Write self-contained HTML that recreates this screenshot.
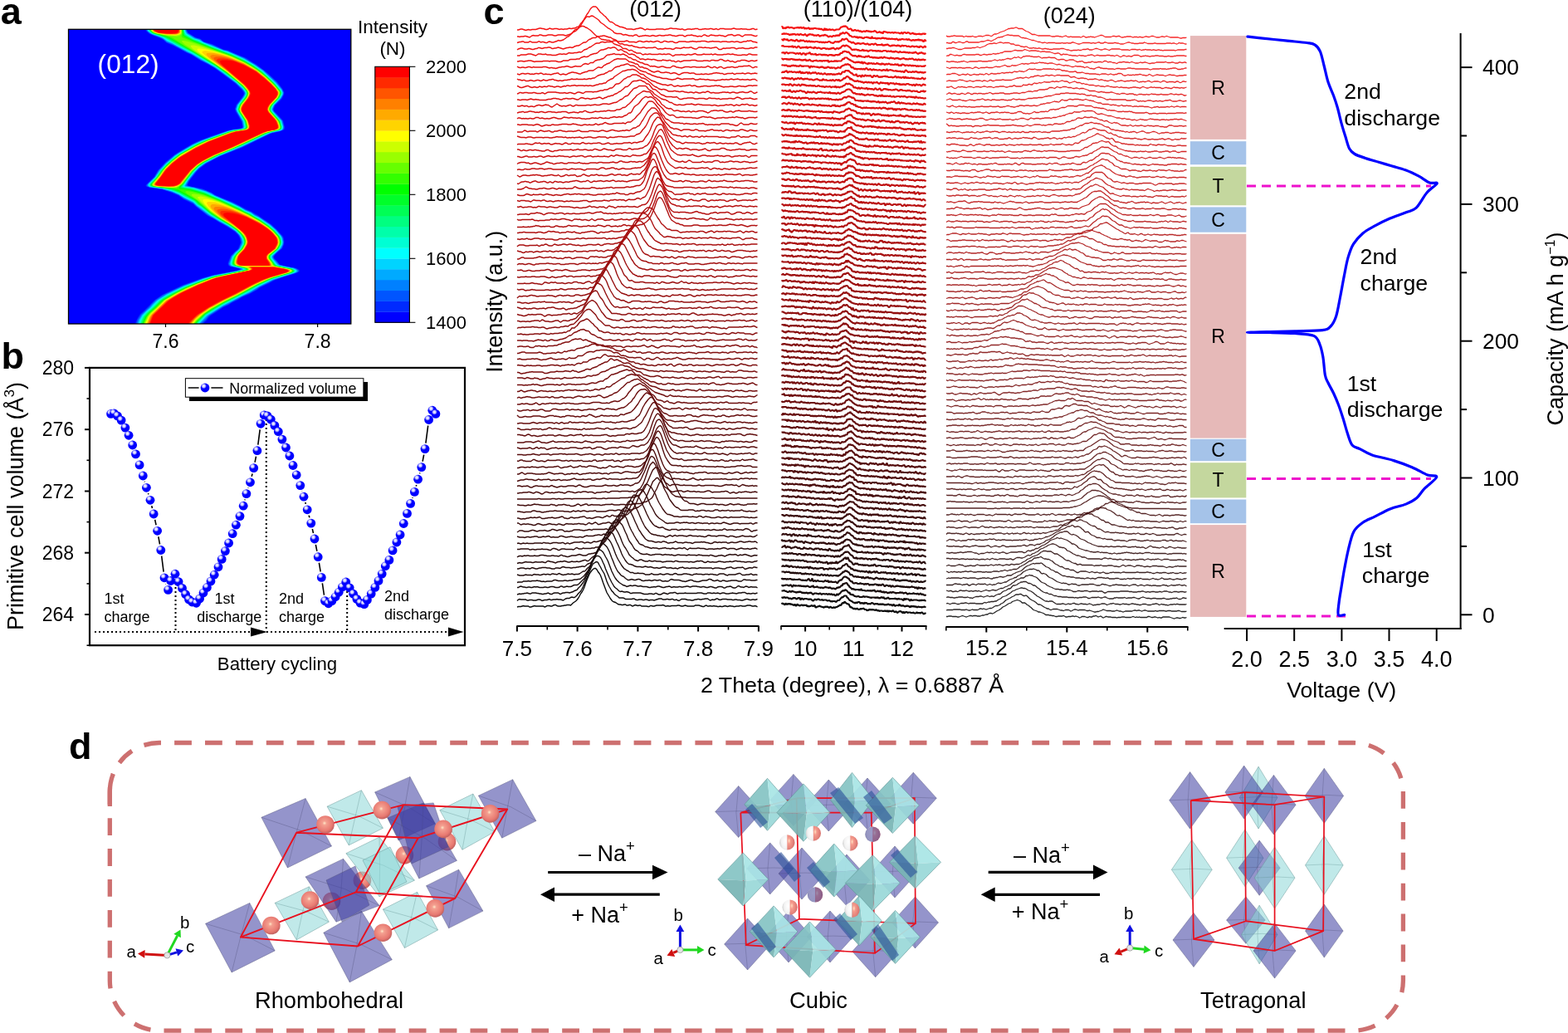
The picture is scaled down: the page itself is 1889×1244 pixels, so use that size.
<!DOCTYPE html>
<html><head><meta charset="utf-8"><title>Figure</title><style>html,body{margin:0;padding:0;background:#fff;overflow:hidden}svg{display:block}.wf path{vector-effect:non-scaling-stroke}</style></head><body>
<svg width="1889" height="1244" viewBox="0 0 1889 1244" font-family="'Liberation Sans', Arial, Helvetica, sans-serif">
<rect x="82.5" y="35.3" width="340.3" height="354.7" fill="#0000ff"/>
<clipPath id="hmclip"><rect x="82.5" y="35.3" width="340.3" height="354.7"/></clipPath>
<g clip-path="url(#hmclip)">
<path fill="#002aff" d="M244 391l-82 0 4-8.5 2.5-4 4-3.5 14-14 9-6 24-11.5 24-8.5 13.5-4 27.5-5 4.5-1.5 0-0.5-1-0.5-11-2.5-2-1.5-0.5-2 0.5-2 3-7.5 5-5 3-2.5 1-1.5 3-7-0.5-2.5-1-3.5-2.5-4-4-3.5-11-7-7.5-4-4.5-3-9.5-5-13.5-10.5-3-3-12-6-6-4.5-8-3.5-11-3.5-17-3-3-1-0.5-1.5 10-10 5-8 9-10 11-9 14-8.5 7-4 7-3.5 15.5-6 21-7 13.5-2 3-1 0.5-1.5-1-6-7.5-12.5-0.5-3 1.5-5 6.5-8 2.5-4 0-2-2-3.5-7.5-7.5-25.5-19-8-4.5-9-4.5-11-7-6-2.5-7-4-9-4.5-8-3.5-4-3.5-2.5-1.5-8-3-6.5-3-3.5-3-1.5-3 50.5 0 0.5 2.5 1.5 2.5 8.5 5.5 6.5 2 2.5 2.5 2 1 9 2.5 14 6.5 5 1 9 4.5 12.5 4.5 2.5 1.5 5 4 5 2.5 15 11.5 10.5 9.5 6 8 2.5 5-0.5 2.5-2 4.5-2.5 3-6 5.5-2 4.5 1 2.5 10.5 11 2 8 0 2-1 1.5-3.5 1.5-9.5 2-3 1-33.5 16.5-27 10.5-17 9-8.5 6.5-3.5 3.5-8.5 11-2 4.5 1 1 1 0.5 16.5 3.5 10.5 4.5 4.5 3 15 6.5 5.5 1.5 8.5 4.5 7.5 4 6.5 3 8 4.5 16.5 11.5 6 5.5 8 8.5 1 2.5 0.5 4.5-0.5 3-2 4.5-2 2-5.5 4.5-2 2.5-0.5 2 1 1.5 3.5 3.5 2 3 1.5 1 19 4 3.5 2 0.5 1.5-2 1.5-5 2-13.5 4-9.5 3.5-6.5 3.5-11.5 5.5-4 3-9 5-8.5 3.5-4.5 3-7.5 3.5-4.5 3-6 2.5-8.5 6-6.5 4-2.5 2.5-2.5 3.5-3.5 3-1.5 2z"/>
<path fill="#0055ff" d="M242.5 391l-79 0 2-6 4-6 10-9.5 3-3.5 4.5-4.5 8.5-6 25.5-12 23.5-8.5 12.5-3.5 27-5 6-2 0-0.5-0.5-0.5-12-3-1.5-1-1-2 3.5-9 4.5-5 4-3 1-1.5 2.5-7-1-5.5-2.5-4-4-4-9.5-6-10-5.5-4.5-3-8.5-4.5-14-11-3.5-3.5-11.5-5.5-6.5-4.5-8.5-3.5-11-3.5-15.5-2.5-3-1-0.5-1.5 1.5-2 8-7.5 4.5-8 9-9.5 11-9.5 9.5-6 13-7.5 8-3.5 13-5 20.5-7 6.5-1.5 9-1 2-1 0.5-1.5-1-6-7-12.5-1-3 2-5 6-8 2.5-4 0.5-2-1-2-2-2.5-7.5-7.5-25-18-8.5-5-9-4.5-11-7-5.5-2.5-17-9-7.5-3-3-3-2.5-1.5-3-1.5-7-2.5-4.5-2-3.5-3-1.5-3 48.5 0 1 3 1.5 2.5 9 5.5 6 1.5 3 3 2 1 9 2.5 13.5 6.5 5.5 1 20 8.5 13.5 8 9 6.5 6 5 10.5 10 6.5 8 2 4.5-0.5 2.5-2.5 4.5-8 8-1 2.5-1 2.5 1 2.5 9 9.5 1.5 2 2 7.5-0.5 2-1 1.5-3.5 1.5-11 2.5-10 4.5-24.5 12-27 11-17.5 9-8 6-3.5 4-8.5 11-2.5 5 1.5 1 16.5 3.5 5.5 2 6.5 3 4 2.5 20.5 8.5 9 4.5 7.5 4.5 7 3 4 2.5 4 2 15 10 6.5 6 7 8 1.5 2.5 1 5-0.5 3-2 4.5-7.5 6.5-2 2.5-0.5 1.5 0.5 2 4 4 3 3.5 5 1.5 14 2.5 3.5 2 0.5 1.5-1.5 1.5-4.5 1.5-13 4-11.5 4-5.5 3-11.5 5.5-3.5 3-7.5 4-10 4.5-5 3-7 3.5-5 3-5.5 2.5-16.5 10.5-2 2-2 3-5 4.5-1 1.5z"/>
<path fill="#0080ff" d="M241.5 391l-77 0 2-5.5 4-6.5 9.5-9 3.5-4 4.5-4.5 7-4.5 5-3 21-10 23.5-8.5 12-3.5 28.5-5.5 6-2 0-1-2-0.5-11-2.5-1.5-1.5-0.5-1.5 3-9 4.5-5 3.5-3 1.5-1.5 2.5-6.5 0-2-1-3.5-2-4-4.5-4.5-9-6-10.5-6-13-7.5-14-10.5-4.5-4.5-10.5-5-7-4.5-8-3.5-12.5-3.5-14-2-2.5-1-1-1.5 1.5-2 8-7.5 5-8.5 8-8.5 11-9 4-3 17.5-10.5 10-4.5 32-11.5 6-1.5 10-1.5 3-1 0-1.5-1-6.5-7-12-1-2.5 2-5.5 6.5-8.5 2-3.5 0.5-2-1-2-2.5-3-7.5-7-16.5-12.5-8.5-6-8-5-9-4.5-11.5-7-5-2-17.5-9.5-7-3-3.5-3-2.5-1.5-10-4-4-1.5-3.5-3-1.5-3 47.5 0 1 3 1.5 2.5 9 5.5 6 2 4.5 3.5 9.5 3 14.5 6.5 5 1 19.5 8.5 13.5 8 9.5 6.5 16 15 6.5 8 2 4-0.5 2.5-2.5 4.5-8 8-2 5 0.5 1.5 0.5 1.5 10.5 11 2 7.5-0.5 2-1 1-3 1.5-12 3-34 16.5-27.5 11-16 8.5-8.5 6-4 4.5-8.5 10.5-3 6 1.5 0.5 9.5 2 13 4 6.5 2.5 4.5 3 20 8.5 9.5 4.5 7.5 4.5 6.5 2.5 4 3 5 2.5 14 9.5 7 6 6.5 7.5 1.5 2.5 1 5-0.5 3-2 4.5-2.5 2-5 4.5-2.5 2.5-0.5 1.5 1 2 7 7.5 18.5 4 3.5 2 0.5 1.5-1.5 1.5-4 1.5-16.5 5-8.5 3-4.5 2.5-11.5 5.5-11 7-10.5 4.5-17 9.5-5.5 2.5-17 11-4 4.5-5 4.5-1 2z"/>
<path fill="#00aaff" d="M240.5 391l-75 0 1.5-5 4-6.5 9.5-9 3.5-4 4.5-4.5 12-7.5 21-10 23.5-9 12-3.5 27-5.5 6-1 2-1-0.5-1-1.5-0.5-11-2.5-2-1.5-0.5-1.5 3-8.5 4.5-5 4-4 3.5-6 0.5-2.5-1-4-2.5-4.5-4.5-5-9-6-11-5.5-12-7.5-15-11-4.5-4.5-10.5-5-6.5-4.5-8.5-3.5-11.5-3.5-14.5-1.5-2-1-1-1.5 1-2 7.5-7.5 6-8.5 7.5-8 10.5-9.5 4.5-3 17-10 10.5-5 32-11.5 6.5-1.5 9-1 3-1.5 0.5-1.5-1-6.5-7-11.5-1-3 1.5-5 7.5-9.5 1.5-3 0.5-2-1-2-2.5-3.5-7.5-7-17-12.5-8-5.5-8.5-5-8.5-4.5-11.5-7-5-2.5-18.5-10-6.5-2.5-5-4-3.5-2-7.5-2-3-1.5-4-3-1-3 46 0 1 3.5 1.5 2.5 9 5.5 6 2 5 3 9 3.5 14.5 6 5.5 1.5 19 8 13.5 8.5 10 6.5 15.5 14.5 7 8.5 1.5 3.5-0.5 2.5-2.5 4.5-8 8-1 2-1 3 0.5 1.5 1 1.5 10 11 1.5 7 0 2-0.5 1.5-3.5 1.5-9 2-3 1-33.5 16-27 11-17.5 9-7.5 5.5-5 5-8 10.5-3.5 6 1 1 10.5 2 13.5 4 6.5 2.5 4.5 3 19.5 8 10 5 7 4 7 3 4 3 5 2.5 13.5 9 7 6 6.5 7.5 1.5 2.5 1 5-0.5 3-2.5 4.5-9.5 9-0.5 1.5 1 2 7 8 18 3.5 3.5 2 1 1.5-2 1.5-4 1.5-24 7.5-16.5 8-11 7-10.5 5-22 11.5-18 11.5-9 9-1 2z"/>
<path fill="#00d4ff" d="M239.5 391l-73 0 1.5-5.5 3.5-6 5-5 4.5-3.5 3.5-4.5 5-4.5 11.5-7.5 21-10 23-8.5 12.5-4 27-5 8-2.5 0.5-0.5-2-1-8-2-3.5-1-1.5-1-0.5-1.5 2.5-8.5 4-5 4.5-3.5 3.5-6.5 0.5-2.5-1-4-3-5-4.5-4.5-9-6-10.5-6-11.5-7-12-9-3.5-2.5-4.5-4-11-5.5-6.5-4-8-3.5-12-3.5-14-2-2.5-1-0.5-1.5 1.5-2 7-6.5 6-9 7-8 10.5-9 4.5-3 17.5-10.5 11-5 31.5-11.5 6.5-1.5 9.5-1 2.5-1 1-2-1.5-6.5-7-11.5-1-3 1.5-5 7.5-9.5 1.5-3 0.5-2-1-2-3-3.5-7.5-7-16.5-12.5-8.5-6-16.5-9.5-12-7-4.5-2-19-10.5-6-2.5-5-4-4-1.5-7.5-2.5-3-1.5-3.5-2.5-1-3 45 0 1 3.5 1.5 2.5 9 6 6 1.5 5 3 24 10 5.5 1.5 18.5 8 14 8 9.5 7 15.5 14 7 8.5 1.5 3.5 0 2-2.5 4.5-8 8.5-1.5 2.5-1 2.5 0.5 1.5 1 1.5 10 11 2 7-0.5 2-0.5 1.5-3 1.5-9 1.5-3.5 1.5-33 15.5-27.5 11.5-17.5 9-7.5 5.5-4.5 5-8.5 10.5-3.5 6.5 1 0.5 10.5 2 14 4 10.5 5.5 19.5 8.5 10.5 5 7 4 6.5 3 4.5 3 5.5 2.5 12.5 8.5 7 6.5 6.5 7 1.5 2.5 1 5-0.5 3-2.5 4.5-9.5 9-0.5 1.5 0.5 2 7 8 18.5 4 3.5 1.5 0.5 1.5-2 1.5-3 1-24.5 8-16 8-11 6.5-10 5-22.5 11.5-19 12-8.5 8.5-1 2.5-0.5 0z"/>
<path fill="#00ffff" d="M239 391l-72 0 2-5.5 3.5-6 4.5-4.5 4-3.5 9-9.5 11.5-7 20.5-10 23.5-9 12-3.5 27.5-5.5 8-2 0.5-1-1.5-1-8.5-2-3.5-1-1.5-1-0.5-1.5 0-2 2.5-6.5 4-4.5 4.5-4 3.5-6.5 0.5-2.5-1-4-3-5-4.5-4.5-9-6-11-6.5-11-6.5-12-9.5-3.5-2-5-5-11-5-6.5-4-8-3.5-11.5-3-14-2-2.5-1-0.5-1.5 1-1.5 7-7 6.5-9 7-7.5 10.5-9.5 4.5-3 17-10 11.5-5.5 31.5-11.5 6.5-1.5 9.5-1 2.5-1 0.5-2-1-6.5-7-11.5-1-3 1.5-5 7.5-10 1.5-2.5 0-2-0.5-2-3-4-7.5-7-17-12.5-8.5-6-28-16.5-19-9.5-5-3-6-2.5-5-3.5-14-5.5-3.5-2.5-1-3 44 0 1 3.5 1.5 3 9 5.5 6.5 2 5 3 24 9.5 4.5 1 5.5 2.5 15.5 7 12 7 10 7 14.5 14 7.5 8.5 1.5 3.5 0 2-2.5 4.5-8 8.5-2.5 5 0.5 1.5 1 1.5 10 11.5 2 6.5 0 2-1 1.5-3 1-9 2-5 2-31.5 15-27.5 11.5-16.5 8.5-7.5 5.5-5.5 5.5-8 10-4.5 7 1.5 1 9.5 1.5 15 4.5 10.5 5 20 8.5 10.5 5 7 4.5 6.5 2.5 4.5 3.5 5.5 2.5 12.5 8.5 7 6 6.5 7.5 1 2.5 1 4.5-0.5 3-2.5 4.5-9.5 9-0.5 1.5 0.5 1.5 7 8.5 3 1 15.5 3 3 1.5 1 1.5-2 1.5-3 1-21.5 6.5-3.5 1.5-15 7.5-12 7-31.5 16-19.5 12-8.5 9-1.5 2.5z"/>
<path fill="#00ffd4" d="M238.5 391l-70.5 0 1-4 2.5-5.5 5-5.5 5-4.5 9.5-9.5 6-4 9-5 16.5-8 28-10.5 7.5-2 26-5 10-2.5 0.5-1-2-1-8.5-2-3.5-1-1.5-1-0.5-1.5 0.5-2.5 2-6 4-4.5 4-4 3.5-6 1-3-1-4-3-5-5-5-9-6-21.5-12.5-12-9.5-4-2.5-3-3-2-1.5-10.5-5.5-6.5-4-9-3.5-10-2.5-14.5-2-2.5-1-0.5-1.5 1-1.5 7-7 6-9 7-7.5 11-9.5 4.5-3 17-10 11.5-5.5 31-11 6-1.5 10-1.5 3-1 0.5-2-1-6.5-7-11.5-1-3 1.5-5 7.5-10 1.5-2.5 0-2-0.5-2-3.5-4-7.5-7-16.5-12.5-8.5-6-28.5-16.5-29.5-15.5-5-3.5-14-5-3.5-2.5-1-3 43.5 0 0.5 4 2 3 9 5.5 6 2 4.5 2.5 14 5.5 11 4.5 5 1.5 5.5 2 15 7 12 7 9.5 7 14.5 13.5 8 9 1 3 0 2.5-2.5 4-8 8-2 5.5 0 1.5 1.5 2 10 11 1.5 7-0.5 2-0.5 1-2.5 1-9 2-5.5 2-31 15-28 11.5-16.5 8.5-7.5 5-5.5 6-8 10-4.5 7 0.5 1 1 0 9.5 1.5 15.5 5 10.5 5 19.5 8.5 11 5 6.5 4 6.5 3 4.5 3 6 3 12 8 7 6 6 7 1.5 3 1 4.5-0.5 3-2.5 5-9.5 8.5-0.5 1.5 0.5 2 6 7.5 1.5 0.5 17.5 4 3.5 1.5 0.5 1.5-1 1-3 1.5-24.5 7.5-16 7.5-11.5 7-31.5 16-20 12-9 9.5-1 2.5z"/>
<path fill="#00ffaa" d="M237.5 391l-68.5 0 1-4 2.5-5.5 4-5 5.5-4.5 9.5-9.5 5.5-4 9.5-5 16.5-8 27.5-10.5 7.5-2.5 27-5 9.5-2.5 0.5-1-1.5-1-12-3-2-1.5-0.5-1.5 1.5-5.5 1-2.5 3.5-4 4.5-4.5 3.5-6 0.5-3-0.5-4-3-5-5.5-5-8.5-6-11.5-6.5-10.5-6.5-12-9.5-3.5-2-3-3.5-2-1.5-11-5.5-6.5-3.5-8.5-3.5-9.5-2.5-15-2-2.5-1-0.5-1.5 1-1.5 6.5-6.5 6-9 7-7.5 6.5-6 9-6.5 17-10 12.5-6 30-11 6.5-1.5 9.5-1.5 3.5-1 0.5-2-1-6.5-7.5-11.5-0.5-3 1.5-5 7.5-9.5 1-3 0.5-2-1-2-3-4-7.5-7-16.5-12.5-9-6.5-28-16.5-19-9.5-15.5-9-14.5-5-3-2.5-1-3 42.5 0 0.5 4 1.5 3 9.5 5.5 6 2 5 3 14 5.5 21.5 8 14.5 6.5 12 7 10 7 14 13.5 8 9 1.5 3-0.5 2.5-2 4-8 8-2 3-0.5 2.5 0.5 1.5 1 2 10 11 1.5 7 0 2-1 1-2.5 1-9 2-6 2-30 14.5-28.5 12-16.5 8.5-7 5-6 6-8 10-4.5 6.5-0.5 1 2 1 9 1.5 16.5 4.5 10 5 19.5 8.5 12 6 6 3.5 6.5 2.5 4.5 3.5 6 3 12 8 7 6 6 7 1.5 2.5 0.5 4.5-0.5 3-2.5 5-9.5 8-0.5 2 0.5 2 6 7.5 1.5 1 18 3.5 3 1.5 0.5 1.5-1.5 1-2.5 1.5-25 7.5-15 7.5-12 7-30.5 15.5-20.5 12.5-9 9-1.5 3-0.5 0z"/>
<path fill="#00ff80" d="M237 391l-67.5 0 1-4 2.5-5.5 4-4.5 6-5 9.5-9.5 5-4 9.5-5 16-8 28-10.5 7-2 34-7 3.5-1 0.5-1-2-1-12-3-2-1.5-0.5-1.5 1-5 1.5-3 3-4 5-4.5 3.5-6 0.5-3-0.5-3.5-3-5-5.5-5.5-9-6.5-21.5-12.5-12-10-4-2-4.5-4.5-11-5.5-6.5-4-9-3.5-8-2-16-2.5-2.5-0.5-0.5-1.5 1-1.5 6.5-7 6-8.5 6.5-7 7-6.5 9-6.5 21-12 15-6.5 24-8.5 6-1.5 9.5-1 3.5-1.5 0.5-1 0-1.5-1.5-6.5-7-11-1-3 2-5.5 7.5-10 1-2 0.5-2-1-2.5-3.5-4-7.5-7-16-12-9.5-7-28-16.5-19-9.5-14.5-8.5-15-5-3-2.5-1.5-3 42 0 1 4.5 1.5 3 9 5.5 6 2 5 2.5 14 5.5 22 8.5 14.5 6.5 12 7 9.5 7 14 13 8 9 1.5 3-0.5 2-2 4.5-8 8-1.5 3-1 2.5 0.5 1.5 1 2 10 11 2 6.5-0.5 2-0.5 1-2.5 1.5-10 2-5.5 2-29.5 14-29 12.5-15.5 8-7.5 5-6.5 6.5-13 17.5 0.5 0.5 1.5 1 9.5 1 15.5 5 11 5 10.5 4.5 20 9 6.5 4 6.5 3 4.5 3 7 3.5 11 7.5 7 6 6 7 1.5 2.5 1 4.5-0.5 3-3 5-9 8-1 2 1 2 5.5 7.5 1.5 1 18 3.5 3 1.5 0.5 1.5-1.5 1-2.5 1-21 6-4 2-14.5 7-12.5 7-30 15.5-21.5 13-9 9-1.5 3z"/>
<path fill="#00ff55" d="M236.5 391l-66.5 0 1-3.5 3-6 3-4 9-8 7-7 5-3.5 10-5.5 15-7.5 29-11 6.5-2 33-7 4.5-1 0.5-1-1.5-1-12.5-3.5-2-1-0.5-1.5 1-4 1.5-4 3-4 5-4.5 3.5-6 0.5-3-1-4-3-5-5-5.5-9-6-11.5-6.5-10.5-6.5-11.5-9.5-3.5-2-5-5-18-9.5-8.5-3.5-8.5-2-15-2-2.5-0.5-1-1.5 1-1.5 6.5-7 6.5-9 6-6.5 6.5-6 9-7 21.5-12 14-6 24.5-9 6.5-1.5 9.5-1 3.5-1.5 0.5-2.5-1.5-6.5-7-11-1-3 2-5.5 7.5-9.5 1-2.5 0-2-1-2.5-3-4-7.5-7-16-12-9.5-7-28-16.5-33-18-15.5-5-3-2.5-1.5-3 41 0 1 4.5 1 3 2 1.5 7.5 4 25.5 10.5 22 8 14.5 7 11.5 6.5 10 7 14 13 7.5 9 1.5 3-0.5 2.5-2 4-7.5 8-2 3-0.5 2.5 0 1.5 1.5 2 9.5 11 2 6.5 0 2-1 1-2.5 1-10 2.5-5.5 2-29.5 14-29 12.5-15.5 8-7 4.5-7 7-10.5 14-2.5 3-0.5 1 2 1 9.5 1.5 16.5 5 20.5 9 21 9.5 6.5 4 6 2.5 12 7 11 7.5 7 6 6 6.5 1 2.5 1 4.5-0.5 3-3 5-9 8-1 2 1 2 5.5 7.5 1.5 1 3 1 15 2.5 2.5 1.5 1 1.5-1 1-2.5 1-20.5 6-5 2-14.5 7-13 7-29 15-21.5 13-9 9-2 3.5z"/>
<path fill="#00ff2a" d="M235.5 391l-64.5 0 1-3 2.5-6.5 3.5-4 17-16 14-8 14.5-7.5 14.5-5.5 15.5-6 5.5-1.5 33-6.5 4.5-1.5 0.5-1-1.5-1-12.5-3.5-2-1-0.5-1.5 0.5-4 2-4 2.5-3.5 5-5 3.5-6 1-3-1-4-3-5-5.5-5.5-9-6-11.5-7-9.5-6-12.5-10-3.5-2-3-3.5-2-1.5-18-9.5-8-3-9.5-2-14-2-2.5-0.5-1-1.5 1-1.5 6.5-7 6.5-9 5.5-6.5 6.5-5.5 9-7 21-12 13.5-6 25.5-9 6-1.5 10.5-1.5 3.5-1.5 0.5-2.5-1.5-6.5-7-11-1-3 2-5.5 7-9.5 1-2.5 0.5-2-1-2.5-3-4-8-7-15-12-10.5-7-28-17-32-17.5-16.5-5.5-2.5-2-1.5-3 40.5 0 0.5 4.5 1 3.5 2 1 7 4 26 11 22 8 15 7 11.5 6.5 9 6.5 7.5 6 10.5 10.5 4.5 6 1.5 2.5-0.5 2-2 4-8 8.5-2 3-0.5 2.5 0 1.5 1.5 2 8 8.5 2 3 1.5 6 0 2-0.5 1-3 1-10 2.5-5.5 2-29 14-29.5 12-15.5 8.5-6.5 4.5-7 6.5-14 18.5 0.5 1 1.5 0.5 10 1.5 16.5 5 21 9 20.5 9.5 6.5 3.5 6 3 12 7 10.5 7 7 6 6 6.5 1 2.5 1 4.5-0.5 3-2.5 5-9.5 8-0.5 2 0.5 2 3.5 4.5 2 3 1 1 3 1 16 3 2 1 1 1.5-1 1-2.5 1-20.5 6-5.5 2-14 6.5-16.5 9.5-25 12.5-12.5 7.5-9.5 6-9 8.5-1.5 2.5-0.5 1.5-0.5 0z"/>
<path fill="#00ff00" d="M235 391l-63.5 0 1-2.5 3-7 3.5-4 8.5-7.5 4.5-5 4-3.5 14-8 14-7 14-6 15.5-5.5 6-2 33-6.5 5-1.5 0.5-1-1.5-1-11-2.5-2.5-1-1.5-1.5-0.5-1.5 1-4 1-3.5 3-3.5 5-5 3.5-5.5 0.5-3.5-0.5-4-3-5-5.5-5.5-9-6.5-12-6.5-10.5-7-14.5-11.5-5-4.5-18-10-7-3-9.5-1.5-15-2-2.5-0.5-1-1.5 0.5-1.5 7.5-7.5 5.5-8.5 5.5-6 7-6 9-7 21-12 12.5-5.5 26-9.5 6.5-1.5 10-1.5 3.5-1.5 0.5-1 0-1.5-1.5-6.5-7-11-1-3 2-5.5 7.5-9.5 1-2.5 0.5-2-1-2.5-3.5-4.5-7.5-6.5-15-12-11-7.5-27.5-16.5-29.5-17-5-2-11.5-3-3-1-2.5-2.5-1-2.5 39.5 0 1 7.5 1 1.5 2 1 8 4 11 4.5 14 5.5 22.5 8.5 14.5 6.5 12 7 9 6.5 14 13 8 9 1 2.5-0.5 2-2 4-8 8.5-1.5 3-1 2.5 0.5 1.5 1 2 8 8.5 2 3 2 6-0.5 2-0.5 1-2.5 1-9.5 2-5.5 2-29.5 14-29 12.5-16.5 8.5-6.5 4.5-7 6.5-10 14-3.5 3.5-1 1.5 0.5 1 1.5 0.5 10.5 1.5 16.5 4.5 20.5 9 33.5 16 12.5 7 10.5 7.5 6.5 5.5 6 6.5 1.5 2.5 1 4.5-1 3-2.5 5-9.5 8-0.5 2 0.5 2 6.5 8.5 3.5 1 15 3 2.5 1 1 1.5-1.5 1-2 1-20.5 6-5.5 2-13.5 6.5-24.5 13-16.5 8.5-14 8-8.5 5.5-9.5 9-2.5 4z"/>
<path fill="#33ff00" d="M234.5 391l-62 0 0.5-2.5 3.5-7 3-4 8-7 4.5-5 4.5-4 14-8 13.5-7 14-5.5 16.5-6 5-1.5 34-7 4.5-1.5 0.5-1-1.5-1-13.5-3.5-1.5-1.5-0.5-1.5 0.5-4 1.5-3.5 2.5-3.5 5.5-5 3-5.5 1-3.5-0.5-4-1.5-2.5-2-3-6-5.5-8-6-12.5-7-10.5-7-14-11.5-4-4-21.5-12.5-7.5-1.5-21-2.5-3-1-1-1 0.5-1.5 7.5-8 5-7.5 5.5-6 7-6.5 9.5-7 20.5-11.5 13-6 26-9.5 6-1.5 10-1.5 3.5-1 1-1 0-1.5-1.5-6.5-1.5-3-5.5-8.5-1-3 2-5.5 7-9 1.5-3 0-2-1.5-3.5-5-5.5-19-16-12.5-8.5-55.5-33-4-1.5-16.5-4.5-3-2.5-0.5-2.5 38.5 0 0.5 8 1 1 1.5 1 10 5 24 9.5 23 8.5 14.5 6.5 12.5 7.5 8.5 6 13.5 12.5 8 9 1 2.5 0 2-2 4-8 8.5-2 3-0.5 2.5 0 1.5 1.5 2 7 8 2.5 3.5 2 6 0 2-1 1-2.5 1-8.5 2-6.5 2-29.5 14-29 12.5-16.5 8.5-6 4-7 7-10.5 14-5 4.5-0.5 1.5 0.5 1 1 0 11.5 1.5 16 4.5 21 8.5 34.5 16.5 12.5 7 10 7 6.5 5.5 6 6.5 1.5 2.5 1 4.5-0.5 3-3 5-9.5 8-0.5 2 0.5 2 6.5 8.5 3.5 1 15 3 2.5 1 0.5 0.5 0 1-1 1-2 1-20.5 5.5-5.5 2.5-13.5 6-24 13.5-16.5 8-14 8-9 6-9.5 9-2.5 4z"/>
<path fill="#66ff00" d="M212.5 226.5l-5 0-19.5-2-3.5-0.5-1-0.5-0.5-1 0.5-1.5 7.5-8.5 5-7 4.5-5 7.5-7 9.5-7.5 21-11.5 13-6 26-9.5 6-1.5 9.5-1 4-1.5 0.5-1 0.5-1.5-1.5-7-7.5-11-0.5-3 2-5.5 7-9 1-3 0.5-2-1.5-3.5-5-5.5-19.5-16-13.5-9.5-36.5-22-15-10-4.5-1.5-17.5-4.5-3.5-2-1.5-3 38 0 0.5 5.5-1 3.5 1 1.5 12 5 24 9 22 8 17.5 8 14.5 8.5 10.5 8.5 12 12 4.5 5.5 1 2-0.5 2-2 4-8 8.5-2 3-0.5 2.5 1 3 8 8.5 2.5 3.5 1.5 6 0 2-1 1-2.5 1-9 2-6 2-29.5 14-29 12.5-15.5 8-6.5 4-6.5 6.5-12 15.5-5.5 4.5-2 1zM233.5 391l-60.5 0 0.5-2.5 3.5-7 3.5-4.5 7.5-6.5 9.5-9 13.5-8 13.5-6.5 29-11.5 6-2 34.5-7 4-1.5 1-1-2.5-1.5-12-3-2-1-0.5-1.5 0.5-3.5 1.5-4.5 2.5-3.5 5.5-5.5 3.5-6.5 0.5-2.5-0.5-3-1-2.5-2-2.5-3-3.5-4-3.5-8-5.5-19.5-12-5.5-4-15-13.5-12-7.5-2.5-2.5 2-1 6.5 1 13.5 3.5 20.5 8 34 16 13 7.5 10.5 7 6 5 5.5 6.5 2 3 0.5 4-0.5 3.5-3 4.5-9.5 8-0.5 2 0.5 2 4 4.5 1.5 3 1.5 1 3.5 1 14.5 3 2.5 1 1 1-1 1-2.5 1-19.5 6-6.5 2.5-13 6-24.5 13.5-15.5 7.5-15 8.5-8.5 5.5-9 8.5-3 3-0.5 2-0.5 0z"/>
<path fill="#99ff00" d="M213 44l-10.5-1-14.5-3-2.5-1-2-1-1.5-1.5-0.5-2 37.5 0 0 5-0.5 1.5-2 2-3.5 1zM212 226l-6 0-17.5-1.5-3.5-0.5-1-0.5-0.5-1 0.5-1.5 8-9 4.5-6.5 4-4.5 7.5-7 9.5-7.5 17-9.5 14-7 29-11 5.5-1 12.5-2 2-1.5 1-1.5-2-8-7-10.5-1-3 2-5.5 6.5-8 2-3.5 0-3-1.5-3-5-6-20.5-17-13.5-9-21-13-15-10-3.5-3.5 0.5-1 2 0 5 1 10 3 43.5 15.5 14 6.5 9 5 9 6 8.5 7 10 9.5 5 6.5 1.5 2 0 2-2 4-2 2.5-6.5 6.5-2 3.5-0.5 2.5 1.5 3 9.5 11 2 4 0.5 3.5-0.5 1.5-1.5 1-11 2.5-5.5 1.5-38.5 18.5-20.5 8.5-15.5 8-6 4-7.5 7-12 15.5-4 3-3 1.5zM233 391l-59 0 0.5-2.5 3.5-7.5 3.5-4 7-6 9.5-9.5 14-8 13-6.5 29-11.5 6-2 35-7 3-1 1-0.5 0.5-1-2.5-1.5-12.5-3-1.5-1.5-0.5-1.5 0.5-4 1.5-4 2.5-3 5.5-5.5 3-6 0.5-2.5 0-2.5-1-2.5-1.5-2.5-3.5-4.5-4.5-4-8-5.5-12.5-7.5-12-8.5-14.5-13-7-5-0.5-1 0-1 2.5-0.5 7 1 7.5 2 16 6 10.5 4.5 25 12 13.5 7.5 10.5 7.5 5.5 4.5 5.5 6 1.5 3 1 4-1 3.5-2.5 4.5-9.5 8-0.5 2 0.5 2 3.5 4.5 2 3.5 1 1 3.5 1 14 2.5 3 1 1 1-0.5 1-3 1-19.5 6-6.5 2.5-13 6-24 13-15.5 7.5-16 9-8 5.5-9 8-2.5 3-1.5 2.5z"/>
<path fill="#ccff00" d="M212.5 43l-10.5-0.5-12.5-2-3-1-2.5-1.5-1.5-1.5-0.5-2 36.5 0 0 4.5-0.5 1.5-2 1.5-3.5 1zM212 225.5l-6.5 0.5-16-1.5-4-1-1.5-1 0.5-1.5 6-7 6-8 3.5-4.5 7.5-7 10-7.5 17-10 15-7 28.5-10.5 5.5-1.5 12-2 2-1 1-1.5 0-2.5-2-6-6.5-10.5-1-3 0.5-2.5 1.5-3 6-7.5 1.5-3 1-3-1-3-5.5-6.5-19-16-15.5-11-20.5-13-6-4.5-2.5-3 0.5-0.5 1-0.5 3 0 10.5 2.5 28 9 8 3 12.5 6 9.5 5 8 5.5 9.5 7.5 8 7.5 7.5 9 1 1.5 0 1.5-2.5 5.5-8 8.5-2 3.5 0 2.5 1.5 2.5 9.5 11 1.5 4 0.5 3.5-0.5 1.5-1.5 1-11 2.5-5 1.5-39 18.5-20 8-15.5 8-6 4.5-8 7-12 15.5-3.5 2.5-3 1.5zM232.5 391l-58 0 0.5-2 4-8 3-4 6.5-5.5 9.5-9.5 15.5-9 10.5-5.5 14-6 16.5-6 15-4 26-5 3.5-1 0.5-0.5 0.5-1-2-1.5-13-3-1.5-1-0.5-2 0.5-4 1.5-4 2-3 5.5-5.5 3.5-6 0.5-2 0-2.5-2-5-4-4.5-4.5-4.5-8-5.5-12.5-7.5-12.5-9-9.5-9.5-5.5-6 0-0.5 1-0.5 3-0.5 6.5 1.5 14 4.5 25.5 11 11 5.5 13.5 7.5 8.5 6 6 4.5 3.5 3.5 4 5 1.5 3.5 0.5 3.5-1.5 3.5-2 3.5-9.5 8-0.5 2 0.5 2 3.5 4.5 1.5 3.5 1.5 1 3.5 1 14 2.5 3 1 1 1-1 1-3 1.5-19 5.5-7 2.5-12 5.5-24.5 13.5-15.5 7.5-15.5 8.5-9.5 6.5-8.5 7.5-2.5 3.5-1 2z"/>
<path fill="#ffff00" d="M211 42.5l-10.5-0.5-11-2-3-1-2-1-1.5-1.5-0.5-2 35.5 0 0 4-0.5 2-2 1-4.5 1zM209.5 225.5l-6 0-14.5-1-4-1-0.5-0.5 0-1 8-9.5 4.5-7 3.5-4 7.5-7 10-8 17-9.5 15-7 28.5-10.5 17.5-3.5 2-1 1-1.5-0.5-2.5-1.5-6-7-10.5-0.5-3 0.5-2.5 1.5-3 6-7.5 1.5-3 1-3-1-3-5.5-6.5-18.5-15.5-34.5-24-2.5-2.5-0.5-1.5 1-1 2.5 0 7 1 11.5 3 14.5 4.5 19.5 8.5 16 9.5 10 8 8.5 8 5 5.5 3 4.5 0 2.5-1.5 3.5-8.5 9-2 3.5-0.5 2.5 1.5 3 9.5 11 2 5 0 2 0 1.5-1 1-2 0.5-10 2.5-5 1.5-38 18-21 8.5-14.5 7.5-7 4.5-7.5 7-12.5 16-4 2.5-4.5 1.5zM231.5 391l-56.5 0 0.5-2 4-8 3.5-4 6-5.5 9.5-9.5 15.5-9 24-11 17-6.5 14.5-3.5 26.5-5.5 3.5-1 1.5-1.5-1-1-1.5-1-12.5-2.5-2-1-0.5-2 0.5-4 1.5-4.5 7.5-8 3.5-6 0-4-1.5-5.5-4-4.5-4.5-4-8-6-13-8-12.5-9.5-6.5-7-2-3.5 0-1 1-1 4.5 0 6 1.5 8 2.5 24 10.5 10.5 5 14 7.5 8.5 5.5 6 5 7.5 8 1 3.5 0.5 3.5-1 3.5-2.5 3.5-9.5 8-0.5 2 0.5 2 3.5 4.5 1.5 3.5 1.5 1 3.5 1 14 2.5 2.5 1 1 1-0.5 1-3 1.5-19 5-7 3-11.5 5.5-24.5 13-15.5 7.5-16 9-9.5 6.5-8 7-3.5 4-0.5 2-0.5 0z"/>
<path fill="#ffd400" d="M211.5 42l-11-0.5-10-1.5-3.5-1-2-1-1.5-1.5-1-2 35 0 0 4-0.5 1.5-2 1-3.5 1zM210.5 225l-6.5 0-14.5-1-3.5-0.5-1-0.5 0-1 7.5-9.5 5-7 3-3.5 7.5-7 10.5-8 16.5-9.5 15.5-7.5 28.5-10.5 17-3.5 2.5-1 0.5-1.5 0-2.5-1.5-6-7-10.5-1-3 0.5-2.5 1.5-3 6-7.5 2-3 1-3-1-3-5-6-7.5-6.5-13.5-11.5-25.5-18-4-3.5-0.5-1 0-1 3.5-1 6.5 1 10.5 2.5 11.5 3.5 18 8 15.5 9 10.5 8 8 7.5 5 5.5 3.5 5 0 2.5-2 3.5-8.5 9-1.5 3.5-1 2.5 1.5 3 9.5 11 2 5 0.5 2-0.5 1.5-1 1-2 0.5-10 2.5-4.5 1.5-38.5 18-20.5 8.5-15 7.5-6.5 4.5-7.5 7-12.5 16-3.5 2-4 1.5zM231 391l-55 0 4-10 3.5-4 6-5 10-10 15.5-9 23-11 17.5-6.5 14-3.5 27-5.5 3.5-1 1.5-1.5-1-1-3-1.5-11-2-2-1-1-2 0.5-4 2-4.5 7.5-8 3-6 0.5-3.5-1.5-5-3-4.5-5-5-8.5-6-13-8-10-8-5-5.5-2-3.5 0.5-1.5 2-0.5 8 0.5 5.5 2 9.5 3.5 23.5 10.5 16 9 8 5 5.5 4.5 7 8 1 3.5 0 3-1 3.5-2 3.5-8 6-1.5 2-1 2 0.5 2 3.5 4.5 1.5 3.5 1.5 1 17 3.5 3 1 1 1-0.5 1-3.5 1.5-18.5 5-7 3-11.5 5-24.5 13.5-15.5 7.5-16 9-10.5 7-7 6.5-3 3.5-1.5 2.5z"/>
<path fill="#ffaa00" d="M212 41.5l-11 0-10-1.5-6-2-1-1.5-1-2 34 0 0 3.5-0.5 1.5-1.5 1-3 1zM208.5 225l-6.5 0-12.5-1-3-0.5-1-0.5 0-1 7.5-9.5 6.5-9 6.5-6.5 10-8 19-11 15-7.5 28.5-11 5.5-1.5 12-1.5 2-1 1.5-1.5 0-2.5-2-6.5-6.5-10.5-1-3 0.5-2.5 1.5-3 6-7.5 1.5-2.5 1-3.5-0.5-2.5-3.5-4.5-3.5-4-18.5-15.5-21.5-15.5-3.5-3.5-1-2 1-1 1.5 0 6.5 0 9 2 8.5 2.5 19 8 15.5 9 9.5 8 8 7.5 5.5 5.5 3 4.5 0 2.5-2 3.5-8 9-2 3.5-0.5 2.5 1.5 3 7 8 2.5 3 2 5.5-0.5 3-2.5 1.5-10.5 2-4.5 2-38.5 18-20.5 8.5-14 7-7 4.5-8 7.5-12.5 16-4 2-5 1.5zM327 320l-36.5 0-3.5-0.5-1.5-1-1-1.5-0.5-2 2-6 2-3 5.5-6 3.5-6 0.5-3.5-1-4.5-3.5-5-5-4.5-8.5-6.5-12.5-8-8-6.5-4.5-5-1-2 0.5-1.5 1.5-1 3 0 7 1 9.5 3 12 5 11 5 15 8 9.5 6.5 6 5 5.5 6.5 1 3 0.5 3-1 3.5-2.5 4-8.5 6.5-1.5 2.5 0 3 4 5 1.5 3.5-0.5 0zM230 391l-53 0 3.5-9.5 2-2.5 17.5-17 14.5-8.5 9.5-4.5 29.5-12.5 7.5-2.5 38-8 2.5-1 0.5-1-0.5-1-3-1 1.5-0.5 31.5 0 13.5 2.5 3.5 1 1 1-0.5 1-2.5 1-20 6-7.5 3-11 5-24 13-15 7-16.5 9-11 7.5-6 5.5-4 4.5-1.5 2.5z"/>
<path fill="#ff8000" d="M213 41l-11.5 0-10-1-5.5-2-1.5-1.5-1-2 33 0 0 4.5-1.5 1-2 1zM210 224.5l-6.5 0-13-0.5-3.5-1-1-1 0.5-1.5 7-8 4-6.5 3.5-3.5 7.5-7.5 11-8 16-9.5 16-7.5 27.5-10.5 5-1 12.5-2 2-1 1.5-1.5 0-2.5-2-6.5-7-10.5-1-3 1-2.5 1.5-3 5.5-7.5 1.5-2.5 1.5-3.5-1-2.5-3.5-5-3.5-3.5-18-15.5-19.5-15-2-2.5 0-1.5 2.5-1 6 0.5 6.5 1 7 2 18 7 15.5 9 10 8 8 7.5 5.5 6 2.5 4 0 2.5-1.5 3.5-8.5 9-2 3.5-0.5 2.5 1.5 3 7.5 8 2 3 2 5.5 0 3-3 1.5-10.5 2-4.5 2-37.5 17.5-21.5 9-13.5 7-7 4.5-8 7-13 16.5-3 1.5-4 1.5zM326.5 320l-34.5 0-4-0.5-2.5-1.5-1-1.5 0-2 2-6 1.5-2.5 6-6 3.5-6 0.5-3.5-1.5-4.5-3-5-5-4.5-8.5-6.5-13-8.5-5-4.5-4-4.5-0.5-1.5 0.5-1 1.5-1 2.5 0 7.5 0.5 6.5 2 10.5 4 11 5 15 7.5 9.5 6.5 6 5 5.5 6.5 1 3 0.5 3-1 3.5-2.5 4-8 6.5-2 2.5 0.5 3 3.5 5 1 3.5zM229 391l-51.5 0 4-9.5 1.5-2.5 18-17 16-9.5 21-9.5 15-6 8-3 39-8 2-1 0.5-1-0.5-1-2.5-1 1-0.5 30.5 0 13.5 2.5 3.5 1 1 1-0.5 1-2 1-20.5 6-8 3-15.5 7.5-18.5 10-15.5 7.5-16.5 9-11 7.5-6 5-4.5 5.5-1 2-0.5 0z"/>
<path fill="#ff5500" d="M210 41l-11-0.5-8-1-5-2-1.5-1.5-0.5-1.5 32 0 0 3.5-0.5 1.5-2 1-3.5 0.5zM208.5 224.5l-6.5 0-11-0.5-3.5-1-1-1 0.5-1.5 6.5-7.5 6.5-9.5 7-7 9.5-7.5 18.5-10.5 16-8 28-10.5 5.5-1.5 12.5-2 2-1 1-1.5 0-2.5-1.5-6.5-7-10.5-1-3 0.5-2.5 1.5-3 6-7 1.5-3 1-3.5-0.5-2.5-3-4-3-3.5-18.5-16-15-12-3-3-0.5-1 0-1 2.5-1 6 0 6 1 5.5 1.5 16.5 6.5 15 8.5 10 8 8 7.5 5 5.5 3 4 0 2.5-2 3.5-8 9-2 3.5-0.5 2.5 1 3 7.5 8 2 3 2 5.5 0.5 2-0.5 1-2.5 1.5-10.5 2-5 2-37.5 17.5-21.5 9-13.5 7-7 4.5-7.5 7-13.5 16.5-3.5 2-4.5 1zM326 320l-7.5 0-26 0-4-0.5-2.5-1.5-1-1.5 0-2 2-6 1.5-2.5 6-6 3-6 0.5-3-1-4.5-2.5-4.5-5-5-8.5-7-11.5-7.5-3.5-3-4-4.5-0.5-1.5 0.5-1 4-1 7 0.5 7.5 2 8 3 9 4 15.5 7.5 9.5 6.5 5.5 5 5 6 1.5 3 0 3-1 3.5-2 4-8.5 6.5-1.5 2.5 0 3 3.5 5 1 3.5zM228 391l-49.5 0 3.5-9 1.5-2.5 17.5-17 17-10 20.5-9.5 15-6 6-2 8.5-2 32-7 2.5-1 0.5-1-0.5-1-2-1 1-0.5 28.5 0 13.5 2.5 3.5 1 1.5 1-0.5 1-2 1-20.5 6-8 3-15 7-19 10.5-15 7-16.5 9-12.5 8.5-5 4.5-5 5.5-1 2-0.5 0z"/>
<path fill="#ff2a00" d="M211 40.5l-11 0-8.5-1-5-2-1.5-1.5-0.5-1.5 31.5 0-0.5 3-0.5 1.5-1.5 1-2.5 0.5zM210 224l-6.5 0.5-11.5-1-4-0.5-1-1 0.5-1.5 6-7.5 6.5-9 7.5-7 9-7.5 19-11 16-8 28-10.5 18-3.5 2-1 1-1.5 0-3-2-6-7-10.5-0.5-3 0.5-2.5 1.5-3 5.5-7 1.5-2.5 1.5-3.5-0.5-2.5-2.5-4-4-4.5-30-25.5-3-3-0.5-1 0.5-1 2-1 5.5 0 5 0.5 6 1.5 14 5.5 14.5 8 10 8 8 7 5.5 6 2.5 4 0 2.5-1.5 3.5-8.5 9-2 3.5-0.5 2.5 1.5 3 7.5 8.5 2 2.5 2 5.5 0 2-0.5 1-2.5 1.5-10.5 2-4.5 1.5-38 18-21.5 9-13.5 7-6.5 4.5-8 7-13 16-3 2-3.5 1zM325 320l-32 0-4-0.5-2.5-1.5-1-1.5 0-2 1.5-6 2-2.5 5.5-6 3.5-6 0.5-3-1-4-2-4-4.5-5-9-7.5-14-10.5-2.5-3 0-1 0-1 1.5-1 3 0 8 0.5 8 2 10 4 19 10 9.5 6.5 5 4.5 4 5.5 0.5 3 0.5 2.5-1.5 3.5-2 3.5-8.5 6.5-1.5 2.5 0 3 3.5 5 1 3.5-0.5 0zM227 391l-47.5 0 3.5-9 1-2.5 18-17 6-4 10.5-6 20-9.5 15.5-6 14.5-4 32-7 2.5-1 0.5-1 0-1-2-1 0.5-0.5 27.5 0 13.5 2.5 3.5 1 1.5 1-1 1-2 1-20.5 6-7.5 3-9 4-24.5 13-15.5 7.5-16.5 9-13 8.5-4.5 4-5 5.5-1.5 2.5-0.5 0z"/>
<path fill="#ff0000" d="M206.5 40.5l-9.5-0.5-6.5-1-3.5-1.5-1.5-1.5-0.5-1.5 30.5 0-0.5 3-1 1.5-2.5 1-5 0.5zM208 224l-7 0-10-0.5-2.5-0.5-1-0.5 0-1 13.5-18 6.5-6.5 9.5-7.5 18-10.5 17-8.5 26.5-10 6-2 12-1.5 2.5-1 1.5-1.5 0.5-3-2-6-7-11-1-3 1-2.5 1.5-3 5.5-7 1.5-2.5 1.5-3.5-0.5-2.5-2.5-4-4-4.5-27-23.5-2.5-3-0.5-2 2.5-1 5 0 5 0.5 5.5 1 12 5 13.5 7.5 10 8 7.5 7 5.5 5.5 2.5 4 0 2.5-1.5 3.5-8.5 9-2 3.5-0.5 2.5 1.5 3 7.5 8.5 2 2.5 2 5.5 0 2-0.5 1-2.5 1.5-10 2-5 1.5-37 17.5-22.5 9.5-12.5 6.5-7.5 4.5-8 7.5-13 16-3.5 2-4.5 1zM324.5 320l-30.5 0-4-0.5-3-1.5-0.5-1-0.5-2 1-5.5 2-3 6-6.5 2.5-4 1.5-4-1-4.5-1.5-4-4-4.5-22-18-1.5-2.5 0.5-1.5 1.5-0.5 3-0.5 7.5 1 6 1.5 9.5 3 11 5.5 8 4.5 9.5 6.5 4.5 5 2.5 3 1 2.5 0.5 3-0.5 2.5-3 5.5-8 6.5-1.5 1.5-0.5 2 0.5 2.5 3 5 0.5 3zM226 391l-45.5 0 3-8.5 1.5-3 18.5-17.5 7-4.5 10-5.5 18.5-8.5 14.5-6 6-2.5 8.5-2 32.5-7 2-0.5 2-1.5-0.5-1-1.5-1 26.5 0 13 2 4 1 1 1-0.5 1-2 1-20.5 6-8.5 3-13.5 6.5-18.5 10-20.5 10-12.5 7-13 8.5-9.5 9-1.5 3-0.5 0z"/>
</g>
<rect x="82.5" y="35.3" width="340.3" height="354.7" fill="none" stroke="#000" stroke-width="1.3"/>
<line x1="199.5" y1="390" x2="199.5" y2="394" stroke="#000" stroke-width="1.2"/>
<text x="199.5" y="419" font-size="23" text-anchor="middle">7.6</text>
<line x1="382.6" y1="390" x2="382.6" y2="394" stroke="#000" stroke-width="1.2"/>
<text x="382.6" y="419" font-size="23" text-anchor="middle">7.8</text>
<text x="154.6" y="87.5" font-size="31.7" text-anchor="middle" fill="#fff">(012)</text>
<rect x="451.8" y="375.47" width="41.6" height="13.13" fill="#0000ff"/>
<rect x="451.8" y="362.63" width="41.6" height="13.13" fill="#002aff"/>
<rect x="451.8" y="349.8" width="41.6" height="13.13" fill="#0055ff"/>
<rect x="451.8" y="336.97" width="41.6" height="13.13" fill="#0080ff"/>
<rect x="451.8" y="324.13" width="41.6" height="13.13" fill="#00aaff"/>
<rect x="451.8" y="311.3" width="41.6" height="13.13" fill="#00d4ff"/>
<rect x="451.8" y="298.47" width="41.6" height="13.13" fill="#00ffff"/>
<rect x="451.8" y="285.63" width="41.6" height="13.13" fill="#00ffd4"/>
<rect x="451.8" y="272.8" width="41.6" height="13.13" fill="#00ffaa"/>
<rect x="451.8" y="259.97" width="41.6" height="13.13" fill="#00ff80"/>
<rect x="451.8" y="247.13" width="41.6" height="13.13" fill="#00ff55"/>
<rect x="451.8" y="234.3" width="41.6" height="13.13" fill="#00ff2a"/>
<rect x="451.8" y="221.47" width="41.6" height="13.13" fill="#00ff00"/>
<rect x="451.8" y="208.63" width="41.6" height="13.13" fill="#33ff00"/>
<rect x="451.8" y="195.8" width="41.6" height="13.13" fill="#66ff00"/>
<rect x="451.8" y="182.97" width="41.6" height="13.13" fill="#99ff00"/>
<rect x="451.8" y="170.13" width="41.6" height="13.13" fill="#ccff00"/>
<rect x="451.8" y="157.3" width="41.6" height="13.13" fill="#ffff00"/>
<rect x="451.8" y="144.47" width="41.6" height="13.13" fill="#ffd400"/>
<rect x="451.8" y="131.63" width="41.6" height="13.13" fill="#ffaa00"/>
<rect x="451.8" y="118.8" width="41.6" height="13.13" fill="#ff8000"/>
<rect x="451.8" y="105.97" width="41.6" height="13.13" fill="#ff5500"/>
<rect x="451.8" y="93.13" width="41.6" height="13.13" fill="#ff2a00"/>
<rect x="451.8" y="80.3" width="41.6" height="13.13" fill="#ff0000"/>
<rect x="451.8" y="80.3" width="41.6" height="308" fill="none" stroke="#000" stroke-width="1.1"/>
<line x1="493.4" y1="388.3" x2="500.4" y2="388.3" stroke="#000" stroke-width="1.1"/>
<text x="513" y="395.9" font-size="22">1400</text>
<line x1="493.4" y1="311.3" x2="500.4" y2="311.3" stroke="#000" stroke-width="1.1"/>
<text x="513" y="318.9" font-size="22">1600</text>
<line x1="493.4" y1="234.3" x2="500.4" y2="234.3" stroke="#000" stroke-width="1.1"/>
<text x="513" y="241.9" font-size="22">1800</text>
<line x1="493.4" y1="157.3" x2="500.4" y2="157.3" stroke="#000" stroke-width="1.1"/>
<text x="513" y="164.9" font-size="22">2000</text>
<line x1="493.4" y1="80.3" x2="500.4" y2="80.3" stroke="#000" stroke-width="1.1"/>
<text x="513" y="87.9" font-size="22">2200</text>
<text x="473" y="40" font-size="22.5" text-anchor="middle">Intensity</text>
<text x="473" y="66.2" font-size="22.5" text-anchor="middle">(N)</text>
<text x="0.8" y="29.4" font-size="45" font-weight="bold">a</text>
<rect x="108" y="442.9" width="452" height="334.3" fill="none" stroke="#000" stroke-width="2.2"/>
<line x1="104.5" y1="777.2" x2="108" y2="777.2" stroke="#000" stroke-width="1.6"/>
<line x1="102" y1="740" x2="108" y2="740" stroke="#000" stroke-width="2"/>
<text x="89" y="748" font-size="23" text-anchor="end">264</text>
<line x1="104.5" y1="702.9" x2="108" y2="702.9" stroke="#000" stroke-width="1.6"/>
<line x1="102" y1="665.7" x2="108" y2="665.7" stroke="#000" stroke-width="2"/>
<text x="89" y="673.7" font-size="23" text-anchor="end">268</text>
<line x1="104.5" y1="628.6" x2="108" y2="628.6" stroke="#000" stroke-width="1.6"/>
<line x1="102" y1="591.5" x2="108" y2="591.5" stroke="#000" stroke-width="2"/>
<text x="89" y="599.5" font-size="23" text-anchor="end">272</text>
<line x1="104.5" y1="554.3" x2="108" y2="554.3" stroke="#000" stroke-width="1.6"/>
<line x1="102" y1="517.2" x2="108" y2="517.2" stroke="#000" stroke-width="2"/>
<text x="89" y="525.2" font-size="23" text-anchor="end">276</text>
<line x1="104.5" y1="480" x2="108" y2="480" stroke="#000" stroke-width="1.6"/>
<line x1="102" y1="442.9" x2="108" y2="442.9" stroke="#000" stroke-width="2"/>
<text x="89" y="450.9" font-size="23" text-anchor="end">280</text>
<text transform="translate(27.5,609.5) rotate(-90)" font-size="27" text-anchor="middle">Primitive cell volume (Å<tspan font-size="17" dy="-11">3</tspan><tspan dy="11">)</tspan></text>
<text x="334" y="806.5" font-size="22.2" text-anchor="middle">Battery cycling</text>
<text x="125.5" y="727" font-size="18">1st</text>
<text x="125.5" y="748.5" font-size="18">charge</text>
<text x="258.5" y="727" font-size="18">1st</text>
<text x="237.2" y="748.5" font-size="18">discharge</text>
<text x="336" y="727" font-size="18">2nd</text>
<text x="336" y="748.5" font-size="18">charge</text>
<text x="463" y="724" font-size="18">2nd</text>
<text x="463" y="746" font-size="18">discharge</text>
<path d="M133.6 498.4L137.4 497.8L141.5 500.9L146.1 506.1L150.9 515.1L155.1 524.3L159.7 536L163.5 546.9L168.1 559.9L172.3 573L176.4 587.3L181 602.3L185.2 619L189.6 639.3L193.8 662.5L198 695.8L202.6 710.4L205.7 699.5L211 691.2L215.1 700.6L219.5 708.4L223.6 715.7L227.5 721.9L231.5 725L236.5 726.3L240.6 721L245 714L249.4 707.5L254 700L258.2 692.2L263 682.8L267.2 673.4L271.4 663.6L275.6 654L280.2 642.7L284.4 632.2L289 621.6L293.2 609.2L296.9 594.6L301.5 580.8L305.7 563.6L309.9 542.7L314.1 510.3L318.2 499.9L322.1 500.9L326.3 505.1L330.9 512.4L335.3 519.7L339.9 529.1L344.5 539L348.9 549L353 560.5L357.2 572L361.8 584.6L366 598.2L370.2 613.8L374.8 630.1L379 649L383.2 670.7L387.3 695.4L391.5 723.6L395.7 726.8L399.9 723.6L404.1 718.8L408.2 713.2L412.4 706.9L416.8 701L421.2 707.9L425.6 715.2L429.9 721.4L434 726.2L438.8 727.7L442.4 722.4L447.2 715.1L451.8 707.4L456 699.4L460.2 691.1L464.3 681.7L468.9 674.4L473.1 662.9L477.9 653L482.1 644L486.3 630.5L490.5 618.4L494.6 606.4L499.4 592.4L503.6 577.2L507.8 562.6L512 540.6L516.6 505.5L520.8 494.2L524.9 498.4" fill="none" stroke="#000" stroke-width="1.6"/>
<defs><radialGradient id="ball" cx="0.36" cy="0.3" r="0.7"><stop offset="0" stop-color="#fff"/><stop offset="0.22" stop-color="#c8c8ff"/><stop offset="0.45" stop-color="#0000ff"/><stop offset="1" stop-color="#0000ff"/></radialGradient></defs>
<g fill="#fff"><circle cx="133.6" cy="498.4" r="7.2"/><circle cx="137.4" cy="497.8" r="7.2"/><circle cx="141.5" cy="500.9" r="7.2"/><circle cx="146.1" cy="506.1" r="7.2"/><circle cx="150.9" cy="515.1" r="7.2"/><circle cx="155.1" cy="524.3" r="7.2"/><circle cx="159.7" cy="536" r="7.2"/><circle cx="163.5" cy="546.9" r="7.2"/><circle cx="168.1" cy="559.9" r="7.2"/><circle cx="172.3" cy="573" r="7.2"/><circle cx="176.4" cy="587.3" r="7.2"/><circle cx="181" cy="602.3" r="7.2"/><circle cx="185.2" cy="619" r="7.2"/><circle cx="189.6" cy="639.3" r="7.2"/><circle cx="193.8" cy="662.5" r="7.2"/><circle cx="198" cy="695.8" r="7.2"/><circle cx="202.6" cy="710.4" r="7.2"/><circle cx="205.7" cy="699.5" r="7.2"/><circle cx="211" cy="691.2" r="7.2"/><circle cx="215.1" cy="700.6" r="7.2"/><circle cx="219.5" cy="708.4" r="7.2"/><circle cx="223.6" cy="715.7" r="7.2"/><circle cx="227.5" cy="721.9" r="7.2"/><circle cx="231.5" cy="725" r="7.2"/><circle cx="236.5" cy="726.3" r="7.2"/><circle cx="240.6" cy="721" r="7.2"/><circle cx="245" cy="714" r="7.2"/><circle cx="249.4" cy="707.5" r="7.2"/><circle cx="254" cy="700" r="7.2"/><circle cx="258.2" cy="692.2" r="7.2"/><circle cx="263" cy="682.8" r="7.2"/><circle cx="267.2" cy="673.4" r="7.2"/><circle cx="271.4" cy="663.6" r="7.2"/><circle cx="275.6" cy="654" r="7.2"/><circle cx="280.2" cy="642.7" r="7.2"/><circle cx="284.4" cy="632.2" r="7.2"/><circle cx="289" cy="621.6" r="7.2"/><circle cx="293.2" cy="609.2" r="7.2"/><circle cx="296.9" cy="594.6" r="7.2"/><circle cx="301.5" cy="580.8" r="7.2"/><circle cx="305.7" cy="563.6" r="7.2"/><circle cx="309.9" cy="542.7" r="7.2"/><circle cx="314.1" cy="510.3" r="7.2"/><circle cx="318.2" cy="499.9" r="7.2"/><circle cx="322.1" cy="500.9" r="7.2"/><circle cx="326.3" cy="505.1" r="7.2"/><circle cx="330.9" cy="512.4" r="7.2"/><circle cx="335.3" cy="519.7" r="7.2"/><circle cx="339.9" cy="529.1" r="7.2"/><circle cx="344.5" cy="539" r="7.2"/><circle cx="348.9" cy="549" r="7.2"/><circle cx="353" cy="560.5" r="7.2"/><circle cx="357.2" cy="572" r="7.2"/><circle cx="361.8" cy="584.6" r="7.2"/><circle cx="366" cy="598.2" r="7.2"/><circle cx="370.2" cy="613.8" r="7.2"/><circle cx="374.8" cy="630.1" r="7.2"/><circle cx="379" cy="649" r="7.2"/><circle cx="383.2" cy="670.7" r="7.2"/><circle cx="387.3" cy="695.4" r="7.2"/><circle cx="391.5" cy="723.6" r="7.2"/><circle cx="395.7" cy="726.8" r="7.2"/><circle cx="399.9" cy="723.6" r="7.2"/><circle cx="404.1" cy="718.8" r="7.2"/><circle cx="408.2" cy="713.2" r="7.2"/><circle cx="412.4" cy="706.9" r="7.2"/><circle cx="416.8" cy="701" r="7.2"/><circle cx="421.2" cy="707.9" r="7.2"/><circle cx="425.6" cy="715.2" r="7.2"/><circle cx="429.9" cy="721.4" r="7.2"/><circle cx="434" cy="726.2" r="7.2"/><circle cx="438.8" cy="727.7" r="7.2"/><circle cx="442.4" cy="722.4" r="7.2"/><circle cx="447.2" cy="715.1" r="7.2"/><circle cx="451.8" cy="707.4" r="7.2"/><circle cx="456" cy="699.4" r="7.2"/><circle cx="460.2" cy="691.1" r="7.2"/><circle cx="464.3" cy="681.7" r="7.2"/><circle cx="468.9" cy="674.4" r="7.2"/><circle cx="473.1" cy="662.9" r="7.2"/><circle cx="477.9" cy="653" r="7.2"/><circle cx="482.1" cy="644" r="7.2"/><circle cx="486.3" cy="630.5" r="7.2"/><circle cx="490.5" cy="618.4" r="7.2"/><circle cx="494.6" cy="606.4" r="7.2"/><circle cx="499.4" cy="592.4" r="7.2"/><circle cx="503.6" cy="577.2" r="7.2"/><circle cx="507.8" cy="562.6" r="7.2"/><circle cx="512" cy="540.6" r="7.2"/><circle cx="516.6" cy="505.5" r="7.2"/><circle cx="520.8" cy="494.2" r="7.2"/><circle cx="524.9" cy="498.4" r="7.2"/></g>
<line x1="211.5" y1="692" x2="211.5" y2="760" stroke="#000" stroke-width="2" stroke-dasharray="2 3"/>
<line x1="320.8" y1="500" x2="320.8" y2="760" stroke="#000" stroke-width="2" stroke-dasharray="2 3"/>
<line x1="418.2" y1="702" x2="418.2" y2="760" stroke="#000" stroke-width="2" stroke-dasharray="2 3"/>
<line x1="114" y1="761" x2="302" y2="761" stroke="#000" stroke-width="2" stroke-dasharray="2 3"/>
<line x1="321" y1="761" x2="540" y2="761" stroke="#000" stroke-width="2" stroke-dasharray="2 3"/>
<path d="M302 755.5L322 761L302 766.5Z M540 755.5L558.5 761L540 766.5Z" fill="#000"/>
<g fill="url(#ball)"><circle cx="133.6" cy="498.4" r="5.4"/><circle cx="137.4" cy="497.8" r="5.4"/><circle cx="141.5" cy="500.9" r="5.4"/><circle cx="146.1" cy="506.1" r="5.4"/><circle cx="150.9" cy="515.1" r="5.4"/><circle cx="155.1" cy="524.3" r="5.4"/><circle cx="159.7" cy="536" r="5.4"/><circle cx="163.5" cy="546.9" r="5.4"/><circle cx="168.1" cy="559.9" r="5.4"/><circle cx="172.3" cy="573" r="5.4"/><circle cx="176.4" cy="587.3" r="5.4"/><circle cx="181" cy="602.3" r="5.4"/><circle cx="185.2" cy="619" r="5.4"/><circle cx="189.6" cy="639.3" r="5.4"/><circle cx="193.8" cy="662.5" r="5.4"/><circle cx="198" cy="695.8" r="5.4"/><circle cx="202.6" cy="710.4" r="5.4"/><circle cx="205.7" cy="699.5" r="5.4"/><circle cx="211" cy="691.2" r="5.4"/><circle cx="215.1" cy="700.6" r="5.4"/><circle cx="219.5" cy="708.4" r="5.4"/><circle cx="223.6" cy="715.7" r="5.4"/><circle cx="227.5" cy="721.9" r="5.4"/><circle cx="231.5" cy="725" r="5.4"/><circle cx="236.5" cy="726.3" r="5.4"/><circle cx="240.6" cy="721" r="5.4"/><circle cx="245" cy="714" r="5.4"/><circle cx="249.4" cy="707.5" r="5.4"/><circle cx="254" cy="700" r="5.4"/><circle cx="258.2" cy="692.2" r="5.4"/><circle cx="263" cy="682.8" r="5.4"/><circle cx="267.2" cy="673.4" r="5.4"/><circle cx="271.4" cy="663.6" r="5.4"/><circle cx="275.6" cy="654" r="5.4"/><circle cx="280.2" cy="642.7" r="5.4"/><circle cx="284.4" cy="632.2" r="5.4"/><circle cx="289" cy="621.6" r="5.4"/><circle cx="293.2" cy="609.2" r="5.4"/><circle cx="296.9" cy="594.6" r="5.4"/><circle cx="301.5" cy="580.8" r="5.4"/><circle cx="305.7" cy="563.6" r="5.4"/><circle cx="309.9" cy="542.7" r="5.4"/><circle cx="314.1" cy="510.3" r="5.4"/><circle cx="318.2" cy="499.9" r="5.4"/><circle cx="322.1" cy="500.9" r="5.4"/><circle cx="326.3" cy="505.1" r="5.4"/><circle cx="330.9" cy="512.4" r="5.4"/><circle cx="335.3" cy="519.7" r="5.4"/><circle cx="339.9" cy="529.1" r="5.4"/><circle cx="344.5" cy="539" r="5.4"/><circle cx="348.9" cy="549" r="5.4"/><circle cx="353" cy="560.5" r="5.4"/><circle cx="357.2" cy="572" r="5.4"/><circle cx="361.8" cy="584.6" r="5.4"/><circle cx="366" cy="598.2" r="5.4"/><circle cx="370.2" cy="613.8" r="5.4"/><circle cx="374.8" cy="630.1" r="5.4"/><circle cx="379" cy="649" r="5.4"/><circle cx="383.2" cy="670.7" r="5.4"/><circle cx="387.3" cy="695.4" r="5.4"/><circle cx="391.5" cy="723.6" r="5.4"/><circle cx="395.7" cy="726.8" r="5.4"/><circle cx="399.9" cy="723.6" r="5.4"/><circle cx="404.1" cy="718.8" r="5.4"/><circle cx="408.2" cy="713.2" r="5.4"/><circle cx="412.4" cy="706.9" r="5.4"/><circle cx="416.8" cy="701" r="5.4"/><circle cx="421.2" cy="707.9" r="5.4"/><circle cx="425.6" cy="715.2" r="5.4"/><circle cx="429.9" cy="721.4" r="5.4"/><circle cx="434" cy="726.2" r="5.4"/><circle cx="438.8" cy="727.7" r="5.4"/><circle cx="442.4" cy="722.4" r="5.4"/><circle cx="447.2" cy="715.1" r="5.4"/><circle cx="451.8" cy="707.4" r="5.4"/><circle cx="456" cy="699.4" r="5.4"/><circle cx="460.2" cy="691.1" r="5.4"/><circle cx="464.3" cy="681.7" r="5.4"/><circle cx="468.9" cy="674.4" r="5.4"/><circle cx="473.1" cy="662.9" r="5.4"/><circle cx="477.9" cy="653" r="5.4"/><circle cx="482.1" cy="644" r="5.4"/><circle cx="486.3" cy="630.5" r="5.4"/><circle cx="490.5" cy="618.4" r="5.4"/><circle cx="494.6" cy="606.4" r="5.4"/><circle cx="499.4" cy="592.4" r="5.4"/><circle cx="503.6" cy="577.2" r="5.4"/><circle cx="507.8" cy="562.6" r="5.4"/><circle cx="512" cy="540.6" r="5.4"/><circle cx="516.6" cy="505.5" r="5.4"/><circle cx="520.8" cy="494.2" r="5.4"/><circle cx="524.9" cy="498.4" r="5.4"/></g>
<rect x="228" y="460" width="215" height="23" fill="#000"/>
<rect x="223.4" y="455.7" width="214.5" height="22.5" fill="#fff" stroke="#000" stroke-width="1"/>
<line x1="226.7" y1="467" x2="268.5" y2="467" stroke="#000" stroke-width="1.6"/>
<circle cx="247" cy="467" r="7.5" fill="#fff"/><circle cx="247" cy="467" r="5.4" fill="url(#ball)"/>
<text x="276.3" y="473.6" font-size="17.9">Normalized volume</text>
<text x="1.5" y="444.3" font-size="45" font-weight="bold">b</text>
<g class="wf" fill="none" stroke-width="1.4" transform="translate(623 0) scale(1.5 0.5)"><path stroke="#f51212" d="M0 72l1 0 1-1 1-1 1 0 1 1 1 1 1 1 1-1 1-1 1 1 1 0 1-1 1 0 1 0 1 0 1-1 1-1 1-1 1 0 1 1 1 0 1 1 1 1 1 0 1-1 1-2 1 1 1 1 1 0 1-1 1 0 1 0 1 1 1 1 1-1 1 0 1 1 1-1 1 0 1 0 1-1 1-1 1 1 1 0 1-1 1 0 1-1 1-2 1 0 1-3 1-5 1-3 1-4 1-5 1-5 1-5 1-4 1-5 1-5 1-3 1-2 1 0 1 0 1 2 1 4 1 4 1 4 1 2 1 3 1 3 1 2 1 4 1 3 1 4 1 2 1 0 1 2 1 2 1 3 1 1 1 1 1 2 1 1 1 0 1 1 1 1 1 1 1 2 1 0 1 0 1 0 1 0 1 1 1 0 1-1 1-1 1 0 1-1 1-1 1 1 1 1 1 2 1 1 1-2 1 0 1 1 1 0 1 0 1 0 1 0 1 0 1-1 1 0 1 0 1 0 1 0 1 0 1 1 1 0 1-1 1 0 1-1 1-1 1 0 1 1 1 0 1 0 1 0 1 1 1 0 1 1 1-1 1 0 1 2 1 0 1-1 1-1 1 0 1 0 1 1 1-1 1 0 1-1 1 0 1 0 1 2 1 0 1 0 1-1 1 0 1-1 1 1 1 0 1 0 1-1 1 0 1 1 1 1 1-1 1-1 1 2 1 0 1-2 1 0 1 0 1 0 1 1 1 0 1 0 1 0 1 0 1 0 1-1 1-1 1 1 1 1 1 0 1 0 1 0 1-1 1 1 1 0 1 0 1 0 1 1 1 0 1 0 1-1 1-1 1 0 1 2 1 0 1-1"/><path stroke="#f31212" d="M0 88l1 0 1 1 1-1 1 0 1 0 1-1 1 0 1 1 1 1 1 1 1-2 1-2 1-1 1 1 1 0 1 0 1 0 1-2 1 0 1 1 1 1 1 0 1 0 1-1 1-1 1 0 1 0 1 0 1 1 1 1 1 0 1-1 1-1 1 0 1 0 1 0 1 0 1 1 1 1 1-1 1-1 1-1 1-1 1-2 1-3 1-1 1-1 1-3 1-3 1-3 1-4 1-5 1-5 1-5 1-4 1-3 1 0 1 1 1-2 1-1 1 1 1 2 1 2 1 2 1 2 1 3 1 4 1 2 1 2 1 2 1 3 1 2 1 3 1 1 1 2 1 2 1 2 1 4 1 1 1 1 1 0 1 0 1 0 1 1 1 2 1 0 1-1 1 1 1 1 1 1 1 0 1 0 1 1 1-2 1-1 1 0 1 3 1 1 1-1 1 0 1-1 1 0 1-1 1 1 1 0 1 1 1 0 1-1 1-1 1 1 1 1 1 0 1-1 1-1 1 0 1 1 1 0 1 0 1-1 1 0 1 0 1-1 1 0 1 1 1 1 1 0 1 1 1 0 1-1 1-1 1 0 1 0 1 0 1 2 1 1 1-2 1-1 1 0 1 0 1-1 1 1 1 1 1 0 1 1 1 1 1-1 1 0 1 1 1-2 1-2 1 0 1 2 1 1 1 0 1-2 1-1 1 1 1 0 1 1 1 0 1 0 1-1 1 0 1 1 1 0 1 1 1 1 1-1 1-2 1-1 1 0 1-1 1 1 1 2 1 0 1-1 1-1 1 0 1 1 1 2 1 1 1-2 1-2 1 0 1 0 1 0 1 0 1 0 1 1 1 1 1 1 1 0 1-2"/><path stroke="#f11212" d="M0 103l1-1 1-1 1 0 1-1 1 0 1 2 1 0 1 0 1 0 1-2 1 0 1 2 1 0 1 0 1 0 1 0 1-2 1 0 1 2 1-1 1 0 1 1 1 1 1 0 1-2 1-1 1 1 1 1 1 0 1-1 1-1 1-1 1-2 1 1 1 0 1-1 1-1 1-2 1-2 1-3 1-1 1-2 1-3 1-3 1-3 1-4 1-2 1-1 1-2 1-3 1-1 1-1 1 0 1 1 1 2 1 1 1 2 1 2 1 2 1 3 1 3 1 3 1 3 1 2 1 1 1 3 1 2 1 2 1 0 1 1 1 0 1 1 1 0 1 0 1 2 1 1 1-1 1-1 1 0 1 1 1 1 1 0 1 0 1 0 1 0 1 0 1-1 1-1 1 1 1 2 1 0 1 0 1 0 1 0 1 1 1 0 1-2 1-1 1 0 1 1 1 1 1 0 1-1 1-1 1 1 1 1 1-2 1 1 1 1 1 0 1-1 1-1 1 0 1 1 1 2 1 0 1-1 1-2 1 0 1 1 1 1 1 0 1-1 1 0 1 0 1 2 1 1 1 0 1-1 1-2 1 0 1 0 1 0 1 0 1 0 1 1 1 0 1 0 1-1 1 0 1-1 1 1 1 0 1 1 1-1 1 0 1 0 1-1 1 0 1 0 1 0 1 1 1 1 1 0 1-1 1 0 1-1 1 1 1 0 1 0 1 0 1 0 1 1 1 0 1-1 1 0 1 0 1 0 1 1 1 0 1 0 1-1 1 0 1 1 1 0 1-1 1 0 1 1 1 1 1 0 1-1 1-1 1 0 1 0 1-2 1 1 1-1 1 0 1 2 1 1 1 0 1 1 1 1"/><path stroke="#ef1212" d="M0 120l1-2 1-1 1-1 1 0 1 1 1 1 1 0 1 0 1-1 1 0 1 1 1 1 1 0 1-1 1-1 1 0 1-2 1 0 1 1 1 1 1-1 1-1 1 0 1 0 1-1 1 0 1 1 1 2 1 0 1-1 1 0 1-1 1-1 1 1 1 1 1 1 1 1 1-1 1-1 1-1 1 0 1-1 1 0 1 1 1-1 1-2 1-1 1-1 1 0 1-1 1-2 1-2 1-2 1-1 1 0 1-2 1-3 1-2 1-1 1-2 1-1 1 0 1 0 1-2 1-1 1 0 1-1 1 0 1-1 1 0 1 1 1 1 1 1 1 1 1 0 1 2 1 2 1 1 1 1 1 2 1 4 1 3 1 1 1-1 1 1 1 2 1 0 1 0 1 1 1 1 1 0 1-1 1 2 1 1 1 1 1 0 1 1 1 1 1 0 1 0 1-1 1 0 1 1 1 1 1-1 1 0 1 0 1 0 1 0 1-1 1 0 1 2 1 2 1 0 1-1 1 1 1 0 1-1 1-1 1 1 1 0 1 0 1 0 1 1 1 1 1-1 1-2 1-1 1 1 1 0 1 1 1-1 1-1 1-1 1 1 1 0 1 0 1 0 1-1 1 0 1 2 1 1 1 1 1 0 1-2 1-2 1 0 1 0 1 1 1 0 1-1 1 1 1 0 1 0 1 1 1 0 1-1 1 0 1-1 1 0 1 2 1 3 1 0 1 0 1-2 1-1 1 1 1-1 1 0 1 0 1 0 1-1 1 0 1 0 1 1 1 2 1-1 1-1 1 0 1 0 1-1 1 1 1 1 1 0 1 0 1 0 1-1 1-1 1 1 1 0 1-2 1 0 1 0"/><path stroke="#ec1212" d="M0 134l1 0 1 0 1-2 1 0 1 0 1 0 1 0 1-1 1-1 1 0 1 0 1 1 1 1 1 1 1 1 1-2 1-2 1 0 1 0 1 1 1 0 1 0 1-1 1 2 1 0 1 0 1 0 1 1 1 0 1 0 1 0 1-1 1-1 1-1 1 0 1 1 1-1 1 0 1 1 1-1 1-2 1-1 1 1 1 0 1 0 1-1 1 0 1 0 1-1 1-1 1 1 1-1 1-3 1-2 1-1 1-1 1-2 1-2 1-1 1-2 1-2 1-2 1-2 1-1 1 0 1 0 1-2 1-1 1 0 1 1 1 0 1-1 1 0 1 0 1 0 1 0 1 2 1 3 1 1 1 1 1 1 1 1 1 1 1 3 1 3 1 0 1 0 1 1 1 2 1 2 1-1 1 0 1 2 1 2 1 1 1 2 1 0 1 0 1 0 1 2 1 2 1-1 1-1 1 1 1 0 1-1 1 0 1 1 1 0 1 0 1 0 1 0 1 0 1-1 1 0 1 1 1 0 1-1 1 1 1 0 1-1 1 0 1 1 1 2 1 2 1-1 1-2 1 0 1 0 1 0 1 0 1-1 1 1 1 0 1 1 1-1 1-1 1 0 1 1 1 0 1-1 1-1 1-1 1 2 1 1 1 0 1 0 1 0 1-1 1-1 1 1 1 0 1 0 1 0 1 0 1-1 1 2 1-1 1-1 1 1 1 1 1 0 1 0 1 0 1 0 1-1 1 0 1 0 1-1 1 0 1 1 1 0 1-1 1 1 1 1 1 0 1 1 1 0 1 0 1 0 1-1 1 0 1 0 1 1 1-1 1-2 1 0 1 1 1 1 1 0 1 0 1 0 1 0"/><path stroke="#ea1212" d="M0 148l1 0 1-1 1 0 1 0 1 1 1 0 1-1 1 0 1-1 1 0 1 0 1 1 1 1 1 1 1-1 1 0 1 0 1 0 1 0 1 0 1-1 1 0 1 0 1 0 1 0 1 1 1-1 1 0 1 0 1 0 1 0 1 1 1 1 1 0 1 0 1-1 1-2 1 0 1 0 1 0 1 0 1-2 1-1 1 0 1 0 1 0 1 0 1-1 1 0 1 0 1-3 1-1 1-1 1-1 1 1 1 0 1-1 1-2 1-2 1-1 1-1 1-1 1 0 1-1 1-2 1-3 1-2 1-1 1 0 1-1 1-1 1-1 1-2 1 0 1 1 1-1 1-1 1 0 1 1 1 3 1 3 1 0 1-2 1 1 1 2 1 2 1 1 1 1 1 3 1 2 1 0 1-1 1 1 1 1 1 2 1 3 1 1 1 2 1 3 1-1 1 0 1 1 1 1 1-1 1-1 1 1 1 0 1 1 1-1 1 0 1 1 1 1 1 1 1 0 1 0 1 0 1-2 1 1 1 0 1 1 1 0 1-1 1 0 1 2 1 0 1 0 1 2 1 0 1-2 1 0 1 2 1-1 1-1 1-1 1 0 1 0 1 0 1 0 1 0 1-1 1 0 1 0 1 0 1 1 1 1 1 0 1 0 1 0 1 0 1-1 1 0 1 0 1 0 1 1 1 0 1-2 1 0 1 0 1 1 1 0 1 0 1-1 1-2 1 0 1 1 1 2 1 1 1 0 1-2 1 1 1 2 1 0 1-1 1 2 1 1 1-1 1-2 1 0 1 0 1-2 1 0 1 0 1 0 1 1 1 1 1 1 1-1 1-1 1 0 1 1 1 0 1-1 1-1"/><path stroke="#e81212" d="M0 160l1 2 1 1 1 0 1-1 1 0 1 1 1 0 1-1 1-1 1 0 1 1 1 1 1-2 1 1 1 0 1 0 1 0 1 0 1 0 1 0 1-1 1 0 1 0 1 1 1 1 1 1 1-1 1 0 1 1 1 0 1 1 1-1 1-1 1-1 1 0 1-1 1 0 1 0 1-1 1-1 1 1 1 1 1 1 1 0 1-1 1-1 1-1 1 1 1 0 1 0 1 0 1-2 1-3 1-1 1-1 1 1 1 1 1-2 1-2 1 0 1 0 1-3 1-2 1-1 1-1 1 0 1-1 1-1 1-1 1-2 1-3 1-3 1-1 1 0 1-1 1 0 1-1 1-1 1 2 1 0 1 0 1 0 1 1 1-1 1-1 1 1 1 2 1 1 1 3 1 2 1 0 1 2 1 2 1 1 1 0 1 2 1 2 1 1 1 2 1 0 1 1 1 2 1 1 1 0 1 1 1 2 1 2 1-1 1 1 1-1 1 1 1 1 1 1 1 0 1-1 1-1 1 0 1 1 1 1 1 1 1 0 1 0 1 0 1-2 1-2 1 0 1 1 1 2 1 0 1 1 1 0 1 1 1-1 1-1 1-1 1 0 1 0 1 0 1 1 1 0 1-1 1 0 1 0 1 1 1 0 1 0 1 0 1-1 1 1 1 0 1 0 1-1 1-2 1 1 1 2 1 1 1 0 1-2 1 0 1 2 1 1 1-2 1-1 1 0 1 2 1 2 1-1 1-1 1-1 1 0 1 0 1-1 1 0 1 1 1 1 1-1 1 0 1-2 1 0 1 0 1 0 1-1 1 0 1 0 1 0 1-1 1 1 1 2 1 2 1 0 1-2 1 0 1 1"/><path stroke="#e61212" d="M0 178l1 1 1 1 1-2 1-1 1 0 1 1 1 0 1-1 1 0 1 1 1 1 1-1 1 1 1-1 1-1 1 0 1 1 1-1 1-1 1 1 1 2 1 0 1-1 1 1 1 0 1 0 1 1 1-1 1-1 1-1 1 0 1-1 1 0 1 3 1 1 1-1 1-1 1 1 1 1 1-1 1-2 1-1 1-1 1-1 1 0 1 1 1 0 1 1 1 1 1 1 1 0 1-2 1-1 1-1 1-1 1 0 1-2 1-1 1 0 1 0 1 0 1-2 1-2 1-2 1-2 1 0 1 1 1 0 1-3 1-3 1-1 1-2 1-1 1-1 1-2 1-2 1-2 1-2 1-1 1-1 1-1 1 1 1 0 1 0 1 0 1 0 1 0 1 2 1 2 1 3 1 0 1 1 1 1 1 1 1 2 1 0 1 1 1 5 1 2 1-1 1 1 1 2 1 0 1 1 1 1 1 3 1 1 1 2 1 1 1 1 1-1 1-1 1-1 1 1 1 2 1 1 1 0 1 0 1-1 1 0 1 1 1 0 1 2 1 0 1-1 1-1 1 1 1 1 1 2 1 1 1-1 1-2 1-1 1-1 1 0 1 0 1 0 1 1 1 1 1-1 1 0 1 0 1 2 1 1 1 0 1 0 1 0 1-1 1 1 1 0 1-1 1 0 1 1 1 0 1-1 1 0 1-1 1-1 1 0 1-1 1 1 1 0 1 1 1 0 1 0 1 2 1 0 1-1 1-1 1 0 1 0 1 0 1-1 1 2 1 1 1-2 1 0 1 0 1 0 1 0 1-1 1 1 1 1 1-1 1-1 1 0 1 1 1 1 1-1 1 0 1-1 1 1 1 0"/><path stroke="#e41111" d="M0 190l1 2 1 0 1 1 1 1 1-1 1 0 1 2 1 0 1 0 1-1 1-1 1 1 1 1 1 0 1-1 1-1 1 0 1 1 1 1 1-1 1-2 1 1 1 1 1 0 1-1 1-1 1 0 1-1 1 0 1 2 1 0 1 1 1 1 1-1 1 0 1 1 1-1 1-1 1 0 1 0 1-1 1 0 1-1 1-1 1 1 1 0 1 0 1-1 1 1 1 0 1 0 1 0 1 0 1-1 1 1 1 0 1-1 1-1 1 1 1-1 1-1 1 0 1-2 1-2 1-2 1-1 1-1 1-1 1 0 1-1 1-2 1-1 1-2 1-2 1 0 1-1 1-3 1-3 1-2 1-1 1-1 1 0 1-2 1-1 1 0 1-1 1-1 1-1 1 0 1 2 1 2 1 0 1 0 1 1 1 2 1 2 1 3 1 2 1 2 1 1 1 1 1 1 1 0 1 2 1 2 1 1 1 1 1 2 1 1 1 1 1 1 1 1 1 1 1 0 1 1 1 1 1 1 1 0 1 0 1 0 1 1 1 1 1 0 1 1 1 0 1-1 1 0 1-2 1-1 1 1 1 1 1 1 1 0 1-1 1 0 1 0 1 0 1 0 1 0 1 0 1-1 1 1 1 2 1 0 1 0 1-1 1-1 1 1 1 0 1 0 1 1 1 0 1-1 1 1 1 1 1 0 1 0 1 0 1 1 1 0 1-1 1 0 1 0 1-1 1-1 1 1 1 0 1-1 1 1 1 0 1-1 1-1 1 1 1 1 1-1 1 0 1-1 1 1 1 1 1 0 1-1 1 1 1 0 1 0 1-1 1 1 1 1 1-1 1-1 1 0 1 0 1 2 1 2"/><path stroke="#e11111" d="M0 207l1 1 1 2 1 1 1 0 1-1 1-1 1-1 1-1 1 0 1 2 1 1 1 1 1-1 1-1 1 1 1 1 1-1 1-2 1 1 1 1 1-1 1-1 1 1 1 0 1-2 1 0 1 1 1 0 1 1 1 1 1-1 1-1 1 0 1 1 1 1 1-1 1-1 1-1 1 1 1-2 1 0 1 1 1 0 1-1 1 0 1-1 1 1 1 1 1-1 1 0 1 0 1 0 1 0 1 1 1-1 1 0 1 1 1-1 1 0 1 1 1 0 1-1 1-1 1-1 1 0 1-2 1 0 1 0 1-1 1-1 1 0 1-3 1-3 1-1 1-2 1-1 1-1 1-4 1-2 1-2 1-2 1-2 1-2 1-2 1-2 1 0 1-1 1-1 1-1 1 0 1 0 1-1 1 0 1 1 1 1 1 2 1 2 1 3 1 2 1 1 1 0 1 2 1 3 1 2 1 2 1 2 1 2 1 2 1 1 1 1 1 1 1 2 1 1 1 1 1 1 1 1 1 1 1 0 1 0 1 1 1 1 1-1 1-1 1 0 1 2 1 2 1 0 1-1 1-1 1 1 1 1 1 0 1-1 1 0 1 0 1-1 1 0 1-1 1 0 1 2 1 0 1-1 1 0 1 2 1 1 1 0 1 0 1-1 1 0 1-1 1 0 1 0 1 1 1 0 1 0 1-1 1 0 1 0 1-1 1 0 1 1 1-1 1 1 1 1 1 1 1 1 1-1 1 0 1 0 1 0 1-1 1 0 1 0 1 1 1 0 1 0 1-1 1-1 1 0 1 1 1 0 1 0 1 1 1-1 1-1 1-1 1 0 1 0 1 1 1-1 1 0 1 0 1 0"/><path stroke="#df1111" d="M0 226l1-1 1-2 1 0 1 1 1 0 1-1 1 0 1 0 1 1 1 0 1 0 1 0 1-1 1 0 1 1 1 1 1 0 1 0 1 0 1-2 1 1 1 2 1-1 1-2 1-1 1 0 1 0 1 0 1 0 1 0 1 0 1 1 1 0 1 1 1 0 1 0 1 0 1-1 1 1 1 1 1-1 1-1 1 0 1 1 1 1 1 1 1-1 1-2 1-1 1 0 1 1 1 1 1 1 1-2 1-2 1 0 1 0 1 0 1 0 1 0 1 1 1-1 1 0 1 0 1-1 1-1 1-1 1 0 1 0 1-2 1 0 1 0 1-1 1-2 1-1 1 0 1-2 1-3 1-4 1-1 1 0 1-1 1-2 1-3 1-3 1-3 1-1 1-2 1-2 1 0 1-1 1-3 1-1 1 0 1 0 1 0 1 2 1 1 1 2 1 3 1 0 1 1 1 1 1 2 1 2 1 3 1 2 1 3 1 3 1 2 1 2 1 1 1 2 1 2 1 1 1 1 1-1 1 0 1 1 1 1 1 2 1 1 1 0 1 0 1 0 1-1 1 0 1 1 1 0 1 1 1 0 1-1 1 0 1 1 1 1 1 0 1 1 1 0 1-1 1 0 1 1 1 1 1-2 1 0 1 1 1 1 1 0 1-1 1-1 1 0 1 1 1-2 1-1 1 1 1 2 1 1 1-1 1 0 1 1 1 0 1 0 1 0 1-1 1 0 1-1 1 0 1 0 1 1 1-1 1 1 1 1 1-1 1-1 1 0 1 1 1 1 1 0 1-1 1-1 1 0 1-1 1 1 1 1 1 0 1 0 1-1 1-2 1 0 1 2 1 2 1 1 1-2 1-1"/><path stroke="#dd1111" d="M0 240l1 0 1 1 1 0 1-1 1 0 1 0 1 0 1 1 1-1 1-1 1-1 1 1 1 1 1 0 1-1 1 1 1 0 1 1 1 0 1 0 1 0 1 0 1 0 1-1 1-1 1 0 1 0 1-1 1-1 1 0 1 0 1 1 1 0 1 1 1 1 1 0 1-2 1 0 1-1 1 0 1 1 1 0 1 0 1-1 1 0 1 1 1 1 1 1 1 0 1-2 1-2 1-1 1 1 1 1 1 1 1-1 1 0 1 1 1 1 1-1 1-1 1 0 1 0 1-1 1-1 1-1 1 1 1 2 1 1 1-2 1-1 1-1 1-2 1 0 1-1 1-1 1 0 1-3 1-1 1-1 1-2 1-2 1-1 1-3 1-2 1-3 1-3 1 0 1-1 1-3 1-3 1-4 1-2 1-1 1 0 1 0 1-1 1-1 1 0 1 1 1 2 1 1 1 2 1 3 1 0 1 1 1 4 1 4 1 4 1 0 1 1 1 2 1 3 1 2 1 3 1 2 1 1 1 1 1 2 1 1 1 0 1 0 1 0 1 0 1 1 1 0 1 0 1-1 1 2 1 3 1 1 1 0 1-1 1-1 1 0 1 0 1-1 1 0 1 0 1 0 1 0 1 1 1 1 1 0 1 0 1-1 1 0 1 0 1 0 1 0 1 1 1 1 1-1 1-2 1 0 1 1 1 0 1 0 1 0 1 1 1 0 1-1 1 2 1 0 1-1 1 0 1 0 1 0 1 0 1-1 1 0 1 0 1 1 1 0 1-1 1-2 1-1 1 1 1 1 1 2 1 1 1-1 1-1 1 0 1 0 1 0 1-1 1 1 1 1 1 1 1 0 1-1 1 0"/><path stroke="#db1111" d="M0 255l1 1 1 0 1-1 1-1 1 1 1 1 1-1 1 0 1 2 1 0 1-1 1 0 1 1 1 0 1-2 1-1 1-1 1 0 1 1 1 1 1-1 1-1 1-1 1 1 1 0 1 2 1 2 1 1 1-2 1-2 1-2 1-2 1 2 1 2 1 1 1 1 1-1 1 0 1 1 1-1 1-1 1-1 1 0 1 2 1 1 1-1 1-2 1 0 1 1 1 0 1 0 1 0 1 0 1 0 1 0 1-1 1 0 1 0 1 1 1-1 1 0 1-1 1 0 1 1 1 0 1 0 1-1 1-1 1-1 1 0 1 0 1 0 1 1 1 0 1-1 1-1 1-1 1-1 1 0 1-1 1-2 1-2 1-2 1-1 1-2 1-3 1-2 1-1 1-1 1-4 1-4 1-3 1-4 1-2 1-1 1-1 1-2 1-2 1 0 1 0 1 0 1 0 1 0 1 2 1 4 1 3 1 2 1 1 1 3 1 4 1 2 1 2 1 2 1 2 1 2 1 2 1 1 1 1 1 0 1 2 1 1 1 3 1 1 1 0 1 2 1 2 1 1 1 1 1 0 1-1 1 0 1 1 1 0 1 0 1-1 1-1 1 0 1 0 1 0 1-1 1 1 1 1 1 1 1-1 1-1 1 0 1 1 1 0 1 1 1 0 1 0 1 0 1 0 1 0 1 0 1 1 1 0 1-1 1 0 1 1 1 1 1 0 1-1 1 0 1 0 1 0 1-1 1-1 1 1 1 0 1-1 1 0 1 1 1 2 1-1 1-2 1 1 1 1 1 0 1-2 1-1 1 1 1 0 1-1 1 0 1 2 1 1 1-1 1 0 1 1 1 1 1-1 1-1"/><path stroke="#d91111" d="M0 272l1-1 1-1 1 0 1-1 1 0 1 2 1-1 1 0 1-1 1-1 1 0 1 1 1 0 1 1 1 1 1-1 1 1 1-1 1-1 1 0 1 1 1 1 1 0 1-1 1-1 1 0 1 0 1 1 1 0 1 0 1 1 1 0 1-1 1 0 1 0 1-1 1 0 1 0 1 0 1 1 1 2 1 0 1-1 1 0 1-1 1 0 1 1 1 0 1 1 1-2 1-1 1 1 1-1 1-2 1 0 1 2 1 1 1 1 1 0 1 0 1-1 1-1 1-1 1 1 1 0 1 0 1-1 1 0 1 0 1-1 1 1 1-1 1-1 1 0 1 1 1 0 1 0 1 0 1-1 1-2 1 0 1 0 1-1 1-2 1-2 1 0 1-1 1-3 1-3 1-2 1-3 1-3 1-4 1-3 1-3 1-4 1-2 1-2 1-2 1-2 1-2 1-1 1 1 1 1 1 0 1 0 1 1 1 4 1 4 1 4 1 1 1 2 1 3 1 2 1 4 1 5 1 2 1 2 1 3 1 2 1 1 1 1 1-1 1 1 1 3 1 2 1 0 1-1 1 0 1 1 1 1 1 1 1-1 1 0 1 1 1 0 1-1 1-1 1 2 1 1 1-2 1 0 1 1 1 0 1-1 1-1 1 0 1 0 1 0 1 1 1 1 1 1 1 2 1-1 1-2 1-2 1 0 1-1 1 0 1 0 1 1 1 0 1-1 1 0 1 0 1 2 1 1 1 1 1 0 1-1 1-1 1 0 1 2 1 0 1-2 1-1 1 0 1-1 1 1 1 1 1 0 1 0 1 0 1 0 1 0 1-1 1 0 1 1 1 0 1 1 1 0 1 0 1-1"/><path stroke="#d61111" d="M0 286l1-2 1 0 1 1 1 1 1-1 1 1 1-1 1 1 1 0 1-1 1 0 1 1 1 0 1-1 1-2 1 0 1 0 1 2 1 0 1-1 1 1 1 1 1 0 1-1 1 1 1 0 1-1 1-1 1-1 1 0 1 1 1 1 1 1 1 0 1 0 1-1 1-2 1-1 1 1 1 0 1 1 1 0 1-1 1 0 1 1 1 0 1 0 1 1 1-1 1 0 1 1 1 1 1 0 1 0 1 1 1-1 1 0 1 0 1-1 1-1 1 0 1 1 1-1 1 1 1 0 1-2 1 0 1 1 1 1 1 0 1-1 1 1 1 0 1 0 1-2 1 0 1-1 1-1 1 1 1 1 1-1 1-1 1 1 1 0 1-1 1-2 1-1 1-1 1-3 1-2 1 0 1-3 1-6 1-5 1-3 1-2 1-2 1-3 1-4 1-4 1-3 1-2 1-2 1 0 1 2 1-1 1-1 1 1 1 2 1 2 1 3 1 5 1 4 1 3 1 3 1 3 1 3 1 4 1 4 1 3 1 2 1 2 1 1 1-1 1 0 1 1 1 3 1 2 1 0 1 0 1-1 1 0 1 0 1 1 1 0 1 0 1 0 1 0 1 0 1 0 1 1 1 0 1 0 1 1 1 0 1-1 1-1 1-1 1-1 1 0 1 1 1 0 1 1 1-1 1 0 1 1 1 1 1 1 1 1 1-1 1-1 1 0 1 0 1 0 1-1 1 0 1 1 1 0 1 0 1-1 1 0 1 0 1-1 1 1 1 0 1-2 1 1 1 1 1 0 1 1 1-1 1 2 1 1 1-1 1-1 1-1 1 0 1 0 1 0 1 0 1 1 1-1 1-1"/><path stroke="#d41111" d="M0 300l1 0 1 1 1 0 1-1 1 0 1 0 1 0 1 0 1 1 1 0 1 0 1 0 1 1 1-1 1-1 1-1 1 1 1 1 1 2 1 1 1-1 1-1 1-1 1 0 1 1 1 0 1 0 1-2 1 0 1 1 1 0 1 0 1 0 1-1 1 0 1-1 1 0 1 0 1 0 1 0 1 1 1 0 1 0 1-1 1-1 1 1 1 0 1 1 1 1 1 0 1 1 1 0 1-1 1-1 1 0 1 1 1 0 1-1 1 1 1 0 1 0 1-1 1-2 1 1 1 2 1-1 1-1 1 0 1-1 1-2 1-1 1 2 1 1 1 1 1 0 1 0 1-1 1-1 1 0 1 0 1 0 1 0 1 0 1 0 1-1 1 1 1 1 1-3 1-1 1 0 1 0 1-2 1-3 1-2 1-3 1-4 1-3 1-3 1-3 1-5 1-4 1-4 1-4 1-4 1-4 1-2 1 0 1 0 1 1 1 3 1 3 1 4 1 4 1 3 1 7 1 5 1 3 1 3 1 5 1 2 1 1 1 2 1 2 1 2 1 1 1 1 1 0 1 0 1 0 1 0 1 1 1 0 1 0 1 2 1-1 1-1 1 1 1 0 1 1 1 0 1 0 1-1 1 0 1 1 1 0 1-1 1 0 1 0 1-1 1 1 1 2 1 0 1 1 1-1 1 0 1 0 1 0 1 1 1-1 1 0 1 0 1 1 1-1 1-2 1 0 1 0 1 0 1 0 1 0 1 0 1 2 1 0 1 0 1 1 1 1 1 1 1-1 1-2 1-3 1-1 1 2 1 2 1 0 1 0 1 0 1 0 1-2 1-1 1 1 1 1 1 0 1 0 1-2"/><path stroke="#d21111" d="M0 318l1 0 1 0 1 0 1 0 1-2 1-2 1 1 1 2 1 0 1-1 1 0 1 0 1 0 1 0 1 0 1 2 1-1 1-2 1-1 1 1 1 1 1 1 1-1 1 0 1-1 1 0 1 2 1 1 1 0 1-2 1 0 1 0 1-1 1-1 1 0 1 1 1 1 1 0 1 1 1 0 1-1 1 0 1 0 1 0 1 1 1-1 1 0 1-1 1-1 1 0 1 2 1 1 1 0 1 0 1 0 1 0 1 0 1-2 1 0 1 0 1 0 1 1 1 0 1 0 1 1 1-1 1-1 1-1 1 0 1 1 1 1 1 1 1-1 1-1 1-1 1-1 1 0 1 1 1 1 1 0 1 1 1 0 1-1 1 0 1-1 1 1 1-1 1-1 1 1 1 1 1-2 1-2 1-2 1-1 1 0 1-2 1-2 1-1 1-4 1-6 1-4 1-5 1-5 1-5 1-5 1-3 1-3 1-3 1 0 1 0 1 1 1 3 1 4 1 4 1 3 1 4 1 5 1 5 1 5 1 3 1 3 1 3 1 4 1 1 1 1 1 2 1-1 1 0 1 1 1 1 1 2 1 1 1-2 1-1 1 0 1 0 1 0 1 0 1 1 1 1 1 0 1 0 1-2 1 0 1 1 1 2 1 0 1 0 1 0 1 0 1 1 1-1 1-1 1 0 1-1 1-1 1 0 1 2 1 0 1 0 1 0 1 1 1-1 1 0 1 2 1 0 1-2 1-1 1 0 1 1 1 1 1 0 1-1 1 0 1 1 1 0 1 0 1 0 1-2 1-1 1 0 1 1 1 1 1 1 1 1 1-1 1-2 1 0 1 1 1 1 1 0 1 0 1-1"/><path stroke="#d01111" d="M0 328l1 1 1 1 1 1 1 0 1 0 1 0 1 1 1-1 1-1 1 0 1 0 1 1 1 1 1 0 1-1 1 0 1 0 1 0 1 0 1 0 1 1 1-1 1 0 1 0 1 0 1 1 1 0 1 0 1-1 1 0 1-1 1-1 1 1 1 0 1 0 1 0 1 1 1 0 1-1 1 2 1 0 1-1 1 1 1-1 1 0 1 1 1-1 1 0 1 0 1-1 1 1 1 1 1 1 1-2 1 0 1 0 1-1 1 0 1 0 1 1 1 1 1 0 1 0 1-1 1-1 1-1 1 1 1 0 1 0 1 0 1 0 1 2 1 1 1-2 1-1 1 1 1 0 1 0 1-1 1 0 1-1 1 0 1 0 1 0 1 1 1 0 1 0 1 0 1-1 1 0 1-1 1 0 1 0 1 0 1-2 1-2 1-1 1-1 1-2 1-4 1-4 1-3 1-4 1-5 1-6 1-7 1-6 1-3 1-3 1-2 1-1 1 0 1 1 1 4 1 5 1 6 1 5 1 4 1 5 1 5 1 5 1 3 1 2 1 4 1 3 1 1 1 0 1 1 1 1 1 0 1 0 1 2 1 0 1-1 1-1 1 2 1 1 1-2 1-1 1 2 1 1 1 0 1-1 1 0 1 0 1 2 1-1 1-2 1 0 1 2 1-1 1-1 1 1 1 0 1 0 1 0 1 0 1 0 1 0 1 0 1 0 1 1 1 1 1-1 1 0 1 0 1 1 1 0 1 1 1 0 1 0 1-2 1 0 1 0 1 0 1-1 1-2 1 0 1 2 1 2 1-1 1-1 1 1 1 0 1 0 1 0 1-2 1-1 1 0 1 0 1 0 1 2 1 1"/><path stroke="#ce1111" d="M0 348l1-1 1 0 1 0 1 0 1 0 1 0 1-1 1 0 1 1 1 0 1 1 1 0 1-1 1-2 1-1 1 1 1 0 1-1 1 2 1 1 1-1 1-1 1 1 1 0 1-1 1 1 1 2 1 0 1-1 1-1 1-1 1 1 1 0 1 0 1 1 1 1 1-1 1-2 1-1 1 1 1 2 1 0 1 0 1-2 1 0 1 1 1 0 1 0 1 0 1 1 1-1 1-2 1-1 1 2 1 1 1 0 1-1 1 0 1 1 1 0 1-1 1 0 1 0 1 0 1-1 1 0 1 1 1 2 1 0 1 0 1-1 1-1 1-1 1 1 1 2 1 0 1 0 1-1 1 0 1-1 1 1 1 0 1 0 1 0 1-1 1-1 1 0 1 0 1 0 1-1 1 1 1 2 1-2 1-1 1 0 1 1 1-1 1-1 1-1 1 0 1-1 1-4 1-5 1-4 1-4 1-5 1-6 1-8 1-7 1-5 1-4 1-4 1-2 1 1 1 3 1 5 1 5 1 7 1 6 1 6 1 5 1 6 1 4 1 2 1 3 1 2 1 2 1 2 1 1 1 0 1 1 1 2 1 1 1-1 1-2 1 0 1 1 1 0 1 0 1 0 1 0 1 0 1 1 1 0 1-1 1 0 1 1 1 1 1 1 1-1 1 0 1-2 1-1 1 1 1 1 1-1 1 0 1-1 1 1 1 2 1 0 1-1 1-1 1 1 1 1 1 0 1-1 1 0 1 1 1 0 1-1 1 1 1 0 1 0 1-2 1 0 1 1 1 2 1 1 1 0 1-2 1-1 1-1 1 0 1-1 1 0 1-1 1 2 1 2 1 1 1 0 1-2 1 0"/><path stroke="#cb1111" d="M0 360l1 0 1 1 1 2 1 0 1-2 1 1 1 1 1 0 1-1 1-1 1 0 1 1 1 0 1-1 1 0 1 1 1 0 1 1 1 0 1 1 1 0 1 0 1-2 1-1 1 0 1 2 1 1 1 1 1 0 1-2 1 0 1 0 1-1 1-1 1 0 1 1 1-1 1 0 1 0 1 0 1 0 1 0 1-1 1 1 1 1 1-1 1 0 1-1 1-1 1 2 1 0 1 0 1 0 1-1 1 0 1 1 1 1 1 0 1-1 1 1 1-1 1-2 1 0 1 1 1 1 1 1 1 0 1-1 1-2 1-1 1 1 1 1 1 1 1 0 1 0 1 1 1 1 1-1 1-2 1-1 1 0 1 0 1 0 1 1 1 1 1 0 1 0 1 0 1-2 1-2 1 1 1 2 1 0 1-1 1 0 1 0 1 0 1-1 1-1 1 0 1-1 1-2 1-2 1-1 1-3 1-4 1-5 1-6 1-7 1-9 1-7 1-6 1-3 1-1 1-1 1 1 1 3 1 8 1 7 1 7 1 7 1 7 1 4 1 4 1 4 1 2 1 3 1 2 1 1 1-2 1 0 1 1 1 1 1-1 1-1 1 0 1 1 1 1 1 2 1 0 1-1 1 0 1 0 1 0 1 1 1 1 1-1 1 0 1-1 1-1 1-1 1 2 1 2 1 1 1 0 1-2 1-1 1 0 1 0 1 0 1 0 1 0 1-1 1-2 1 0 1 0 1 1 1 2 1 1 1 0 1 1 1 0 1-1 1 0 1 0 1-1 1 0 1-1 1 0 1 1 1 0 1 0 1 0 1 2 1 0 1 0 1-1 1-1 1 0 1 0 1 0 1 0 1 2"/><path stroke="#c91111" d="M0 377l1 0 1 1 1 1 1 0 1-1 1-1 1-1 1 0 1 2 1 0 1 0 1 0 1-1 1 0 1 1 1 0 1-1 1-1 1 0 1 1 1 2 1-1 1-1 1-1 1-1 1 1 1 1 1 0 1 0 1-1 1 1 1 0 1-1 1-1 1 1 1 0 1 0 1 1 1 0 1 0 1 0 1 2 1-1 1-1 1-1 1 0 1 1 1 0 1-1 1 0 1-1 1 0 1 1 1 2 1 0 1-1 1-1 1 0 1-1 1 2 1 1 1-1 1 0 1 0 1-1 1 1 1 0 1 0 1 0 1-1 1 1 1 0 1 1 1-1 1-2 1-1 1 2 1 0 1-2 1-1 1 1 1 1 1 0 1 0 1 1 1 1 1-1 1-1 1 1 1 1 1 0 1-2 1-2 1 1 1 0 1 1 1 0 1 0 1 0 1-1 1-1 1-2 1 0 1-1 1-4 1-4 1-4 1-7 1-8 1-7 1-6 1-6 1-5 1-5 1-2 1 0 1 4 1 6 1 7 1 9 1 7 1 6 1 7 1 4 1 2 1 3 1 2 1 2 1 2 1 0 1 1 1 0 1-1 1 0 1 0 1 0 1 1 1 0 1 0 1-1 1-1 1 2 1 1 1 1 1 1 1 0 1-1 1-1 1-1 1 0 1 0 1 1 1 1 1-1 1 1 1 0 1 0 1 0 1-1 1 0 1-1 1 1 1 1 1-1 1 1 1 1 1-1 1-1 1 0 1 0 1 1 1 2 1 0 1-1 1-1 1 0 1 0 1-1 1 0 1 1 1 0 1 0 1-1 1 0 1 2 1 2 1-1 1-3 1 0 1 0 1 0 1 0 1 0"/><path stroke="#c71111" d="M0 395l1-2 1-1 1-1 1 0 1 0 1 0 1 1 1 1 1-1 1 2 1 1 1-1 1-1 1-1 1 0 1 1 1 1 1 1 1 1 1-1 1-1 1-1 1-2 1-1 1 1 1 1 1 1 1 0 1 2 1 0 1-1 1-1 1 0 1 0 1-1 1 0 1 1 1 1 1 0 1 0 1-2 1 0 1 0 1 0 1 0 1 1 1 0 1 0 1-1 1-1 1 2 1 0 1 1 1-1 1 1 1 0 1 0 1-1 1-1 1 0 1 0 1 0 1 0 1 1 1-1 1-1 1 0 1 0 1 1 1 0 1 0 1 0 1 0 1 0 1-1 1 0 1-1 1 1 1 1 1 0 1-1 1-2 1-1 1 0 1 2 1 0 1 1 1 0 1 0 1-1 1-1 1 0 1 1 1-1 1 1 1 1 1-1 1-1 1 0 1 1 1-1 1-2 1-2 1-2 1-2 1-5 1-8 1-7 1-6 1-7 1-7 1-7 1-4 1-3 1 0 1 3 1 6 1 8 1 8 1 6 1 6 1 6 1 6 1 5 1 2 1 2 1 2 1 1 1 1 1 1 1 0 1-1 1-1 1 2 1 1 1-1 1-2 1-2 1 1 1 2 1 2 1 0 1 0 1 0 1 0 1 0 1 0 1-1 1-2 1 2 1 1 1 0 1-1 1 0 1 0 1 1 1-1 1-2 1-1 1 0 1 0 1 1 1 3 1 0 1-1 1 1 1 0 1-1 1 0 1-1 1-1 1 0 1 1 1 1 1-1 1 0 1 0 1 1 1 1 1 0 1-1 1-1 1 0 1 1 1 0 1 1 1 1 1-1 1 0 1 0 1-1 1-1 1-1"/><path stroke="#c51111" d="M0 409l1-1 1 0 1 1 1 0 1 0 1-2 1 0 1 1 1 0 1 0 1-1 1-1 1 0 1 0 1 1 1 0 1 0 1-1 1 0 1 0 1 1 1 1 1-1 1 0 1-1 1 0 1 0 1 1 1 1 1 0 1 0 1 0 1 0 1 0 1 0 1 0 1-1 1 0 1 0 1 1 1 1 1-1 1-1 1-1 1 1 1 0 1 1 1-1 1 0 1 0 1 0 1 1 1 1 1 1 1-1 1-2 1 0 1 0 1 0 1 0 1 0 1 0 1 0 1 1 1 0 1-1 1-2 1-1 1 0 1 1 1 2 1 0 1-1 1 0 1-1 1-1 1 0 1 1 1 2 1-1 1 2 1 0 1-1 1-1 1-1 1 1 1 1 1 0 1 0 1 0 1 0 1-1 1-1 1 0 1-1 1 1 1-1 1 0 1 0 1-2 1-2 1-2 1-4 1-4 1-5 1-6 1-6 1-7 1-7 1-7 1-6 1-4 1-1 1 3 1 4 1 7 1 9 1 9 1 7 1 6 1 5 1 3 1 3 1 2 1 2 1 2 1 2 1 0 1-1 1-1 1 0 1 1 1 1 1 0 1-2 1 1 1 2 1 0 1 0 1-1 1 0 1 0 1 1 1 0 1 0 1-1 1 0 1-1 1 0 1 1 1 0 1-1 1 0 1 2 1 2 1 0 1-2 1-1 1 0 1 1 1 1 1-1 1 1 1 1 1 0 1-2 1 0 1 1 1 0 1 1 1 0 1-2 1 0 1 0 1 0 1 1 1 1 1-1 1 0 1 0 1-1 1 0 1 1 1-1 1-1 1 0 1-1 1 0 1 1 1 0 1 0 1-1 1 0"/><path stroke="#c21010" d="M0 422l1 2 1 2 1-1 1-2 1-1 1 0 1 0 1 1 1 0 1 0 1-1 1 0 1-1 1 1 1-1 1 0 1 1 1 0 1 1 1 1 1 0 1-1 1 0 1 0 1-1 1 0 1-1 1 0 1 1 1 1 1 0 1 0 1-2 1 2 1 2 1 0 1-1 1-1 1-2 1 0 1 2 1 0 1-1 1 0 1 0 1-1 1 1 1 3 1 0 1-1 1 0 1-2 1-2 1 0 1 2 1 1 1 1 1 0 1-2 1-1 1 1 1 0 1-1 1-1 1 2 1 1 1-1 1 0 1 1 1 0 1 0 1 0 1-1 1-1 1-1 1-1 1 1 1 2 1 0 1-1 1-1 1 0 1 0 1 2 1 0 1-1 1 1 1 1 1-1 1-2 1-1 1-1 1 2 1 0 1 0 1-1 1 0 1 1 1-1 1-4 1-3 1-2 1-4 1-6 1-7 1-8 1-9 1-10 1-8 1-4 1 0 1 3 1 5 1 7 1 8 1 8 1 7 1 7 1 6 1 5 1 4 1 3 1 2 1 0 1 0 1-1 1-1 1 1 1 1 1 1 1-1 1-1 1-1 1 2 1 1 1 0 1 0 1 0 1 1 1 0 1-1 1 0 1 1 1 1 1 0 1 0 1-1 1 0 1 1 1 0 1-1 1 0 1 0 1 1 1 0 1 0 1 0 1-1 1 0 1 1 1-1 1-1 1 2 1 0 1-1 1 0 1-1 1-1 1 1 1 0 1 0 1 0 1 0 1 1 1 0 1 0 1-1 1-1 1 0 1 2 1 2 1-1 1-1 1 0 1 0 1 0 1 1 1 0 1 0 1-1 1 0 1-1 1 0"/><path stroke="#c01010" d="M0 442l1 1 1-2 1-2 1-1 1 0 1-1 1 0 1 1 1 0 1 2 1 0 1-2 1-1 1-1 1 0 1 2 1 1 1 0 1-1 1 0 1-1 1 0 1 1 1 2 1 0 1-2 1 0 1 2 1 0 1-3 1 0 1 1 1 1 1-1 1 0 1 1 1 1 1-1 1-1 1 0 1 1 1-1 1-1 1 0 1-1 1 0 1-1 1 0 1 1 1 1 1 1 1 0 1-1 1 0 1 0 1-2 1 0 1 2 1 2 1 0 1-2 1-1 1 1 1 0 1-1 1 0 1-1 1 1 1 1 1 0 1-1 1-1 1 1 1 1 1-1 1-1 1-1 1 1 1 2 1 0 1-1 1 0 1 1 1-1 1 0 1 1 1 0 1 1 1-1 1-1 1-1 1 0 1-1 1 0 1 0 1 0 1 0 1-1 1-2 1-2 1-2 1-5 1-7 1-8 1-7 1-8 1-9 1-8 1-5 1-1 1 2 1 6 1 8 1 7 1 9 1 8 1 6 1 6 1 4 1 4 1 2 1 1 1 2 1 1 1 1 1 1 1 0 1 0 1 0 1-1 1-1 1 1 1 2 1-1 1-2 1 0 1 1 1 0 1 1 1 2 1-1 1-1 1 1 1 0 1 0 1-1 1-1 1 0 1 0 1 1 1 1 1 0 1-2 1-2 1 1 1 2 1 0 1-1 1 0 1 1 1 0 1 0 1-1 1 0 1 0 1-2 1 1 1 1 1 1 1 0 1 0 1 0 1 1 1-1 1-1 1-1 1 1 1 1 1 0 1-1 1 0 1 0 1-1 1 0 1 0 1 0 1 1 1 0 1 0 1 2 1 0 1 0 1-1"/><path stroke="#be1010" d="M0 456l1 0 1 0 1 0 1-1 1-1 1-2 1-2 1 1 1 2 1 1 1 0 1 1 1 0 1 0 1 1 1 0 1-1 1-1 1 0 1 0 1-1 1 0 1 1 1 1 1 0 1 0 1-1 1-1 1 0 1 1 1 1 1 1 1-2 1-1 1 1 1 0 1 0 1-1 1 1 1 1 1-1 1 0 1 0 1 0 1-1 1-3 1 0 1 2 1 1 1 1 1 0 1 0 1-1 1 1 1 0 1 0 1 0 1 0 1-1 1-2 1 1 1 0 1 1 1 1 1 0 1-1 1 1 1 0 1-1 1 0 1 0 1-1 1 0 1 0 1-1 1 0 1 2 1 0 1-1 1 0 1 0 1 0 1 0 1 0 1 0 1 0 1-1 1-1 1 0 1 1 1 0 1-1 1 0 1-1 1-1 1-1 1 0 1 0 1-1 1-3 1-4 1-5 1-9 1-10 1-8 1-6 1-8 1-7 1-3 1 1 1 5 1 7 1 9 1 7 1 7 1 9 1 7 1 5 1 5 1 2 1 1 1 1 1 0 1 1 1 0 1 2 1 0 1 0 1 0 1 0 1 0 1 0 1 0 1-1 1 0 1 0 1 0 1 0 1 0 1 0 1 1 1 0 1 1 1 0 1-1 1-1 1 1 1 1 1 0 1 0 1 0 1-1 1 0 1-1 1 0 1 1 1 1 1-1 1 0 1 0 1-1 1-1 1 0 1 0 1 1 1 0 1 0 1 0 1 1 1 0 1-2 1 1 1 0 1 2 1-1 1-1 1 1 1 0 1 0 1 1 1 0 1 0 1 0 1-1 1 1 1 1 1-1 1-1 1 0 1 0 1 1 1 1 1 0"/><path stroke="#bb1010" d="M0 469l1 1 1 1 1 0 1 0 1 0 1-1 1-2 1-1 1 1 1 1 1 1 1 0 1-2 1 1 1 0 1 0 1 0 1-1 1 0 1 1 1 1 1-1 1-1 1-1 1 1 1 1 1 0 1 1 1 1 1-1 1-1 1 0 1 1 1 0 1 1 1-1 1-1 1-1 1 0 1-1 1 0 1 1 1 1 1-1 1 0 1-1 1 0 1 1 1-1 1 0 1 1 1 0 1 1 1 0 1-1 1 0 1-1 1 1 1 1 1 0 1 1 1 0 1 0 1-1 1-1 1 0 1 0 1 0 1 1 1 0 1-1 1-1 1 1 1 0 1-1 1 0 1-1 1 1 1-1 1-2 1 1 1 1 1 1 1 0 1 0 1 0 1 2 1 0 1 0 1-2 1-1 1 0 1 1 1-1 1-2 1-1 1-1 1 0 1-1 1-2 1-2 1-2 1-5 1-7 1-8 1-8 1-9 1-8 1-5 1-3 1-1 1 2 1 7 1 8 1 7 1 8 1 8 1 7 1 5 1 4 1 2 1 2 1 0 1 1 1 2 1 3 1 2 1-1 1 0 1 0 1 0 1 0 1-1 1-1 1 0 1 0 1-1 1 0 1 2 1 0 1 0 1 2 1 0 1-2 1-1 1 1 1 1 1-1 1-1 1 0 1-1 1 2 1 1 1 0 1 0 1 0 1 0 1-1 1-1 1 1 1 1 1 1 1 0 1-1 1-2 1 0 1 1 1 1 1 0 1-1 1 0 1 1 1 0 1-1 1 1 1 1 1 0 1 0 1 0 1-1 1 0 1-1 1-1 1 0 1 0 1 1 1 0 1 1 1-2 1-1 1 0 1 0 1 1"/><path stroke="#b91010" d="M0 483l1 1 1 1 1-2 1 0 1 0 1 0 1 1 1 0 1 0 1 1 1 1 1-2 1-2 1 0 1 1 1 0 1 0 1 0 1 1 1-1 1-1 1 0 1 2 1 1 1 0 1-1 1 0 1 1 1 1 1-1 1-1 1 0 1-1 1 1 1 0 1 0 1 1 1 1 1-1 1-1 1 1 1 0 1-1 1 0 1 1 1 0 1 0 1 0 1 0 1 0 1-1 1 0 1-1 1 0 1 0 1 0 1 2 1 1 1 0 1-1 1-1 1 0 1-1 1 1 1 0 1 0 1 0 1 0 1-1 1-1 1 1 1 0 1 1 1 0 1-2 1 0 1 0 1-1 1 0 1 1 1 0 1-1 1 0 1 1 1-1 1 1 1 2 1-1 1-2 1-1 1 1 1 0 1 0 1 0 1-1 1-2 1-1 1 1 1 2 1-2 1-2 1-1 1-2 1-5 1-6 1-6 1-8 1-9 1-9 1-9 1-5 1-3 1 2 1 4 1 7 1 10 1 9 1 8 1 6 1 6 1 5 1 3 1 3 1 3 1 1 1-1 1 0 1 1 1 1 1 1 1-2 1-1 1 1 1 1 1 1 1 2 1 0 1-2 1-1 1-1 1 2 1 1 1 0 1 0 1 1 1 0 1-1 1-2 1-1 1 0 1 0 1 2 1 2 1 1 1-2 1-1 1 0 1 1 1 0 1-1 1 1 1-1 1-1 1 1 1 0 1 0 1 1 1 2 1 0 1-1 1-2 1 0 1 0 1-1 1-1 1 1 1 3 1 0 1-1 1 0 1-1 1 0 1 0 1 0 1 1 1-1 1 0 1 1 1 0 1-1 1-1 1-1 1 2"/><path stroke="#b71010" d="M0 498l1 1 1-1 1-1 1 2 1 1 1-1 1 0 1 0 1-1 1 0 1 0 1 1 1 1 1-1 1 1 1-1 1-2 1 0 1 1 1 0 1 0 1 0 1 1 1 1 1-1 1-1 1 0 1 1 1 0 1 1 1 0 1 0 1-1 1-2 1 0 1 1 1 0 1 0 1 0 1 0 1 0 1 0 1 1 1 0 1 1 1 1 1-1 1-1 1 1 1 1 1 0 1 0 1-1 1 0 1 0 1-1 1-1 1-2 1 1 1 2 1-1 1 0 1 1 1 1 1 0 1-2 1 0 1 1 1-1 1 1 1 2 1 0 1-3 1-2 1 1 1 1 1 0 1 2 1 1 1-2 1-2 1 1 1 0 1-1 1 1 1 0 1 0 1-1 1 0 1 1 1 0 1 0 1 0 1-1 1 1 1 1 1 0 1-2 1-1 1-2 1-1 1 0 1-1 1-2 1-4 1-5 1-7 1-7 1-9 1-9 1-9 1-8 1-3 1 2 1 3 1 4 1 7 1 8 1 10 1 8 1 6 1 7 1 4 1 3 1 1 1 1 1 1 1 2 1 0 1 0 1 1 1 1 1 0 1 0 1-1 1 0 1 0 1-1 1 1 1 0 1 0 1-1 1 0 1 0 1 0 1 0 1 1 1 1 1-2 1 0 1 1 1 1 1 1 1 0 1-1 1-1 1 1 1 1 1-1 1-1 1 0 1 2 1 1 1-1 1-1 1-1 1-1 1 1 1 0 1-1 1 0 1 1 1 1 1-1 1-1 1-1 1 1 1 0 1-1 1 0 1 2 1 0 1 0 1 1 1 0 1-1 1-1 1 1 1 0 1 1 1-1 1 0 1 1"/><path stroke="#b51010" d="M0 517l1 0 1-1 1 0 1 0 1 0 1 0 1-1 1 1 1 1 1-1 1-2 1 0 1 0 1 0 1-1 1-1 1 1 1 0 1 1 1 1 1 2 1 0 1-2 1-1 1-1 1 0 1 0 1 0 1 1 1 1 1 0 1-1 1 0 1-1 1 0 1 0 1 1 1 2 1-1 1-1 1 0 1 1 1 0 1 0 1-1 1 0 1 1 1 0 1 0 1 0 1-1 1 0 1 0 1 0 1-1 1 0 1-1 1 0 1 1 1 1 1 0 1-1 1-1 1-1 1 0 1 0 1-1 1 1 1 2 1 1 1-1 1 1 1 1 1-1 1 0 1 1 1 0 1-1 1 1 1-1 1 0 1-1 1 0 1 1 1-1 1-1 1 0 1 1 1 0 1 0 1 0 1-1 1 0 1 1 1 1 1 0 1 0 1-1 1 0 1 0 1-1 1 0 1-1 1-2 1-3 1-5 1-7 1-6 1-8 1-9 1-9 1-7 1-7 1-4 1 1 1 4 1 5 1 8 1 9 1 9 1 9 1 8 1 6 1 4 1 2 1 2 1 0 1 0 1 0 1 1 1-1 1 0 1 0 1 0 1 0 1 1 1 0 1 1 1 0 1 0 1-1 1-1 1-1 1-1 1 1 1 2 1 0 1 1 1 1 1 0 1 1 1 1 1 0 1 0 1-2 1-1 1 0 1-1 1-1 1 1 1 2 1-1 1-1 1 0 1 0 1 0 1 0 1-1 1 0 1 1 1 2 1 2 1 0 1-1 1-1 1-2 1-1 1 0 1 0 1 1 1 2 1 0 1 0 1-2 1-1 1 1 1 1 1 2 1 0 1-2 1-1 1 0 1 0"/><path stroke="#b21010" d="M0 528l1 2 1 0 1 0 1-1 1 0 1 0 1 0 1 0 1 0 1 0 1 0 1-1 1 1 1 2 1 0 1 0 1 1 1-1 1 0 1 0 1 0 1 0 1-1 1 0 1 0 1 0 1-2 1 0 1 1 1-1 1 0 1 1 1 0 1 0 1-1 1-1 1 0 1 0 1 1 1 1 1 0 1 1 1 1 1 1 1-2 1-2 1 0 1 0 1 1 1-1 1 1 1 1 1 0 1-1 1 0 1 1 1 1 1 0 1-2 1-2 1 2 1 2 1 0 1-2 1-1 1 0 1 0 1-1 1 1 1 2 1 1 1-1 1 0 1 0 1-1 1-1 1 0 1 2 1 0 1 0 1-1 1 0 1-1 1-1 1 2 1 0 1 0 1-1 1 1 1 1 1-1 1-1 1-1 1-1 1 0 1 1 1 0 1 0 1 1 1-1 1 0 1-1 1-2 1-2 1-3 1-4 1-5 1-6 1-7 1-8 1-8 1-9 1-7 1-3 1-2 1 2 1 5 1 8 1 8 1 7 1 7 1 8 1 7 1 6 1 3 1 2 1 2 1 0 1 1 1 0 1 0 1 1 1 0 1 0 1-1 1 2 1 0 1-1 1-1 1 0 1-1 1 0 1 1 1 1 1 0 1 0 1 1 1 0 1-1 1 1 1 1 1 1 1 0 1-2 1-3 1 0 1 2 1 0 1 0 1 2 1 0 1-1 1 0 1 0 1 0 1 0 1-1 1-1 1 1 1 0 1 1 1 0 1 1 1 1 1-1 1-1 1 0 1 1 1-1 1-1 1 2 1 0 1-1 1 0 1 0 1 0 1 0 1 0 1 1 1 0 1-1 1 0 1-1"/><path stroke="#b01010" d="M0 547l1 0 1 0 1 0 1 0 1-1 1 1 1 0 1 0 1-1 1 1 1-1 1 0 1-1 1 0 1-2 1 1 1 0 1 1 1 1 1 0 1-1 1 1 1-1 1 0 1 0 1 0 1 2 1 0 1 0 1-1 1-2 1 0 1 1 1 1 1 0 1 0 1 1 1-1 1 0 1-1 1-2 1 0 1 1 1 1 1-1 1 0 1 0 1 0 1 1 1 1 1 0 1 0 1-1 1 0 1 0 1 0 1-2 1 1 1 1 1 0 1-1 1 1 1 0 1-1 1-2 1 1 1 0 1 1 1 1 1 1 1-1 1-2 1 0 1 0 1 2 1 1 1-1 1 0 1-1 1 1 1 1 1-2 1 1 1-1 1-2 1-1 1 1 1 2 1-1 1 0 1 1 1 0 1-1 1 0 1 0 1 0 1 0 1-1 1-1 1 0 1-1 1-2 1-2 1-2 1-3 1-3 1-5 1-6 1-7 1-7 1-9 1-9 1-6 1-3 1 0 1 2 1 5 1 6 1 7 1 8 1 7 1 8 1 6 1 5 1 2 1 2 1 2 1 2 1 0 1 1 1 2 1 0 1 1 1 2 1 0 1 0 1 0 1 0 1 0 1 0 1-1 1-1 1 0 1 0 1 0 1 1 1 1 1 0 1 0 1 0 1 0 1 0 1 0 1-1 1 1 1-1 1 0 1-1 1 1 1 0 1 0 1-1 1 0 1 0 1 1 1 0 1 0 1 0 1-1 1-1 1-1 1 1 1 0 1 0 1 1 1 1 1 0 1 0 1-1 1-1 1 1 1 1 1 1 1 1 1 1 1-1 1-1 1-1 1 0 1 0 1 0 1 1 1-2"/><path stroke="#ae1010" d="M0 561l1 0 1-1 1 0 1 0 1-1 1 0 1 1 1 0 1 0 1 0 1 0 1 0 1 0 1 0 1 1 1-1 1-1 1 0 1 0 1 1 1 1 1 0 1-1 1-1 1-2 1 0 1 1 1 0 1-1 1 1 1 1 1 0 1 0 1 2 1 0 1-1 1 0 1 0 1 0 1-2 1 0 1 1 1 0 1 1 1-1 1-1 1 2 1 1 1 0 1 1 1 0 1-2 1 0 1 0 1-1 1 0 1-1 1 0 1-1 1 0 1 0 1 1 1 1 1 2 1 1 1-1 1-2 1 0 1 1 1 0 1-1 1 0 1 0 1-1 1-1 1-1 1 1 1 1 1 0 1 0 1 0 1 0 1-1 1-1 1 0 1 0 1-2 1-1 1 1 1-2 1-2 1-1 1-2 1-3 1-4 1-4 1-3 1-7 1-6 1-4 1-5 1-4 1-3 1-3 1-1 1 0 1 1 1 1 1 2 1 5 1 6 1 5 1 5 1 4 1 5 1 5 1 2 1 3 1 3 1 3 1 2 1 0 1 1 1 2 1 0 1 0 1 0 1 0 1 1 1 2 1 2 1 0 1-1 1 0 1 0 1-1 1 0 1 1 1-1 1 0 1 0 1 0 1 0 1 1 1 0 1-1 1-1 1 0 1 0 1 1 1 2 1 1 1-2 1-1 1-1 1-1 1 1 1 3 1-1 1-2 1 0 1 1 1 0 1 0 1 0 1-1 1 0 1 1 1-1 1 0 1 0 1 1 1 0 1 1 1 0 1 0 1-1 1-1 1-1 1 1 1 3 1 1 1-3 1-1 1 1 1 1 1-1 1-1 1 0 1 1 1 2 1 0 1-1"/><path stroke="#ab1010" d="M0 576l1 0 1 1 1-1 1-1 1 1 1 0 1-1 1-1 1 2 1 0 1 1 1-1 1-1 1-1 1 0 1 0 1 0 1 1 1 1 1-1 1 0 1 0 1 2 1-1 1 0 1 0 1 0 1 0 1 1 1 1 1 0 1 0 1-1 1-2 1 0 1 0 1 1 1 0 1-1 1-1 1 0 1 2 1 0 1 0 1 0 1 0 1-1 1-1 1 0 1 1 1 0 1-1 1-1 1 1 1 1 1 0 1-1 1 0 1 0 1 0 1 0 1 0 1-1 1 1 1 0 1 0 1 0 1 0 1-1 1 0 1 1 1 2 1-1 1-1 1 1 1 0 1-1 1 0 1 1 1-1 1-1 1-1 1 0 1-1 1 0 1-1 1-3 1-2 1-2 1-3 1-3 1-4 1-4 1-4 1-5 1-6 1-6 1-4 1-5 1-4 1-2 1 1 1 1 1 2 1 3 1 4 1 4 1 5 1 7 1 6 1 5 1 3 1 3 1 3 1 4 1 2 1 3 1 2 1 0 1-1 1-1 1 1 1 0 1 1 1 1 1 0 1 1 1 0 1-1 1 0 1 0 1 1 1 2 1-1 1-1 1 0 1 1 1 0 1-1 1-1 1 1 1 1 1 0 1 0 1-1 1-1 1 1 1 1 1-1 1 0 1 0 1 0 1 1 1-1 1-2 1 1 1 1 1 0 1 0 1 1 1 1 1 0 1-1 1-2 1 1 1 1 1 0 1-1 1 1 1 0 1 1 1-1 1-1 1 0 1 0 1 0 1-1 1 0 1 1 1 2 1 2 1 0 1-2 1-1 1 0 1 0 1 0 1-1 1 0 1 2 1 1 1 0 1 1"/><path stroke="#a91010" d="M0 594l1-3 1-1 1 0 1 0 1 0 1 1 1 1 1 0 1 0 1-1 1 0 1 0 1 0 1 0 1 0 1-1 1 2 1 1 1-2 1-1 1 1 1-2 1-1 1 1 1 2 1 1 1 0 1 0 1-2 1-2 1 1 1 1 1 1 1-1 1 0 1-1 1-1 1 0 1 1 1 1 1-1 1-1 1 0 1 1 1 1 1 0 1 1 1 0 1-1 1 1 1 1 1 0 1-1 1 0 1 0 1-1 1-1 1 0 1 0 1 0 1 1 1 0 1 0 1-1 1-1 1 1 1 2 1 0 1-1 1-2 1 0 1-1 1 0 1 0 1 1 1 0 1 0 1-1 1-1 1 0 1-1 1-1 1-1 1-2 1-2 1-1 1-3 1-5 1-5 1-5 1-5 1-6 1-7 1-6 1-5 1-1 1 0 1 2 1 0 1 2 1 3 1 3 1 6 1 6 1 5 1 4 1 5 1 3 1 4 1 4 1 3 1 1 1 2 1 1 1 2 1 1 1 0 1 0 1-1 1 0 1 1 1 0 1 0 1 0 1 1 1 0 1 0 1-1 1 1 1 1 1 1 1-2 1 0 1 1 1 0 1-1 1-1 1 1 1 0 1 0 1-1 1 0 1 1 1 2 1 0 1-1 1 0 1 0 1 0 1 1 1-1 1 0 1 0 1 0 1 0 1 0 1 1 1 0 1 0 1 0 1-1 1 0 1 1 1-1 1-1 1 2 1 1 1-1 1-2 1 1 1 0 1-1 1 0 1 2 1 1 1-1 1 0 1-1 1 0 1 1 1-1 1-1 1 1 1 1 1-1 1 0 1 0 1-1 1 0 1 0 1 0 1 0 1 0"/><path stroke="#a71010" d="M0 604l1 1 1 1 1 0 1 2 1 1 1-1 1-2 1 1 1 0 1-1 1 0 1 0 1 2 1-1 1-1 1-1 1 1 1 1 1 0 1-1 1-1 1 0 1 0 1 1 1 0 1-2 1 1 1 1 1 1 1-1 1-1 1 0 1 1 1-1 1-1 1 1 1 1 1 0 1 0 1 0 1-1 1 0 1 1 1 0 1 0 1-2 1 0 1 2 1 0 1 0 1 0 1 0 1-1 1 0 1 0 1 1 1 0 1-2 1 0 1 0 1 0 1 0 1-1 1 0 1 2 1 0 1-1 1 0 1 2 1 0 1-2 1-1 1-1 1 1 1 0 1 0 1-1 1-1 1-3 1-2 1-1 1-2 1-3 1-4 1-4 1-5 1-5 1-7 1-7 1-4 1-4 1-4 1-3 1-1 1 2 1 2 1 3 1 5 1 7 1 6 1 6 1 5 1 4 1 4 1 4 1 3 1 1 1 2 1 2 1 1 1 1 1 1 1 1 1 0 1 0 1 1 1 1 1 0 1-1 1-1 1 0 1 1 1 0 1 0 1 1 1 1 1 0 1-1 1 1 1 2 1 0 1-1 1-1 1-1 1 0 1 0 1 0 1-1 1 0 1 1 1 0 1-1 1 1 1 1 1-1 1 0 1-1 1 1 1-1 1 0 1 2 1 1 1-2 1-1 1 1 1 1 1 0 1-2 1-1 1 1 1 2 1 0 1 0 1-2 1 0 1 1 1 1 1 0 1-1 1 0 1 1 1 2 1 0 1-1 1-1 1-1 1-1 1 0 1 0 1 0 1 0 1 1 1 0 1 1 1 0 1 0 1 1 1-1 1 0 1-1 1 1 1-1 1-1"/><path stroke="#a41010" d="M0 624l1 0 1-1 1-2 1-1 1 0 1 2 1 0 1 0 1 0 1 0 1 0 1 0 1 0 1-1 1 0 1-1 1-1 1-1 1 1 1 1 1 1 1 0 1-1 1 0 1 0 1-1 1 0 1 2 1 0 1-1 1 1 1 1 1 1 1-1 1 0 1 1 1 0 1-2 1-1 1 1 1-1 1 0 1 1 1 2 1 0 1-1 1-1 1-1 1 0 1 0 1 0 1 0 1 1 1 0 1 1 1 1 1 0 1-3 1-2 1 0 1 0 1 1 1-1 1 0 1 1 1 1 1-1 1 0 1 1 1 0 1 0 1-1 1-2 1 0 1-1 1 0 1-2 1-3 1-2 1-4 1-3 1-5 1-7 1-7 1-5 1-6 1-5 1-5 1-4 1-1 1-1 1 1 1 3 1 3 1 5 1 7 1 8 1 7 1 6 1 6 1 5 1 3 1 2 1 1 1 1 1 2 1 2 1 0 1-1 1 0 1 1 1 0 1 0 1 0 1 1 1 1 1 0 1-1 1-1 1 1 1 1 1 1 1-1 1-2 1 1 1 2 1 1 1-1 1-2 1-1 1 1 1 0 1 0 1 2 1 0 1-1 1-2 1 0 1 1 1 0 1 0 1 1 1 1 1 0 1-1 1 0 1 0 1 0 1 0 1 0 1 0 1-1 1 1 1 1 1 0 1 0 1 0 1 0 1-1 1 0 1 0 1-1 1-1 1 1 1 0 1 0 1-1 1 1 1 2 1 1 1-1 1-2 1-1 1 0 1 0 1 1 1 0 1 0 1 1 1 1 1 1 1-1 1-2 1 0 1 0 1-1 1 0 1 1 1 1 1-1 1-1 1 0 1 1"/><path stroke="#a21010" d="M0 638l1-2 1-1 1 1 1-1 1 1 1 1 1 0 1-1 1-1 1 0 1 1 1 1 1 1 1 0 1-2 1 0 1 0 1-1 1 0 1 0 1 0 1 0 1 0 1-1 1 0 1 1 1 0 1 0 1 1 1 0 1 0 1-1 1 0 1 0 1 2 1 0 1 0 1 0 1-1 1 0 1 0 1-1 1 0 1 0 1 0 1 0 1 1 1 1 1 0 1-2 1 0 1-1 1 0 1 0 1 1 1 0 1-1 1 0 1 1 1 0 1-1 1 1 1-1 1 1 1 0 1-2 1 0 1 1 1-1 1-1 1-1 1-1 1 0 1-1 1-3 1-4 1-3 1-3 1-5 1-6 1-7 1-8 1-6 1-3 1-4 1-5 1-1 1 1 1 3 1 4 1 5 1 5 1 6 1 6 1 6 1 7 1 5 1 3 1 3 1 2 1 1 1 1 1 0 1 1 1 2 1 1 1 0 1 0 1 2 1 0 1 0 1 0 1 0 1 1 1-2 1-1 1 1 1 2 1-1 1 0 1 0 1 0 1-1 1-1 1 0 1 2 1 0 1 1 1 1 1-1 1-1 1-1 1 0 1 0 1-1 1 0 1 2 1 1 1 0 1 0 1 0 1 0 1-1 1 0 1 0 1 0 1 1 1 1 1 0 1 0 1-1 1 0 1-1 1 0 1-1 1 0 1 0 1-1 1 1 1 1 1-1 1-1 1 0 1 1 1 1 1 0 1 1 1 0 1-2 1-1 1 1 1 1 1-1 1 0 1 1 1 0 1-1 1 0 1 1 1 0 1 1 1-2 1 0 1 0 1 0 1 0 1 0 1 0 1 0 1 0 1 0 1 0 1 0"/><path stroke="#a00f0f" d="M0 651l1 0 1 0 1-1 1 1 1 2 1 0 1 0 1-1 1-1 1 0 1 1 1 1 1 0 1 0 1-1 1 0 1 0 1 0 1-1 1 0 1 0 1 0 1-1 1-1 1 0 1 1 1 2 1 1 1-1 1-1 1-1 1 0 1 1 1 0 1 0 1 1 1-1 1-1 1-1 1 1 1 1 1 1 1 1 1 0 1 0 1 0 1 0 1-1 1-1 1 0 1 0 1-1 1 0 1 0 1 0 1 1 1 0 1 1 1-1 1-1 1 0 1 0 1 1 1-1 1-1 1 0 1-1 1 0 1-1 1-2 1-2 1-2 1-3 1-4 1-4 1-4 1-7 1-6 1-5 1-7 1-7 1-4 1-2 1-1 1 1 1 2 1 5 1 6 1 6 1 6 1 6 1 6 1 4 1 5 1 4 1 2 1 3 1 2 1 1 1 1 1 1 1 0 1 1 1 1 1 0 1-1 1-1 1 0 1 1 1 1 1 1 1 0 1 0 1-1 1 0 1 0 1 1 1-2 1 1 1 1 1 1 1 1 1 0 1-2 1-1 1 0 1 0 1 0 1 0 1 0 1 2 1 1 1-1 1-2 1-1 1 2 1 1 1-1 1-1 1 0 1 0 1 0 1-1 1 0 1 0 1 0 1 1 1 0 1 0 1 0 1 1 1 0 1 0 1-1 1-1 1-1 1 1 1 1 1 2 1-1 1-1 1 1 1 0 1-1 1 1 1 0 1-1 1 0 1 0 1 0 1 0 1 0 1-1 1 0 1 2 1 0 1 0 1-1 1 1 1 0 1 0 1 0 1-1 1-1 1 0 1 1 1 2 1-1 1-2 1 1 1 0 1 1 1 0"/><path stroke="#9d0f0f" d="M0 667l1 1 1 0 1-1 1 0 1 0 1 0 1-1 1 1 1 0 1 0 1 0 1-1 1 0 1 0 1 1 1 0 1 0 1 0 1-1 1 0 1 0 1 0 1 1 1 1 1 1 1 0 1-1 1-2 1 1 1 1 1 1 1-1 1-1 1 0 1 0 1-1 1-1 1-1 1 1 1 2 1-1 1-1 1 0 1 0 1 2 1 0 1-1 1 0 1 0 1 0 1 0 1-1 1 0 1 0 1 1 1-1 1-1 1 0 1 2 1 0 1-1 1 0 1 0 1-2 1 0 1-1 1-1 1-2 1-3 1-2 1-4 1-7 1-6 1-6 1-6 1-6 1-7 1-6 1-3 1-1 1 1 1 2 1 3 1 5 1 6 1 7 1 7 1 6 1 5 1 5 1 4 1 3 1 4 1 1 1 2 1 1 1 2 1-1 1 1 1 1 1-1 1-2 1 0 1 0 1 0 1 0 1 1 1 1 1 0 1 0 1-1 1 0 1 0 1 0 1 1 1 0 1 0 1 0 1 0 1-1 1-1 1 1 1 1 1 1 1 0 1 1 1 0 1 0 1-1 1-2 1-1 1 1 1 0 1 0 1 0 1 0 1 1 1-1 1 0 1 0 1 0 1 1 1 1 1-2 1-1 1 0 1 0 1 2 1 0 1-1 1 0 1 1 1 1 1-2 1-1 1 0 1 2 1 1 1 1 1-2 1-1 1 0 1 0 1 0 1 1 1 0 1-1 1 0 1 2 1 1 1-1 1 0 1 0 1-1 1-1 1-1 1 1 1 0 1 0 1-1 1-1 1 0 1 1 1 1 1 0 1 0 1 1 1 0 1-1 1 0 1 1 1 0 1-1"/><path stroke="#9b0f0f" d="M0 683l1 0 1 0 1 0 1 0 1 0 1-1 1 1 1 0 1 0 1 0 1-1 1-1 1 1 1 1 1 0 1 0 1 1 1 0 1 1 1 0 1-2 1-3 1 0 1 1 1 1 1 0 1-2 1 0 1 1 1-1 1 0 1 2 1 0 1 0 1 0 1-1 1 1 1 1 1 0 1-1 1-1 1 0 1 1 1 0 1-2 1-1 1 0 1 0 1 2 1 0 1 0 1 1 1 1 1-1 1-2 1-1 1-1 1 0 1 2 1 2 1-1 1-2 1-2 1-1 1-2 1-4 1-3 1-2 1-4 1-6 1-7 1-7 1-8 1-5 1-4 1-5 1-2 1 0 1 1 1 4 1 8 1 8 1 6 1 5 1 7 1 6 1 3 1 3 1 5 1 3 1 0 1-1 1 2 1 2 1 1 1 0 1 0 1 0 1-1 1 0 1 0 1 1 1 1 1 0 1 0 1 0 1 0 1 0 1 0 1 1 1 0 1-2 1 1 1 2 1-1 1-3 1 0 1 1 1 1 1 1 1 0 1 0 1-1 1-1 1-1 1 1 1 1 1 1 1 0 1-1 1-2 1-2 1 2 1 2 1-1 1 0 1 2 1 1 1-1 1-2 1 1 1 1 1 0 1 0 1 1 1-1 1-1 1 1 1 1 1-1 1 0 1-1 1 0 1 0 1 0 1 0 1 0 1-1 1 0 1 0 1 1 1 0 1 0 1-1 1-1 1 2 1 0 1-1 1 0 1 1 1 0 1 1 1 1 1 1 1-1 1-1 1-1 1 1 1 1 1 0 1-1 1-1 1 0 1 1 1 0 1-1 1 0 1 1 1 0 1 0 1 1 1 0 1 0"/><path stroke="#990f0f" d="M0 696l1 2 1 0 1-1 1 0 1 0 1 2 1 1 1-1 1 0 1 0 1-1 1-1 1 1 1 0 1 1 1 0 1 0 1 0 1 0 1 0 1 0 1 0 1-1 1 0 1 0 1 1 1 0 1-1 1 0 1 0 1-1 1 1 1 0 1-1 1-2 1 1 1 1 1 1 1 0 1-1 1-1 1 0 1 0 1-1 1 1 1 0 1 1 1-1 1-1 1 0 1 0 1 1 1-1 1 0 1 0 1 1 1 0 1-3 1-1 1 1 1-1 1-3 1-3 1-3 1-3 1-4 1-7 1-6 1-6 1-7 1-7 1-6 1-4 1-2 1 0 1 2 1 3 1 6 1 8 1 9 1 7 1 6 1 5 1 6 1 3 1 3 1 2 1 2 1 0 1-1 1 1 1 1 1 2 1 1 1-1 1 1 1 0 1 0 1-1 1 1 1-1 1 0 1-1 1 0 1-1 1 0 1 1 1 1 1 0 1 1 1 1 1 0 1-1 1 0 1-1 1 0 1 0 1 0 1 1 1 0 1-1 1 0 1 0 1 0 1 0 1-1 1 0 1 1 1 0 1 0 1 0 1-1 1 0 1 1 1 0 1 0 1 0 1 0 1 2 1 0 1 0 1 0 1-1 1 0 1 1 1 1 1 0 1-1 1-1 1 1 1 1 1 0 1-1 1 1 1-1 1 0 1 0 1-1 1 0 1 2 1-1 1-1 1 0 1-1 1 0 1 0 1 0 1 0 1 0 1 0 1 0 1 0 1 0 1 0 1 1 1 0 1-1 1-1 1 0 1 0 1 1 1 0 1-1 1 0 1 1 1 1 1 0 1-1 1 1 1 0 1 0 1-2 1-1"/><path stroke="#960f0f" d="M0 718l1-3 1-2 1 1 1 0 1-1 1 0 1 0 1 1 1-1 1-1 1-1 1 0 1 1 1 0 1 1 1 1 1 0 1-1 1 0 1 0 1 0 1 0 1 0 1-1 1-1 1 1 1 0 1 0 1 1 1 1 1 1 1-2 1-1 1-1 1 0 1 1 1 1 1-1 1 0 1-1 1 0 1 1 1 1 1 0 1 0 1-1 1-2 1 0 1 0 1 1 1 1 1 0 1-1 1 0 1-1 1-1 1-1 1-1 1-2 1-2 1-4 1-6 1-6 1-7 1-7 1-8 1-4 1-5 1-5 1-2 1 0 1 1 1 5 1 6 1 5 1 7 1 6 1 6 1 6 1 5 1 3 1 2 1 3 1 2 1 1 1 1 1 1 1 1 1 2 1 0 1-1 1-1 1 1 1 1 1-1 1-1 1 0 1 0 1 1 1 1 1 0 1 1 1-1 1-1 1 1 1 1 1-1 1-1 1 0 1 1 1-1 1 0 1-1 1 1 1 1 1 1 1 1 1 0 1-1 1-1 1 1 1 1 1 0 1-3 1-1 1 1 1 0 1 0 1 0 1-1 1-1 1 2 1 1 1 1 1 0 1-1 1-1 1-1 1 0 1 1 1 2 1 1 1 0 1-2 1-1 1 1 1 0 1-2 1 0 1 1 1 1 1-1 1-1 1 0 1 0 1 0 1 1 1 0 1-1 1 0 1 1 1 0 1 0 1-1 1 1 1-1 1 1 1 1 1 0 1-1 1 0 1 1 1 0 1-1 1 0 1 0 1 1 1 0 1 0 1 0 1-1 1 0 1-1 1 0 1 0 1 0 1 1 1 1 1 0 1 0 1-1 1-1 1 1"/><path stroke="#940f0f" d="M0 728l1 0 1 0 1 1 1 1 1 0 1-1 1 0 1 1 1 1 1-1 1-1 1 0 1-1 1 0 1 0 1 0 1-1 1 0 1 1 1-1 1 0 1-1 1 2 1 0 1 0 1 0 1 0 1 0 1 1 1 0 1 0 1 0 1-1 1-1 1 0 1 1 1-1 1 0 1 1 1 0 1-1 1 1 1 1 1 1 1-1 1-2 1-2 1 0 1 1 1 0 1 0 1-2 1-2 1 0 1 1 1-2 1-4 1-4 1-5 1-6 1-6 1-6 1-7 1-8 1-6 1-3 1-2 1-1 1 3 1 3 1 4 1 6 1 8 1 7 1 6 1 5 1 5 1 5 1 2 1 3 1 0 1 1 1 2 1 1 1-1 1 1 1 2 1 1 1 2 1 0 1-1 1-2 1-1 1 0 1 0 1 0 1 0 1 0 1 1 1 1 1 0 1 0 1-1 1 1 1-1 1 0 1 0 1 1 1 1 1 0 1 0 1 1 1 0 1-2 1-1 1 0 1 2 1 1 1 0 1-1 1-1 1-2 1 0 1 0 1 0 1 0 1 1 1 0 1 0 1 1 1 0 1-1 1 1 1 1 1 0 1 0 1 0 1 0 1 0 1-1 1 1 1 0 1-1 1-1 1 0 1 0 1 0 1 1 1 0 1 0 1 0 1 1 1 1 1-1 1-1 1 0 1 0 1-1 1 0 1-1 1-1 1 0 1 2 1 1 1 0 1 0 1 0 1-1 1 0 1 0 1-1 1 0 1 0 1 0 1 0 1 1 1 1 1 0 1 0 1-1 1-1 1 1 1 1 1 2 1 0 1-2 1-1 1 1 1 0 1-1 1 0 1 2 1 1"/><path stroke="#920f0f" d="M0 740l1 1 1 1 1 1 1 1 1-1 1-1 1 1 1 1 1 0 1-1 1 1 1-1 1-1 1 0 1 1 1 1 1 0 1-1 1 0 1 0 1-1 1 1 1 1 1-2 1-1 1 0 1 0 1-1 1 0 1 1 1 2 1 0 1 1 1 0 1 0 1-1 1-1 1 1 1 3 1 0 1-2 1 0 1-1 1 0 1 0 1-1 1 0 1-1 1-2 1-1 1-2 1-1 1-1 1-2 1-3 1-5 1-5 1-6 1-6 1-6 1-6 1-5 1-4 1-3 1-1 1 2 1 1 1 3 1 5 1 6 1 7 1 6 1 6 1 5 1 6 1 4 1 3 1 3 1 1 1-1 1 0 1 2 1 0 1 0 1-1 1 0 1 0 1-1 1 0 1 2 1 3 1 0 1-1 1-1 1 1 1 1 1-1 1-1 1 0 1 2 1 1 1-3 1-2 1 2 1 0 1 1 1 0 1-1 1-2 1 0 1 1 1 0 1 0 1 0 1 0 1-1 1 1 1 1 1 1 1 1 1-1 1-1 1 2 1 0 1 0 1 0 1 1 1-1 1 0 1-1 1-1 1-1 1 1 1 0 1 0 1 0 1 0 1-1 1 0 1 1 1 1 1-1 1 0 1 1 1-2 1-1 1 0 1 2 1 1 1-1 1-1 1 0 1 0 1 0 1-2 1 0 1 2 1 1 1 0 1 1 1-1 1-1 1 0 1 1 1 0 1 0 1 0 1 0 1-2 1 0 1 0 1 1 1 0 1 0 1 0 1-1 1 0 1 1 1 2 1 1 1 0 1-1 1-1 1 0 1 0 1 0 1 1 1 0 1 0 1 0 1-1 1-1 1 0"/><path stroke="#8f0f0f" d="M0 757l1 1 1 1 1 0 1 1 1 1 1 0 1-1 1-1 1-2 1 1 1 0 1-1 1 1 1 0 1 0 1-1 1 0 1 0 1 0 1 1 1 2 1 2 1-1 1-2 1-1 1 0 1 1 1 1 1-1 1 0 1 0 1 0 1-1 1 0 1 0 1-1 1-1 1 0 1 0 1 0 1-1 1 0 1 2 1 0 1-2 1-1 1 1 1 1 1-2 1-2 1-2 1-2 1-5 1-6 1-6 1-5 1-6 1-6 1-5 1-4 1-2 1-2 1-1 1 1 1 5 1 6 1 5 1 3 1 4 1 6 1 6 1 4 1 4 1 3 1 4 1 4 1 0 1 0 1 0 1 0 1 1 1 0 1 1 1 1 1 0 1 0 1 0 1-1 1-2 1 0 1 0 1 2 1 1 1 0 1-1 1 0 1 1 1 1 1-1 1 0 1 1 1-1 1-1 1-1 1 2 1 1 1-1 1-1 1-1 1 1 1 1 1 0 1 0 1 0 1 1 1-1 1-1 1 1 1 1 1-1 1-2 1 1 1 0 1-1 1 0 1 0 1 1 1 0 1-1 1-1 1 1 1 2 1-1 1 0 1 0 1 0 1 1 1 0 1-1 1-2 1-1 1 0 1 2 1 1 1 2 1 0 1-1 1-1 1 1 1 1 1-1 1 0 1-1 1 0 1 0 1 0 1-1 1 1 1 0 1 0 1 0 1 1 1 0 1 0 1 1 1 1 1 0 1-1 1-1 1-1 1 1 1 2 1-1 1-1 1 0 1-2 1 0 1 0 1-1 1 0 1 2 1 1 1 0 1-1 1-1 1 0 1 1 1 0 1-1 1 1 1 0 1-1 1-1"/><path stroke="#8d0f0f" d="M0 773l1 0 1 1 1 1 1-1 1 0 1 0 1 1 1-1 1 0 1 1 1-1 1-1 1 0 1-1 1 0 1 0 1 0 1 2 1-1 1-3 1 1 1 2 1 1 1 0 1 0 1 1 1 0 1 0 1-1 1-1 1-1 1 0 1 0 1 3 1 1 1-2 1-2 1 0 1 0 1 1 1 0 1-1 1-2 1 0 1-1 1-1 1-1 1-3 1-4 1-3 1-2 1-3 1-4 1-6 1-5 1-4 1-4 1-2 1-2 1-2 1 1 1 2 1 2 1 4 1 5 1 5 1 5 1 5 1 3 1 4 1 4 1 3 1 1 1 1 1 1 1 1 1 1 1 0 1 0 1 1 1 0 1 0 1-2 1-1 1 1 1 2 1 2 1 0 1 0 1 0 1-1 1-1 1-1 1 0 1 1 1 2 1 0 1-1 1 0 1 0 1-2 1-1 1 0 1 1 1 1 1 0 1 1 1 0 1 0 1 0 1-1 1 0 1 0 1 1 1-1 1-1 1 1 1 1 1 1 1 0 1-1 1 0 1 1 1-1 1-1 1 1 1 0 1 0 1 0 1 0 1-1 1-1 1 1 1 1 1 0 1-1 1-1 1 1 1 1 1 2 1-2 1-1 1 1 1 0 1-1 1 0 1 1 1-1 1 0 1 0 1-1 1 0 1 0 1 1 1 2 1-1 1-1 1 1 1 1 1 0 1-1 1 0 1 0 1 0 1 0 1 0 1 1 1-2 1 0 1 0 1 1 1 0 1 0 1-1 1 0 1 0 1 0 1-1 1 0 1 1 1 0 1-1 1 1 1 2 1-1 1 0 1-1 1-1 1 0 1 1 1 2 1-1 1-1"/><path stroke="#8a0f0f" d="M0 791l1-2 1 0 1 0 1-1 1 0 1 1 1-1 1 0 1 0 1 0 1 0 1-1 1 0 1 1 1 0 1 0 1 1 1 0 1 0 1-1 1 0 1 1 1 2 1 1 1-1 1-1 1 0 1-1 1 0 1-1 1 0 1 1 1 0 1 0 1-2 1 0 1 0 1-1 1-1 1 1 1 0 1-3 1-1 1-1 1 0 1-2 1-3 1-3 1-3 1-4 1-3 1-4 1-5 1-4 1-2 1-2 1-1 1 0 1 1 1 3 1 3 1 3 1 3 1 5 1 5 1 3 1 2 1 3 1 3 1 3 1 2 1 0 1 0 1 0 1 2 1 2 1 1 1 1 1-1 1-1 1 0 1 1 1 1 1 0 1-1 1 0 1 0 1-1 1 1 1 0 1-2 1 0 1 1 1 1 1 0 1 0 1-1 1 1 1 0 1-1 1-1 1 1 1 1 1 1 1-2 1 1 1 0 1-1 1-1 1 0 1 0 1 1 1 1 1 0 1 0 1-1 1 0 1 2 1 0 1-1 1 1 1 0 1-1 1 0 1-3 1 0 1 2 1 0 1 0 1 1 1 0 1-2 1 1 1 1 1 0 1-2 1 0 1 0 1-1 1 0 1 0 1 2 1 2 1 0 1 0 1-1 1 0 1 0 1-2 1 1 1 0 1 0 1 0 1 2 1 0 1-2 1-1 1 1 1 0 1 0 1 1 1 0 1 1 1 1 1 0 1-1 1 1 1 1 1-2 1-2 1 0 1 0 1 0 1 0 1 0 1 0 1 0 1 0 1-1 1 1 1 0 1-1 1-1 1 1 1-1 1 1 1 0 1 0 1-1 1-1 1 1 1 2 1 1"/><path stroke="#880f0f" d="M0 805l1 0 1 0 1-1 1 1 1 1 1-1 1 1 1 0 1 0 1-1 1 0 1 0 1 0 1-1 1 0 1 0 1 0 1 1 1-1 1-1 1 0 1 0 1 1 1 1 1 0 1 0 1-2 1 1 1 0 1-1 1 0 1 0 1 0 1-1 1 0 1 0 1-1 1-1 1 1 1-2 1-2 1 0 1-3 1-4 1 0 1 0 1-3 1-2 1-4 1-4 1-3 1-1 1-1 1-1 1-2 1-1 1 1 1 3 1 3 1 3 1 2 1 4 1 3 1 2 1 4 1 4 1 0 1 1 1 2 1 1 1 0 1-1 1 0 1 1 1 2 1 0 1 0 1 1 1-1 1 0 1 1 1-1 1 0 1 2 1 1 1 0 1-2 1 0 1 1 1 1 1 0 1-1 1-1 1 1 1-1 1-2 1-1 1 1 1 1 1 1 1 0 1-1 1 1 1 0 1 0 1 0 1 0 1 0 1 0 1 0 1 0 1 1 1-1 1 0 1-1 1 0 1 1 1-1 1 0 1-1 1 1 1 1 1 1 1 0 1-2 1-2 1 0 1 0 1 1 1 2 1 0 1-1 1 0 1-1 1 0 1 1 1 1 1 1 1-1 1 0 1 0 1 0 1-1 1 0 1 0 1-1 1 1 1 1 1 1 1 0 1-1 1-3 1 0 1 0 1 1 1 1 1-1 1 0 1 1 1 1 1 1 1 0 1 0 1 0 1-1 1-1 1 0 1 1 1 1 1 0 1-1 1-2 1-1 1 1 1 1 1 0 1-2 1 0 1 1 1 0 1 0 1 0 1 2 1 0 1 0 1 0 1 0 1 1 1 1 1-1 1-2 1-1 1 0"/><path stroke="#850f0f" d="M0 820l1 0 1 0 1 0 1 1 1-1 1 0 1 0 1 0 1 1 1 0 1 0 1 0 1 1 1-1 1-1 1-1 1-1 1 1 1 0 1 1 1 1 1-2 1 0 1 2 1 0 1-1 1-2 1 0 1 1 1 1 1 0 1 0 1-1 1-1 1-1 1 0 1-1 1-1 1-1 1-2 1-2 1-2 1 0 1-2 1-3 1-2 1-1 1-1 1-2 1-1 1-2 1 0 1-1 1 1 1 2 1 1 1 0 1 2 1 4 1 2 1 1 1 1 1 2 1 2 1 2 1 0 1 1 1 2 1 2 1 1 1 0 1 0 1 0 1-1 1 0 1 1 1 1 1 0 1 0 1-1 1-1 1 0 1 2 1 1 1-1 1-1 1 0 1 0 1-1 1 0 1 2 1 1 1 0 1-2 1-2 1 0 1 1 1 0 1 1 1 0 1-2 1-1 1 1 1 3 1 0 1-2 1-1 1 2 1 2 1 0 1-1 1 0 1 0 1 0 1 0 1-1 1-1 1-1 1 0 1 2 1 0 1 0 1 2 1 1 1-2 1-2 1-1 1 0 1 0 1 0 1 1 1 1 1 0 1 0 1 2 1 0 1-1 1 0 1 0 1 0 1 1 1-1 1-1 1 0 1 2 1 0 1-2 1 0 1 0 1-1 1 0 1 0 1 0 1 1 1-1 1 1 1 1 1 0 1 1 1 0 1-1 1 0 1-1 1 0 1-1 1 0 1 1 1 0 1 0 1 0 1 0 1 0 1 0 1 0 1 0 1-1 1-1 1-1 1 1 1 0 1 2 1 0 1-2 1 0 1 2 1 1 1 0 1-1 1 1 1 0 1 0 1-1 1-2"/><path stroke="#830f0f" d="M0 835l1 0 1-1 1 0 1 0 1 1 1 0 1 0 1-1 1 0 1 2 1 1 1 0 1 0 1-2 1-2 1 1 1-1 1 0 1 1 1 1 1-1 1 0 1 1 1 0 1-2 1 0 1 0 1 0 1 0 1-1 1 0 1 0 1-2 1-1 1 0 1-2 1-1 1-1 1-1 1 0 1 0 1-1 1-2 1-2 1-1 1-1 1-1 1 1 1 0 1-1 1 0 1 2 1 2 1-1 1-1 1 1 1 2 1 1 1 1 1 2 1 0 1 1 1 1 1 2 1 1 1 1 1 0 1 0 1 0 1 2 1 1 1-1 1 0 1 0 1 0 1 2 1-1 1-1 1 0 1 1 1 0 1 0 1 0 1 1 1 2 1 0 1-2 1-1 1 0 1 0 1 1 1 0 1-1 1 0 1 0 1 0 1 1 1-1 1 0 1-1 1-1 1-1 1 2 1 2 1 1 1-1 1-1 1-2 1 1 1 1 1 2 1 1 1 1 1-1 1-2 1-1 1-1 1 0 1 1 1-1 1 0 1 0 1 1 1 0 1 0 1 0 1 0 1 1 1 0 1 1 1-1 1-2 1-1 1 2 1 1 1-1 1 0 1 0 1 0 1-1 1 0 1-2 1 1 1 3 1 0 1 0 1 1 1 1 1-1 1-1 1 0 1-1 1-1 1 1 1 1 1 1 1-1 1-1 1-1 1 1 1 0 1 0 1 0 1 1 1 0 1 0 1-1 1-2 1 0 1 1 1 1 1-1 1-1 1 0 1-1 1 0 1 1 1 1 1 2 1 0 1-1 1 0 1 0 1-1 1 0 1 1 1 2 1-2 1-1 1 2 1 1 1 0 1 2"/><path stroke="#810f0f" d="M0 851l1 0 1-1 1-1 1-1 1 0 1 0 1 2 1 0 1 0 1 0 1 0 1 0 1 0 1 0 1 0 1 0 1-1 1-1 1 1 1 1 1 2 1 0 1 0 1-1 1 0 1 0 1 0 1-1 1 0 1 0 1 1 1-2 1-1 1 1 1 1 1 0 1-2 1-2 1 1 1 0 1-2 1 0 1-1 1-1 1 1 1 0 1-2 1-2 1-1 1 0 1-1 1 0 1-1 1-1 1-2 1 0 1 0 1-2 1-1 1-2 1 0 1-1 1 1 1 3 1 0 1-1 1 0 1 2 1 1 1 0 1 1 1 0 1 1 1 0 1 2 1 0 1 1 1 2 1 2 1 1 1 1 1 0 1 1 1-1 1-2 1-1 1 1 1 3 1 1 1 1 1 0 1 0 1-2 1 0 1 1 1 2 1 0 1-1 1 0 1 2 1 1 1-1 1 0 1-1 1-1 1 0 1 0 1 2 1 1 1 0 1-1 1-1 1 1 1 0 1-1 1-1 1 0 1 1 1 1 1 1 1 0 1-1 1-1 1 0 1 1 1 0 1-1 1 1 1 1 1-1 1 0 1-1 1 1 1 1 1-1 1-1 1 0 1-1 1 1 1 0 1 1 1 0 1 1 1 1 1-2 1-1 1 0 1 0 1 0 1 0 1 0 1-1 1-1 1 1 1 2 1 0 1-1 1 0 1 0 1 0 1 0 1 1 1 0 1-1 1-1 1 1 1 0 1 0 1 2 1-1 1-2 1 0 1 0 1-1 1 0 1 2 1 1 1-1 1 0 1 0 1 0 1-1 1 0 1 0 1 1 1 0 1-1 1 0 1 2 1-1 1-1 1 1 1 1"/><path stroke="#7e0f0f" d="M0 865l1 0 1-1 1 1 1 1 1 0 1 0 1 0 1-1 1 0 1 0 1 0 1-1 1 0 1 1 1-1 1 0 1 1 1 1 1 1 1 0 1-1 1 0 1 0 1-1 1-1 1-1 1-1 1 1 1 2 1 0 1 1 1 0 1-1 1 0 1 0 1-1 1 0 1 1 1 1 1-1 1-2 1-2 1 2 1 0 1 0 1 0 1-1 1-2 1-3 1 0 1 0 1 0 1-1 1-3 1-2 1-2 1-1 1-1 1 0 1 0 1 1 1-1 1-2 1-1 1 0 1 0 1-1 1 0 1 0 1 0 1 0 1 0 1 1 1 0 1 1 1 1 1 3 1 1 1-1 1 0 1 1 1 2 1 3 1 2 1-1 1 1 1 0 1 2 1 1 1 1 1 0 1 0 1 0 1 1 1 0 1-1 1 0 1 0 1 0 1 2 1 2 1 2 1-1 1-3 1 0 1 0 1 2 1 1 1 0 1-1 1-2 1-2 1 0 1 2 1 2 1 1 1-1 1-1 1 1 1 0 1-1 1 0 1 1 1 0 1-1 1-1 1 0 1-2 1 0 1 2 1 1 1 1 1 1 1 0 1 0 1-1 1-1 1-1 1 1 1 0 1 0 1 0 1-1 1 0 1 0 1 1 1 0 1 0 1-1 1 0 1 1 1 0 1 0 1 0 1 0 1 0 1 1 1 0 1 0 1 0 1 0 1 0 1 1 1 0 1 0 1 0 1-1 1 0 1-1 1-1 1 1 1 1 1 0 1 0 1-1 1-1 1 0 1 0 1 1 1 2 1 0 1-2 1-1 1 1 1 0 1 1 1-2 1 0 1 0 1 1 1 1 1-1 1-1"/><path stroke="#7c0f0f" d="M0 880l1-1 1 1 1 0 1 0 1 1 1 1 1-1 1-1 1 0 1 1 1-1 1 1 1 0 1 0 1 0 1-1 1 0 1 0 1 1 1 1 1-1 1 0 1 0 1 0 1-1 1 0 1-1 1 0 1 0 1 1 1 0 1-1 1 1 1 1 1 1 1-2 1 0 1 0 1-1 1 0 1-1 1 1 1 0 1-1 1 1 1 1 1-2 1-2 1-1 1 0 1 1 1-1 1-3 1 0 1 0 1 0 1-2 1-3 1-1 1-1 1-1 1 0 1-1 1-2 1 0 1 1 1 0 1-3 1-3 1-2 1 0 1 2 1 2 1 0 1-1 1 1 1 0 1 0 1 1 1 0 1-1 1 1 1 2 1 1 1 0 1 0 1 2 1 1 1 3 1 2 1 1 1 1 1-1 1 1 1 3 1 0 1 0 1 1 1 2 1 0 1-1 1 0 1 1 1 1 1 1 1 0 1 0 1-1 1 1 1 1 1 0 1-1 1-2 1 0 1 1 1 0 1-1 1-1 1 1 1 2 1 0 1-2 1-1 1 0 1 3 1 2 1-1 1-2 1-1 1-1 1 0 1 1 1 2 1 0 1-1 1 1 1 0 1-2 1 0 1 0 1 2 1 1 1-1 1-1 1 0 1 1 1 0 1 0 1 0 1 0 1 0 1-2 1 0 1 1 1 1 1 1 1 0 1-1 1-1 1-1 1 0 1 1 1 0 1 0 1-1 1 0 1 1 1 1 1 0 1 0 1-1 1-1 1 0 1 0 1 2 1 1 1-1 1-1 1-2 1-1 1 1 1 1 1 0 1 1 1 1 1 1 1 0 1 0 1-2 1 0 1 0 1 0 1 2"/><path stroke="#790e0e" d="M0 897l1 0 1 1 1 2 1 0 1-1 1 0 1-1 1-1 1 0 1-1 1 0 1-1 1 1 1 0 1 0 1 0 1 0 1 0 1 0 1 0 1 1 1 2 1 0 1 0 1-1 1-1 1-1 1 0 1 0 1 0 1-1 1-1 1 1 1 0 1 0 1 0 1 0 1-1 1-1 1 1 1 0 1 1 1 0 1-2 1-1 1 2 1 0 1 1 1 2 1-1 1-1 1-1 1-1 1-1 1-2 1-1 1 0 1 1 1 0 1-3 1-1 1-1 1-1 1-1 1-2 1-2 1-1 1-2 1-1 1-2 1-1 1 0 1-2 1-3 1-3 1 0 1 2 1 2 1-1 1-1 1 1 1 2 1 1 1 2 1 2 1 1 1 0 1-1 1 0 1 1 1 2 1 3 1 2 1 1 1 2 1 1 1 1 1 1 1 0 1 0 1 0 1 1 1 1 1 1 1 1 1 1 1 0 1 0 1 0 1 1 1 0 1 0 1 1 1 0 1-2 1 0 1 1 1 1 1-1 1-1 1 1 1 0 1 0 1 0 1 0 1 1 1 0 1 0 1 1 1 0 1 0 1-1 1 1 1-2 1-1 1 1 1 0 1-1 1 0 1 0 1 1 1 1 1 0 1 1 1-1 1-1 1 0 1 1 1 0 1-1 1 0 1 1 1 0 1 1 1 0 1-1 1-1 1-1 1 1 1 1 1 0 1 0 1 0 1 1 1 0 1 1 1-1 1-2 1 0 1 0 1 2 1 0 1-1 1 1 1 0 1 0 1-2 1-2 1 0 1 0 1 1 1 1 1 0 1 0 1 0 1 1 1 0 1 0 1 0 1-1 1 0 1 2 1 0"/><path stroke="#770e0e" d="M0 910l1 0 1 0 1 0 1 0 1 1 1 1 1-1 1-2 1 1 1 1 1 1 1 0 1 0 1-2 1 1 1 0 1 1 1 2 1 0 1-1 1-1 1 0 1-1 1-2 1 1 1 1 1 0 1 0 1 1 1 0 1-1 1 0 1 0 1 0 1 2 1-1 1-1 1-2 1 1 1 1 1 0 1 0 1 0 1 0 1-1 1-1 1 0 1 1 1 0 1-1 1 1 1 0 1-1 1 0 1-1 1-2 1-1 1 0 1 1 1 0 1-2 1 0 1 0 1-1 1-1 1-2 1-3 1-1 1-1 1 0 1-1 1-2 1-1 1-2 1-2 1-1 1-1 1-1 1 0 1-2 1-1 1-1 1-1 1 0 1 0 1 2 1 1 1 0 1 1 1 1 1 2 1 2 1 2 1 0 1 2 1 2 1 1 1 0 1 1 1 2 1 3 1 2 1 0 1 1 1 1 1 1 1 1 1 0 1 0 1 0 1-1 1-1 1 0 1 1 1 1 1 2 1 1 1-1 1 0 1 0 1 0 1 1 1 0 1-1 1-1 1 1 1 1 1 0 1 1 1 0 1-1 1-1 1 0 1 1 1 1 1 0 1 1 1-1 1-1 1 0 1 2 1 0 1-2 1-1 1 0 1 1 1 0 1 1 1-1 1 0 1 1 1-1 1-1 1-1 1 0 1 1 1 1 1 0 1-1 1-1 1-1 1 0 1 3 1 1 1-2 1 0 1 0 1 0 1 0 1 0 1 0 1 0 1 1 1-1 1 0 1 0 1 0 1 0 1 0 1 0 1 1 1 1 1 0 1 0 1-2 1 0 1 0 1 0 1 1 1 0 1-1 1 0 1 0"/><path stroke="#740e0e" d="M0 927l1 0 1 0 1 0 1 0 1 1 1 0 1-1 1 1 1-1 1 0 1 0 1-1 1-1 1 2 1-1 1 0 1 1 1 1 1 1 1 0 1-1 1-1 1 0 1-1 1 0 1 0 1 0 1 0 1 0 1 1 1 0 1-1 1 1 1 1 1-1 1-2 1 0 1 2 1 0 1-1 1-1 1 0 1 0 1 1 1 0 1 0 1 1 1-1 1 0 1 0 1 0 1-1 1 0 1 0 1 1 1 0 1-1 1-1 1-1 1-1 1 0 1 1 1 0 1-1 1-2 1-1 1-1 1 0 1 0 1-3 1-2 1-1 1-2 1-3 1-3 1-2 1 0 1-1 1-1 1-1 1-1 1-2 1-1 1-1 1-1 1-1 1-1 1-1 1 1 1 2 1-1 1 0 1 3 1 3 1 4 1 1 1 0 1 0 1 2 1 2 1 2 1 2 1 1 1 2 1 1 1 2 1 2 1 1 1-1 1 1 1 1 1 2 1 1 1 1 1-1 1 0 1 2 1 0 1 0 1-1 1-2 1 0 1 1 1 1 1-1 1 1 1 1 1 0 1 0 1 0 1-1 1 0 1 0 1 0 1-1 1 0 1 0 1 0 1 1 1 0 1 0 1 0 1 0 1 0 1 0 1-1 1 0 1 1 1-1 1 0 1 1 1-1 1 1 1 1 1-2 1-1 1-1 1 0 1 2 1 2 1 0 1 0 1 1 1 0 1-1 1 0 1-1 1-1 1-1 1 0 1 1 1 0 1 1 1 0 1 0 1 0 1 0 1-1 1 0 1 0 1-1 1 0 1 1 1 1 1 1 1-1 1-1 1-1 1-1 1 1 1 3 1 1 1 0"/><path stroke="#720e0e" d="M0 943l1 0 1-1 1-2 1 1 1 2 1 1 1-1 1-1 1-1 1 0 1-1 1 0 1 1 1 0 1 1 1 2 1-1 1-1 1-1 1 0 1 1 1 0 1 0 1 1 1 0 1-1 1 0 1 1 1 0 1 0 1-1 1-1 1 0 1 1 1-1 1 0 1 1 1-1 1-1 1 0 1-1 1 0 1 1 1 0 1 0 1-1 1 0 1 1 1 1 1-1 1 1 1 0 1 0 1-1 1 0 1-1 1 0 1 2 1 0 1-1 1 0 1-2 1-1 1 1 1 1 1 0 1-2 1-1 1 0 1 0 1-2 1-3 1 1 1 0 1-1 1-3 1-3 1-1 1-2 1-2 1-2 1-2 1-2 1-2 1-1 1-1 1-2 1-3 1-1 1-1 1-1 1-1 1 1 1 1 1 1 1-1 1 2 1 3 1 4 1 2 1 1 1 3 1 2 1 2 1 2 1 3 1 2 1 1 1 1 1 0 1 1 1 1 1 2 1 1 1 2 1 0 1 1 1 0 1 1 1 0 1 0 1 1 1-1 1-1 1-1 1 1 1 2 1 0 1-1 1 0 1 1 1 1 1-2 1 0 1-1 1-1 1 0 1 1 1 0 1 1 1 0 1 0 1 1 1 1 1-1 1-3 1-1 1 3 1 1 1 0 1 0 1-1 1 0 1-1 1 1 1 0 1 0 1 1 1-1 1 0 1 1 1 0 1-1 1 0 1 0 1 0 1 1 1 0 1 0 1 1 1-1 1 0 1 2 1 0 1-2 1-1 1 0 1 1 1 0 1-1 1 1 1 1 1 1 1 0 1 0 1-2 1 0 1 0 1 1 1 0 1 0 1-1 1 1"/><path stroke="#6f0e0e" d="M0 959l1-2 1 0 1 2 1-1 1-1 1 0 1-1 1-1 1 1 1 0 1 1 1 1 1 0 1 0 1-1 1 0 1-1 1 0 1 1 1 0 1 0 1 0 1-1 1 0 1 1 1 1 1-1 1-2 1 1 1 2 1 0 1 0 1 0 1-1 1-1 1-1 1 2 1 1 1 0 1-1 1 0 1 0 1 0 1 1 1 1 1-2 1-1 1-1 1-1 1 0 1 1 1 0 1 2 1 0 1-1 1-1 1 0 1 1 1 1 1-2 1 0 1 0 1 0 1-1 1-2 1 0 1 1 1 2 1 2 1 1 1-1 1-1 1-1 1-2 1-1 1-1 1-2 1-2 1-1 1-1 1-2 1-3 1-3 1-3 1-2 1-3 1-3 1-3 1-2 1 0 1-2 1-2 1-1 1-2 1 0 1-1 1 0 1 2 1 2 1 3 1 2 1 1 1 3 1 3 1 2 1 3 1 2 1 3 1 2 1 2 1 2 1 1 1 1 1 1 1 1 1 1 1 1 1 1 1 2 1 1 1 0 1-2 1-2 1 2 1 1 1 1 1-1 1 1 1-1 1 0 1 1 1 0 1 0 1 1 1-1 1 1 1 1 1-1 1 0 1 0 1 0 1 0 1 0 1 0 1 0 1 0 1 0 1-1 1 1 1 1 1 0 1-1 1-1 1 0 1 1 1 1 1 0 1 0 1 0 1-1 1-1 1 0 1 0 1 1 1 0 1-1 1-1 1 0 1-1 1 1 1 1 1 1 1 1 1-1 1-1 1 0 1 0 1 1 1 0 1 0 1-1 1 1 1 0 1 0 1-1 1-1 1 0 1 1 1 0 1 1 1-1 1-2 1-2"/><path stroke="#6d0e0e" d="M0 974l1 0 1 0 1-1 1-1 1 1 1 0 1-1 1 0 1 1 1 1 1 0 1 0 1-1 1-1 1-2 1 1 1 3 1 1 1-1 1-2 1 0 1 1 1 0 1-1 1 0 1-1 1 0 1 1 1 0 1 0 1-1 1 1 1 0 1 1 1 0 1-1 1-1 1 0 1 1 1-1 1 0 1 0 1 1 1 0 1 0 1 1 1 0 1 0 1 0 1-1 1 0 1-1 1 0 1 0 1 1 1 0 1 0 1 0 1-1 1-1 1-1 1 0 1 0 1 0 1 0 1 0 1 1 1 1 1 0 1 0 1 0 1-1 1 1 1 0 1-2 1-1 1-1 1-1 1 0 1 1 1 0 1-1 1-2 1-2 1-2 1-1 1-3 1-3 1-5 1-4 1-3 1-4 1-4 1-3 1-1 1-2 1-1 1-2 1 0 1 2 1 2 1 1 1 2 1 3 1 3 1 4 1 5 1 4 1 1 1 2 1 4 1 5 1 1 1 1 1 0 1 1 1 1 1 3 1-1 1-2 1 0 1 3 1 1 1 0 1 1 1 1 1-1 1-2 1-1 1 0 1 1 1 1 1 0 1-1 1 1 1 0 1 1 1 0 1 0 1 0 1 0 1 0 1-1 1 0 1 0 1 0 1 2 1-1 1-1 1 0 1 0 1 1 1-1 1-1 1 0 1 0 1 1 1 1 1-1 1 0 1 1 1 0 1-2 1 0 1 1 1 0 1-1 1-1 1 1 1 2 1 0 1 0 1 0 1 0 1 0 1 0 1 0 1-1 1 0 1 1 1-1 1 0 1 1 1 0 1 0 1 0 1 1 1 1 1-3 1-1 1 0 1 0 1-1"/><path stroke="#6a0e0e" d="M0 987l1 2 1 1 1 0 1-1 1-1 1 0 1 0 1-1 1 0 1 2 1 0 1-1 1-1 1 1 1 0 1 1 1-1 1-1 1-1 1 0 1 1 1 2 1 1 1 0 1 0 1 0 1-1 1-3 1-1 1 0 1 0 1 1 1 1 1 0 1 0 1 0 1 0 1 0 1-1 1-1 1 1 1 2 1-1 1-1 1 0 1 1 1 0 1 0 1-1 1 1 1 1 1 1 1-1 1-1 1 0 1 0 1-1 1-1 1 1 1 0 1 0 1 1 1 0 1-1 1-2 1 0 1 0 1 1 1 1 1 1 1-2 1-1 1 0 1 1 1 0 1 1 1-1 1 1 1 1 1 0 1-2 1-1 1-1 1-1 1 0 1-1 1-2 1-2 1-3 1-3 1-2 1-3 1-5 1-3 1-5 1-5 1-4 1-3 1-2 1-1 1 0 1-1 1 1 1 2 1 3 1 3 1 4 1 3 1 4 1 5 1 5 1 4 1 2 1 1 1 2 1 2 1 3 1 2 1 0 1 1 1 1 1 1 1 0 1-2 1 0 1 0 1 0 1 0 1-1 1-1 1 1 1 3 1 1 1-2 1-2 1 0 1 1 1 1 1 0 1-1 1-1 1 0 1 1 1-1 1 0 1 3 1 1 1 0 1-1 1 0 1 0 1 0 1 1 1-1 1-1 1 2 1 1 1-1 1 0 1-1 1-2 1 0 1 2 1 0 1 0 1-1 1 0 1 1 1 0 1-1 1 0 1 1 1 1 1-1 1-1 1 0 1 1 1 0 1 1 1 0 1-1 1-2 1 0 1 2 1 2 1-1 1 0 1 0 1 0 1 0 1 1 1 0 1-1"/><path stroke="#670e0e" d="M0 1000l1 3 1 2 1 0 1 0 1-1 1-1 1 0 1 1 1 0 1 0 1 0 1-1 1-1 1 0 1 0 1 0 1 0 1 0 1 1 1 1 1 0 1 1 1-1 1-1 1-1 1-1 1 0 1 0 1 0 1 2 1-1 1 1 1 0 1 1 1 1 1-1 1-1 1 1 1-2 1-1 1 0 1 0 1 1 1 0 1 0 1 1 1 1 1-1 1 0 1 1 1 0 1-2 1-1 1 1 1 1 1-1 1-2 1-2 1 1 1 1 1 2 1 1 1 2 1-1 1-1 1 0 1-2 1-1 1 1 1 1 1-1 1 1 1 0 1 0 1-1 1 0 1 1 1 0 1-1 1 1 1 0 1-1 1-3 1 0 1 1 1 0 1-2 1-1 1-1 1-1 1-1 1-2 1-3 1-3 1-4 1-4 1-4 1-5 1-5 1-4 1-4 1-4 1-3 1-2 1 1 1 2 1 1 1 3 1 5 1 6 1 5 1 6 1 4 1 3 1 3 1 5 1 3 1 2 1 1 1 1 1 2 1 2 1 1 1 0 1 0 1-1 1 0 1 0 1 1 1 0 1 0 1 0 1-1 1 1 1 0 1-2 1-1 1 0 1 0 1 1 1 2 1 1 1-1 1 1 1 1 1 0 1-2 1-1 1-1 1-1 1 1 1 0 1 0 1 1 1 0 1 0 1 0 1 0 1 2 1 1 1-1 1-1 1 1 1-1 1-2 1 0 1 1 1 2 1 0 1 1 1-1 1-1 1 0 1 0 1-1 1-1 1-1 1 1 1 1 1-1 1-1 1 2 1 0 1 0 1-1 1 0 1 1 1 1 1 1 1 0 1 0 1-1 1 0"/><path stroke="#650e0e" d="M0 1020l1 0 1-1 1 0 1 0 1 1 1 0 1 0 1 0 1 0 1 0 1-1 1-1 1-1 1 1 1 1 1 1 1-1 1-1 1 0 1 1 1 0 1-1 1 0 1-1 1 1 1 0 1 0 1 0 1 1 1 1 1-2 1 0 1 2 1 0 1-2 1-1 1 2 1 1 1-1 1 0 1 0 1-3 1 0 1 2 1 0 1-1 1 1 1 0 1 0 1-1 1 0 1 0 1 0 1 1 1 1 1-1 1-1 1 1 1 1 1 0 1 0 1-1 1 0 1-1 1 0 1 0 1 0 1-2 1 0 1 1 1 1 1 0 1 0 1 0 1-1 1 1 1 1 1 0 1 1 1-2 1 0 1 0 1-1 1-1 1 0 1 1 1 0 1 0 1-1 1-1 1-1 1-1 1 0 1-1 1-2 1-4 1-2 1-3 1-5 1-7 1-7 1-5 1-5 1-4 1-4 1-3 1-3 1 0 1 2 1 4 1 6 1 7 1 7 1 5 1 4 1 5 1 4 1 4 1 4 1 2 1 1 1 0 1 0 1 1 1 1 1 1 1 1 1-1 1 0 1 0 1-1 1-1 1 1 1 1 1 2 1 0 1-1 1 0 1-1 1-1 1 0 1-1 1 0 1 0 1 1 1 1 1 0 1 1 1 1 1 0 1 0 1 1 1 0 1-1 1-1 1-1 1 0 1 1 1 0 1 1 1 1 1 0 1 1 1-1 1-1 1-1 1-1 1 2 1 1 1-1 1 0 1 1 1 0 1-1 1 1 1-1 1-1 1 0 1 0 1 1 1 1 1-1 1 0 1 1 1 0 1 1 1-1 1 1 1 0 1-1 1-1 1 0 1 1"/><path stroke="#620e0e" d="M0 1032l1 0 1 1 1 2 1 0 1 0 1 0 1-1 1 0 1 0 1 1 1 0 1-2 1 0 1 0 1 0 1 0 1 1 1-1 1 0 1 2 1 0 1-1 1 0 1-1 1-2 1-1 1 1 1 2 1 0 1-1 1 0 1 1 1 0 1 1 1 1 1-1 1-1 1-1 1 0 1 0 1 0 1 1 1 0 1 0 1 0 1 1 1-1 1 1 1 1 1-1 1 1 1 0 1-2 1-1 1 2 1 0 1-1 1 1 1-1 1 0 1 0 1 0 1-1 1-1 1 0 1 1 1 0 1 1 1 0 1 1 1-2 1-1 1 0 1 2 1 1 1 0 1 0 1-1 1-1 1 0 1 1 1 0 1 0 1-1 1-1 1 0 1 0 1 0 1 1 1 1 1 0 1-1 1-2 1 0 1-1 1-2 1-2 1-3 1-2 1-3 1-5 1-6 1-4 1-6 1-6 1-6 1-5 1-5 1-4 1-1 1 1 1 4 1 6 1 7 1 8 1 7 1 5 1 5 1 3 1 3 1 4 1 3 1 2 1 1 1 3 1 0 1 0 1 0 1 0 1-1 1 0 1 0 1 1 1-1 1-1 1 0 1 1 1 3 1 1 1 0 1 0 1-1 1-1 1-1 1 0 1 0 1 0 1 1 1 1 1 0 1-2 1 0 1 1 1 1 1-1 1-1 1 1 1 0 1-1 1 0 1 0 1 1 1 2 1-1 1-1 1 0 1 1 1 2 1-1 1-2 1 0 1 1 1 1 1 0 1-1 1-1 1-1 1 1 1 0 1-1 1-1 1 0 1 0 1 1 1 1 1 1 1 0 1-1 1 0 1 1 1 1 1-1 1 0"/><path stroke="#600e0e" d="M0 1047l1 0 1 0 1 1 1 0 1 1 1 1 1-1 1-2 1-1 1 1 1 2 1 1 1-1 1 0 1 1 1 1 1 0 1-1 1 0 1-1 1-1 1 0 1 1 1 0 1-1 1 0 1 0 1 0 1 0 1 2 1 0 1-1 1-1 1-1 1 1 1 1 1 0 1 1 1 0 1 0 1-1 1-1 1-1 1 1 1 1 1 0 1-1 1-1 1 0 1 0 1-1 1 1 1 3 1-1 1-1 1 0 1 1 1 0 1-1 1 0 1 1 1 0 1 0 1 0 1 0 1 0 1 0 1-1 1 0 1-1 1 0 1 0 1 2 1 1 1 1 1-1 1-1 1 1 1 0 1-1 1-1 1 0 1 0 1 0 1 0 1 0 1-2 1-1 1 0 1 1 1-1 1-1 1 0 1 1 1 0 1 0 1-1 1-1 1 0 1-1 1-2 1-3 1-5 1-5 1-6 1-7 1-8 1-8 1-7 1-6 1-2 1 1 1 3 1 3 1 5 1 7 1 8 1 8 1 7 1 6 1 6 1 2 1 1 1 2 1 0 1 0 1 1 1 1 1 1 1 0 1 0 1 1 1 1 1 0 1-1 1 0 1 1 1 1 1 1 1 0 1-1 1 0 1-1 1-1 1 0 1 1 1 1 1 0 1 1 1-1 1 0 1 0 1-1 1 0 1 1 1 0 1 1 1-1 1-1 1 1 1 0 1 0 1-1 1 0 1 1 1 1 1-1 1-1 1 0 1 1 1 0 1-2 1 0 1 0 1 0 1 0 1-1 1 0 1 0 1 1 1 2 1 1 1 0 1-2 1-1 1 0 1-1 1 1 1 0 1 1 1 0 1 1 1 1"/><path stroke="#5d0e0e" d="M0 1066l1 0 1 0 1 0 1 0 1 0 1-1 1-1 1 0 1 0 1 0 1 0 1 1 1 1 1-1 1-1 1-1 1-1 1 1 1 2 1 1 1 0 1 0 1 1 1 0 1-1 1-1 1-1 1-1 1-1 1 2 1 1 1 0 1-1 1 0 1 0 1 0 1 0 1 1 1-1 1-1 1 1 1 1 1-1 1-1 1 1 1 1 1 0 1-1 1 1 1 0 1 1 1 0 1-1 1-2 1-1 1 1 1 1 1 0 1 1 1 1 1 0 1-1 1-1 1-1 1 1 1 0 1 0 1 0 1 0 1 1 1-1 1-2 1 0 1 1 1 1 1-1 1-1 1 1 1 1 1 0 1 0 1 1 1 0 1-1 1-1 1 0 1 0 1-2 1 0 1 1 1 1 1-1 1 0 1 0 1-1 1 0 1 0 1-1 1-1 1 1 1-1 1-2 1-2 1-3 1-5 1-5 1-8 1-9 1-9 1-7 1-6 1-5 1-2 1 2 1 4 1 4 1 5 1 8 1 8 1 5 1 8 1 7 1 5 1 3 1 2 1 2 1 1 1 0 1 2 1 0 1-1 1 0 1 0 1 1 1 1 1 0 1 0 1 0 1 0 1-1 1-1 1 2 1 0 1 0 1 0 1 0 1-1 1-1 1 1 1 1 1 0 1-1 1 0 1 0 1 0 1 1 1 1 1 0 1 1 1 0 1 0 1 1 1 0 1-2 1-1 1 1 1-1 1-1 1 1 1-1 1 0 1 0 1 0 1 1 1 0 1 0 1 1 1 0 1-1 1 0 1 1 1 1 1-1 1-1 1 1 1 1 1 0 1 0 1-1 1-2 1-1 1 1 1 0"/><path stroke="#5a0e0e" d="M0 1078l1 1 1 1 1 1 1-1 1 0 1 0 1 0 1 0 1-1 1-1 1 1 1 2 1 0 1-1 1-2 1-1 1 3 1 0 1-2 1 1 1 0 1 0 1 2 1 2 1-1 1-1 1-1 1-1 1 0 1 0 1-1 1 1 1 2 1-1 1-1 1 1 1 1 1 0 1-1 1 0 1 0 1-1 1-1 1 0 1 0 1 0 1 0 1 1 1 1 1 0 1 0 1 1 1-2 1-1 1 0 1 1 1-1 1-1 1 1 1 3 1 0 1-1 1-1 1-2 1 0 1 0 1 0 1 1 1 2 1 1 1 1 1 0 1-2 1-1 1 0 1-1 1 0 1 0 1 0 1 1 1 0 1-2 1-1 1 1 1 0 1 1 1 0 1 1 1 0 1 0 1-2 1-2 1-2 1 1 1 1 1 1 1 0 1-1 1-2 1-1 1 0 1 0 1-2 1-2 1-3 1-5 1-5 1-7 1-9 1-10 1-8 1-7 1-3 1-1 1 2 1 4 1 6 1 8 1 8 1 7 1 8 1 7 1 4 1 4 1 3 1 1 1 0 1 1 1 2 1 1 1 2 1 0 1-1 1 0 1-1 1 0 1 0 1 1 1-1 1 1 1 0 1 0 1-2 1-1 1 2 1 1 1 1 1 1 1 1 1 0 1-1 1-1 1 1 1 0 1 0 1-1 1 1 1 0 1-2 1-1 1 2 1 1 1-1 1 1 1 1 1-2 1-2 1 1 1 1 1-1 1 0 1 1 1 0 1 0 1-1 1 0 1 0 1 0 1 1 1-1 1-1 1 0 1 0 1 1 1 1 1 0 1-1 1-1 1 0 1 0 1 1 1 1 1 0"/><path stroke="#580e0e" d="M0 1095l1 0 1 0 1 0 1 0 1 1 1 0 1 0 1-1 1 0 1 0 1 0 1-1 1-1 1 1 1 1 1 0 1 1 1 0 1-2 1 0 1 0 1 0 1 0 1 0 1-1 1 2 1 1 1-1 1-1 1 0 1 0 1 0 1 0 1-1 1 0 1 0 1 1 1-1 1 1 1 1 1-1 1 0 1 0 1 0 1 0 1 0 1-1 1 0 1 1 1 1 1 1 1 0 1-1 1 0 1-1 1 0 1 0 1-1 1 0 1 1 1 1 1 1 1-1 1-1 1 0 1 0 1 1 1 1 1 0 1-2 1-1 1 1 1 0 1 0 1-1 1 0 1 1 1 0 1-2 1 0 1 2 1 1 1-1 1-1 1 0 1 0 1 1 1-1 1 0 1 1 1-1 1-1 1 0 1 0 1 0 1 0 1 0 1 1 1-1 1-1 1 0 1-2 1-2 1-2 1-4 1-4 1-6 1-8 1-8 1-8 1-7 1-7 1-4 1-3 1-1 1 3 1 7 1 8 1 9 1 8 1 8 1 6 1 5 1 4 1 3 1 3 1 1 1 2 1 0 1-1 1 0 1 0 1 1 1-1 1-1 1 0 1 1 1 0 1 1 1 0 1 1 1 1 1-2 1-1 1 1 1 1 1 0 1 0 1-1 1-2 1 0 1 2 1 1 1 0 1 0 1 0 1 0 1-1 1 0 1 0 1 1 1 1 1 0 1-1 1-1 1 1 1 1 1 1 1 1 1-2 1-2 1 0 1 1 1 0 1 0 1 1 1 0 1-1 1 0 1-1 1 1 1 0 1-1 1 0 1 0 1-1 1 0 1 2 1 1 1 0 1-2 1 0 1 0"/><path stroke="#550e0e" d="M0 1110l1 1 1-2 1-1 1 0 1 2 1 0 1 1 1 0 1 0 1 0 1 0 1-2 1-2 1 0 1 2 1 1 1 1 1 0 1-1 1 0 1 1 1 1 1-1 1-2 1-1 1 1 1 0 1 0 1 0 1 0 1 0 1-1 1 0 1 0 1 1 1 1 1 0 1 0 1-1 1 0 1 2 1-1 1-1 1 0 1 1 1 0 1 0 1 0 1-1 1 1 1-1 1 0 1 2 1 0 1 0 1 0 1 0 1-1 1 1 1 0 1-2 1-1 1 0 1 3 1 0 1-1 1 0 1 0 1-1 1-1 1 0 1 1 1 0 1 0 1 0 1-1 1 0 1 3 1 0 1-1 1-1 1 1 1 2 1-1 1-2 1-1 1 0 1 0 1 0 1-1 1 0 1 1 1 0 1 0 1-2 1 0 1 0 1 1 1-1 1-1 1 0 1-1 1-3 1-3 1-4 1-6 1-7 1-10 1-9 1-8 1-7 1-6 1-3 1 1 1 4 1 7 1 9 1 9 1 8 1 8 1 5 1 5 1 5 1 3 1 2 1 1 1 0 1 0 1 1 1 1 1-1 1-1 1 2 1 2 1 0 1 0 1-1 1 0 1 0 1 0 1-1 1 0 1 0 1 0 1 0 1 0 1 1 1 0 1-1 1 0 1-1 1 0 1 1 1 2 1 0 1-1 1 1 1 1 1 0 1-1 1 1 1 0 1-1 1-2 1 1 1 1 1 2 1-1 1 1 1-1 1-2 1 0 1 2 1 0 1-1 1 0 1 0 1 0 1 1 1-2 1-2 1 2 1 1 1-1 1 0 1-1 1 0 1 0 1-1 1 0 1 2 1 1 1 0"/><path stroke="#520d0d" d="M0 1127l1 0 1-1 1-1 1 0 1 0 1 1 1 0 1-1 1 0 1 1 1-1 1-1 1 1 1 0 1 0 1 1 1 0 1-1 1 0 1-1 1 0 1 1 1 1 1 0 1-1 1 0 1 0 1 0 1 0 1-1 1 0 1-1 1 0 1 2 1 2 1 0 1-1 1-1 1 0 1 0 1-1 1-1 1-1 1 2 1 2 1 0 1-1 1 0 1-1 1-2 1 0 1 2 1 0 1 0 1 1 1 0 1-2 1-1 1 0 1 1 1 0 1 1 1 0 1 1 1 2 1 0 1 1 1-1 1-1 1 1 1 0 1-1 1-2 1-2 1 0 1 2 1 1 1 0 1-1 1-1 1 0 1 1 1 1 1 0 1 1 1-1 1-2 1 0 1-1 1 1 1 0 1 0 1 1 1 1 1 0 1-1 1 0 1-1 1-1 1-2 1-3 1-3 1-2 1-3 1-6 1-8 1-10 1-9 1-6 1-7 1-7 1-3 1 1 1 4 1 6 1 9 1 10 1 9 1 8 1 5 1 5 1 4 1 4 1 2 1 1 1 0 1 0 1 0 1 1 1 0 1-1 1 2 1 1 1-1 1 0 1 0 1 1 1-1 1 0 1 0 1 1 1 0 1 0 1-1 1 0 1-1 1 0 1 1 1 1 1-1 1 0 1 1 1 0 1 0 1 0 1 0 1 0 1 0 1 1 1-1 1-1 1 1 1 0 1 0 1 0 1 1 1 1 1-1 1 0 1 0 1 0 1-1 1 0 1 0 1 0 1-1 1-1 1 0 1 0 1-1 1 1 1 1 1 0 1 0 1-1 1 0 1 0 1 1 1 2 1 0 1 0 1 0 1 0"/><path stroke="#500d0d" d="M0 1142l1 0 1-1 1-2 1-1 1 2 1 2 1 0 1-2 1 0 1 0 1 0 1 0 1 1 1 0 1 1 1 0 1 0 1 0 1 0 1-1 1 1 1-1 1 0 1-1 1-2 1 0 1 1 1 1 1 1 1 1 1-1 1 0 1 0 1-1 1 0 1 0 1 1 1 2 1 0 1-1 1-1 1 1 1-1 1-1 1 1 1 0 1 0 1-1 1 1 1 2 1 0 1-1 1-1 1 0 1 0 1-1 1 0 1-1 1 0 1 1 1 0 1-1 1 1 1 0 1-1 1 0 1 1 1 1 1 0 1-1 1 0 1 0 1 2 1-1 1-2 1 0 1 0 1-1 1 0 1 0 1 0 1 1 1 1 1 0 1-2 1-1 1-1 1 0 1 0 1 1 1 0 1 1 1 0 1 0 1 1 1-1 1-1 1 0 1-3 1-4 1-5 1-6 1-6 1-6 1-9 1-11 1-9 1-6 1-3 1-1 1 3 1 6 1 7 1 9 1 9 1 8 1 8 1 6 1 5 1 3 1 2 1 1 1 2 1 1 1 0 1-1 1 0 1 1 1 1 1-1 1 0 1-1 1 0 1 1 1 0 1-1 1 1 1 1 1 1 1 0 1 1 1 0 1-2 1 0 1 0 1-1 1 0 1 0 1 0 1-1 1 0 1 1 1 2 1 0 1-1 1 0 1 0 1 1 1-1 1 1 1 0 1-1 1 0 1 0 1 1 1 1 1 0 1 0 1-1 1-2 1 1 1 1 1 0 1-1 1-1 1-1 1 0 1 1 1 2 1 1 1-1 1-1 1-1 1-1 1 2 1 0 1-1 1-1 1 1 1 1 1-1 1-1 1 0"/><path stroke="#4d0d0d" d="M0 1159l1-1 1-1 1-1 1 0 1 0 1-1 1-1 1 0 1 1 1 0 1 0 1 0 1 1 1 1 1 0 1-1 1-2 1 1 1 1 1 0 1-1 1 0 1 0 1 0 1-1 1 1 1 2 1 0 1-1 1 0 1 1 1-1 1-1 1 0 1 2 1 0 1-1 1 0 1 0 1 1 1-1 1 0 1-1 1-1 1-1 1-1 1 2 1 1 1 0 1 0 1 0 1 0 1-1 1 1 1 0 1 0 1-1 1 0 1 0 1 2 1 1 1-1 1-1 1-1 1 0 1 1 1-1 1-1 1-1 1 0 1 1 1 1 1 1 1-2 1 0 1 1 1 0 1 0 1 0 1 0 1 0 1 1 1 0 1-1 1 0 1 0 1-1 1-1 1 1 1 0 1 0 1 0 1-1 1 0 1 0 1-1 1-1 1-4 1-4 1-4 1-6 1-8 1-9 1-8 1-9 1-8 1-4 1-3 1 0 1 4 1 7 1 8 1 9 1 9 1 8 1 7 1 6 1 4 1 2 1 3 1 1 1 1 1 2 1 1 1-2 1-1 1 1 1 0 1 0 1 0 1 1 1 1 1 0 1-1 1 1 1 1 1 0 1-1 1-1 1-1 1-2 1 1 1 2 1 1 1 1 1 0 1-2 1 1 1 1 1-1 1-1 1 0 1 0 1 0 1 0 1 1 1-1 1 0 1 0 1 0 1 0 1 0 1 0 1-1 1 1 1 0 1-1 1 1 1 1 1 0 1 0 1 0 1-1 1 0 1 0 1 0 1 1 1 0 1-2 1-1 1 1 1 0 1-1 1 0 1 0 1 1 1 1 1-2 1 1 1 0 1 0 1 0 1 1"/><path stroke="#4a0d0d" d="M0 1171l1-1 1 0 1 1 1 1 1-1 1 0 1 0 1-1 1 1 1 2 1 1 1 0 1-2 1-1 1-1 1 0 1 1 1 0 1 0 1 0 1 1 1 0 1 0 1-1 1 1 1 0 1-2 1-1 1 2 1 1 1 1 1 1 1-1 1-1 1-1 1 0 1 1 1 0 1 0 1-1 1-1 1 0 1 0 1 0 1 0 1 1 1 1 1-1 1-2 1-1 1 1 1 2 1 1 1 1 1 0 1 0 1-1 1-1 1-1 1 0 1 0 1 0 1 1 1 0 1 0 1 0 1 0 1 0 1-1 1-1 1-1 1 1 1 1 1 0 1 0 1 0 1-1 1 0 1 1 1 1 1-1 1-1 1-2 1 1 1 1 1-1 1 0 1 0 1 0 1 1 1 1 1-1 1-1 1-2 1-2 1 0 1-1 1-2 1-4 1-6 1-7 1-6 1-7 1-8 1-7 1-8 1-7 1-2 1 1 1 3 1 6 1 7 1 8 1 9 1 9 1 6 1 5 1 5 1 5 1 1 1 2 1 3 1 1 1-2 1-1 1 0 1 0 1 0 1 0 1 1 1 1 1 0 1 0 1-1 1 1 1 0 1 0 1 0 1 0 1 0 1 1 1 0 1 0 1 0 1-1 1-1 1 1 1 1 1 0 1 0 1-1 1 0 1 0 1 0 1 0 1 0 1 0 1 0 1 1 1 0 1 0 1 1 1 0 1 0 1-1 1-1 1-1 1-1 1 1 1 0 1 0 1-1 1 1 1 1 1 0 1-1 1 2 1 2 1-1 1-2 1-2 1 1 1 1 1 1 1 0 1 1 1-1 1 0 1-1 1 2 1-1 1 0 1 1"/><path stroke="#470d0d" d="M0 1188l1 0 1-1 1 0 1 0 1-1 1 0 1 0 1 0 1-1 1 0 1 1 1 1 1 1 1-1 1-2 1 0 1 1 1 1 1 2 1 1 1-1 1-3 1-1 1 0 1 1 1 1 1 0 1-1 1 1 1 0 1-1 1 0 1-1 1 0 1 1 1 0 1 1 1 1 1-1 1-2 1-1 1 0 1 1 1 0 1 1 1 1 1 0 1-1 1-1 1 0 1 1 1-1 1-1 1 0 1 0 1 1 1 1 1-1 1 0 1 0 1 1 1 2 1 0 1-2 1 0 1 0 1 0 1-1 1 0 1 0 1-1 1 1 1 1 1 0 1-2 1-1 1 0 1 0 1 0 1 0 1 0 1 1 1 0 1-1 1 0 1 0 1 0 1 0 1 0 1 1 1 0 1-1 1 0 1 2 1-1 1-2 1-2 1-2 1-2 1-5 1-5 1-7 1-8 1-9 1-9 1-8 1-6 1-3 1-3 1 2 1 4 1 7 1 8 1 8 1 9 1 7 1 7 1 6 1 3 1 1 1 3 1 2 1 2 1 2 1 1 1-1 1-1 1 0 1-1 1 0 1 0 1 0 1 2 1 1 1-1 1-1 1-1 1 1 1 1 1 0 1 0 1-1 1 1 1 1 1-1 1 0 1 1 1 0 1 0 1 0 1-1 1-1 1-1 1 0 1 1 1 2 1 1 1-1 1 0 1 0 1 0 1 0 1 0 1-1 1 0 1 0 1-1 1 0 1 1 1 2 1 2 1-1 1-1 1-1 1 2 1 1 1-1 1-2 1 0 1 1 1-1 1 0 1-1 1 0 1 1 1 0 1 1 1 0 1-1 1 0 1-1 1 1 1 1"/><path stroke="#450d0d" d="M0 1202l1 0 1 0 1 0 1 0 1 0 1 0 1 0 1 0 1 0 1 0 1 0 1 0 1 0 1 0 1 0 1 0 1-1 1 0 1 1 1 0 1 0 1 0 1 0 1 0 1 0 1 0 1 0 1-1 1 0 1 0 1 1 1 0 1-1 1 0 1 1 1 0 1 0 1-1 1 0 1 0 1 0 1 0 1 0 1 1 1-1 1 0 1 0 1 0 1 0 1 0 1 0 1 0 1 0 1 0 1 0 1 0 1 0 1 0 1 0 1-1 1 0 1 0 1 0 1 1 1 0 1 0 1 0 1 0 1-1 1 0 1 1 1 0 1-1 1 0 1 0 1 0 1 0 1 0 1 0 1 0 1 0 1 0 1-1 1 0 1 0 1 0 1 0 1 0 1 0 1-1 1 0 1 0 1 0 1-1 1 0 1-2 1-1 1-2 1-3 1-3 1-4 1-4 1-6 1-7 1-6 1-7 1-7 1-7 1-6 1-3 1-3 1 0 1 1 1 4 1 4 1 6 1 7 1 7 1 7 1 7 1 6 1 5 1 4 1 4 1 3 1 2 1 2 1 1 1 0 1 1 1 0 1 0 1 1 1 0 1 0 1 1 1 0 1 0 1 0 1 0 1 0 1 0 1 0 1 0 1 0 1 0 1 0 1 0 1 1 1 0 1 0 1 0 1 0 1 0 1 0 1-1 1 0 1 0 1 1 1 0 1 0 1 0 1 0 1 0 1 0 1 0 1 0 1 0 1 0 1 0 1 0 1 0 1 0 1 0 1 0 1 0 1-1 1 0 1 1 1 0 1 0 1 0 1 0 1 0 1 0 1 0 1 0 1 0 1 0 1 0 1 0 1 0 1 0"/><path stroke="#420d0d" d="M0 1216l1 0 1 1 1 0 1 0 1 0 1 1 1 0 1-1 1-1 1 1 1 0 1-1 1-1 1-1 1 1 1 0 1 0 1 1 1 0 1 1 1 0 1 0 1 0 1 0 1 0 1 0 1-2 1 0 1 1 1 0 1 2 1 0 1-2 1 0 1 0 1 0 1-1 1 0 1 1 1 1 1 0 1 0 1 2 1 0 1 0 1-1 1-1 1-2 1-1 1 1 1 3 1-1 1-1 1-1 1-1 1 0 1 3 1 0 1-1 1-1 1 1 1 0 1 0 1 0 1 0 1 0 1 1 1 0 1-1 1 0 1-1 1 0 1 0 1 0 1 0 1-1 1 1 1 1 1 0 1 0 1 0 1 0 1-1 1 0 1 0 1 0 1 1 1 0 1-1 1 0 1 0 1 1 1-2 1-1 1 0 1 0 1 0 1 0 1 0 1-1 1-2 1-1 1 0 1-1 1-2 1-2 1-2 1-2 1-4 1-7 1-6 1-5 1-7 1-7 1-5 1-5 1-5 1-6 1-3 1-2 1 0 1 1 1 4 1 7 1 7 1 6 1 5 1 7 1 7 1 6 1 5 1 5 1 4 1 3 1 2 1 0 1 2 1 3 1 1 1 0 1 0 1 0 1 1 1 1 1 1 1-1 1-1 1-1 1 0 1 0 1 1 1 1 1 0 1 0 1 0 1 0 1 0 1-1 1 0 1 1 1 0 1 1 1-1 1 0 1 0 1 1 1 1 1 0 1-1 1-1 1-2 1 1 1 1 1 1 1-1 1 0 1-1 1 0 1 1 1 1 1 0 1 1 1-1 1 0 1-2 1 0 1 0 1 0 1 0 1-1 1 1 1 0 1-1"/><path stroke="#3f0d0d" d="M0 1232l1 0 1 0 1 1 1 0 1 1 1 0 1-1 1 0 1 0 1 0 1 0 1-2 1-1 1 0 1 1 1 1 1 0 1 0 1 1 1 1 1 0 1-1 1 0 1-1 1 0 1-1 1 0 1 0 1 0 1-1 1 0 1 1 1 0 1 0 1 0 1 0 1 0 1 1 1 0 1 0 1 0 1 1 1 0 1-1 1-2 1 1 1 1 1-1 1-1 1 1 1 1 1-1 1-1 1 0 1 1 1 1 1 0 1-1 1 0 1 0 1 0 1-1 1 0 1 2 1 0 1 0 1 0 1 0 1 0 1 0 1 0 1-1 1-1 1-1 1 0 1 0 1 0 1 1 1 0 1-1 1-1 1 0 1 1 1 2 1 0 1 0 1 0 1 0 1-3 1-1 1 1 1 0 1-1 1-2 1-1 1-1 1-1 1-2 1-2 1-2 1-3 1-5 1-7 1-6 1-7 1-7 1-7 1-7 1-7 1-3 1-3 1-3 1 0 1 4 1 3 1 4 1 6 1 8 1 6 1 5 1 6 1 7 1 5 1 4 1 4 1 4 1 3 1 2 1 1 1 2 1 3 1 1 1 0 1 0 1 0 1 0 1 0 1-1 1 0 1 0 1 0 1 1 1 2 1 0 1-1 1 1 1-1 1-1 1 0 1 0 1 1 1 1 1-1 1 0 1 1 1 0 1 0 1-1 1-2 1 0 1 0 1 2 1 1 1-1 1-1 1 1 1 0 1 0 1-1 1 0 1 2 1-1 1 0 1 1 1-1 1 0 1 0 1 0 1 0 1-2 1 1 1 2 1 0 1 1 1 0 1-1 1 0 1 1 1 0 1 0 1 0 1-2 1 0"/><path stroke="#3c0d0d" d="M0 1248l1 0 1 1 1 1 1 0 1-1 1 1 1-1 1-1 1 0 1-1 1-1 1 1 1 0 1-1 1 1 1 0 1-1 1-1 1 2 1 2 1 0 1 0 1-1 1 0 1-1 1 0 1 0 1-1 1 1 1 1 1 0 1-1 1 0 1-1 1-1 1-1 1 1 1 3 1 0 1 1 1 0 1-1 1-2 1 0 1 1 1 1 1-1 1 0 1 0 1-1 1-1 1 0 1-1 1 0 1 2 1 2 1 0 1-1 1 1 1 1 1-1 1-1 1-1 1-1 1 0 1 0 1 1 1 1 1 0 1-2 1-1 1-2 1 1 1 2 1-1 1-3 1 0 1 2 1 0 1 0 1 1 1-1 1-1 1 0 1 1 1-1 1-2 1 0 1-2 1-3 1-2 1-3 1-4 1-5 1-6 1-6 1-7 1-7 1-6 1-6 1-6 1-6 1-4 1-1 1 1 1 3 1 2 1 3 1 5 1 5 1 5 1 8 1 7 1 6 1 5 1 5 1 5 1 4 1 4 1 3 1 2 1 0 1 1 1 1 1 1 1 2 1 0 1 0 1 0 1 1 1 0 1 0 1-1 1 0 1 0 1 0 1 0 1 1 1 0 1 0 1-1 1 1 1 0 1 1 1-1 1-2 1 0 1 1 1 2 1 0 1-2 1 0 1 1 1 0 1 1 1 1 1 0 1 0 1 0 1-1 1-1 1 0 1 1 1 1 1 0 1-1 1-1 1 1 1 1 1 0 1-1 1-1 1 1 1 0 1 0 1 0 1 0 1 0 1 0 1-1 1 0 1 0 1 1 1 0 1 0 1 1 1 0 1-1 1 1 1 0 1 0 1-1 1 0"/><path stroke="#390d0d" d="M0 1260l1 0 1 2 1 2 1-1 1-1 1 0 1 1 1-1 1 0 1 1 1 0 1 1 1 1 1 0 1-1 1-2 1-1 1 1 1 1 1 1 1 1 1-1 1 0 1-1 1-1 1-1 1 1 1 1 1 0 1 0 1 1 1 0 1-2 1 0 1 1 1 1 1 1 1-1 1-2 1-1 1 1 1 0 1 0 1 0 1 1 1-1 1 0 1 0 1-1 1 0 1 1 1 0 1 0 1 1 1 1 1-1 1-3 1-1 1 2 1 1 1-1 1-2 1-1 1 2 1 3 1 0 1-1 1-1 1-1 1 0 1 0 1-1 1-1 1 0 1 2 1 1 1 0 1-1 1-2 1-1 1 0 1-2 1-3 1-2 1-2 1-3 1-5 1-5 1-3 1-5 1-7 1-6 1-6 1-7 1-7 1-6 1-5 1-2 1-1 1-1 1 2 1 4 1 5 1 5 1 7 1 7 1 7 1 5 1 5 1 6 1 6 1 4 1 3 1 3 1 2 1 2 1 2 1 2 1 3 1 1 1 1 1-1 1 0 1 0 1 0 1 0 1-1 1-1 1 0 1 1 1 1 1-1 1 0 1-1 1 1 1-1 1 1 1 1 1 0 1-1 1 0 1 1 1 1 1-1 1-1 1 0 1 1 1 0 1 1 1-1 1 0 1 0 1 0 1 2 1-1 1-1 1 0 1 1 1 0 1-1 1 0 1 1 1 0 1 0 1-2 1-1 1 1 1 1 1 1 1 1 1 1 1-1 1-1 1-1 1 0 1 0 1 0 1 1 1 1 1-1 1 0 1 0 1 0 1 0 1 0 1 0 1-1 1 0 1 2 1 0 1-2 1-1 1 1"/><path stroke="#360d0d" d="M0 1282l1-2 1-2 1 0 1 0 1 1 1 1 1 0 1 0 1 0 1-1 1-1 1-1 1 0 1 1 1 1 1 1 1-1 1-1 1 0 1 0 1 0 1-1 1 1 1 1 1 0 1-1 1-1 1-2 1 0 1 1 1 1 1 1 1-1 1-1 1 0 1 0 1 1 1 3 1 0 1-1 1 1 1 0 1-1 1 0 1-2 1-1 1 0 1 0 1 0 1 0 1 1 1 0 1 1 1 0 1-1 1 0 1-1 1-1 1 1 1 1 1-2 1 0 1 0 1 0 1 0 1 0 1 0 1 0 1 0 1 0 1-1 1 0 1 2 1 0 1-2 1-1 1-2 1-2 1-1 1-2 1-3 1-5 1-4 1-4 1-7 1-6 1-7 1-7 1-6 1-6 1-7 1-6 1-4 1-2 1 1 1 1 1 1 1 4 1 5 1 6 1 7 1 6 1 7 1 7 1 6 1 6 1 5 1 4 1 4 1 3 1 2 1 1 1 2 1 1 1 0 1-1 1 0 1 2 1 2 1 1 1 1 1 1 1 0 1-2 1 0 1 0 1 0 1 0 1 2 1 0 1-1 1-1 1 0 1 1 1-1 1 0 1 0 1 0 1 1 1 0 1 0 1 0 1-1 1 0 1 1 1 0 1 0 1 0 1 0 1 0 1 1 1-1 1 0 1 0 1 1 1 0 1-1 1-1 1 1 1 1 1 0 1 0 1-1 1 1 1-1 1-2 1 0 1 2 1 1 1-1 1 0 1 0 1 0 1 1 1 0 1-1 1-1 1 1 1 0 1 0 1 1 1-1 1-2 1-1 1 1 1 1 1 2 1 3 1 0 1-2 1 0 1-1 1 0"/><path stroke="#330d0d" d="M0 1292l1 1 1 1 1 0 1 0 1 0 1 1 1-1 1-1 1 0 1 1 1 0 1-1 1 0 1-1 1 0 1 0 1 2 1 0 1 0 1-1 1-1 1 1 1 0 1-1 1-1 1 1 1 2 1 0 1-1 1 1 1 0 1 0 1 0 1-2 1-1 1 0 1 1 1 1 1 1 1 0 1-1 1 0 1-1 1 0 1 1 1 0 1 1 1 0 1 0 1-1 1 0 1 1 1 0 1-2 1-1 1-1 1 1 1 0 1 0 1 0 1 0 1-1 1-1 1 0 1-1 1 0 1 1 1 0 1-2 1-1 1 2 1 1 1-2 1-3 1-1 1-2 1-2 1-4 1-5 1-6 1-6 1-7 1-6 1-6 1-7 1-7 1-5 1-5 1-5 1-3 1-1 1 1 1 4 1 3 1 6 1 6 1 6 1 7 1 7 1 7 1 6 1 6 1 5 1 4 1 3 1 4 1 3 1 2 1 1 1 1 1 0 1 1 1 1 1 0 1 1 1 0 1 0 1 1 1 2 1-1 1-1 1-2 1-1 1 2 1 1 1-2 1-1 1 2 1 0 1-1 1 0 1 0 1 0 1 1 1 0 1 1 1-1 1-1 1-1 1 1 1 1 1 0 1 0 1 0 1 1 1-1 1 0 1 1 1 0 1 1 1 0 1-1 1-2 1-1 1 1 1 1 1 0 1 0 1 0 1 1 1-1 1-1 1 0 1 0 1 0 1 0 1 1 1 1 1 1 1 0 1-2 1 0 1 0 1 1 1 1 1 1 1-1 1 0 1-1 1-1 1-1 1 1 1 1 1 0 1 0 1 0 1-1 1 1 1 1 1 0 1-1 1-2 1-2"/><path stroke="#300d0d" d="M0 1309l1-1 1 1 1 1 1-1 1-1 1 1 1 0 1-1 1 1 1 0 1 0 1 0 1 0 1-1 1 0 1 0 1 0 1 0 1 0 1 1 1-2 1 0 1 1 1 0 1 0 1 1 1 0 1-1 1-1 1 0 1 0 1 0 1 1 1 0 1 0 1-1 1 0 1 2 1 1 1-2 1 0 1 2 1-1 1-1 1-1 1-1 1 0 1 0 1 0 1 0 1-1 1 0 1 1 1 2 1-1 1-1 1 0 1 1 1 1 1-1 1-2 1-1 1 1 1 0 1-1 1-1 1-1 1 0 1-1 1-2 1-2 1-1 1-2 1-4 1-4 1-5 1-6 1-7 1-5 1-6 1-6 1-8 1-8 1-6 1-3 1-2 1-2 1 0 1 3 1 3 1 4 1 6 1 6 1 7 1 7 1 6 1 7 1 6 1 4 1 5 1 4 1 4 1 4 1 2 1 2 1 1 1 0 1 0 1 1 1 1 1 1 1 0 1-1 1 0 1 1 1 0 1-2 1 0 1 1 1 1 1 2 1 0 1-1 1 0 1 0 1-1 1-2 1 1 1 2 1 0 1 0 1 0 1 1 1-1 1-1 1 0 1 1 1 0 1 0 1 1 1 1 1-2 1-1 1 0 1 0 1 0 1 0 1-1 1 1 1-1 1 1 1 1 1 0 1 1 1 1 1 0 1-1 1-2 1-1 1 1 1 1 1-1 1 0 1 1 1-1 1 0 1 0 1 0 1 2 1 0 1-1 1-1 1 0 1 1 1 0 1 0 1-1 1-1 1-1 1 0 1 1 1 1 1 0 1-1 1 0 1-1 1 0 1 1 1 0 1 0 1-1 1 1 1 3"/><path stroke="#2d0d0d" d="M0 1323l1 0 1 0 1-1 1 0 1 0 1 0 1 0 1 0 1 0 1 2 1 0 1-1 1 0 1 1 1 0 1-1 1 0 1 0 1 0 1-1 1 1 1 0 1 0 1 0 1 1 1 1 1 0 1-3 1-1 1 0 1 1 1 1 1 2 1 0 1-2 1-1 1 0 1 0 1 1 1 0 1 0 1 0 1 0 1 0 1 1 1-1 1-3 1-1 1 2 1 1 1 0 1 0 1-2 1 1 1 0 1 0 1 0 1 0 1 0 1-1 1 0 1 0 1-2 1 0 1 0 1-2 1-2 1-2 1-3 1-3 1-3 1-5 1-6 1-6 1-6 1-8 1-7 1-7 1-6 1-6 1-4 1-3 1-3 1-1 1 1 1 3 1 5 1 6 1 8 1 8 1 7 1 6 1 5 1 6 1 5 1 5 1 4 1 5 1 2 1 1 1 1 1 2 1 2 1 0 1 1 1 1 1 1 1 1 1-2 1 1 1 0 1 0 1 1 1 1 1-1 1 0 1-1 1 0 1-1 1 2 1 0 1 0 1 1 1-1 1-1 1 1 1 1 1 0 1-1 1-1 1 0 1 1 1 0 1-2 1 1 1 3 1 1 1-3 1-1 1 1 1 0 1 0 1 0 1 0 1-1 1 0 1 1 1 0 1 0 1 0 1 1 1 1 1 0 1-1 1 0 1 0 1 0 1 1 1-1 1 0 1-1 1 1 1 0 1-1 1-1 1-1 1 1 1 1 1 2 1-1 1-1 1 0 1 0 1 0 1 1 1 2 1-1 1-1 1-1 1-1 1 1 1 1 1 0 1 0 1-1 1 1 1 1 1-1 1-1 1 0 1-1 1 1 1 2"/><path stroke="#2a0d0d" d="M0 1342l1-2 1-1 1 0 1 1 1-1 1-1 1 1 1-1 1 0 1 1 1 0 1 0 1 0 1-1 1 1 1 0 1 0 1-1 1-1 1 0 1 0 1 1 1 0 1 1 1 0 1 0 1 0 1-1 1 0 1 1 1 0 1 0 1 1 1-1 1-2 1 0 1 2 1 0 1 1 1 1 1 0 1-1 1-1 1-1 1 0 1 0 1 0 1-1 1-1 1-1 1 1 1 1 1 1 1 0 1 0 1-1 1-2 1-1 1 0 1-1 1 0 1-1 1-1 1-2 1-4 1-4 1-5 1-4 1-4 1-5 1-5 1-6 1-7 1-8 1-8 1-6 1-5 1-3 1-2 1-1 1 0 1 4 1 4 1 3 1 5 1 7 1 7 1 6 1 8 1 7 1 4 1 4 1 5 1 5 1 4 1 1 1 2 1 3 1 2 1 1 1 1 1 0 1 0 1-1 1 1 1 1 1 1 1 0 1-1 1 0 1-1 1 0 1 0 1 0 1 0 1 1 1 1 1-1 1-1 1 1 1 0 1 0 1 1 1-1 1 1 1 1 1 0 1-1 1-1 1 0 1 1 1 0 1 0 1 0 1 0 1 1 1-1 1-1 1 1 1 0 1 0 1 0 1 0 1 1 1-1 1-1 1 1 1 0 1 1 1 0 1 0 1 0 1 0 1 1 1-2 1 0 1 1 1 1 1 1 1 0 1-1 1-1 1 0 1-1 1 1 1 1 1 1 1-2 1-1 1-1 1-1 1 1 1 0 1 0 1-1 1 1 1 2 1 0 1-2 1 1 1 0 1-1 1-1 1 1 1 1 1 1 1 1 1 1 1-1 1-1 1-1 1 1 1-1"/><path stroke="#270c0c" d="M0 1357l1-1 1-1 1 1 1 0 1-1 1-1 1-1 1 1 1 0 1 0 1 0 1 1 1 0 1-1 1-1 1 1 1 0 1 0 1 0 1-1 1 1 1 1 1 0 1-3 1-1 1 1 1 1 1 0 1 1 1 1 1 1 1-2 1-1 1 0 1-1 1 1 1-1 1-1 1 1 1 1 1 1 1 0 1-1 1-1 1 1 1 0 1 0 1-1 1 1 1 0 1-1 1-1 1-1 1-1 1 0 1 2 1 0 1-2 1-3 1-3 1-2 1-1 1-3 1-5 1-5 1-5 1-7 1-6 1-7 1-7 1-8 1-4 1-5 1-6 1-4 1-2 1 0 1 3 1 3 1 5 1 5 1 6 1 7 1 8 1 7 1 6 1 4 1 5 1 5 1 6 1 3 1 3 1 2 1 3 1 2 1 1 1 1 1-2 1-1 1 0 1 2 1 1 1 1 1 0 1 0 1-2 1 1 1 1 1 0 1-1 1 0 1 1 1 0 1 0 1 0 1 1 1 1 1-1 1 0 1-1 1 0 1 0 1 0 1 0 1 1 1 0 1-2 1 0 1 1 1 1 1 0 1 0 1 0 1 0 1 0 1 0 1 0 1 1 1-1 1 0 1 1 1 0 1-1 1-1 1-1 1 1 1-1 1 0 1 1 1 2 1 1 1-1 1-2 1 1 1 1 1 0 1-1 1 1 1 0 1 0 1-1 1-1 1 0 1 1 1 0 1 1 1 0 1-1 1 0 1 0 1-1 1 1 1 0 1-1 1-1 1 0 1 1 1 0 1 0 1 1 1 0 1 0 1 1 1 0 1-1 1 0 1 0 1 1 1 0 1-1 1-1 1 0 1-2"/><path stroke="#230c0c" d="M0 1370l1 0 1-1 1-1 1 0 1 0 1 1 1 1 1-1 1 0 1 1 1-1 1-2 1 1 1 1 1 1 1 0 1-1 1-1 1 0 1-1 1 0 1 0 1 0 1 1 1 0 1 0 1 1 1 1 1 0 1 0 1-2 1 0 1 0 1 1 1-1 1-2 1-1 1 1 1 1 1 0 1 0 1 0 1 1 1 0 1-1 1 0 1 0 1-1 1 0 1-1 1 0 1-1 1 0 1 1 1-2 1-3 1-2 1-1 1-1 1-4 1-3 1-6 1-6 1-5 1-6 1-6 1-6 1-8 1-7 1-5 1-6 1-5 1 0 1-1 1-1 1 2 1 3 1 6 1 7 1 7 1 6 1 7 1 7 1 8 1 6 1 5 1 5 1 4 1 3 1 2 1 0 1 1 1 1 1 2 1 1 1 1 1 0 1 0 1 0 1 1 1 0 1-1 1-1 1 1 1 1 1 0 1-1 1 1 1 1 1 1 1 0 1-1 1 1 1 1 1-1 1-1 1-1 1 0 1 0 1 2 1 0 1 0 1-1 1 1 1 1 1 0 1-1 1 1 1 1 1-2 1-1 1 0 1-1 1 2 1 1 1-1 1 0 1 1 1 0 1-1 1 0 1 0 1 0 1 1 1 0 1-1 1-1 1 1 1 0 1 0 1 0 1 0 1 0 1 0 1 0 1 0 1 2 1-1 1-1 1 0 1 0 1 0 1 1 1 0 1 1 1 0 1 0 1-2 1-1 1 0 1-1 1 0 1 2 1 1 1 0 1-1 1-1 1 0 1 0 1 0 1-1 1 2 1 3 1-1 1-1 1-1 1-1 1 1 1 0 1-2 1 0 1 1 1 0"/><path stroke="#200c0c" d="M0 1384l1 1 1 1 1 0 1 0 1 0 1-1 1-1 1 1 1 0 1 0 1 0 1 1 1-2 1-1 1 1 1 0 1 0 1 1 1 0 1-1 1-1 1 0 1 1 1-1 1 0 1 1 1 0 1-2 1 0 1 1 1 0 1 1 1-2 1-1 1 2 1 1 1 1 1-1 1 0 1-1 1-1 1 1 1 0 1-1 1 1 1 1 1-1 1 0 1 0 1-1 1-2 1-2 1-2 1 0 1-2 1-4 1-3 1-2 1-5 1-7 1-4 1-5 1-7 1-8 1-7 1-5 1-7 1-7 1-5 1-3 1 0 1 1 1 2 1 3 1 4 1 6 1 7 1 8 1 8 1 7 1 6 1 5 1 5 1 5 1 4 1 4 1 1 1 3 1 1 1 2 1 2 1 0 1 0 1 2 1 0 1 0 1-1 1 1 1 0 1 0 1 0 1 1 1 2 1 0 1 0 1 0 1-1 1-2 1 2 1 1 1 0 1 0 1 0 1-1 1-1 1 1 1 1 1 0 1-1 1-1 1 0 1 1 1 1 1 0 1 0 1-2 1-1 1 1 1 2 1 0 1 0 1 0 1-1 1-1 1 0 1 0 1 1 1 0 1 1 1 1 1 0 1-2 1 0 1-1 1 1 1 0 1 0 1 0 1 1 1 0 1-1 1 0 1 0 1 1 1-1 1 0 1 0 1 1 1 0 1 1 1 0 1-2 1-1 1 0 1 0 1 0 1 2 1 1 1 1 1-2 1 0 1 0 1 0 1 0 1 0 1-1 1-1 1-1 1 0 1 2 1 2 1 0 1 0 1-1 1 0 1 0 1-1 1-1 1 2 1 1 1-1 1 0 1 1"/><path stroke="#1d0c0c" d="M0 1403l1-1 1 0 1 0 1 0 1-2 1 0 1 0 1 0 1-1 1 1 1 0 1-1 1 0 1 0 1 0 1-1 1 1 1 0 1 1 1 1 1-1 1 1 1 0 1-1 1 0 1 0 1 0 1 0 1-2 1-1 1 0 1 1 1 1 1 0 1 0 1 0 1 0 1-1 1 0 1 1 1 0 1-1 1 0 1 0 1-1 1-1 1 0 1 0 1-1 1 0 1-1 1-3 1-2 1-3 1-4 1-4 1-3 1-5 1-7 1-8 1-7 1-6 1-6 1-7 1-6 1-5 1-4 1-5 1 0 1 2 1 3 1 3 1 5 1 6 1 8 1 8 1 7 1 8 1 7 1 6 1 5 1 3 1 4 1 3 1 1 1 2 1 3 1 2 1 2 1 0 1-1 1-1 1 1 1 1 1 0 1-1 1-1 1 0 1 1 1 2 1 1 1 0 1-1 1 0 1 0 1-1 1 1 1 1 1-1 1-1 1 0 1 1 1 0 1-1 1 0 1 2 1 1 1 0 1-1 1 1 1 0 1-1 1-3 1-1 1 1 1 1 1 0 1 0 1 0 1 0 1 1 1 1 1 1 1 0 1 1 1-1 1-1 1-1 1-1 1 0 1 1 1 2 1 0 1 1 1 0 1 0 1-1 1-1 1-1 1 0 1 0 1 0 1-1 1-2 1 0 1 1 1 2 1 1 1 0 1-1 1-1 1 2 1 1 1 0 1-2 1 0 1 1 1 1 1 0 1-1 1 0 1-1 1 0 1 0 1 0 1 0 1 1 1 1 1 0 1 0 1-2 1-2 1 0 1 1 1 0 1 0 1 0 1 1 1 0 1 0 1 0 1-1 1 0"/><path stroke="#190c0c" d="M0 1415l1 0 1-2 1-1 1 1 1 1 1 0 1 1 1 0 1-1 1 0 1 1 1 0 1-1 1-1 1 1 1-1 1 1 1 1 1 0 1 0 1 0 1-1 1 0 1 1 1 0 1-1 1-1 1 0 1 0 1 1 1 1 1 0 1 0 1-1 1-2 1 0 1 2 1 0 1-1 1-1 1 1 1 0 1 0 1-1 1-2 1-1 1 0 1 0 1-1 1-3 1-3 1-3 1-3 1-3 1-6 1-6 1-7 1-6 1-6 1-8 1-7 1-7 1-5 1-5 1-4 1-2 1 1 1 2 1 3 1 5 1 6 1 5 1 6 1 8 1 8 1 8 1 6 1 6 1 5 1 4 1 3 1 3 1 2 1 2 1 2 1 1 1 1 1 2 1-1 1-1 1-1 1 1 1 0 1-1 1 0 1 1 1 1 1 0 1-1 1 1 1 1 1 0 1 0 1 0 1 1 1 1 1 0 1-1 1 0 1-1 1 1 1-1 1-1 1 0 1 1 1 1 1 1 1 0 1-1 1-1 1 0 1-1 1 1 1 2 1-1 1-1 1 1 1 0 1 0 1-1 1 0 1 1 1 0 1-1 1 0 1-1 1 0 1 1 1 1 1-1 1-1 1 0 1 0 1 0 1 1 1 0 1 1 1 0 1-1 1 0 1 1 1 1 1 0 1-1 1-1 1 0 1 1 1 1 1 1 1 0 1-2 1-1 1 0 1 0 1 1 1 2 1 0 1-2 1-1 1 0 1-1 1 1 1 2 1 1 1 0 1-1 1-3 1-1 1 2 1 1 1 0 1 1 1-2 1-1 1 1 1 2 1-1 1-1 1 1 1 0 1 0 1 0 1 2"/><path stroke="#150c0c" d="M0 1432l1-1 1-1 1 1 1-1 1 0 1-1 1 0 1-1 1 1 1 1 1 0 1-2 1 0 1 0 1 0 1 1 1 0 1 1 1 0 1 1 1 0 1-1 1 0 1-1 1-1 1 2 1 1 1 0 1-2 1-1 1 0 1 0 1 0 1 2 1 1 1-2 1-1 1 0 1-1 1 0 1 0 1 1 1-1 1-1 1-1 1-2 1-1 1-1 1-4 1-3 1-3 1-4 1-4 1-5 1-6 1-7 1-7 1-7 1-8 1-6 1-6 1-6 1-4 1-2 1 0 1 1 1 3 1 5 1 7 1 6 1 9 1 7 1 7 1 7 1 6 1 6 1 5 1 5 1 3 1 2 1 3 1 3 1 1 1-1 1 1 1 1 1 0 1-1 1 1 1 1 1 2 1 0 1-1 1 0 1 0 1 0 1 0 1 0 1 0 1 1 1 1 1 1 1 0 1 0 1 0 1-1 1 0 1 0 1 1 1 0 1-2 1 0 1 2 1 1 1 0 1-1 1-2 1-1 1 1 1 1 1 1 1-2 1-1 1 0 1 0 1-1 1 0 1 2 1 1 1-1 1 0 1 0 1 0 1 0 1-1 1 1 1 0 1 0 1 0 1 0 1 0 1 0 1 0 1 0 1-1 1 0 1 0 1 0 1 1 1 1 1 0 1 0 1-2 1 0 1 0 1 1 1 0 1-1 1 1 1 0 1-1 1 1 1 1 1-1 1-1 1 0 1 1 1 1 1 0 1 0 1-1 1 0 1-1 1 1 1 0 1 1 1-1 1-1 1 0 1 0 1-1 1 0 1 0 1 2 1 1 1-1 1 1 1 0 1-1 1 0 1 1 1-1 1-1"/><path stroke="#110c0c" d="M0 1447l1-3 1-1 1 1 1 0 1 0 1 0 1 0 1 2 1 0 1-1 1 0 1 0 1 1 1 0 1 0 1-1 1-1 1 0 1 1 1 2 1-1 1-1 1 0 1 0 1-1 1-1 1 2 1 0 1-1 1 0 1 0 1-1 1 1 1 0 1 0 1 1 1 1 1-2 1-2 1-1 1 0 1 0 1-2 1-1 1 1 1 0 1-2 1-3 1-4 1-3 1-3 1-5 1-6 1-7 1-7 1-7 1-7 1-8 1-7 1-7 1-5 1-2 1-2 1-1 1 2 1 6 1 5 1 6 1 5 1 5 1 9 1 9 1 7 1 6 1 5 1 5 1 3 1 4 1 3 1 2 1 2 1 3 1 0 1 0 1 0 1 1 1 2 1 0 1 0 1 0 1 0 1 0 1-1 1 0 1 2 1 1 1 0 1-1 1 0 1 0 1 1 1 0 1-1 1 0 1 1 1 1 1-1 1 0 1 0 1 1 1-1 1-1 1-1 1-1 1 0 1 0 1 2 1 0 1 0 1-1 1 0 1 1 1 0 1-1 1 0 1 2 1 0 1-1 1 2 1 1 1-2 1-2 1 0 1 0 1 0 1 1 1 1 1 0 1 0 1 1 1 0 1-1 1-1 1 0 1-1 1 0 1 1 1 0 1-1 1 0 1-1 1 0 1 0 1 2 1 2 1-1 1-1 1 1 1-1 1-2 1 0 1 2 1 1 1-1 1-1 1 0 1 0 1 0 1 1 1 0 1 0 1 0 1 1 1 0 1-1 1 0 1 1 1 0 1 0 1 1 1 0 1-1 1-1 1-1 1 0 1 1 1 1 1 0 1-1 1 0 1 1 1-1 1-1"/><path stroke="#0c0c0c" d="M0 1462l1-1 1 0 1 0 1-1 1-1 1 1 1 0 1 0 1 0 1 2 1 0 1-1 1-1 1-1 1 1 1 0 1 0 1 0 1 0 1 0 1 0 1 2 1-1 1-2 1 0 1 0 1 1 1 0 1-2 1-1 1 0 1 2 1 1 1 0 1 0 1-1 1 0 1-1 1 0 1-1 1 0 1 0 1 1 1-3 1-3 1-2 1-2 1-3 1-4 1-5 1-6 1-4 1-5 1-7 1-9 1-8 1-7 1-7 1-5 1-4 1-3 1-2 1 0 1 3 1 5 1 4 1 5 1 8 1 9 1 8 1 8 1 8 1 5 1 5 1 5 1 4 1 3 1 1 1 1 1 2 1 2 1 1 1 0 1 1 1 0 1-1 1 0 1 2 1 0 1-1 1 0 1 2 1 1 1-2 1-1 1 1 1 1 1-1 1 0 1 2 1 0 1 0 1 0 1 0 1 1 1 0 1-2 1 0 1 1 1 0 1-1 1-1 1 0 1 0 1 0 1 0 1-1 1 1 1 2 1 0 1-1 1 1 1 0 1-1 1 0 1 0 1 0 1 0 1-1 1 0 1 1 1 1 1 0 1-1 1-1 1 1 1 1 1 0 1 0 1 0 1 0 1 0 1-2 1 0 1 0 1 0 1 1 1 1 1 1 1 0 1-2 1-1 1 2 1 0 1-1 1 1 1 0 1-1 1 1 1 0 1 1 1 0 1-1 1 1 1 0 1-1 1-1 1 1 1 1 1-1 1-1 1 1 1 0 1 1 1 0 1-1 1 0 1 0 1-1 1 0 1 1 1 0 1 0 1-1 1-1 1 0 1 0 1 1 1 1 1 0 1-1 1 1 1 2"/></g>
<g class="wf" fill="none" stroke-width="2.15" transform="translate(941.5 0) scale(1 0.5)" stroke-linejoin="bevel"><path stroke="#f51212" d="M0 65l1-1 1 5 1-2 1 0 1 2 1-4 1 2 1-3 1 3 1 0 1-1 1 0 1 1 1 0 1 2 1-2 1 0 1 0 1-1 1 1 1-1 1 2 1-3 1 2 1 1 1-2 1 0 1 4 1-3 1 2 1 0 1-2 1 0 1 4 1-3 1 2 1-2 1 2 1-2 1 0 1 0 1 1 1 0 1 0 1 1 1-1 1 2 1-2 1 2 1 1 1 1 1-5 1 5 1-4 1 4 1-2 1 1 1-2 1 2 1 0 1-1 1 0 1 2 1 0 1-1 1-1 1 0 1 0 1 0 1-1 1-3 1-2 1 0 1-1 1-1 1 1 1-2 1 3 1 0 1 4 1 1 1 0 1-1 1 1 1 4 1-1 1 1 1-2 1 0 1 2 1 0 1-1 1 1 1 2 1-2 1 2 1 1 1-1 1-1 1 0 1 2 1-3 1 0 1 2 1-2 1 3 1-2 1 2 1-1 1 0 1 0 1-2 1 1 1 1 1 3 1-1 1 0 1-2 1 2 1 1 1-1 1 3 1-5 1 0 1 1 1 0 1 1 1 1 1-1 1 0 1 1 1 0 1-1 1 0 1 2 1-2 1 0 1 1 1 0 1 0 1 0 1 1 1 1 1-2 1-1 1 4 1-3 1-1 1 0 1 2 1 0 1-2 1 1 1 0 1 3 1-1 1 0 1-2 1 2 1 1 1-1 1 2 1-1 1 0 1 0 1-1 1 2 1-1 1 1 1-2 1 0 1 1 1-1 1 2"/><path stroke="#f31212" d="M0 81l1 1 1 0 1-2 1 2 1-1 1 0 1 1 1 0 1 1 1 2 1-3 1 2 1-2 1 1 1-1 1 0 1 2 1-1 1 0 1-1 1 3 1-2 1-1 1 1 1 1 1 0 1 1 1-3 1 1 1 3 1 1 1-4 1 1 1-2 1 1 1 0 1 1 1-1 1 3 1-1 1 0 1 1 1-1 1-1 1 1 1 3 1-2 1 0 1-1 1 0 1 1 1-3 1 2 1 0 1 1 1 2 1 1 1-2 1 0 1 1 1 1 1-3 1 0 1 1 1 0 1-3 1 3 1-3 1 2 1-1 1-5 1 2 1-2 1-2 1 2 1 1 1-2 1-1 1 1 1 2 1 1 1 4 1 0 1 1 1 2 1 0 1 0 1-1 1 1 1 1 1-2 1 4 1-2 1-1 1 2 1-2 1 3 1-1 1 2 1-3 1 0 1 0 1-1 1 2 1-1 1 2 1-1 1 2 1-5 1 4 1 0 1 0 1-1 1 3 1-2 1 1 1-1 1 0 1 1 1 0 1-2 1 1 1-1 1 2 1-1 1 0 1 2 1-1 1 1 1-1 1 1 1 0 1-1 1 1 1 0 1 0 1 1 1-1 1-1 1 3 1 1 1-3 1 2 1-1 1-1 1 0 1 1 1 0 1 0 1 0 1-1 1 3 1-3 1 1 1 2 1 0 1 1 1-2 1 0 1 2 1-2 1 1 1-1 1 1 1-3 1 4 1-3 1 3 1-2 1 2 1 3 1-4 1-1 1 4"/><path stroke="#f11212" d="M0 96l1-1 1 3 1-5 1 2 1 0 1 1 1-2 1 4 1 0 1-1 1 0 1-2 1 3 1-1 1 1 1 1 1-1 1-3 1 2 1 3 1-2 1 2 1-4 1 2 1 0 1-1 1 1 1 2 1 0 1-2 1 2 1 1 1-3 1 2 1 1 1-2 1 2 1-1 1 1 1 0 1-1 1 0 1 0 1 1 1 0 1 1 1-1 1 0 1 2 1-2 1 1 1 1 1-2 1 1 1 0 1-1 1-1 1 0 1 2 1 1 1 0 1 1 1-1 1-2 1-1 1 1 1 0 1-1 1 2 1-3 1 0 1-1 1-4 1 0 1 2 1-1 1-1 1-1 1 1 1 3 1 3 1 0 1 1 1 1 1 2 1-3 1 2 1 1 1 2 1 0 1-2 1 1 1-1 1 1 1 1 1-1 1 0 1-1 1 0 1 2 1 0 1 1 1-2 1 0 1 3 1-1 1 1 1-2 1 0 1 0 1 2 1-2 1-1 1 1 1 3 1-1 1 0 1 0 1 0 1 0 1-2 1 4 1-2 1 2 1-3 1 2 1-2 1 0 1 2 1 1 1 1 1 0 1-2 1 1 1-1 1 0 1 1 1 0 1 1 1-3 1 3 1-2 1 3 1 0 1-3 1 1 1 1 1-1 1 0 1 0 1 2 1 0 1-1 1 1 1 1 1 0 1-2 1 0 1 1 1 1 1-1 1 0 1-1 1 3 1-2 1 3 1-4 1 1 1 0 1 3 1-1 1-2 1-1 1 4"/><path stroke="#ef1212" d="M0 112l1-2 1 0 1 2 1 0 1 0 1 0 1 0 1 0 1 1 1-1 1 0 1 1 1-3 1 4 1-1 1-1 1 1 1 2 1-1 1-3 1 1 1 2 1 2 1-1 1-1 1 1 1-1 1 0 1 1 1-3 1 4 1-1 1-1 1 0 1-1 1 2 1 0 1 0 1 2 1-4 1 2 1 0 1 2 1-2 1 0 1 1 1 1 1 1 1-1 1-1 1 0 1 0 1 1 1 1 1-1 1 0 1 2 1-2 1 1 1-2 1 1 1-2 1 1 1 2 1 1 1-2 1-1 1 1 1 1 1-3 1 1 1-3 1-2 1-1 1-1 1 3 1-2 1-1 1 1 1 1 1 1 1 2 1 1 1 3 1 2 1 0 1-1 1 1 1-1 1 0 1 1 1 1 1-1 1 2 1 0 1 0 1-1 1-2 1 4 1-2 1 1 1 0 1-1 1 3 1-1 1-1 1-1 1 0 1 0 1 2 1-1 1 0 1 1 1-1 1 2 1-2 1 0 1 2 1-2 1 2 1 0 1-1 1-1 1 0 1 0 1 0 1 3 1-2 1 0 1 1 1 0 1-2 1 3 1 0 1-1 1 2 1-3 1 1 1 1 1 0 1 2 1-2 1-1 1 2 1 0 1 0 1-1 1 1 1-1 1 2 1-1 1 0 1 2 1-2 1 1 1 0 1 0 1 1 1-2 1 2 1-3 1 1 1 2 1 1 1 1 1-3 1 1 1-1 1-1 1 3 1-1 1 2 1-1 1-1"/><path stroke="#ec1212" d="M0 126l1 1 1 0 1-1 1 4 1-3 1-1 1 1 1 2 1-1 1-1 1 0 1 0 1 0 1 0 1 1 1 0 1 2 1-1 1-1 1 1 1 1 1-3 1 2 1 3 1-2 1-2 1 1 1 0 1 4 1-4 1 0 1 0 1-1 1-2 1 4 1 1 1-1 1 1 1 0 1 0 1-2 1 4 1-1 1 0 1-1 1 0 1 0 1 1 1 1 1-2 1 2 1-2 1 2 1-1 1 1 1 1 1-1 1-1 1 0 1 1 1-1 1 2 1-1 1 1 1-2 1 0 1 0 1 1 1-2 1 1 1-4 1 0 1 0 1-4 1 1 1-2 1 1 1 0 1 2 1-1 1 0 1 3 1 2 1 2 1 1 1 2 1-1 1 1 1-1 1 1 1 2 1-1 1-3 1 4 1-3 1 2 1 1 1 0 1 0 1 1 1-1 1-2 1 2 1-1 1-2 1 3 1 1 1 0 1-1 1 3 1-2 1 1 1-1 1 2 1-2 1 2 1 0 1-2 1 2 1-3 1 2 1 1 1-2 1-1 1 2 1 0 1 0 1 1 1 0 1 1 1-1 1-2 1 3 1-1 1 0 1 2 1-1 1-1 1 1 1-2 1 3 1-1 1 2 1-1 1-1 1 0 1-1 1 1 1 1 1 1 1-1 1 1 1 0 1-2 1 1 1 0 1-1 1 0 1 2 1 1 1 0 1-2 1 3 1 0 1-3 1 2 1 1 1-2 1 2 1-2 1 0 1 2 1-1 1 0"/><path stroke="#ea1212" d="M0 142l1-1 1 3 1-2 1 0 1 0 1 1 1-1 1 2 1-2 1 2 1-2 1 0 1 0 1 2 1-2 1 3 1-2 1 2 1-2 1 2 1-2 1 0 1 2 1-1 1 2 1-2 1 1 1-1 1-1 1 4 1-2 1 1 1-1 1-2 1 3 1 1 1 0 1 1 1-2 1 0 1 0 1-1 1 2 1 0 1 0 1-1 1 1 1-1 1 2 1-2 1 0 1 1 1-1 1 0 1 1 1-2 1 5 1-2 1 0 1-1 1 1 1 0 1 0 1-2 1 2 1-2 1 2 1-1 1 0 1 0 1 0 1 0 1-3 1-3 1 2 1-4 1 0 1 0 1 0 1 3 1 0 1 3 1-1 1 3 1 0 1 1 1 2 1 0 1 1 1-1 1-1 1 2 1-3 1 3 1-1 1 2 1-4 1 6 1-3 1-1 1 2 1 1 1 0 1 2 1-4 1 2 1 0 1-1 1 1 1 1 1-2 1 2 1 0 1 0 1-3 1 3 1-1 1 2 1-1 1 2 1-4 1 3 1-2 1 3 1 0 1-3 1 2 1 0 1-2 1 1 1 1 1 1 1-1 1 1 1 0 1 0 1-2 1 2 1 0 1-2 1 4 1 0 1-2 1 3 1-4 1 0 1 1 1 0 1 3 1-2 1 0 1 0 1 2 1-2 1 0 1 1 1 1 1-2 1 2 1-1 1 0 1 1 1 1 1-2 1 2 1-1 1 0 1 0 1 1 1 0 1-1 1 1 1-2 1 0"/><path stroke="#e81212" d="M0 156l1 1 1 0 1 0 1 1 1-1 1 0 1 2 1 1 1-2 1 2 1 0 1-3 1 2 1-2 1 1 1 1 1-2 1 3 1-1 1 0 1 1 1-2 1-1 1 3 1-1 1 1 1-1 1 0 1 0 1 0 1 0 1 0 1 1 1 4 1-4 1-1 1 3 1-2 1 0 1 1 1 0 1 0 1 1 1-1 1 2 1 0 1-2 1 1 1-2 1 3 1-1 1 3 1-3 1 2 1-2 1-1 1 1 1 1 1 1 1-2 1 2 1-1 1 0 1 0 1 3 1-2 1 0 1-2 1 1 1 0 1 1 1-4 1-1 1-1 1-1 1 0 1-3 1 2 1-1 1-1 1 2 1 0 1 2 1 4 1 1 1-1 1 2 1 3 1-2 1 1 1 1 1-1 1 0 1 0 1 1 1-2 1 2 1 0 1-2 1 3 1-2 1-2 1 1 1 3 1 0 1-1 1-1 1 2 1 1 1-1 1-2 1 3 1-1 1 0 1 1 1 0 1 0 1-1 1 1 1 0 1 2 1-3 1 1 1-1 1 2 1-1 1-3 1 5 1-2 1 0 1-1 1 1 1 0 1 1 1 1 1 0 1 0 1-1 1 2 1-1 1 1 1 0 1-1 1 2 1 0 1-2 1 3 1 0 1-4 1-1 1 2 1 2 1 1 1-1 1 0 1 1 1 0 1-2 1 1 1 1 1-2 1 1 1-1 1 3 1-1 1 1 1-2 1 1 1 1 1-1 1 2 1-2 1 0 1 1"/><path stroke="#e61212" d="M0 173l1 2 1-3 1 3 1-3 1 0 1-2 1 4 1 1 1-3 1 1 1 0 1-1 1 2 1 0 1-1 1 0 1 1 1 1 1-2 1 1 1 1 1-4 1 4 1 2 1-4 1 4 1-2 1 1 1-1 1-1 1 0 1 4 1-4 1 1 1 3 1-2 1 0 1-2 1 2 1-1 1-1 1 3 1 1 1-2 1 0 1 2 1 0 1-2 1 3 1 0 1-1 1-2 1 2 1 1 1 1 1-3 1 3 1-2 1 1 1-1 1 1 1 1 1-2 1 2 1-1 1 0 1-1 1 1 1-3 1 2 1 1 1-1 1-4 1-1 1 0 1 1 1-4 1 0 1 0 1 1 1-1 1 3 1 1 1 3 1-1 1 3 1 2 1 0 1 0 1-3 1 5 1 1 1-1 1-1 1 1 1 3 1-5 1 1 1 2 1-1 1-3 1 3 1 0 1-1 1 1 1 0 1-2 1 3 1 2 1 0 1-4 1 0 1 2 1 0 1-2 1 1 1 3 1-1 1 1 1-2 1 2 1-2 1 0 1 0 1-1 1 2 1-1 1 1 1 1 1 0 1 0 1-1 1 1 1 1 1-1 1 0 1-3 1 2 1 3 1-3 1 0 1 3 1-3 1 3 1-1 1-1 1-1 1 4 1-4 1 1 1 3 1-3 1 2 1 0 1 0 1-1 1 0 1 2 1-2 1 2 1 0 1 0 1 0 1 1 1-1 1 1 1 0 1 0 1-2 1-1 1 3 1 1 1-2 1-1"/><path stroke="#e41111" d="M0 187l1 1 1 1 1-1 1-1 1 1 1 1 1-1 1 2 1-2 1 2 1 1 1-3 1 0 1 2 1 3 1-3 1-1 1 2 1-2 1-1 1 1 1 2 1-3 1 0 1 3 1-1 1 2 1-3 1 1 1 0 1-1 1 2 1 0 1 1 1-1 1 0 1 1 1 1 1 0 1-1 1-1 1 0 1-1 1 2 1 0 1 2 1-1 1 0 1 1 1-4 1 2 1 1 1 0 1-1 1 2 1 0 1 0 1 0 1-2 1 3 1-2 1-1 1 2 1 1 1-2 1-1 1 1 1 1 1-3 1 4 1 0 1-2 1 0 1-2 1-3 1 1 1-1 1-3 1-1 1 0 1 3 1 0 1 5 1-3 1 3 1 1 1 1 1 2 1-1 1 1 1-1 1-1 1 3 1-1 1 0 1 2 1-1 1 1 1 2 1-2 1 0 1-1 1 2 1 0 1-2 1 2 1 0 1-1 1 1 1 3 1-4 1 1 1 0 1 0 1-2 1 3 1 1 1 1 1-3 1-1 1 3 1-2 1 1 1 0 1 1 1-1 1 1 1-2 1 5 1-2 1-2 1 0 1 1 1 0 1-1 1 3 1 0 1-3 1 2 1 0 1 1 1-2 1 4 1-3 1 3 1-3 1 2 1-2 1 3 1-2 1-1 1 0 1 0 1 2 1 0 1 0 1 1 1 1 1-3 1 2 1 2 1-4 1 0 1 2 1 0 1-1 1 0 1 3 1-1 1-2 1-1 1 1 1 1 1-1"/><path stroke="#e11111" d="M0 202l1 2 1-1 1 0 1 1 1 1 1-1 1 0 1 0 1 2 1-4 1 1 1 1 1 3 1-1 1-3 1 1 1 1 1 0 1 1 1-2 1-1 1 3 1 1 1-3 1-1 1 2 1-2 1 3 1-2 1 3 1-1 1 0 1 1 1-1 1-1 1 3 1-3 1 3 1-2 1 0 1 2 1 0 1 0 1-2 1 0 1 2 1 0 1 0 1 1 1-1 1 1 1 1 1-1 1-1 1 1 1 0 1 0 1-1 1 1 1 2 1-2 1 0 1 0 1 1 1-3 1 4 1-1 1-1 1 1 1 1 1-2 1 0 1 0 1-2 1-1 1 0 1-3 1-2 1 1 1 1 1-2 1 1 1 1 1 2 1 0 1 2 1 4 1 0 1-1 1 2 1 0 1 2 1-4 1 3 1 1 1-3 1 1 1 1 1 0 1 0 1 1 1-2 1 0 1 4 1-3 1 1 1 0 1 1 1-1 1 1 1 1 1-1 1-3 1 2 1 2 1 0 1-1 1-2 1 1 1 4 1-1 1 0 1-3 1 0 1 1 1-1 1 2 1-1 1 2 1-1 1 0 1 1 1 0 1 0 1-1 1 1 1-2 1 0 1 1 1 1 1 2 1-1 1-2 1 1 1-1 1 2 1 0 1 0 1 0 1 1 1 0 1-2 1 2 1-2 1 2 1 0 1 2 1-2 1 0 1 0 1 1 1 0 1-1 1 2 1 1 1 0 1 0 1-3 1 1 1 0 1-2 1 4 1-3 1 2"/><path stroke="#df1111" d="M0 217l1 1 1 1 1 0 1-1 1 0 1 2 1-1 1 0 1 1 1-4 1 4 1 1 1 1 1-2 1-1 1 2 1 1 1-3 1 0 1 1 1 0 1-2 1 0 1 1 1 1 1 1 1-1 1 1 1 2 1 2 1-3 1-2 1 3 1-1 1 0 1 1 1 0 1-2 1 0 1 2 1 0 1 2 1-2 1-1 1 0 1 0 1-1 1 1 1 1 1 0 1 0 1 1 1-1 1 0 1 0 1 1 1 0 1-3 1 4 1-1 1 0 1 1 1-1 1 1 1-1 1 2 1-1 1-2 1 1 1 2 1-1 1-1 1-2 1 0 1-1 1-1 1-1 1-3 1 0 1-1 1 0 1 0 1 2 1 0 1 4 1 2 1 2 1-1 1 1 1 2 1-1 1 1 1 0 1-1 1 3 1-3 1 0 1 3 1-2 1 3 1-1 1 0 1-1 1-1 1 1 1 1 1 0 1-1 1 0 1 0 1 1 1 1 1 1 1-2 1 3 1-1 1 1 1-3 1 2 1 1 1-4 1 4 1-1 1 1 1-1 1 1 1-1 1 0 1 1 1 0 1-2 1 3 1 0 1 0 1-2 1 3 1-1 1 0 1-1 1 0 1 0 1 0 1 2 1-2 1 0 1 1 1 0 1-2 1 2 1 0 1 2 1-1 1-1 1 0 1 0 1 1 1-1 1 2 1-2 1 2 1 1 1-4 1 3 1 0 1 1 1-1 1 0 1 1 1 0 1 0 1 1 1 0 1 0 1-2"/><path stroke="#dd1111" d="M0 233l1 2 1-3 1 3 1-3 1 4 1 0 1-2 1 0 1-2 1 2 1 2 1-1 1-1 1 3 1-1 1 0 1-1 1 1 1 2 1-2 1-2 1 2 1 2 1-1 1-2 1 2 1-2 1 2 1-2 1 1 1 0 1 0 1 3 1 0 1-2 1 0 1 2 1-2 1 0 1 0 1 2 1-1 1 0 1-1 1 0 1 2 1-2 1 1 1-1 1 0 1 1 1 0 1-1 1 1 1 1 1-3 1 4 1-1 1-1 1 1 1 1 1 0 1 0 1 0 1 1 1-2 1 1 1 1 1-1 1-1 1 1 1-1 1 0 1-3 1-1 1-1 1 0 1 2 1-3 1 0 1-2 1 2 1 0 1 1 1 2 1-1 1 1 1 2 1 4 1 0 1 0 1 0 1 1 1 0 1-1 1 2 1-2 1 3 1-2 1 0 1 0 1 0 1 1 1-2 1 2 1 0 1 1 1-1 1 2 1-3 1 2 1-1 1 1 1 0 1 2 1-2 1-1 1 4 1-2 1 0 1 1 1-2 1 1 1 1 1-2 1 1 1 2 1 1 1-2 1 0 1 1 1-3 1 1 1 0 1-1 1-1 1 3 1 2 1-1 1 1 1-4 1 3 1 2 1-3 1 0 1 2 1-1 1 1 1 0 1 1 1 0 1-1 1 0 1 1 1-1 1 2 1 0 1 0 1-3 1 2 1 0 1 1 1-3 1 2 1 0 1 2 1-2 1 2 1-1 1 2 1-2 1-2 1 2 1 1"/><path stroke="#db1111" d="M0 250l1 0 1-1 1-1 1 1 1 0 1 2 1 0 1-3 1-1 1 2 1 1 1-1 1 0 1 3 1-1 1-3 1 3 1 0 1-1 1 1 1 1 1 2 1-3 1-1 1 1 1 1 1 2 1-2 1 0 1 0 1-1 1 1 1-1 1 2 1 0 1 0 1-2 1 1 1 0 1 1 1 0 1 0 1 1 1 1 1-3 1 1 1-1 1 3 1-2 1 2 1-2 1 2 1-1 1 0 1 1 1 0 1-1 1 1 1 1 1 0 1-2 1-1 1 2 1-3 1 4 1 0 1-2 1 2 1-1 1 2 1-2 1-1 1 0 1 0 1-2 1 2 1-4 1 1 1-4 1 0 1-1 1 0 1 2 1 2 1 0 1 0 1 3 1 0 1-1 1 5 1-2 1 2 1 1 1 0 1 0 1 2 1 0 1 1 1-2 1 0 1 2 1-3 1 2 1 0 1 0 1 0 1 0 1 1 1-2 1 2 1-2 1 2 1 0 1-1 1 0 1 1 1 0 1-2 1 1 1 2 1-1 1-1 1-1 1 2 1-2 1 3 1 0 1 2 1-4 1 3 1-2 1 0 1 1 1-1 1 4 1-2 1-1 1 4 1-4 1 1 1 0 1-1 1 2 1 1 1-3 1 1 1 0 1-1 1 0 1 2 1-1 1 2 1 0 1 0 1 0 1-1 1 0 1 1 1 1 1-1 1 1 1-1 1-1 1 2 1-1 1-1 1 3 1-1 1 1 1-1 1 2 1-1 1 1 1-2"/><path stroke="#d91111" d="M0 264l1 2 1-2 1 0 1 2 1 0 1-1 1 2 1-4 1 2 1-1 1 3 1 0 1-2 1 1 1 1 1-1 1 0 1 1 1 1 1-2 1-1 1 1 1 0 1 0 1 1 1 0 1 1 1-1 1 0 1-1 1 1 1-1 1 2 1-1 1 1 1 0 1-1 1 2 1 0 1-2 1 3 1-2 1 0 1 0 1-1 1 2 1 1 1-3 1 2 1 1 1 0 1 0 1 0 1-1 1 2 1-1 1 1 1-1 1 0 1 0 1 1 1 1 1-4 1 1 1 0 1 1 1 0 1 1 1 0 1 1 1-2 1 0 1-1 1 0 1 0 1-2 1-2 1-2 1 1 1-2 1-1 1 1 1 1 1 3 1 0 1-1 1 2 1 0 1 1 1 1 1 4 1 0 1-2 1 2 1 0 1 0 1 3 1-4 1 2 1 1 1 0 1-3 1 3 1-2 1 1 1-1 1 3 1 3 1-3 1-1 1-2 1 3 1 1 1-3 1 3 1-3 1 1 1 1 1-1 1 2 1 1 1-1 1 0 1 2 1-2 1 1 1 1 1-3 1 4 1-1 1-1 1 1 1-1 1 0 1-1 1 1 1 0 1 1 1 0 1 0 1-1 1 2 1-4 1 2 1 2 1-1 1 1 1 1 1-1 1-2 1 1 1-1 1 2 1 1 1-1 1 1 1-1 1 2 1-1 1 0 1 0 1 1 1 0 1-1 1 0 1 1 1 0 1-1 1 0 1 0 1 1 1-1 1 0 1 1"/><path stroke="#d61111" d="M0 279l1 1 1-1 1 0 1 3 1-2 1-1 1 2 1-1 1-1 1 2 1-2 1 1 1 1 1 1 1-2 1 0 1 1 1 1 1-3 1 3 1 0 1 1 1-3 1 3 1-2 1 1 1 0 1-3 1 3 1 1 1 0 1-1 1-1 1 3 1-2 1 2 1 1 1-2 1 0 1 0 1-2 1 3 1 1 1 0 1-1 1 2 1-2 1 0 1 0 1 0 1 0 1 0 1 0 1 1 1 0 1-1 1 2 1-2 1 2 1 0 1-3 1 1 1 3 1-2 1 0 1 1 1 0 1 1 1-1 1 2 1-2 1-1 1 0 1 0 1 1 1 0 1-5 1-1 1 0 1-2 1 0 1-2 1 2 1-2 1 4 1 2 1 3 1-2 1 3 1 1 1-1 1 2 1-1 1 0 1 0 1 2 1-1 1-1 1 3 1-2 1 3 1-1 1-1 1-1 1 1 1 0 1 1 1 0 1 3 1-5 1 2 1 1 1 1 1 1 1-3 1 2 1-4 1 3 1 2 1-1 1-2 1 1 1-2 1 2 1 0 1 2 1-1 1 1 1-1 1 0 1 3 1-1 1-3 1 4 1-1 1 1 1-1 1-3 1 2 1-2 1 1 1 1 1 3 1-2 1 1 1 0 1-2 1 3 1-1 1-1 1 0 1 1 1 1 1 1 1-2 1 0 1 3 1 1 1-1 1-2 1-1 1 2 1-1 1-1 1 3 1 1 1-3 1 0 1 0 1-1 1 3 1-3 1 3 1 0"/><path stroke="#d41111" d="M0 295l1-2 1 2 1 0 1 1 1-1 1-1 1 3 1 0 1 0 1-2 1 1 1-1 1 1 1 1 1-3 1 5 1-1 1-3 1 1 1 0 1 1 1-2 1 2 1-2 1 1 1 3 1-2 1 0 1 2 1-1 1 0 1-1 1 2 1-1 1 1 1 0 1 1 1 0 1-1 1-2 1 1 1 0 1 3 1-2 1-3 1 4 1 0 1-2 1 2 1-2 1 2 1 0 1 0 1 1 1-2 1 2 1-1 1 1 1 1 1-2 1 1 1 2 1 0 1-3 1 1 1 1 1-1 1 1 1-2 1 2 1-2 1 2 1 0 1-2 1-2 1-1 1-2 1 3 1-5 1-1 1 1 1-1 1 2 1 1 1 0 1 1 1 1 1 2 1 2 1 1 1 1 1-2 1 2 1 0 1 1 1-1 1 2 1 1 1 1 1-3 1 1 1 0 1 0 1-1 1 2 1-3 1 2 1-2 1 4 1-3 1 1 1 1 1-1 1 2 1-1 1 3 1-4 1 1 1 2 1-1 1 1 1-1 1 1 1 0 1 1 1-3 1 2 1 0 1 0 1-1 1 2 1-2 1 2 1 0 1-3 1 3 1-3 1 4 1-3 1 2 1 0 1-2 1 0 1 3 1-1 1 2 1-1 1 3 1-3 1 2 1-1 1-1 1 1 1-1 1 0 1 3 1-2 1-1 1 2 1-2 1 1 1 2 1 0 1 1 1-1 1 0 1 0 1-1 1 0 1 3 1-3 1 2 1-2 1 2"/><path stroke="#d21111" d="M0 306l1 4 1-1 1 3 1 0 1-2 1 0 1 2 1-1 1 0 1 1 1-3 1 4 1-1 1-4 1 2 1 1 1 3 1-2 1-2 1 4 1-1 1-1 1 2 1-2 1 0 1 2 1-1 1 1 1-2 1 3 1-4 1 1 1 2 1-1 1 1 1 0 1 0 1-1 1 1 1 2 1-3 1 4 1-1 1-3 1 3 1-3 1 2 1-1 1 0 1-1 1 2 1-1 1 0 1-1 1 3 1 2 1-3 1 1 1-1 1 1 1-1 1 0 1 0 1 1 1 1 1-1 1 1 1 2 1-1 1-1 1-2 1 2 1 0 1 0 1-1 1 2 1-5 1 0 1-3 1-2 1 0 1 0 1 1 1-4 1 6 1 2 1 1 1 1 1 0 1 2 1 2 1-2 1 3 1 0 1-1 1 3 1-3 1 0 1 1 1 0 1 2 1-3 1 0 1 2 1 1 1-2 1 3 1-4 1 3 1-2 1 1 1 3 1-2 1-1 1 1 1 2 1-2 1-1 1 2 1-2 1 1 1 0 1 1 1-1 1 1 1 1 1 1 1-4 1 2 1-1 1 2 1 0 1 0 1-1 1 0 1-1 1 3 1-1 1 0 1 1 1 1 1 1 1-2 1 1 1-3 1 2 1-1 1 1 1 2 1-1 1 0 1 0 1 0 1 0 1-1 1 0 1 1 1 0 1-2 1 3 1 0 1 0 1-1 1 0 1 2 1-2 1 2 1-1 1-1 1 0 1 1 1 0 1-1 1 4"/><path stroke="#d01111" d="M0 325l1-1 1 3 1-1 1-1 1-1 1 1 1 2 1-3 1 3 1-1 1 1 1-1 1 1 1 0 1 1 1-2 1 3 1-4 1 2 1 1 1-1 1 1 1-2 1 2 1 1 1-1 1-1 1 1 1 0 1-1 1 3 1-2 1-1 1 2 1-1 1 1 1 0 1 0 1 1 1 0 1 1 1-3 1 2 1 0 1 0 1-3 1 2 1 2 1 0 1-1 1 1 1 1 1-2 1 0 1 3 1-1 1-1 1-1 1 3 1-2 1 0 1 2 1-3 1 2 1 1 1-1 1 0 1 1 1-2 1 1 1 1 1-2 1 3 1-3 1 0 1-2 1 1 1-3 1 0 1-1 1-1 1-4 1 4 1-2 1 2 1 1 1 2 1 0 1 3 1 2 1-1 1 1 1 2 1 1 1-1 1 0 1 1 1-1 1 1 1-1 1 0 1-2 1 1 1 2 1 1 1 0 1-1 1 0 1 1 1-1 1 1 1 2 1-4 1 1 1 1 1-2 1 1 1 3 1-1 1 0 1 1 1-2 1 3 1-2 1-1 1 3 1-1 1 0 1-1 1-1 1-1 1 3 1 1 1-2 1 1 1-2 1 1 1 1 1 1 1 1 1 0 1-2 1 1 1 1 1-2 1 1 1 0 1 1 1 1 1-1 1-1 1-2 1 4 1 0 1 0 1 0 1 0 1 1 1-2 1 1 1-1 1 1 1-1 1 0 1-1 1 2 1 2 1-5 1 5 1-1 1-1 1 1 1 0 1 0"/><path stroke="#ce1111" d="M0 342l1-1 1 0 1-1 1 1 1-1 1 1 1-1 1 2 1-1 1 1 1 1 1 0 1-2 1 3 1-4 1 4 1-5 1 2 1 1 1 0 1-2 1 1 1 2 1-2 1 3 1 0 1 1 1-1 1-1 1 0 1 4 1-2 1 0 1-1 1 1 1-3 1 3 1-1 1-2 1 4 1-2 1 1 1-1 1 0 1 3 1-1 1 0 1-3 1 4 1-2 1 1 1-1 1 1 1 1 1-3 1 3 1-2 1 3 1-1 1 0 1 3 1-2 1-2 1 2 1-1 1 2 1-3 1 4 1-3 1 0 1 0 1 0 1 3 1-3 1-2 1 0 1 0 1-1 1-3 1 0 1 2 1-5 1 0 1-1 1 3 1 0 1 4 1 1 1 1 1 0 1 1 1 1 1 1 1 0 1 0 1 1 1 0 1 0 1 2 1 0 1-2 1 4 1-2 1 1 1 1 1-4 1 2 1 1 1 0 1 0 1 0 1-3 1 1 1 2 1-3 1 2 1 0 1 1 1 1 1-1 1-1 1 0 1 2 1 0 1 0 1 0 1 0 1-2 1 2 1 1 1-2 1 2 1 0 1 2 1-3 1 0 1-1 1 1 1-1 1 0 1 3 1-1 1 1 1-2 1-1 1 1 1 4 1-1 1-3 1 2 1 0 1-1 1 1 1 2 1-1 1 1 1-1 1 0 1 1 1-1 1 2 1-1 1 0 1-1 1 0 1 1 1 0 1-1 1 2 1 2 1-2 1-1 1 0 1-1"/><path stroke="#cb1111" d="M0 356l1 0 1-1 1 1 1-1 1 3 1-2 1 1 1 1 1-4 1 3 1 0 1 0 1 0 1 2 1-3 1 1 1 2 1 0 1-1 1 1 1-1 1 0 1 0 1 1 1-1 1-2 1 2 1 1 1 0 1 1 1-1 1 1 1-1 1 0 1 1 1 0 1-1 1 0 1 2 1-2 1 1 1 0 1 0 1 2 1 0 1-3 1 0 1-2 1 5 1 1 1-2 1 0 1 1 1-2 1 2 1 1 1 0 1 0 1-2 1 1 1-1 1 3 1 0 1-2 1 0 1 1 1-1 1 1 1 0 1 0 1 0 1-3 1 2 1-1 1-1 1 4 1-5 1 0 1-2 1-2 1 2 1-5 1 2 1-1 1 3 1 1 1 0 1 0 1 4 1 2 1 1 1-1 1 2 1-1 1 2 1 0 1-1 1 0 1 1 1-1 1 0 1 3 1-2 1 0 1 0 1 1 1 0 1-1 1 1 1 0 1-1 1 0 1 3 1-2 1 2 1 0 1-1 1 0 1 2 1-2 1 0 1 0 1 0 1 0 1 1 1-2 1 3 1 0 1-1 1 0 1 2 1 1 1-3 1 0 1 2 1-1 1 0 1 1 1-2 1 2 1-2 1 0 1 1 1 3 1-3 1 2 1-2 1 2 1 0 1 1 1-1 1 0 1-2 1 2 1 1 1-1 1 0 1 1 1 0 1-2 1 2 1 0 1 0 1-1 1-1 1 3 1 0 1 1 1-1 1-1 1 1 1 0 1-1 1-1"/><path stroke="#c91111" d="M0 369l1 1 1 1 1 0 1 0 1 1 1 2 1-3 1 2 1-2 1 0 1 0 1-1 1 4 1-1 1 0 1 2 1-2 1 2 1-5 1 4 1-1 1 0 1 2 1-2 1 0 1-2 1 5 1-5 1 3 1 2 1-1 1-2 1 1 1 0 1 1 1 0 1-2 1 0 1 3 1-2 1 0 1 4 1-4 1 0 1 0 1 3 1-2 1 1 1-3 1 2 1 1 1 0 1 2 1-1 1-4 1 2 1 1 1 1 1 0 1 1 1-3 1 0 1 3 1-2 1-1 1 2 1 0 1 0 1 0 1 2 1-2 1 1 1 0 1-1 1 3 1-5 1 3 1-5 1-1 1 0 1-1 1-1 1-2 1 0 1 3 1 2 1-1 1 3 1 1 1 1 1 0 1 0 1 3 1-3 1 3 1 1 1-2 1 4 1 0 1-3 1 1 1 0 1 0 1 0 1 2 1 1 1-2 1 0 1 1 1-1 1 1 1-1 1 0 1 2 1-3 1 2 1 0 1 0 1-1 1 0 1 1 1 1 1 0 1 0 1-1 1 1 1-3 1 4 1 1 1-1 1-1 1 2 1-2 1 3 1-2 1-1 1 1 1 0 1 0 1 1 1-1 1 0 1 1 1 1 1-1 1 1 1 0 1 0 1 0 1 0 1 1 1-1 1 1 1-1 1-1 1 1 1 1 1 0 1 0 1 2 1-4 1 0 1 2 1-1 1 1 1 1 1 3 1-5 1 0 1 2 1-2 1 1 1 3 1-2"/><path stroke="#c71111" d="M0 386l1 1 1-3 1 3 1-1 1 1 1-1 1 0 1 1 1 1 1-2 1 2 1-3 1 3 1 0 1-1 1 0 1 1 1 0 1 1 1-1 1 0 1 0 1 1 1 1 1-1 1-1 1 1 1-1 1 0 1 1 1 0 1 1 1-2 1 2 1-2 1 3 1-1 1 2 1-1 1-2 1 1 1 0 1 0 1 0 1 1 1 0 1 0 1 3 1-3 1 0 1 0 1 0 1 0 1 1 1 0 1 1 1 0 1-2 1 1 1 1 1-1 1 0 1 1 1 1 1-1 1-1 1 1 1 2 1-3 1 2 1-1 1 5 1-4 1-1 1-1 1-2 1 0 1 2 1-4 1-2 1-1 1-1 1-1 1 1 1 2 1-2 1 3 1-1 1 3 1 4 1 2 1 1 1-2 1 1 1 1 1 1 1 0 1 0 1 0 1-1 1 2 1-1 1 1 1-1 1 1 1-2 1 0 1 0 1 2 1-3 1 4 1-1 1-1 1 2 1-2 1 1 1 0 1 2 1 0 1 0 1-2 1 3 1-2 1 0 1 1 1 0 1-2 1 2 1-2 1 2 1 0 1 0 1-1 1 2 1-1 1 2 1-2 1 0 1 1 1 1 1-2 1 1 1 0 1 0 1 0 1 2 1 0 1-1 1 1 1 0 1-2 1 0 1 2 1 2 1-5 1 2 1 2 1-2 1 2 1-1 1-1 1 1 1 1 1-1 1 1 1 0 1 0 1 0 1 0 1 0 1-1 1 3 1-2 1 2"/><path stroke="#c51111" d="M0 404l1-1 1-1 1 0 1 0 1 0 1-1 1-1 1 3 1-1 1 2 1 1 1-4 1 1 1 2 1 0 1-1 1 0 1-2 1 5 1-3 1 1 1 0 1-1 1 2 1 1 1-2 1 0 1 1 1 1 1 0 1-2 1 0 1 0 1-2 1 2 1 1 1 0 1-1 1 3 1-1 1 1 1-1 1-1 1 0 1 1 1-2 1 1 1 2 1 1 1-1 1-2 1 3 1-2 1 1 1-1 1 3 1 0 1-2 1-1 1 2 1 1 1 0 1-1 1-1 1 2 1 0 1-2 1 1 1 0 1 0 1 1 1 1 1 0 1-3 1 0 1 0 1-2 1-1 1 1 1-7 1 2 1-1 1 0 1 3 1-2 1 1 1 2 1 1 1 3 1 4 1-3 1 2 1 0 1-2 1 4 1-1 1-2 1 2 1 1 1-1 1 2 1-1 1-1 1 2 1-1 1 1 1-2 1 0 1 1 1 1 1 0 1 2 1 0 1-1 1 0 1 2 1-2 1 1 1-1 1 0 1 0 1 0 1 1 1-1 1 1 1 0 1 2 1-4 1 2 1 1 1-1 1 1 1 0 1 0 1-1 1 1 1 0 1-1 1 1 1-1 1 0 1 0 1 3 1-2 1 0 1 2 1-1 1 1 1-1 1 1 1 0 1-3 1 4 1 0 1-3 1 3 1-1 1 0 1 2 1 0 1 0 1 1 1-1 1-2 1 0 1 2 1-3 1 2 1 0 1 0 1 2 1-1 1 0 1 1"/><path stroke="#c21010" d="M0 416l1 2 1 1 1-2 1 0 1 1 1-3 1 1 1 0 1 0 1 2 1 0 1 0 1 0 1 1 1 0 1 1 1-2 1 1 1 1 1-1 1 1 1-2 1 1 1-1 1 1 1 1 1-1 1 3 1-4 1 3 1-2 1 1 1-1 1 1 1 0 1 0 1-1 1 1 1 1 1 1 1 1 1-4 1 3 1-1 1 0 1 1 1 1 1-1 1 0 1 2 1-2 1 0 1 2 1-3 1 0 1 3 1-2 1-1 1 3 1 0 1-2 1 0 1 1 1 1 1-1 1 0 1 1 1 0 1-2 1 1 1 1 1-1 1 1 1 0 1 1 1-3 1-1 1-4 1 0 1 1 1-4 1 2 1-1 1 0 1 1 1 0 1 2 1 2 1 1 1 4 1-2 1 1 1 0 1 2 1 1 1 1 1 1 1-1 1-2 1 2 1 0 1-1 1-1 1 2 1-2 1 2 1 0 1-3 1 4 1 2 1-3 1 0 1 2 1-3 1 2 1 0 1 0 1 0 1-1 1 1 1 1 1-1 1 0 1 0 1 2 1-1 1-1 1 2 1-3 1 0 1 3 1 2 1-3 1 1 1-2 1 2 1 1 1 0 1-1 1 3 1-3 1 3 1-3 1 2 1 1 1 1 1-3 1-1 1 3 1-2 1 0 1 0 1 0 1 2 1-1 1 1 1 0 1-1 1 1 1 1 1 1 1-2 1 0 1-1 1 1 1 0 1 1 1-2 1 1 1 1 1-1 1 0 1 2 1-2"/><path stroke="#c01010" d="M0 432l1-1 1 1 1-1 1 3 1-1 1 1 1-2 1-1 1 0 1 2 1 1 1 0 1 0 1-2 1 3 1-1 1-1 1-2 1 2 1 1 1 2 1-2 1 0 1 2 1 0 1-1 1 0 1 1 1-2 1 2 1-1 1-1 1 2 1 1 1 1 1-1 1 0 1-1 1-2 1 1 1 2 1-1 1 3 1-1 1-2 1 3 1-1 1 1 1-2 1 1 1-1 1 0 1 2 1 1 1-2 1 0 1-1 1 1 1 1 1-2 1 1 1-1 1 2 1 1 1-1 1 0 1-1 1-1 1 2 1 2 1-2 1 0 1-1 1-1 1 2 1-1 1-4 1-1 1 1 1-4 1 0 1-1 1 1 1-1 1 2 1 0 1 6 1 2 1-1 1 2 1 0 1 1 1 0 1 0 1 2 1-2 1 0 1 2 1-2 1 4 1-3 1 1 1 2 1-2 1 0 1 0 1 1 1 0 1-1 1 1 1 1 1-1 1-1 1 2 1 1 1-2 1-2 1 2 1 1 1 1 1 0 1 0 1-2 1 2 1-1 1-1 1 0 1 3 1-3 1 3 1 2 1-3 1-1 1 1 1 0 1 1 1 1 1-2 1 0 1 0 1 2 1 0 1-2 1 1 1 1 1-2 1 1 1 1 1-2 1 2 1 0 1 0 1 2 1-3 1 2 1-1 1 2 1-2 1 2 1 0 1 1 1 0 1-3 1 1 1-1 1 3 1 0 1-1 1 0 1 2 1-1 1-1 1-1 1 1"/><path stroke="#be1010" d="M0 448l1-2 1 2 1 0 1 0 1 1 1-2 1 2 1-2 1 2 1-1 1 1 1-1 1 2 1-3 1 1 1 3 1-1 1-1 1 0 1-1 1 1 1 1 1 1 1 0 1 0 1-1 1-1 1 1 1 2 1-2 1 2 1-3 1 1 1 0 1 1 1-1 1 0 1 1 1-2 1 2 1 1 1-2 1 2 1-1 1 1 1 0 1 1 1 0 1-1 1 2 1-1 1-1 1 2 1-1 1 2 1-1 1-1 1 0 1 0 1 0 1 0 1 2 1-1 1 0 1 1 1-1 1-1 1 0 1 3 1-2 1 2 1 1 1-3 1 1 1-3 1 0 1-1 1-2 1 1 1-3 1 0 1-2 1 1 1 2 1-3 1 5 1-1 1 3 1 0 1 2 1 0 1-1 1 6 1-1 1-1 1-2 1 3 1 2 1-2 1-2 1 1 1 2 1-1 1 2 1-3 1 1 1-2 1 4 1 0 1-1 1-2 1 3 1-2 1 0 1-1 1 1 1 1 1 0 1 2 1 0 1-1 1 0 1 0 1-1 1 2 1-1 1 0 1 1 1-1 1 0 1 3 1-4 1 1 1 0 1 1 1 1 1-4 1 3 1 3 1 0 1-1 1-1 1 1 1-1 1-1 1 2 1 1 1 0 1-1 1 1 1 0 1 1 1-2 1-1 1 2 1 1 1-2 1 2 1 0 1-4 1 7 1-2 1-1 1-2 1 0 1 6 1-4 1 1 1-1 1 0 1 1 1-1 1 1 1 0"/><path stroke="#bb1010" d="M0 463l1 1 1-2 1 2 1-2 1 0 1 1 1 0 1 1 1-4 1 1 1 0 1 4 1 0 1-2 1 1 1-2 1 2 1 2 1-1 1 2 1-3 1 2 1-1 1 0 1 0 1 1 1 1 1-2 1 1 1 0 1 0 1-1 1 2 1 0 1 0 1-1 1 0 1-1 1 0 1 1 1 2 1-1 1-2 1 1 1 3 1 0 1 0 1 1 1-3 1 1 1-1 1 4 1-2 1 0 1 0 1-1 1 1 1-3 1 2 1 0 1 2 1 1 1-1 1-2 1 0 1 3 1-2 1 0 1 0 1 1 1 0 1 1 1-3 1 1 1-2 1 1 1-2 1-1 1 0 1-4 1 2 1-2 1 0 1 0 1 0 1 2 1 3 1 0 1 2 1 1 1 2 1 1 1-2 1 5 1-1 1 0 1-1 1 0 1 1 1 2 1-3 1-1 1 2 1 0 1 1 1-2 1 1 1 0 1 2 1 0 1-1 1 1 1-1 1 0 1-3 1 2 1 0 1 2 1-1 1-1 1 2 1 0 1 0 1-1 1 0 1 3 1-2 1 2 1-3 1 1 1 0 1 0 1 2 1-3 1 2 1-2 1 3 1-1 1 2 1 1 1-3 1 1 1-2 1 2 1 0 1 0 1 1 1 0 1 1 1-2 1 1 1-1 1 1 1-3 1 3 1 0 1 0 1 0 1-1 1 1 1 0 1 1 1 1 1-1 1 0 1 1 1-2 1 3 1 1 1-2 1-1 1 1 1 2 1 0"/><path stroke="#b91010" d="M0 476l1 2 1-1 1 0 1 1 1 1 1-1 1-1 1 1 1-1 1 4 1-4 1 3 1-1 1 0 1-1 1 1 1 0 1 0 1 0 1 1 1-1 1 2 1 0 1-1 1 1 1 0 1-1 1 1 1 1 1-1 1-2 1 3 1 0 1-2 1 1 1 1 1-3 1 4 1 0 1 0 1 1 1-3 1 2 1 2 1-5 1 2 1 2 1-2 1-1 1 2 1 0 1-1 1 2 1 1 1 0 1-1 1-2 1 2 1-3 1 2 1 1 1 1 1-1 1 1 1-3 1 1 1 1 1 0 1 0 1 4 1-2 1-2 1 0 1 0 1-1 1-1 1-3 1 3 1-2 1-2 1-1 1-1 1-1 1-2 1 4 1 1 1 0 1 1 1 5 1-1 1 2 1 0 1 4 1-3 1 3 1-4 1 4 1-1 1-2 1 3 1 0 1-2 1 2 1 0 1 1 1-3 1 1 1 0 1 2 1-1 1-1 1 3 1-2 1 2 1 0 1-2 1-1 1 3 1 0 1 1 1-1 1 0 1-1 1 0 1 5 1-2 1-3 1 2 1 0 1-2 1 2 1 1 1 1 1 0 1-2 1 0 1 0 1 1 1 1 1-2 1 1 1-1 1 0 1 1 1 3 1 0 1-1 1-3 1 2 1 3 1-2 1-2 1 2 1-1 1 0 1 1 1 0 1 0 1 0 1-1 1 1 1 1 1 0 1-1 1-1 1 3 1-3 1 3 1-1 1 1 1 1 1-2 1-3 1 1"/><path stroke="#b71010" d="M0 492l1 0 1 1 1 3 1-2 1-1 1 2 1-2 1 2 1-1 1-2 1 3 1 1 1-2 1 1 1 0 1-1 1 0 1 2 1-2 1 0 1 2 1 0 1 1 1-2 1-1 1 3 1-3 1 1 1 1 1 2 1-2 1-1 1 1 1 2 1-3 1 0 1 3 1-1 1-1 1 1 1 0 1-1 1 1 1 2 1-1 1 1 1-1 1-1 1 2 1-2 1 2 1-1 1 0 1 0 1 0 1 3 1-4 1 2 1-1 1 3 1-2 1 1 1 0 1 0 1 0 1 1 1 0 1-1 1 0 1 0 1 0 1 0 1 2 1-4 1 3 1-3 1 0 1-2 1-2 1 0 1 0 1-3 1 0 1-1 1 4 1 0 1 2 1 0 1 0 1 4 1-2 1 3 1 2 1-1 1 0 1-1 1 3 1 0 1-1 1 1 1-2 1 1 1 1 1 1 1-1 1-1 1 1 1 2 1-2 1 1 1 1 1-2 1 1 1-2 1 2 1 1 1 0 1 1 1-2 1 2 1-1 1-1 1 0 1 1 1 1 1-1 1 4 1-3 1 1 1-1 1 4 1-6 1 2 1 1 1 1 1-1 1-1 1 3 1-1 1-1 1 0 1 0 1 1 1-2 1 2 1-1 1 2 1-1 1-1 1 3 1-1 1-2 1 0 1 1 1 1 1 1 1-2 1 0 1 2 1-1 1 0 1 0 1 0 1 3 1-1 1-1 1 2 1 1 1-2 1 0 1-1 1 1 1 0 1 1"/><path stroke="#b51010" d="M0 507l1-1 1 2 1 1 1-3 1 2 1 0 1 0 1 1 1 1 1-2 1 2 1-1 1 1 1 0 1-1 1 2 1-1 1-1 1-1 1 1 1 2 1 0 1-1 1 0 1-1 1 1 1 1 1-1 1 1 1-1 1 0 1 2 1-2 1 2 1 1 1-2 1 1 1-1 1 0 1 1 1-1 1 1 1 0 1 0 1 1 1 1 1 0 1-1 1 0 1-1 1 1 1 2 1 0 1 1 1-4 1 4 1-1 1 1 1-1 1 1 1-1 1-1 1 1 1-1 1 1 1 1 1 0 1 0 1 1 1-3 1 3 1-2 1 1 1-1 1-2 1 2 1-4 1 0 1 1 1-6 1-1 1 2 1-2 1 2 1 0 1 0 1 3 1 0 1 2 1 3 1-1 1 1 1 0 1 4 1 1 1 0 1-2 1 0 1 0 1 1 1 1 1-1 1 0 1-3 1 4 1-2 1 2 1 0 1 0 1 1 1 1 1-4 1 1 1 4 1-2 1-1 1 1 1 0 1 1 1-1 1 0 1-1 1 3 1-1 1-1 1-1 1 2 1 1 1 2 1 0 1-3 1 0 1 0 1 1 1-1 1 2 1 0 1 0 1-2 1 3 1-2 1-1 1 2 1 0 1 0 1 1 1 1 1 1 1-3 1 2 1-4 1 5 1-2 1 2 1-2 1 1 1 0 1-1 1 0 1-3 1 5 1-1 1 0 1 2 1-1 1 0 1-3 1 3 1-1 1 2 1-2 1 0 1 1 1 3"/><path stroke="#b21010" d="M0 522l1 3 1-2 1-2 1 4 1 2 1-2 1-2 1 1 1-1 1 5 1-3 1-3 1 4 1-1 1-1 1 0 1 1 1 2 1-2 1 0 1 2 1-2 1 0 1 1 1 1 1-1 1 0 1 2 1 0 1-3 1 0 1 1 1 1 1 0 1 0 1 0 1 1 1-2 1-1 1 3 1 1 1-1 1 0 1 1 1-1 1-1 1 1 1 2 1-1 1 1 1-2 1 2 1 1 1-2 1 0 1 2 1-1 1-2 1 1 1 3 1-1 1 1 1-1 1 0 1 1 1-2 1 2 1-1 1 0 1 1 1-2 1 0 1 0 1 1 1-1 1-1 1 0 1-3 1-1 1 1 1-4 1 1 1-2 1 1 1 0 1 1 1 2 1 3 1-1 1 2 1 3 1-1 1 1 1 1 1 0 1-1 1 2 1 0 1-1 1 1 1 1 1 2 1-3 1 3 1-3 1 2 1-1 1 1 1 0 1-1 1-1 1 3 1-3 1 1 1 3 1-1 1-1 1 1 1 0 1-1 1 1 1 0 1 0 1 1 1 0 1 0 1 1 1 1 1 0 1-2 1-1 1 2 1-1 1 1 1-1 1 1 1-2 1 2 1-2 1 4 1-2 1-2 1 4 1 0 1 0 1-3 1 2 1 1 1-1 1 1 1-1 1 0 1 2 1-2 1 1 1 0 1 0 1 1 1-3 1 4 1-3 1 1 1 0 1 1 1-1 1 0 1 2 1 1 1-3 1 0 1 1 1-1 1 0 1 1"/><path stroke="#b01010" d="M0 540l1-2 1 0 1 1 1-1 1 4 1-1 1-1 1-2 1 1 1 0 1 0 1-2 1 3 1 0 1 0 1-1 1 2 1-1 1-2 1 2 1 2 1 1 1-3 1 1 1 1 1 1 1-2 1 1 1-1 1-1 1 3 1-1 1 1 1-1 1 0 1 0 1 1 1-2 1 4 1 1 1-5 1 3 1-1 1 1 1 0 1 0 1 1 1-1 1 2 1-1 1-2 1 1 1 1 1-1 1-1 1 4 1-2 1 0 1-2 1 3 1-1 1 2 1 1 1-3 1 0 1 2 1 0 1 0 1 0 1-1 1 0 1 0 1-2 1 3 1-1 1-3 1 0 1 0 1-1 1-3 1-2 1 1 1-1 1-1 1 1 1 1 1 3 1-1 1 3 1 2 1 1 1 4 1-2 1 2 1 0 1 1 1 0 1-1 1-1 1 0 1 3 1 1 1-1 1 1 1-2 1-2 1 2 1 0 1 1 1 0 1-2 1 3 1-2 1 1 1 0 1 0 1 0 1-1 1 1 1 1 1-1 1-1 1-2 1 3 1 0 1 1 1-1 1 0 1 1 1 1 1-2 1 0 1 2 1 1 1-2 1 1 1 0 1 1 1-3 1 2 1 0 1 1 1-1 1 1 1-3 1 3 1 2 1-2 1 0 1 1 1 1 1-2 1-1 1 0 1 1 1 1 1 1 1-2 1 0 1 2 1 1 1-2 1 2 1-1 1-1 1 1 1-1 1-1 1 1 1 1 1 1 1 0 1 1 1-2"/><path stroke="#ae1010" d="M0 554l1-2 1 1 1 2 1-1 1 3 1-2 1-1 1 0 1-2 1 5 1-1 1 4 1-2 1-2 1-2 1 0 1 1 1 1 1-2 1 3 1 0 1-2 1 1 1-1 1 3 1-2 1 0 1-1 1 1 1-1 1 4 1-1 1-2 1 1 1 1 1 0 1-1 1 3 1-1 1 2 1-6 1 2 1 3 1-1 1 0 1-1 1 2 1-1 1 2 1 0 1 0 1-4 1 3 1 2 1 0 1 0 1 0 1-3 1 3 1 1 1-2 1 0 1 0 1 0 1 0 1 1 1-1 1-1 1 1 1 1 1 0 1 1 1-1 1 0 1-3 1 1 1-4 1-1 1 0 1-2 1-2 1 2 1 1 1 0 1 2 1 1 1 2 1-1 1 0 1 3 1-2 1 4 1-1 1 2 1-1 1 2 1-1 1 1 1 2 1-3 1-1 1 4 1-1 1-1 1 0 1 1 1-1 1 2 1-1 1-1 1 2 1-2 1 2 1-2 1 1 1 1 1-1 1 2 1-1 1 1 1-3 1 3 1 0 1-3 1 3 1 0 1-1 1 0 1 0 1 1 1 1 1-1 1 3 1-2 1 0 1-2 1 3 1 0 1-2 1 4 1-3 1 1 1-1 1 0 1-2 1 4 1-3 1 4 1-3 1 1 1 4 1-4 1 1 1-1 1 1 1 1 1 1 1-5 1 4 1 0 1 1 1-2 1 1 1 2 1-1 1 2 1-4 1 1 1 1 1-1 1 2 1-2 1 2 1-3"/><path stroke="#ab1010" d="M0 568l1 2 1 0 1-2 1 0 1 2 1-1 1 1 1 2 1-1 1-3 1 4 1 0 1-2 1 0 1 3 1-2 1 1 1 0 1 0 1 3 1-2 1-1 1 0 1 0 1 1 1-2 1 2 1-1 1-2 1 4 1-1 1 0 1 0 1 0 1-1 1 3 1 0 1-2 1 1 1 0 1 1 1-1 1-1 1 1 1 1 1-1 1 0 1 2 1-1 1 1 1-2 1 2 1-1 1 0 1 0 1 0 1 0 1 1 1 0 1 2 1-1 1-1 1 0 1-1 1 1 1 1 1-2 1 4 1 0 1-4 1 3 1 0 1-1 1-1 1 0 1-4 1-1 1 0 1-2 1-3 1 2 1 0 1-1 1 2 1 2 1-2 1 4 1 1 1 2 1 0 1 1 1 2 1 2 1-3 1 4 1-1 1 0 1 1 1-2 1 2 1-3 1 1 1 1 1 1 1-3 1 0 1 3 1 0 1 0 1-1 1-1 1 3 1 0 1-1 1 3 1-2 1 1 1-2 1-3 1 2 1-2 1 4 1 1 1-3 1 3 1-1 1 2 1-1 1-2 1 2 1 0 1 1 1 1 1-2 1 2 1-2 1 1 1 0 1-1 1 1 1-1 1 2 1-2 1 0 1 3 1-1 1 0 1 1 1 0 1 0 1 0 1-2 1 2 1-1 1-1 1 1 1 2 1-1 1 2 1-1 1 0 1 0 1-2 1 2 1 0 1 2 1-3 1 1 1-1 1 1 1-2 1 3 1 0 1 0"/><path stroke="#a91010" d="M0 588l1-3 1 0 1 0 1 1 1 2 1-1 1-1 1-2 1 2 1-2 1 1 1 0 1 0 1 1 1 0 1-1 1 2 1-1 1 2 1 0 1-2 1 2 1-2 1 0 1 3 1-4 1 3 1 2 1-5 1 6 1-5 1-1 1 1 1 1 1 1 1-2 1 2 1 2 1-2 1 1 1 1 1 1 1-2 1 1 1 0 1 0 1-1 1 1 1 1 1-3 1 2 1 1 1 0 1 0 1 2 1-1 1-3 1 4 1-3 1 0 1 3 1-2 1-2 1 3 1 0 1 1 1-3 1 3 1-2 1 2 1-3 1 0 1-2 1 1 1 1 1-2 1-3 1 1 1-3 1 0 1 0 1-1 1 2 1 1 1 3 1 1 1 2 1-1 1 0 1 4 1 0 1 1 1-2 1 2 1-1 1 1 1 0 1 0 1 1 1-1 1 1 1 1 1 1 1-1 1 0 1 0 1 2 1 0 1-3 1 2 1-1 1 2 1-5 1 2 1-1 1 4 1-1 1 1 1-1 1 0 1 1 1-1 1-2 1 3 1-1 1 0 1 0 1 2 1-2 1 0 1 2 1 1 1-3 1 0 1 0 1 2 1 1 1 1 1-2 1 0 1 0 1 2 1-2 1 0 1 0 1 1 1 0 1-1 1 3 1 1 1-4 1 2 1-2 1 1 1-1 1 2 1 0 1 0 1-1 1-1 1 0 1 4 1-1 1 0 1 2 1-3 1 2 1-1 1 1 1-3 1 2 1 1 1 0 1-2"/><path stroke="#a71010" d="M0 599l1 2 1-1 1 1 1 0 1 0 1-1 1 1 1-2 1 3 1-1 1 1 1 2 1-2 1 0 1 0 1 1 1 0 1-2 1-1 1 0 1 3 1 0 1 0 1-3 1 2 1-1 1 0 1 1 1 0 1 3 1-3 1 1 1 0 1 1 1 1 1-2 1-1 1 1 1 2 1-2 1 3 1-3 1 1 1 0 1 3 1-1 1-1 1-1 1 0 1 0 1 3 1 0 1-1 1-1 1-1 1 1 1 2 1 0 1 0 1-1 1 1 1 0 1 1 1-1 1 1 1 0 1-1 1 2 1-3 1 2 1-2 1 0 1 0 1-2 1-2 1-2 1-1 1 0 1-1 1-1 1-2 1 3 1 2 1-1 1 2 1 4 1 0 1 3 1 0 1-1 1 2 1 1 1 0 1-1 1 1 1 3 1-3 1 3 1-3 1 1 1 1 1 0 1-1 1 0 1 1 1-2 1-1 1 1 1 4 1-1 1 1 1-1 1-2 1 0 1 2 1-1 1 0 1 0 1 0 1-1 1 3 1-1 1 2 1 1 1-2 1 1 1 0 1-1 1 0 1 2 1-1 1-1 1 0 1 1 1 1 1 0 1-2 1 1 1 1 1-1 1 1 1-1 1 0 1 1 1 0 1 0 1 3 1-3 1 1 1 0 1-1 1 2 1 0 1-1 1 1 1 3 1-5 1 1 1 1 1 0 1-1 1 0 1 1 1 0 1 0 1 2 1-1 1-1 1 2 1 0 1-2 1 0 1 0 1 2"/><path stroke="#a41010" d="M0 616l1-1 1 2 1-2 1 0 1 0 1 1 1 2 1-3 1 2 1-1 1 2 1-3 1 0 1 4 1-1 1 0 1-1 1 1 1-1 1-1 1 1 1 0 1-1 1 1 1 0 1 2 1 0 1 0 1 1 1-3 1 2 1 1 1-1 1-1 1-3 1 4 1-1 1 2 1-2 1 2 1-1 1-1 1 1 1 1 1 1 1 0 1 1 1-1 1-1 1 0 1 1 1-1 1-1 1 0 1 3 1-1 1 3 1-3 1 2 1-1 1 0 1 0 1 1 1 0 1-1 1 0 1 0 1 1 1 0 1-1 1-1 1 0 1-3 1 1 1-1 1-6 1 1 1 0 1-3 1 3 1 1 1 0 1 2 1 1 1 2 1 2 1 0 1 2 1-1 1 1 1 3 1 0 1-2 1 0 1-1 1 4 1-1 1 2 1 0 1 1 1-2 1-1 1 0 1 2 1-3 1 3 1-1 1 2 1-2 1 0 1 2 1-5 1 5 1-1 1-1 1 2 1-1 1 1 1 0 1 0 1-1 1 0 1 3 1-2 1 0 1-1 1 1 1 1 1-2 1 2 1-1 1-1 1 2 1 2 1-2 1 0 1 1 1-1 1-1 1 2 1-1 1 0 1 3 1-2 1-1 1 1 1 3 1-1 1-3 1 3 1-2 1 0 1 3 1-1 1-2 1 2 1 1 1-1 1 0 1-1 1 3 1 0 1-2 1-1 1 1 1 2 1-1 1 0 1 0 1-2 1 2 1 0 1 0 1 2"/><path stroke="#a21010" d="M0 629l1 1 1 1 1 0 1 0 1 0 1 0 1 0 1-1 1 2 1 2 1-2 1-1 1 2 1 0 1-2 1 1 1-1 1 3 1-3 1 3 1-2 1 1 1-1 1 1 1 1 1 0 1-2 1 1 1 1 1 2 1-3 1 0 1 0 1 1 1 1 1-2 1 3 1 0 1 0 1 0 1 2 1-4 1 0 1 4 1-4 1 2 1-1 1 0 1 0 1 1 1 0 1 1 1 0 1-1 1 1 1 0 1-1 1-1 1 3 1-3 1 3 1 1 1-3 1-1 1 2 1 1 1-2 1 3 1-1 1-2 1 2 1-4 1 0 1 0 1 0 1-2 1-1 1-4 1 5 1-5 1 2 1 2 1 1 1 2 1-1 1 2 1 2 1 1 1 1 1 0 1 0 1 2 1-2 1 1 1 1 1-1 1 1 1 1 1 1 1 0 1 0 1-1 1-2 1 1 1 0 1 1 1 0 1-1 1 1 1 2 1-2 1-1 1 2 1 0 1 0 1 3 1-1 1 1 1-3 1 2 1-1 1 0 1-1 1 2 1-3 1 4 1 2 1-1 1-5 1 3 1-1 1 0 1 1 1 2 1-1 1-1 1 1 1 0 1 2 1-4 1 2 1-1 1 1 1-2 1 2 1 1 1-1 1 0 1 1 1 0 1-1 1 1 1 1 1 0 1-2 1 1 1 2 1-3 1 2 1 0 1 2 1 0 1-1 1-1 1-1 1 1 1 0 1 1 1 2 1 1 1-2 1 0 1 0 1 0"/><path stroke="#a00f0f" d="M0 645l1 3 1-3 1 1 1-1 1 2 1 1 1-1 1 0 1 0 1 0 1-1 1 3 1 0 1-1 1 0 1-1 1 3 1-4 1 1 1 3 1-3 1 0 1-1 1 3 1 1 1-1 1-2 1 2 1-1 1 2 1 1 1-1 1 0 1 1 1 1 1-4 1 2 1-2 1 1 1 2 1-2 1 1 1 2 1-1 1-2 1 2 1 0 1-1 1 4 1-3 1 0 1 2 1-1 1-2 1 2 1 0 1 0 1 1 1 0 1 0 1-1 1 1 1 2 1-4 1 3 1-1 1-1 1 1 1 0 1-2 1 1 1-1 1-2 1-1 1 0 1-2 1-3 1-2 1 0 1 3 1 0 1 1 1 2 1 1 1 5 1 0 1 2 1-2 1 3 1 0 1-2 1 1 1 0 1 2 1 0 1-1 1 1 1-1 1 1 1 0 1-1 1 2 1-1 1-2 1 2 1 2 1-4 1 4 1-1 1-1 1 1 1-1 1 0 1 2 1 0 1-2 1 1 1 1 1-2 1 4 1-2 1 1 1 0 1-1 1 1 1 0 1 1 1-1 1 1 1 0 1 1 1 0 1-3 1 1 1 1 1 1 1-2 1 1 1 1 1-1 1 2 1-2 1 1 1-1 1 2 1-2 1 1 1 2 1-3 1 2 1 1 1-1 1 0 1 0 1-1 1 2 1 0 1 2 1-2 1 1 1-2 1 2 1-2 1 2 1-1 1 2 1-4 1 3 1 0 1 1 1-2 1 1 1 2 1-2"/><path stroke="#9d0f0f" d="M0 660l1 2 1-3 1 3 1 0 1 0 1-3 1 1 1 1 1 0 1 2 1-1 1 2 1-2 1 1 1-1 1 0 1 1 1 1 1-2 1 3 1-2 1 2 1-3 1 1 1 1 1 0 1-1 1 2 1 0 1-1 1 1 1-1 1 0 1 2 1-2 1 0 1 2 1-2 1 0 1 1 1 1 1 1 1-1 1-1 1-1 1 2 1 0 1 2 1-3 1-1 1 0 1 3 1 0 1 2 1-4 1 2 1 0 1 2 1-1 1 1 1-1 1 1 1-1 1-1 1 2 1-1 1-2 1 2 1-2 1 2 1 0 1-2 1-1 1-4 1-1 1-1 1 2 1-3 1 0 1-1 1 2 1 3 1 1 1 1 1 3 1 1 1-1 1 1 1 3 1 1 1-3 1 3 1-2 1 1 1 2 1-3 1 2 1 0 1-1 1 2 1-2 1 1 1-1 1 2 1 0 1 2 1-2 1-1 1 3 1-2 1 1 1 2 1-1 1-3 1 1 1 0 1 2 1-2 1 2 1 0 1 0 1 0 1-1 1 3 1-2 1 2 1-3 1-1 1 4 1-3 1 2 1-1 1 1 1 0 1-1 1 0 1 2 1-1 1 3 1-2 1 2 1-3 1 2 1-1 1-1 1 1 1 0 1 4 1-5 1 1 1 2 1-1 1 0 1 1 1-1 1 0 1-1 1 2 1 1 1-1 1 2 1-2 1 1 1-1 1-2 1 3 1-1 1 2 1-2 1-1 1 1 1 1 1 0 1 0"/><path stroke="#9b0f0f" d="M0 677l1-1 1 1 1-1 1 0 1-1 1-1 1 3 1 1 1-2 1 0 1 0 1 2 1 0 1-1 1 1 1-2 1 2 1 0 1 1 1-2 1 1 1 1 1 3 1-4 1 3 1-3 1 1 1-1 1 3 1-1 1 0 1 1 1 0 1-2 1 1 1 0 1 2 1-4 1 5 1-3 1-2 1 3 1-1 1 1 1 0 1 2 1-4 1 3 1 1 1-3 1 3 1 0 1-2 1-1 1 2 1 0 1 2 1-2 1 2 1-1 1 0 1-1 1 0 1 1 1 0 1 0 1 1 1-1 1 1 1-2 1 0 1-3 1-2 1 1 1-1 1-2 1-2 1 2 1-1 1 1 1 0 1 2 1 1 1 3 1 0 1 2 1 1 1 0 1 2 1 0 1 0 1-3 1 5 1-1 1-1 1 3 1-2 1 1 1 0 1-3 1 4 1-3 1 3 1-1 1-1 1-2 1 3 1-1 1 2 1-2 1 3 1-2 1 0 1 3 1-1 1-1 1 1 1-2 1 1 1 1 1-1 1 0 1 2 1-1 1-1 1 1 1 0 1 2 1-1 1-2 1 4 1-1 1-1 1-1 1 2 1-1 1 1 1 0 1 1 1-3 1 1 1 2 1-1 1 0 1-1 1 4 1-2 1 1 1-2 1 1 1 0 1 2 1 0 1 1 1 0 1 0 1-2 1-1 1 3 1-2 1 1 1-1 1-1 1 2 1-1 1 1 1 1 1-1 1 2 1-2 1 1 1-1 1 2 1-3"/><path stroke="#990f0f" d="M0 692l1 0 1-4 1 2 1 0 1 2 1 0 1 0 1 1 1 2 1-4 1 2 1 0 1 1 1-4 1 1 1 1 1 0 1 2 1-1 1-2 1 2 1-1 1 1 1 1 1-1 1 3 1 1 1-2 1-2 1 3 1 1 1-2 1 0 1 1 1-1 1 2 1-1 1-1 1 0 1 1 1-1 1 3 1-1 1-1 1 1 1 0 1 1 1 1 1-2 1-1 1 0 1 3 1-1 1-1 1 0 1-1 1 3 1-1 1 0 1-2 1 5 1-2 1-3 1 2 1 1 1 0 1-2 1 3 1-2 1-1 1-2 1-2 1 0 1-1 1-3 1 1 1-1 1-1 1 0 1 2 1 3 1 2 1-2 1 3 1 5 1-2 1 3 1-1 1 2 1-2 1 1 1 0 1 0 1 0 1 2 1-2 1 2 1-2 1 0 1 2 1-1 1 1 1-1 1 0 1 0 1-1 1 1 1 2 1-1 1 0 1 2 1-3 1 2 1-1 1 2 1-3 1 1 1 0 1 1 1-1 1 3 1-2 1 0 1-1 1 0 1 1 1-1 1 3 1-2 1 1 1 0 1-1 1 0 1 1 1 1 1 0 1-1 1 3 1-1 1 0 1 1 1-2 1 2 1-1 1 0 1-2 1 1 1 1 1 0 1 2 1-2 1 1 1 0 1-2 1 2 1 0 1 2 1 0 1-2 1 0 1 1 1-1 1 4 1-2 1-1 1 0 1-1 1 2 1-3 1 2 1 0 1 3 1-4 1 3"/><path stroke="#960f0f" d="M0 706l1 2 1-2 1 1 1 1 1 2 1-4 1 1 1 0 1 0 1 1 1 0 1 0 1-2 1 2 1-1 1 1 1 2 1-3 1 2 1 0 1 0 1 0 1 0 1 1 1-2 1 1 1 1 1-1 1-1 1 3 1 0 1 0 1-1 1 0 1 2 1 0 1 0 1-2 1 1 1-1 1 0 1 1 1 1 1 0 1 0 1 2 1-3 1 3 1-2 1 1 1-2 1 4 1-1 1-3 1 3 1-1 1 1 1-1 1 0 1-1 1 1 1 1 1-2 1 1 1 1 1 0 1-1 1 2 1-3 1 1 1-1 1-3 1 0 1-3 1-2 1 2 1 0 1-3 1 3 1 1 1 0 1 5 1-1 1 1 1 2 1 1 1 0 1 1 1-1 1 3 1-3 1 3 1 0 1-1 1 0 1 0 1 1 1 2 1-2 1 0 1 2 1-2 1 0 1 3 1-1 1 0 1 0 1 0 1 0 1 0 1 2 1-4 1-1 1 2 1-1 1 2 1-1 1 1 1 2 1-2 1 0 1 2 1-2 1 1 1 0 1-1 1 2 1-2 1 3 1-1 1-1 1 0 1 2 1-1 1 3 1-4 1 3 1-3 1 1 1 2 1-3 1 2 1-1 1 0 1 1 1 0 1 0 1 0 1 0 1-2 1 5 1 1 1-2 1-1 1-1 1 2 1 0 1-1 1 1 1 1 1 0 1-1 1 1 1-1 1 1 1 0 1-1 1 1 1 1 1 0 1-3 1 1 1 3 1-1"/><path stroke="#940f0f" d="M0 722l1-2 1 2 1 1 1 0 1-1 1 0 1 1 1 0 1 1 1-4 1 2 1 3 1-3 1 2 1 1 1-3 1 2 1 2 1-3 1-1 1 3 1-1 1 0 1 1 1 1 1-1 1 1 1 0 1-1 1 2 1-1 1-1 1 4 1-6 1 2 1 0 1 1 1 0 1 0 1 3 1-3 1-1 1 2 1-1 1 0 1 2 1 0 1 1 1-3 1 2 1 0 1-1 1-1 1 2 1-1 1 2 1 0 1 0 1 3 1-2 1-3 1 3 1-1 1 0 1 0 1 1 1-4 1 1 1 2 1-2 1 0 1-3 1-2 1 0 1-2 1-3 1 3 1-2 1 3 1 1 1 2 1 2 1-1 1 4 1 0 1 1 1 1 1 0 1 1 1 0 1 0 1 2 1-1 1-2 1 2 1 1 1-3 1 3 1-1 1 1 1-1 1 1 1 0 1-3 1 3 1 1 1 0 1 1 1-1 1 1 1 0 1-2 1 0 1 3 1-1 1-3 1 1 1 3 1-1 1-2 1 2 1 1 1 0 1-1 1 0 1 0 1 0 1 1 1 3 1 0 1-3 1-2 1 2 1 0 1 0 1-1 1 2 1-1 1 1 1-2 1 2 1-1 1 0 1 1 1 0 1 0 1 0 1 0 1 0 1 1 1 0 1 3 1-1 1-2 1-1 1 3 1-1 1 1 1 1 1-4 1 2 1 1 1 1 1-1 1 0 1 0 1 0 1 1 1-1 1 0 1 0 1 2 1 0 1-1"/><path stroke="#920f0f" d="M0 737l1 2 1-1 1 0 1-1 1 0 1 1 1 0 1 1 1-2 1 2 1-1 1-1 1 1 1-1 1 1 1 1 1 3 1-4 1 2 1-1 1 1 1-1 1 0 1 3 1-1 1-3 1 2 1 0 1-1 1 2 1 0 1 0 1 0 1 2 1-2 1 2 1 1 1-6 1 3 1 2 1-1 1-1 1 3 1-1 1-3 1 3 1-1 1 1 1-2 1 3 1-1 1-1 1 1 1 2 1 0 1-3 1 2 1-1 1 0 1 1 1 2 1-1 1-2 1 1 1 1 1 1 1-2 1 0 1-1 1 0 1-4 1 2 1-3 1-2 1-2 1 1 1 1 1-2 1 0 1 3 1 2 1 1 1 0 1 4 1 2 1-5 1 6 1 1 1-2 1-1 1 3 1 2 1-2 1 3 1-2 1-1 1-1 1 3 1-3 1 1 1 0 1 1 1 0 1-2 1 1 1 4 1-2 1 0 1-1 1 1 1-1 1 2 1 0 1-1 1 2 1-2 1 0 1 2 1-1 1-1 1 3 1-2 1 1 1 1 1-3 1 1 1 2 1-1 1 0 1 0 1 0 1 0 1 1 1 0 1 2 1-2 1 2 1-2 1 2 1-2 1 2 1-1 1 2 1-3 1 0 1 2 1-2 1 3 1-2 1 1 1 1 1 0 1-2 1 0 1-1 1 1 1 1 1 0 1 1 1-2 1 0 1 2 1 2 1-3 1 1 1 0 1 2 1 0 1-2 1 2 1-1 1 1 1 1 1-4"/><path stroke="#8f0f0f" d="M0 751l1 0 1 0 1 2 1 0 1 2 1 0 1-1 1-1 1 1 1 0 1-1 1 2 1-2 1 1 1 0 1 0 1 0 1 1 1-1 1-1 1 4 1 0 1 0 1 0 1-2 1-1 1 0 1 0 1 1 1-1 1 2 1 0 1 0 1 0 1 0 1 1 1-1 1 3 1-3 1 0 1 1 1 0 1 1 1 0 1-1 1 3 1-4 1 2 1 0 1-1 1 0 1 2 1 1 1-1 1 0 1-1 1 0 1 1 1 1 1 1 1-1 1-1 1 1 1 1 1-4 1 3 1-1 1 0 1-3 1 0 1 0 1-2 1-2 1-2 1 1 1 0 1-3 1 2 1 0 1 3 1 3 1 0 1 1 1 1 1 3 1 2 1-4 1 4 1-1 1-1 1 4 1-1 1 2 1-4 1 1 1-1 1 2 1-2 1 1 1 2 1 0 1 0 1-1 1 1 1-1 1-1 1 2 1 0 1-1 1 0 1 3 1-4 1 2 1 1 1 0 1 0 1-2 1 3 1-1 1-1 1 3 1-2 1-1 1-1 1 3 1-1 1 1 1 0 1-1 1 2 1 0 1-2 1 3 1-1 1 0 1 1 1-2 1 1 1 0 1 0 1 3 1-2 1 1 1 1 1 0 1 1 1-3 1 3 1-3 1 1 1 0 1 0 1 0 1 1 1 1 1-4 1 1 1 0 1 2 1 0 1 1 1 2 1-3 1-1 1 2 1 2 1 0 1-2 1 0 1 1 1 0 1-1 1 0 1 3"/><path stroke="#8d0f0f" d="M0 769l1-1 1-1 1 0 1 0 1 0 1 1 1 0 1 1 1-1 1 0 1 0 1-2 1 4 1-1 1 2 1-2 1 0 1 0 1 3 1-2 1 1 1-1 1 1 1-2 1 1 1 0 1 0 1 2 1 0 1 0 1-2 1 1 1 0 1 1 1-2 1 1 1 2 1-1 1 0 1-1 1 1 1 1 1 1 1-3 1 2 1 0 1-1 1 3 1-1 1-2 1 0 1 2 1-2 1 2 1 1 1-2 1 1 1 1 1-1 1 1 1 0 1 0 1-1 1 2 1-2 1 1 1-1 1 0 1-3 1 2 1-2 1-2 1-1 1-2 1-1 1 0 1-3 1 2 1 2 1 2 1 1 1 2 1 2 1 2 1 1 1 2 1 0 1 1 1 1 1-3 1 0 1 1 1 0 1 1 1 0 1 0 1-1 1 1 1 0 1 1 1-4 1 4 1 0 1-1 1 3 1-1 1 0 1-3 1 3 1 0 1 0 1-3 1 1 1 2 1-2 1 4 1-3 1 2 1 0 1 3 1-3 1 2 1-3 1 0 1 2 1 1 1-2 1 2 1-1 1 0 1 0 1 0 1-1 1 1 1 1 1-1 1-2 1 4 1-2 1 2 1-2 1 2 1-1 1 0 1 1 1 0 1-2 1 3 1 0 1 0 1-3 1 3 1 0 1 2 1-3 1 1 1 1 1-3 1 2 1 0 1-2 1 1 1 2 1 0 1 2 1-1 1-2 1 2 1 0 1 0 1-2 1 4 1 0 1-2"/><path stroke="#8a0f0f" d="M0 782l1 0 1 0 1 2 1-3 1 4 1-2 1 1 1 1 1 2 1-2 1-1 1 1 1-1 1 0 1 1 1-1 1 1 1-2 1 3 1-1 1-1 1 2 1 0 1 0 1-2 1 0 1 3 1 2 1-2 1 0 1 0 1-1 1 2 1-2 1 1 1-1 1 0 1 0 1 0 1 1 1 2 1-1 1-1 1 1 1-1 1 3 1-1 1-1 1 1 1 0 1-1 1 0 1 1 1-1 1 1 1 1 1-1 1 1 1 2 1-3 1 3 1-3 1 0 1 1 1 0 1-2 1 3 1-1 1-3 1 0 1-1 1-3 1 0 1-3 1-2 1 4 1-3 1 1 1 2 1 1 1 5 1 0 1 2 1 1 1 3 1-5 1 4 1 0 1 0 1 2 1-1 1-2 1 2 1 0 1 1 1-3 1 3 1 0 1 0 1 0 1-3 1 4 1-1 1-1 1 2 1-1 1 2 1 0 1-3 1 3 1-1 1 0 1 0 1 1 1-2 1 2 1-2 1 2 1-2 1 0 1 2 1-1 1 3 1-3 1 3 1 0 1-1 1 1 1-1 1 3 1-2 1-1 1 1 1-1 1 1 1-1 1 0 1 2 1-1 1 1 1-1 1 0 1 0 1 2 1 1 1-2 1 1 1-2 1 0 1 2 1-2 1 5 1-2 1 1 1-2 1-1 1 0 1 0 1 3 1-2 1 0 1 3 1-3 1 0 1 3 1 1 1-4 1-1 1 2 1 1 1 0 1-1 1 0 1 2"/><path stroke="#880f0f" d="M0 797l1 0 1 1 1 2 1-1 1 3 1-4 1 2 1-3 1 1 1 1 1 0 1 0 1 0 1 0 1 0 1 1 1 1 1-2 1 1 1 0 1 2 1 1 1-2 1 0 1 0 1 1 1-1 1-1 1 3 1 1 1-1 1-1 1 1 1 1 1-2 1 1 1 0 1-3 1 2 1 2 1-1 1 0 1-1 1 2 1 0 1 0 1 2 1-2 1 1 1 0 1 3 1-3 1 3 1-5 1 0 1 2 1 0 1 2 1-1 1 0 1-2 1 1 1 2 1-2 1 0 1 2 1-2 1 0 1 0 1-2 1-4 1 0 1-1 1-1 1 1 1-2 1 0 1-1 1 4 1 0 1 4 1 0 1 3 1-1 1 1 1 1 1 0 1 2 1-1 1 0 1 0 1 1 1-2 1 3 1 0 1 0 1 1 1-1 1 0 1 2 1-2 1 0 1-2 1 2 1 1 1 1 1-1 1 1 1-2 1 1 1 1 1-2 1 1 1 1 1-3 1 1 1 3 1-2 1 2 1-1 1-1 1 2 1-1 1 1 1-1 1 0 1 1 1-1 1 1 1-1 1 2 1 1 1-1 1-2 1 4 1-4 1 3 1 0 1 0 1-1 1 0 1 2 1 0 1-2 1 1 1-1 1-2 1 5 1-2 1 1 1 0 1-1 1 2 1-1 1-1 1 2 1 0 1-1 1 1 1 2 1-1 1-1 1 0 1 3 1-3 1-2 1 4 1-2 1-1 1 1 1 0 1-1 1 2 1 0"/><path stroke="#850f0f" d="M0 815l1-2 1 0 1 1 1 0 1 1 1 1 1-4 1 1 1 1 1 3 1-3 1 2 1-2 1 0 1 1 1 2 1-2 1 1 1 0 1 1 1-1 1 1 1 1 1-1 1-1 1 0 1 1 1-1 1-1 1 1 1 0 1-1 1 6 1-3 1-1 1 0 1 2 1-3 1 1 1 2 1-1 1 1 1 0 1 0 1-1 1 1 1 0 1 0 1 0 1 2 1-1 1 0 1-2 1 0 1 3 1-2 1 0 1 2 1 1 1-2 1 0 1 1 1 0 1 0 1-3 1 3 1-2 1 3 1-4 1-1 1-1 1-2 1 2 1-5 1 1 1-2 1 0 1 3 1 0 1 2 1 0 1 4 1 5 1-3 1 2 1-1 1 5 1-5 1 1 1-1 1 3 1 0 1 0 1 0 1 2 1-1 1 0 1-4 1 2 1 1 1 1 1-4 1 6 1-2 1 2 1-3 1 0 1 0 1 1 1 0 1-2 1 4 1-1 1-1 1-1 1 4 1-4 1 1 1 0 1 1 1 1 1 1 1-1 1-1 1 3 1 0 1-1 1 2 1-4 1 1 1 0 1 0 1 2 1 0 1-1 1 2 1-1 1-1 1 0 1-1 1 2 1-1 1 1 1 1 1 0 1-1 1 3 1-3 1 2 1-1 1 1 1-1 1 0 1 1 1-2 1 2 1-2 1 0 1 2 1 0 1 3 1-5 1 3 1 0 1 0 1 0 1-2 1 3 1 0 1 0 1 0 1 1 1 0 1 0"/><path stroke="#830f0f" d="M0 828l1 2 1-2 1 1 1-1 1 1 1 1 1-1 1 2 1-2 1 3 1-2 1 3 1-2 1-1 1-1 1 1 1 3 1-4 1 0 1 2 1 2 1-2 1-1 1 1 1 0 1 2 1 1 1-2 1-1 1 0 1-1 1 2 1-1 1 3 1-2 1 0 1 3 1-4 1 3 1 0 1 0 1 0 1-2 1 3 1 0 1-3 1 2 1 0 1 0 1 1 1-1 1 0 1 2 1-2 1 1 1 0 1-1 1 1 1 2 1-2 1 4 1-5 1-1 1 2 1-1 1 3 1-1 1-3 1 0 1-2 1 3 1-5 1-1 1-1 1-1 1-1 1 0 1 2 1 2 1 0 1 3 1 0 1 1 1 3 1 2 1 1 1-1 1-1 1 1 1 1 1 0 1 1 1-1 1 2 1-2 1 2 1 0 1 0 1 0 1-2 1 3 1-2 1 1 1-1 1 2 1-1 1 0 1 1 1-1 1 1 1 0 1 1 1-1 1-1 1 1 1 1 1 2 1 0 1-1 1 0 1-4 1 3 1-1 1 2 1 0 1 0 1 0 1 0 1 0 1-1 1 2 1-1 1 2 1-2 1 0 1 0 1 2 1-2 1-2 1 2 1 1 1 1 1-1 1 2 1-1 1 1 1 1 1 0 1 0 1-2 1 1 1 0 1 1 1-2 1 2 1-1 1 1 1 1 1 0 1-2 1 2 1-3 1 2 1-2 1 2 1-1 1 2 1-1 1 2 1 2 1-2 1 0 1 0 1-1"/><path stroke="#810f0f" d="M0 844l1-1 1 0 1 2 1-1 1 1 1-1 1 4 1-1 1-2 1 2 1-1 1 1 1-2 1 0 1 2 1 0 1 0 1 0 1-1 1 0 1 1 1-3 1 3 1 1 1-1 1 2 1-2 1-1 1 2 1-1 1 1 1-1 1 2 1-1 1 0 1 1 1-2 1 1 1 2 1 0 1 0 1-2 1 1 1 0 1 0 1-1 1-1 1 4 1 0 1-3 1 2 1 0 1 0 1 1 1-1 1-1 1 1 1 1 1-1 1 2 1 0 1 0 1 0 1-1 1 1 1-2 1-2 1 2 1 2 1-2 1-3 1-1 1-2 1-2 1 0 1 0 1-1 1 0 1-2 1 7 1-2 1 3 1 3 1 0 1 3 1-3 1 2 1 1 1 0 1 0 1 3 1-3 1 3 1 0 1-1 1-1 1 1 1 0 1 0 1 0 1 1 1 0 1 0 1 0 1 2 1 1 1-2 1 0 1 0 1 1 1 0 1-1 1 0 1 1 1 1 1-2 1 1 1-2 1 1 1 2 1-3 1 1 1 2 1-3 1 2 1 3 1-1 1 1 1 0 1-2 1 0 1 1 1 1 1 1 1-1 1 0 1-2 1 3 1-2 1 2 1 0 1-3 1 4 1-2 1 2 1 0 1 1 1-1 1 1 1-1 1-2 1 1 1 1 1 0 1 0 1-1 1-1 1 2 1 4 1-4 1 0 1 1 1 0 1 0 1-3 1 2 1 0 1 2 1-2 1 1 1-1 1 1 1 3 1-1"/><path stroke="#7e0f0f" d="M0 860l1-2 1 0 1 3 1-1 1 0 1 0 1 0 1-3 1 4 1 1 1-1 1-1 1 1 1 0 1-2 1 2 1 0 1 2 1-3 1 1 1 1 1 0 1 2 1-1 1 0 1-2 1 3 1-4 1 4 1 0 1-1 1-1 1 2 1-1 1 2 1-5 1 4 1-3 1 3 1 0 1 1 1-2 1 0 1-1 1 2 1 1 1 0 1-1 1 1 1 1 1 0 1-3 1 2 1 0 1-3 1 5 1-1 1-1 1 2 1 0 1-1 1 1 1-1 1 0 1 2 1-3 1 4 1-2 1-2 1 1 1-3 1-1 1 2 1-4 1-2 1-1 1 0 1 0 1-1 1 3 1 0 1 2 1 3 1 0 1 0 1 3 1 2 1 0 1 1 1 1 1-1 1 0 1 0 1 1 1 0 1 0 1 1 1-1 1 0 1-1 1 1 1 2 1-1 1 0 1 0 1-1 1 0 1 2 1-1 1 1 1 1 1-2 1 0 1 3 1-1 1-3 1 2 1-1 1 1 1 0 1-1 1 1 1 3 1-2 1 0 1 1 1-2 1 1 1 2 1-1 1 0 1 0 1 1 1 0 1-1 1 1 1 0 1-2 1 3 1 1 1-1 1 0 1-1 1 1 1 2 1 0 1-3 1 3 1-3 1 0 1 1 1 1 1-1 1 2 1-1 1 2 1-4 1 2 1 1 1 1 1-4 1 2 1-2 1 3 1-1 1 2 1 1 1-1 1-1 1 1 1 3 1-4 1 2 1-1"/><path stroke="#7c0f0f" d="M0 875l1-1 1 1 1-2 1 2 1 3 1-4 1 1 1 2 1-3 1-1 1 1 1 2 1 1 1-1 1 0 1 2 1-1 1 1 1 1 1-2 1 2 1-1 1-1 1 0 1 2 1-3 1 0 1 3 1 1 1-2 1 1 1-3 1 1 1 1 1 0 1 1 1-1 1 1 1 0 1 1 1 1 1 0 1 0 1-1 1-1 1-1 1 0 1 3 1 0 1 0 1-1 1-1 1-1 1 2 1 1 1-3 1 5 1-2 1 1 1 1 1 1 1-2 1 1 1 0 1-1 1 1 1-2 1 1 1-1 1 0 1-1 1 0 1-3 1-1 1-2 1 2 1-4 1 0 1-2 1 3 1-1 1 3 1 3 1 3 1 0 1 2 1 0 1 0 1 2 1 1 1-1 1 0 1 0 1 1 1 0 1 1 1-3 1 3 1-2 1 1 1 3 1-1 1-2 1 1 1 1 1 0 1-1 1 1 1-1 1-3 1 5 1-2 1 2 1-1 1 0 1-1 1 3 1 0 1 0 1 0 1 0 1-1 1 0 1 1 1-3 1 1 1 2 1 1 1 1 1 0 1-3 1 1 1 0 1 0 1 0 1 1 1 1 1-3 1 2 1-1 1 3 1 1 1-3 1 0 1 2 1 0 1-2 1 1 1 1 1-2 1 3 1-1 1 0 1-1 1 3 1-3 1 1 1 0 1 0 1-1 1 1 1 2 1-1 1 0 1 2 1-1 1 1 1-1 1-1 1 3 1-4 1 1 1 0 1 4"/><path stroke="#790e0e" d="M0 890l1 1 1-3 1 1 1 2 1-1 1 1 1 0 1 0 1 0 1 0 1 0 1 1 1 0 1-2 1 2 1 1 1-1 1 0 1 2 1-1 1 2 1 0 1-3 1 0 1 0 1 2 1-5 1 4 1 2 1-2 1 1 1-1 1-1 1 3 1-1 1 1 1-1 1 3 1-2 1 0 1 0 1-1 1 1 1 1 1-1 1-2 1 1 1 4 1-3 1 1 1-2 1 1 1 0 1 2 1 0 1 0 1 1 1-2 1 3 1-2 1 1 1 2 1-3 1 1 1-1 1 1 1 0 1-1 1 0 1 1 1-4 1 0 1-1 1-2 1 0 1-2 1-2 1-2 1 1 1 2 1-1 1 4 1 1 1 2 1-1 1 3 1 3 1-1 1 1 1 0 1 2 1-3 1 4 1-1 1-1 1 2 1-4 1 2 1 2 1 2 1-3 1-1 1 2 1 0 1 0 1 0 1 3 1-3 1-1 1 2 1 2 1-1 1-1 1-1 1 2 1 3 1-2 1 0 1-3 1 2 1 0 1 3 1-3 1 1 1-1 1-2 1 4 1-3 1 2 1-1 1 1 1 0 1 0 1 3 1-3 1 1 1 1 1-1 1 0 1 3 1-1 1-2 1 1 1-1 1 2 1-2 1 2 1 0 1 0 1 0 1 0 1-1 1 1 1 1 1 0 1-2 1 2 1-2 1 1 1 0 1 0 1 1 1 1 1 1 1-1 1-1 1 2 1 0 1-2 1 0 1 1 1 3 1-3 1 1"/><path stroke="#770e0e" d="M0 906l1-2 1 0 1 1 1 1 1-1 1 0 1-1 1 4 1-4 1 4 1-3 1 3 1 1 1-3 1 1 1 1 1 0 1-1 1 2 1-2 1-1 1 3 1 0 1-1 1 0 1 1 1 1 1-3 1 3 1 1 1-3 1 1 1 0 1 0 1 2 1-4 1 2 1-1 1 1 1 3 1-3 1 0 1 0 1 2 1-1 1 0 1 0 1 1 1-2 1-1 1 5 1-2 1 0 1 0 1 1 1-1 1 1 1-1 1 3 1-5 1 2 1 3 1-3 1 1 1-1 1-1 1 3 1 1 1-1 1-2 1 0 1 2 1-4 1-2 1 1 1-3 1-4 1 1 1 1 1-1 1 1 1 2 1 0 1 1 1 4 1 1 1 2 1 0 1 1 1-1 1 3 1 2 1-3 1 3 1-1 1-1 1-1 1 2 1 0 1 0 1 0 1 3 1-5 1 3 1 2 1-2 1 3 1-3 1 0 1 1 1-1 1 1 1 0 1-1 1 1 1 1 1-2 1 1 1 1 1-1 1 2 1 0 1-2 1 1 1-1 1 1 1 1 1-1 1 1 1-1 1 2 1 0 1-2 1 2 1 3 1-4 1 2 1 2 1-3 1 1 1-4 1 5 1-1 1 0 1 0 1 1 1 0 1 0 1-1 1 0 1 0 1 0 1 0 1-1 1 2 1-1 1 1 1-1 1 0 1 1 1 0 1 3 1-2 1 1 1 0 1 0 1-1 1 1 1 0 1-2 1 3 1-1 1-2 1 1"/><path stroke="#740e0e" d="M0 921l1 0 1-1 1 2 1 0 1-3 1 1 1 1 1-1 1 1 1 1 1-1 1 0 1-1 1 4 1-4 1 2 1 2 1-2 1-1 1 0 1 3 1 0 1-3 1 0 1 3 1 1 1-2 1 2 1-3 1 0 1 0 1 3 1-1 1 1 1-3 1 5 1-3 1 4 1-3 1-2 1 2 1-1 1 3 1-1 1 1 1-2 1 0 1 1 1 0 1-1 1 2 1 1 1-2 1 0 1 0 1 2 1-1 1 1 1 1 1-2 1 0 1 0 1 3 1-2 1 0 1 0 1 1 1 0 1-2 1 2 1-1 1 0 1-2 1-2 1-3 1 1 1-1 1-4 1 1 1 0 1 0 1 2 1 0 1 2 1 4 1-2 1 4 1 0 1 2 1-1 1 2 1-1 1 2 1-2 1 0 1 2 1 1 1-2 1 4 1-3 1 1 1-3 1 2 1 0 1 0 1-1 1 2 1-1 1 3 1-2 1 1 1-3 1 5 1 0 1-3 1 0 1 0 1 3 1-3 1 1 1-1 1 2 1 1 1-2 1 3 1-1 1-1 1 1 1 1 1 1 1-1 1 1 1-2 1 1 1 2 1-2 1-1 1 0 1 1 1-2 1 1 1 0 1 1 1-1 1 2 1 0 1 1 1 1 1 0 1-2 1-1 1 3 1-1 1-1 1 2 1 2 1-2 1-1 1 1 1-1 1 3 1-4 1 1 1 2 1-1 1-1 1 3 1 0 1-3 1 3 1 0 1 1 1-1 1 0"/><path stroke="#720e0e" d="M0 936l1 0 1 2 1-1 1-2 1 1 1 3 1-4 1 1 1 0 1 2 1-2 1 0 1 1 1 1 1 0 1-2 1 0 1 0 1 3 1-1 1 0 1 0 1-2 1 0 1 1 1 4 1-3 1 1 1-1 1 4 1-3 1-2 1 2 1 1 1 1 1-2 1 2 1-1 1 0 1 0 1 1 1 1 1-1 1-1 1 4 1-2 1 0 1-2 1 3 1-3 1 3 1-1 1-1 1 0 1 1 1 0 1-2 1 4 1-3 1 2 1-1 1 3 1-4 1 3 1 0 1-4 1 2 1 1 1-1 1 2 1 0 1-1 1-3 1 1 1-3 1 0 1-3 1-1 1-1 1 0 1 0 1 0 1 0 1 5 1 2 1 1 1 3 1-1 1 1 1 1 1 3 1 1 1-3 1 0 1 2 1 0 1 0 1-2 1 2 1 0 1-1 1 1 1 0 1 1 1-1 1 0 1 3 1-2 1 1 1 0 1-2 1 1 1-1 1 1 1-1 1 3 1-1 1-2 1 3 1-2 1 0 1 2 1 0 1-1 1 2 1-1 1 0 1 1 1 0 1 1 1-1 1 0 1-4 1 3 1 3 1-3 1 1 1 0 1-2 1 3 1 2 1 0 1-2 1-1 1 1 1 1 1-1 1 2 1-1 1-2 1 1 1 2 1 0 1-1 1 2 1-1 1-1 1 1 1 1 1-4 1 3 1 0 1-1 1 1 1 2 1-2 1 1 1 1 1-2 1 4 1-3 1 0 1-1 1 1"/><path stroke="#6f0e0e" d="M0 950l1 0 1 0 1-2 1 5 1-1 1 0 1 0 1 0 1-1 1 4 1-4 1 0 1 4 1-3 1 1 1-2 1 1 1 1 1 0 1-1 1 2 1-2 1 0 1 3 1-1 1 0 1-1 1 2 1-1 1 0 1 1 1 0 1-2 1 3 1-3 1 1 1 2 1-1 1 1 1 0 1-3 1 4 1-2 1 1 1-1 1 0 1 2 1 0 1 0 1-1 1 3 1-1 1 0 1-1 1 1 1 1 1 0 1 0 1-1 1 0 1-1 1 1 1 0 1 0 1 1 1 0 1-1 1-1 1 2 1 0 1 0 1-2 1-2 1-1 1 1 1-3 1 0 1-4 1 2 1-2 1 0 1 1 1 2 1 2 1-2 1 4 1 2 1 2 1 1 1-1 1 3 1-1 1 1 1 2 1-2 1 1 1 1 1 0 1-3 1 1 1-1 1 4 1-2 1 0 1 1 1-2 1 3 1-2 1 2 1 0 1-1 1 1 1-1 1 1 1 1 1 1 1-1 1 1 1-4 1 3 1 0 1-1 1 1 1 2 1-1 1 1 1 0 1 0 1-1 1-1 1 2 1 0 1-1 1 2 1-3 1 0 1 2 1-2 1 2 1 0 1-1 1 1 1-1 1-1 1 4 1 0 1 0 1-2 1 2 1-1 1 2 1-3 1 2 1-1 1 2 1-1 1-2 1 2 1-1 1 2 1 1 1-3 1 2 1-1 1 0 1 1 1 2 1-1 1 0 1-1 1 1 1 1 1-1 1 0"/><path stroke="#6d0e0e" d="M0 966l1 2 1 0 1 0 1-1 1-1 1-1 1 2 1-1 1-1 1 2 1 3 1-2 1 0 1 0 1 0 1-2 1 2 1 1 1 0 1 0 1 0 1 1 1-2 1-1 1 2 1 0 1 1 1-1 1 1 1 0 1 1 1-2 1 2 1 0 1-1 1 0 1 0 1 0 1 0 1 0 1 2 1 0 1-1 1 1 1 0 1 1 1 0 1-1 1 1 1-3 1 2 1 0 1 1 1-1 1 0 1 0 1-1 1 1 1 0 1 2 1 0 1 1 1 1 1-1 1-3 1 1 1 3 1-2 1 1 1-1 1-2 1 2 1-1 1-2 1 0 1 0 1-4 1-3 1 0 1-1 1-2 1 2 1 2 1 0 1 3 1 2 1 1 1 2 1 1 1 1 1 1 1 1 1 0 1-1 1 2 1-1 1 3 1-2 1 2 1-1 1 0 1 1 1-1 1 0 1 0 1-1 1 0 1 2 1-3 1 5 1-1 1-2 1 3 1 0 1-1 1-4 1 1 1 3 1-2 1 2 1-1 1 1 1 0 1 0 1-2 1 2 1 0 1 2 1-2 1 1 1 1 1-1 1-1 1 2 1-1 1 2 1-2 1 0 1 2 1-1 1 2 1 0 1-4 1 3 1 0 1 0 1 1 1 1 1-2 1 0 1 1 1 1 1-1 1 1 1 1 1-3 1 3 1-3 1 3 1-2 1 0 1-1 1 2 1 0 1 0 1 0 1 0 1 0 1 0 1 1 1-1 1 1 1-1 1 0"/><path stroke="#6a0e0e" d="M0 982l1-2 1 1 1-1 1 0 1 0 1 1 1 2 1-2 1 1 1 0 1 1 1-2 1 3 1-1 1-1 1 2 1-3 1 1 1 2 1 1 1-2 1 3 1-1 1-2 1 2 1 1 1-3 1 3 1-3 1 3 1 0 1 1 1-1 1 0 1-2 1 4 1-2 1 1 1-2 1-2 1 4 1-2 1 1 1 1 1-2 1 2 1-1 1 0 1 2 1-2 1 1 1 0 1 2 1-1 1 1 1-2 1-1 1 2 1 2 1-1 1-1 1 0 1 2 1 0 1-3 1 0 1 5 1-2 1-1 1 1 1-1 1 0 1-1 1-3 1 1 1-2 1 1 1-2 1-3 1-1 1 0 1 2 1 0 1-1 1 4 1-1 1 4 1 1 1 0 1 2 1 1 1 2 1 1 1-4 1 2 1 2 1 0 1 0 1 0 1 0 1 1 1-2 1-2 1 4 1-2 1-1 1 2 1 0 1 1 1-3 1 3 1 0 1 0 1-1 1 0 1 3 1-1 1-1 1-1 1 3 1-2 1 2 1-2 1 2 1 0 1-1 1 1 1-2 1 4 1-2 1 0 1 0 1 0 1 0 1 1 1-1 1 1 1 0 1 0 1-1 1 2 1 2 1-3 1 2 1-2 1 1 1-1 1 1 1 0 1 1 1-1 1 3 1-3 1 2 1 0 1-3 1 1 1 3 1-3 1 2 1-3 1 2 1 1 1 2 1 1 1-3 1 2 1-1 1 0 1 0 1 0 1-1 1 1 1-1"/><path stroke="#670e0e" d="M0 997l1 3 1-5 1 4 1-3 1 1 1 1 1 0 1 1 1 0 1-2 1 0 1 2 1 0 1 1 1-4 1 4 1-1 1-1 1 0 1 0 1 0 1 3 1-2 1 0 1 1 1 0 1 1 1-1 1 0 1-1 1 1 1 0 1 0 1 0 1 2 1 0 1-1 1 2 1-2 1 2 1-2 1 2 1-1 1 0 1-1 1 1 1 0 1-1 1 1 1 0 1 1 1-2 1 2 1 2 1-1 1-1 1 2 1-2 1 2 1-1 1-1 1 2 1 2 1-4 1 0 1 4 1-3 1 1 1-1 1 0 1 1 1-2 1 0 1 0 1 0 1 0 1-4 1 0 1-1 1-3 1 0 1-1 1-2 1 4 1 0 1 3 1 1 1 1 1 3 1 0 1 2 1 1 1 0 1 3 1-1 1-1 1 1 1 0 1-1 1-1 1 1 1 3 1-2 1 1 1 1 1-2 1 2 1-4 1 2 1-1 1 2 1 0 1 0 1 0 1 4 1-3 1 1 1-2 1 0 1 2 1-1 1 0 1 0 1-1 1 2 1 0 1 1 1 0 1 2 1-3 1 1 1 1 1-1 1 1 1-1 1 0 1-1 1 1 1 3 1 0 1-2 1 1 1 1 1-3 1 1 1 0 1-2 1 2 1 0 1 1 1 0 1-2 1 3 1-1 1 1 1 0 1 0 1 2 1-4 1 2 1 0 1 2 1-1 1 0 1 0 1 2 1-2 1-1 1 1 1 1 1 1 1-4 1 1 1 4"/><path stroke="#650e0e" d="M0 1011l1 0 1 0 1 0 1 0 1 1 1-1 1 4 1-5 1 3 1-1 1 3 1-3 1 2 1 1 1-1 1-1 1 1 1 0 1 2 1-2 1 1 1-2 1 2 1 1 1-2 1 0 1 1 1 2 1-1 1 0 1-1 1-1 1 3 1-2 1 2 1 0 1-1 1-1 1 3 1-4 1 0 1 5 1-3 1 1 1 2 1 1 1-4 1 1 1 2 1-1 1-1 1 2 1-3 1 4 1-2 1 1 1-1 1 1 1 1 1-1 1 2 1-1 1-1 1 0 1 1 1-1 1 3 1-3 1 3 1-3 1 0 1 1 1-2 1 3 1-1 1-2 1-1 1-2 1-5 1 1 1-2 1 1 1-1 1 1 1 0 1 4 1 2 1 0 1 3 1 2 1 0 1 1 1 2 1 1 1-1 1 0 1 1 1-2 1 1 1 0 1-1 1 2 1 2 1 0 1-3 1 0 1 0 1 2 1-1 1 2 1-3 1 2 1-1 1 1 1 0 1-2 1 3 1-1 1 1 1-1 1 0 1 1 1 1 1 1 1-2 1 0 1 2 1-2 1 0 1 1 1 1 1-2 1 1 1 0 1 0 1 3 1-4 1 2 1 0 1 0 1 2 1-4 1 2 1 0 1-1 1 1 1 1 1 0 1 3 1-4 1 2 1 0 1 0 1 1 1-1 1 1 1-1 1 0 1-1 1 1 1 2 1-2 1 2 1-1 1 0 1 2 1-3 1 2 1 1 1 0 1-1 1 2 1-2 1 1"/><path stroke="#620e0e" d="M0 1029l1-3 1 2 1 0 1 0 1 0 1-1 1 1 1 0 1 1 1-1 1 3 1-1 1 1 1-1 1-1 1 1 1 1 1-3 1 0 1 0 1 3 1-2 1 1 1 0 1 1 1-1 1-1 1 1 1 2 1-1 1 1 1 0 1-1 1-1 1 0 1 1 1-1 1 2 1-2 1 2 1 0 1 1 1-2 1 2 1 0 1-2 1 2 1-1 1 0 1-1 1 2 1 0 1 0 1 2 1-5 1 5 1 2 1-3 1 0 1 0 1 2 1 2 1-4 1-3 1 4 1 0 1 0 1 0 1-2 1 3 1-1 1 1 1-2 1-1 1-1 1 2 1-3 1-1 1 0 1-3 1-1 1-4 1 4 1 0 1-1 1 1 1 4 1 2 1 3 1-2 1 3 1 2 1 0 1-1 1 0 1 1 1 4 1-4 1 1 1 1 1 0 1 1 1-2 1 0 1 2 1-1 1 0 1-1 1 1 1 0 1 0 1 0 1 1 1 0 1 2 1 1 1-3 1 3 1-2 1-3 1 3 1-1 1 3 1-2 1 2 1 0 1-2 1 0 1 2 1-2 1 1 1 2 1-2 1 2 1 1 1-2 1 1 1-1 1-3 1 4 1 0 1 0 1 0 1-1 1 0 1 1 1-1 1 0 1 2 1 0 1 1 1-2 1 1 1-1 1 1 1 1 1 2 1-3 1 1 1-1 1-1 1 2 1 0 1 0 1 0 1 1 1 1 1-2 1 2 1 0 1 1 1-1 1 1 1-1"/><path stroke="#600e0e" d="M0 1041l1 0 1 1 1-1 1 1 1 1 1 0 1 0 1 1 1 2 1-4 1 1 1-1 1 3 1 0 1-2 1 2 1-2 1 2 1 0 1 0 1-2 1 2 1 0 1 2 1-1 1-1 1 0 1 1 1 1 1 0 1 0 1-1 1-1 1 2 1 1 1 0 1-2 1 3 1 0 1-1 1-2 1 2 1 1 1 1 1-3 1 1 1 2 1 0 1-1 1-1 1 0 1 1 1 0 1 1 1-2 1-1 1 4 1-2 1 1 1 1 1-3 1 2 1 0 1 1 1-1 1 1 1-2 1 1 1 0 1 2 1 0 1-1 1 0 1-1 1-1 1 1 1-3 1 0 1 0 1-6 1 1 1-2 1 0 1-2 1 4 1 0 1 3 1 2 1 2 1 1 1 2 1 0 1-1 1 2 1 0 1 1 1 1 1 0 1 1 1 1 1-3 1 1 1 1 1-1 1 1 1-3 1 4 1-1 1-2 1 2 1 2 1-2 1 3 1 0 1-2 1 0 1 1 1 1 1 0 1-1 1-2 1 3 1-3 1 2 1 0 1 1 1-1 1 1 1 1 1-1 1-1 1 2 1-1 1-1 1 0 1 4 1-3 1 1 1-1 1 1 1 0 1 0 1 1 1 1 1-1 1-1 1 0 1-1 1 3 1-1 1-1 1 0 1 2 1-1 1 2 1-1 1 1 1-1 1-3 1 5 1-3 1 3 1-1 1-1 1 0 1 0 1 2 1 0 1-2 1 0 1 3 1-1 1-2 1 3"/><path stroke="#5d0e0e" d="M0 1059l1-1 1 0 1-1 1-2 1 4 1-2 1 4 1-3 1 1 1-1 1-1 1 1 1 4 1-3 1-2 1 4 1 0 1-2 1 1 1 0 1-1 1 1 1-1 1 2 1 1 1-2 1 2 1 0 1 0 1 1 1-2 1 0 1 2 1-1 1-3 1 3 1-1 1 1 1 1 1 1 1-1 1-1 1 0 1 1 1 1 1 3 1-5 1 1 1 2 1-2 1 1 1-2 1 0 1 3 1-2 1 3 1-2 1 1 1 1 1-2 1 0 1 3 1-1 1-1 1 2 1-2 1 1 1-1 1 0 1 2 1 1 1-2 1-2 1 1 1 0 1-1 1 0 1-4 1 0 1-3 1-1 1-1 1 1 1-2 1 2 1 2 1 3 1 2 1 1 1 2 1 2 1-1 1 4 1 0 1-2 1 0 1 0 1 1 1 0 1 0 1 0 1 1 1 1 1 0 1 0 1-2 1 1 1 2 1-2 1-1 1 3 1 1 1-4 1 4 1-3 1 2 1-1 1 0 1-1 1 0 1 0 1 1 1 2 1-1 1 3 1-3 1 0 1 1 1 2 1-3 1 1 1 1 1-1 1 1 1-1 1 0 1 1 1 0 1 1 1-3 1 1 1 1 1-1 1 1 1-1 1 2 1-2 1 2 1-1 1 3 1-3 1 0 1 0 1 1 1 0 1 2 1-2 1 1 1 0 1 1 1-2 1 1 1 1 1 2 1-3 1 0 1 2 1 0 1 0 1 2 1-3 1 2 1 1 1-2"/><path stroke="#5a0e0e" d="M0 1075l1-1 1-1 1 2 1-2 1-3 1 4 1-1 1-1 1 3 1-2 1 0 1 4 1-1 1 0 1 1 1-4 1 4 1-3 1 0 1 2 1-1 1 3 1-3 1 2 1-1 1-1 1 1 1 0 1 1 1-1 1 2 1-2 1 1 1 2 1-1 1 3 1-3 1 0 1 0 1 1 1 0 1-1 1 0 1 0 1 0 1-1 1 0 1 0 1 4 1-2 1 1 1-1 1 1 1-1 1-2 1 3 1-1 1 0 1 0 1 2 1 0 1 0 1 1 1-2 1 2 1-1 1 0 1 0 1-1 1 1 1 0 1-2 1 4 1-1 1-1 1 0 1-2 1-2 1 0 1-4 1-3 1 2 1-2 1 2 1 0 1 0 1 3 1 0 1 4 1 1 1 2 1 3 1-1 1 0 1 1 1 0 1-1 1 1 1-1 1 0 1 2 1 1 1-1 1 0 1 1 1 0 1 1 1-1 1 0 1-2 1 3 1 0 1 1 1-2 1-1 1 3 1-1 1-3 1 4 1-3 1 4 1-1 1-3 1 3 1 0 1 0 1-2 1 0 1 3 1-3 1 2 1 1 1 0 1 0 1 3 1-2 1-1 1 0 1-1 1 2 1 2 1-1 1-1 1-1 1-2 1 3 1-1 1 2 1-2 1 3 1-1 1-1 1 1 1 0 1 0 1 0 1 1 1-2 1 2 1 1 1 0 1 0 1 1 1-1 1 3 1-4 1-1 1-1 1 1 1 2 1-2 1 1 1 2 1-2"/><path stroke="#580e0e" d="M0 1088l1 1 1 1 1-1 1-2 1 0 1 3 1 1 1-2 1 1 1 0 1-1 1 2 1-2 1 1 1 1 1-1 1-1 1 3 1-3 1 0 1 0 1 2 1 0 1-1 1 3 1-2 1 1 1-2 1 1 1 3 1-1 1 0 1 1 1-1 1 0 1 0 1 0 1-1 1 3 1 1 1-3 1 0 1 3 1-2 1 0 1 0 1 0 1 0 1 1 1-2 1 3 1 0 1-1 1 0 1 2 1-2 1 0 1 2 1-3 1-1 1 3 1-1 1 0 1 0 1 1 1 0 1-2 1 4 1-2 1 0 1 1 1 1 1-1 1 2 1-6 1 3 1-1 1-7 1 3 1-2 1-2 1-1 1 0 1-1 1 1 1 3 1 1 1 3 1 4 1-3 1 2 1 1 1 2 1 2 1-1 1 1 1 2 1-5 1 2 1 0 1 1 1-1 1 3 1-2 1-1 1 0 1 0 1 2 1-1 1 1 1 0 1 1 1 0 1 1 1 0 1-2 1 2 1-2 1 0 1 2 1-2 1 1 1-1 1 0 1 2 1-1 1 3 1 0 1-1 1-1 1 1 1-1 1 2 1-3 1 2 1 0 1 1 1 0 1-1 1 2 1-2 1 2 1 0 1-1 1 2 1-2 1-1 1 2 1 0 1 0 1-1 1 2 1 0 1-2 1 0 1 3 1-2 1 3 1 0 1-2 1 3 1-3 1 1 1 0 1 1 1 0 1 0 1-1 1 0 1-1 1 1 1 1 1 0 1-1"/><path stroke="#550e0e" d="M0 1104l1-1 1 0 1 1 1 1 1 0 1-2 1 1 1-2 1 5 1-5 1 3 1-2 1 2 1 0 1 1 1-1 1 1 1-1 1 0 1 0 1 0 1 3 1-1 1 0 1-3 1 2 1 1 1-2 1 3 1-2 1 1 1 1 1-1 1 1 1 0 1 1 1 1 1 0 1-2 1-2 1 1 1 1 1 2 1 0 1-1 1-1 1 1 1 1 1 0 1 1 1-1 1-3 1 3 1-3 1 3 1 4 1-2 1-1 1 2 1-3 1 2 1 0 1-2 1 1 1 1 1 0 1-1 1 1 1 1 1-1 1-1 1 1 1 0 1-1 1-2 1 1 1-2 1-3 1 2 1-3 1-1 1-1 1 1 1-1 1-1 1 3 1 1 1 2 1 3 1 2 1-1 1 3 1 1 1-2 1 6 1-4 1 2 1-1 1 0 1 1 1-1 1 0 1 2 1 0 1 2 1-3 1-2 1 0 1 3 1-2 1 0 1 3 1-3 1 0 1 2 1 2 1-1 1-2 1 2 1-2 1 2 1-4 1 2 1 3 1-1 1 1 1-5 1 6 1 0 1 1 1-3 1 2 1 0 1-1 1 1 1 0 1 1 1-1 1 0 1-1 1 1 1 1 1 0 1 0 1 1 1-2 1 0 1-1 1 4 1 1 1-2 1 0 1-1 1 1 1 2 1-1 1-2 1 2 1 0 1 1 1 1 1-2 1 1 1 0 1-2 1 1 1-1 1 2 1 1 1-1 1 1 1-2 1 0 1 3"/><path stroke="#520d0d" d="M0 1119l1-1 1 2 1-2 1 0 1 2 1-1 1 1 1 2 1-2 1 0 1 2 1-3 1 1 1 0 1 0 1 3 1-5 1 4 1-3 1 0 1 2 1 0 1 0 1-1 1 3 1-3 1 3 1 3 1-5 1 2 1 0 1-2 1 2 1 1 1 0 1 0 1-1 1 0 1 0 1 2 1-2 1 0 1 0 1 3 1-4 1 4 1 0 1-2 1 1 1-2 1 3 1 0 1-2 1 2 1 0 1 0 1 1 1 0 1-1 1 1 1 1 1 1 1-2 1-1 1 0 1 1 1-2 1 1 1 2 1 2 1-1 1-2 1 2 1-2 1-2 1 1 1-1 1-2 1-2 1-1 1-3 1-1 1 0 1 2 1 0 1 2 1 1 1 2 1 2 1 2 1 1 1 3 1-1 1-3 1 3 1 1 1 0 1 0 1 0 1 2 1-2 1 2 1 0 1 0 1 2 1-4 1 1 1 1 1 0 1 0 1-1 1 1 1 2 1-1 1 0 1 1 1 1 1-2 1 0 1-2 1 2 1 1 1 0 1-1 1-1 1 1 1-2 1 2 1 1 1 1 1 1 1-1 1-1 1 1 1-1 1 2 1 0 1-3 1 2 1 3 1-1 1-1 1-4 1 5 1 0 1-1 1 1 1 0 1 0 1 0 1 0 1 1 1-1 1-1 1 0 1 2 1-1 1 0 1 0 1 2 1-3 1-1 1 4 1-1 1 3 1-3 1-1 1 2 1 1 1 0 1 0 1 2 1-3 1 1"/><path stroke="#500d0d" d="M0 1134l1-2 1 1 1 0 1 1 1-1 1 3 1-1 1-1 1 0 1 1 1-1 1 0 1 0 1 2 1 2 1-5 1 3 1 0 1-1 1 4 1-2 1-2 1 2 1-2 1 3 1-1 1 2 1-3 1 2 1 2 1-3 1 0 1 1 1 0 1 0 1 1 1 1 1-2 1-1 1 1 1-1 1 1 1 1 1-2 1 3 1 0 1-2 1 1 1-1 1 3 1-1 1 1 1 1 1-1 1 0 1 0 1-1 1 1 1 2 1-2 1 0 1 1 1 0 1 1 1-2 1 0 1 1 1 1 1 0 1 0 1-1 1-1 1 0 1-1 1 1 1 0 1-4 1-2 1-1 1-1 1-2 1 0 1 1 1 0 1 1 1 0 1 3 1 4 1-2 1 6 1-1 1 3 1-2 1 0 1 0 1 2 1 0 1 0 1 0 1 1 1-1 1 2 1-3 1 1 1 1 1 0 1 1 1-2 1 1 1 1 1-2 1 3 1-2 1 0 1 0 1 2 1-1 1 1 1 1 1-1 1 1 1 1 1-4 1 0 1 5 1-3 1 4 1-2 1-4 1 4 1-1 1 1 1 1 1-2 1 1 1 0 1-2 1 2 1 1 1 0 1 0 1 0 1-2 1 1 1-1 1 3 1 1 1-1 1-3 1 2 1 2 1 0 1 0 1 0 1-2 1 2 1 0 1-1 1 0 1 1 1 3 1-1 1-1 1 0 1-2 1 2 1 1 1-1 1 1 1 1 1-2 1-1 1 2 1 0"/><path stroke="#4d0d0d" d="M0 1152l1-3 1 0 1 2 1-2 1 0 1 1 1 0 1 0 1 0 1-3 1 5 1-2 1 1 1 0 1 1 1 1 1-2 1 0 1 1 1-1 1 3 1-2 1-1 1 3 1-3 1 2 1-1 1 1 1 2 1-1 1-2 1 2 1 1 1-1 1 2 1-1 1 1 1-2 1 1 1-2 1 0 1 2 1-1 1 1 1-1 1 0 1 0 1 2 1-2 1 2 1 0 1-1 1 1 1 3 1-2 1 1 1 0 1 0 1-1 1-2 1 2 1-1 1 0 1 1 1 2 1-1 1 0 1 1 1 0 1-2 1-1 1 2 1 0 1-1 1-2 1-1 1-1 1-2 1-3 1 2 1-3 1-2 1 2 1 1 1 2 1-1 1 1 1 7 1-2 1 1 1 3 1 2 1 0 1-1 1 1 1-1 1 1 1 0 1 4 1-2 1-1 1 0 1 2 1-2 1 0 1 0 1 1 1 2 1-3 1 0 1 0 1 1 1-1 1 0 1 1 1 2 1-1 1 0 1 1 1 0 1-1 1 0 1 2 1-1 1 0 1 0 1 1 1-1 1-1 1 1 1-1 1-2 1 3 1 4 1-5 1 2 1 2 1-1 1 0 1-1 1 0 1 0 1 0 1 1 1 1 1 1 1 1 1-1 1 3 1-3 1-2 1 0 1 2 1 1 1 0 1-1 1 2 1-2 1 0 1 0 1 1 1 1 1-2 1 0 1 3 1-2 1 2 1-1 1 0 1 1 1-1 1 1 1 0 1 1"/><path stroke="#4a0d0d" d="M0 1163l1 1 1 2 1 0 1 1 1 0 1-3 1 1 1 2 1-1 1-1 1 1 1 0 1-1 1 1 1 1 1 0 1-2 1 1 1 0 1 1 1 0 1-1 1 2 1-3 1 2 1 1 1 0 1 0 1 1 1-1 1 0 1 2 1-2 1 4 1-5 1 3 1-2 1-1 1 1 1-2 1 3 1 1 1-1 1 0 1 2 1-2 1 3 1-2 1 3 1-2 1-2 1 3 1-1 1-2 1 5 1-3 1 1 1 3 1-4 1 0 1 2 1-4 1 5 1-2 1 2 1 0 1-2 1-1 1 4 1-3 1 1 1 0 1 1 1-2 1-2 1 1 1-2 1-1 1-4 1 1 1-2 1-2 1 2 1 0 1-1 1 3 1 3 1 2 1 2 1 0 1 1 1 1 1 2 1 0 1 1 1-1 1 0 1 0 1 1 1-1 1 1 1 0 1 2 1-2 1 0 1 2 1 1 1-2 1-1 1 2 1-2 1 2 1 0 1-1 1 2 1 0 1-1 1 1 1-2 1 1 1 1 1 1 1-3 1 3 1-2 1-1 1 4 1 0 1-2 1 2 1-1 1 1 1 2 1-1 1-1 1-2 1 1 1 1 1 0 1 1 1 0 1 2 1-1 1-3 1 5 1-3 1 0 1-2 1 3 1 3 1-3 1 1 1 0 1 1 1-3 1 0 1 2 1 1 1-2 1 2 1 0 1 0 1-1 1 3 1-1 1 0 1-1 1-2 1 2 1 0 1-1 1 3 1-3 1 4"/><path stroke="#470d0d" d="M0 1179l1 0 1 1 1 1 1 0 1-2 1 2 1-1 1-1 1 0 1 3 1-3 1 1 1 1 1 2 1-4 1 3 1 0 1-2 1 1 1 1 1 1 1-1 1 0 1 1 1 1 1-3 1 2 1 0 1 0 1 2 1-2 1-1 1 2 1-2 1 4 1 0 1-3 1 1 1-1 1 2 1-1 1 3 1-1 1 0 1 1 1-2 1 1 1-1 1 0 1 3 1-5 1 4 1-1 1 2 1-2 1 1 1-2 1 3 1-2 1 0 1-3 1 2 1 4 1-3 1 0 1 2 1 0 1 0 1 0 1 3 1-4 1 0 1 1 1 0 1 0 1-3 1 0 1-2 1 1 1-6 1 1 1-2 1 0 1 2 1 2 1-1 1 3 1 1 1-1 1 8 1-2 1 1 1 0 1 1 1 1 1 1 1-1 1 0 1-1 1 1 1 1 1-3 1 2 1 1 1 2 1-4 1 1 1 3 1-4 1 6 1-3 1 1 1 0 1-3 1 3 1-2 1 1 1 1 1 0 1 1 1-1 1 2 1-1 1-1 1 1 1-1 1 2 1-1 1 0 1 2 1-4 1 3 1-1 1 2 1 0 1-2 1 2 1 1 1-2 1 2 1 2 1-5 1 2 1 3 1-3 1 0 1-1 1-2 1 5 1 0 1 1 1-1 1-2 1-1 1 3 1 2 1-2 1 1 1 1 1-2 1 0 1 2 1-2 1 0 1 0 1 2 1-2 1 1 1 1 1-2 1 1 1 1 1 0 1-1"/><path stroke="#450d0d" d="M0 1194l1 2 1-2 1 1 1 0 1 0 1 1 1-1 1-1 1 4 1-2 1 0 1 1 1-1 1-1 1 1 1 0 1 2 1-1 1 1 1-4 1 2 1 2 1-2 1 3 1-1 1 0 1-1 1 1 1-1 1 3 1-1 1 0 1-1 1 2 1-2 1 3 1-1 1-1 1 1 1 2 1-1 1 0 1-1 1 1 1-2 1 3 1 0 1-1 1 1 1-1 1 0 1 1 1 0 1 0 1 0 1-1 1-1 1 3 1-4 1 2 1 0 1 3 1 0 1 3 1-4 1 0 1 0 1-1 1 3 1-2 1 0 1 1 1-1 1 0 1 0 1-1 1-2 1-3 1-1 1-3 1-1 1-1 1 3 1-3 1 4 1 0 1 2 1 2 1 4 1-2 1 4 1 0 1 0 1-1 1 2 1 0 1 1 1 2 1-1 1-1 1 3 1-3 1 1 1 0 1 1 1 0 1 0 1 1 1-1 1-1 1 2 1-1 1 0 1 1 1-1 1 1 1 3 1-2 1-1 1 0 1 2 1-1 1-1 1 2 1-3 1 4 1 0 1 0 1-3 1 2 1 2 1-1 1-1 1 2 1-3 1 1 1 1 1-1 1 1 1 1 1 0 1-1 1-1 1 0 1 1 1 0 1 0 1 4 1-3 1 0 1 1 1-2 1 1 1 2 1-2 1 2 1-2 1 2 1 1 1 0 1-1 1 0 1 1 1-1 1-1 1 3 1 0 1-1 1 0 1-1 1 0 1 1 1 1 1 0"/><path stroke="#420d0d" d="M0 1210l1 1 1-2 1 2 1 1 1-2 1-1 1 3 1 1 1-1 1-1 1 1 1-3 1 3 1-1 1 2 1-2 1 4 1 0 1 0 1-1 1-2 1 1 1 1 1 0 1-1 1 0 1 0 1 1 1 0 1 2 1-1 1-1 1 2 1-4 1 1 1 1 1 2 1 1 1-1 1 0 1-1 1-2 1 2 1 2 1-1 1-1 1 1 1 0 1-2 1 2 1 0 1-1 1 2 1 0 1 0 1 0 1 1 1-1 1 0 1 1 1 0 1 1 1-1 1 0 1 2 1-1 1 1 1 2 1-2 1-2 1 0 1 2 1-3 1 1 1 1 1-2 1-1 1-1 1-2 1-2 1 0 1-3 1 0 1 1 1 0 1 0 1 1 1 3 1 2 1 0 1 2 1 4 1-2 1 4 1 0 1-1 1 0 1 1 1 1 1 0 1 1 1-1 1-1 1 1 1 1 1-1 1-1 1 0 1 2 1-2 1 4 1-1 1-3 1 1 1 1 1-1 1 1 1 2 1-1 1-2 1 3 1 0 1-2 1 2 1-1 1-1 1 3 1 0 1-2 1-2 1 4 1-1 1 1 1-2 1 2 1 1 1-1 1 1 1 0 1 1 1-2 1 0 1-2 1 2 1 1 1-1 1 2 1-1 1 4 1-3 1-1 1 1 1 1 1 0 1 1 1-2 1 2 1-1 1 1 1-1 1 0 1 1 1-1 1 0 1 1 1-2 1 1 1 0 1 2 1-1 1 0 1 0 1 1 1-1"/><path stroke="#3f0d0d" d="M0 1227l1-2 1 1 1 0 1 0 1-2 1 2 1 0 1-2 1 1 1 3 1-1 1-1 1 2 1-3 1 4 1-2 1 2 1-2 1 0 1 1 1 0 1 1 1 0 1-1 1 0 1 1 1 2 1-2 1 1 1-1 1-1 1 0 1 2 1 0 1 0 1 2 1-1 1 2 1-2 1-1 1 2 1-2 1 1 1-1 1 2 1 1 1-3 1 1 1 0 1-1 1 2 1 0 1-1 1-1 1 1 1 2 1-2 1 2 1 0 1 1 1-1 1 1 1 1 1-2 1 1 1 1 1-2 1 2 1-4 1 1 1 0 1 2 1 0 1-3 1 4 1-1 1-2 1-3 1-1 1-3 1-2 1-1 1 1 1 0 1 1 1 4 1-1 1 3 1 2 1 1 1 1 1 3 1-1 1 2 1-1 1 0 1 3 1-4 1 1 1 1 1 1 1-1 1 1 1 1 1 1 1-1 1-2 1 4 1-2 1-1 1 1 1-1 1 1 1-1 1 1 1-2 1 4 1-1 1 1 1-1 1 0 1 2 1 0 1-2 1 2 1-2 1 0 1 2 1-1 1 0 1-2 1 2 1 1 1 1 1 0 1-2 1 2 1-2 1 2 1 2 1-3 1 0 1 2 1-1 1 0 1 1 1-1 1 2 1-2 1 0 1 1 1 1 1 0 1 0 1 0 1-1 1 1 1-2 1 2 1 1 1 0 1 1 1-2 1 0 1 0 1 0 1 1 1 1 1-1 1 2 1-1 1-3 1 4 1-1"/><path stroke="#3c0d0d" d="M0 1241l1-1 1 0 1 3 1-1 1-1 1-1 1 1 1 0 1 2 1 0 1-3 1 3 1-1 1 0 1 2 1-2 1 0 1 1 1-1 1 1 1 1 1-2 1 3 1 0 1-1 1 1 1-2 1 1 1 0 1 0 1 2 1-1 1 1 1-3 1 2 1 0 1-1 1 3 1-1 1 0 1 2 1-2 1 2 1-4 1 4 1 0 1-3 1 0 1 5 1-3 1 2 1-1 1 0 1 0 1-2 1 1 1 0 1 2 1-3 1 1 1 2 1 0 1-1 1 0 1-1 1 1 1 0 1 1 1-1 1 0 1 3 1-4 1 3 1-3 1-1 1-2 1-1 1-1 1-4 1 2 1-2 1 0 1 0 1 3 1 0 1 3 1 0 1 5 1-1 1 1 1 1 1 3 1 1 1-1 1 2 1-3 1 0 1 1 1 2 1-2 1 1 1-1 1 1 1-1 1 5 1-3 1-1 1 2 1-1 1-1 1 2 1-3 1 4 1 0 1-3 1 2 1-2 1 3 1 0 1 0 1-1 1 1 1-1 1 1 1-1 1 0 1 0 1-2 1 3 1 2 1 1 1-3 1 1 1 2 1-4 1 3 1-3 1 3 1 0 1 0 1 0 1 3 1-6 1 2 1 2 1 0 1-1 1 1 1 0 1 0 1 2 1-3 1 2 1 1 1-2 1 3 1-3 1-1 1 1 1 2 1 1 1-2 1 1 1 0 1 1 1-2 1 1 1-1 1 2 1 1 1-4 1 3 1 0 1 1"/><path stroke="#390d0d" d="M0 1255l1 1 1-1 1 2 1 2 1-2 1 1 1 1 1-2 1 0 1 0 1 2 1-2 1 1 1-1 1 2 1-1 1-2 1 2 1 1 1-1 1 1 1 2 1-4 1 1 1 0 1 1 1 0 1 0 1 0 1 0 1 3 1 1 1-3 1 0 1-2 1 2 1 2 1-1 1 0 1 2 1 2 1-4 1-1 1 2 1 1 1-2 1 1 1 1 1 0 1-2 1 3 1-2 1 3 1-2 1-2 1 1 1 2 1 2 1-2 1-1 1 4 1-5 1 3 1-3 1 0 1 1 1 3 1-1 1-1 1 1 1-2 1 3 1-3 1 0 1-4 1 0 1-3 1 1 1-4 1 1 1 0 1 0 1 2 1 2 1-1 1 2 1 2 1 2 1 1 1 2 1 3 1-2 1 0 1 3 1-3 1 1 1 1 1 1 1-3 1 0 1 1 1 0 1 3 1-2 1 1 1-1 1 0 1 2 1 0 1-1 1 2 1-2 1 0 1 0 1 0 1 2 1-3 1 3 1-3 1 1 1 2 1 0 1 0 1-2 1 4 1 0 1-2 1 2 1-2 1 1 1-1 1 0 1-1 1 2 1 1 1-1 1 2 1 0 1 1 1 0 1-2 1 1 1 0 1-1 1-1 1 4 1-3 1 2 1 1 1-1 1-1 1 1 1 2 1-3 1 0 1 1 1 1 1 1 1-2 1 1 1 1 1-2 1 1 1 1 1 0 1 1 1-3 1 2 1-1 1 2 1 0 1-1 1 1 1 2"/><path stroke="#360d0d" d="M0 1273l1-1 1-1 1 3 1-3 1-1 1 2 1-1 1-2 1 2 1 1 1 0 1 1 1 1 1 0 1-2 1 2 1 1 1-2 1 0 1 1 1 1 1-1 1 1 1-2 1-1 1 2 1 0 1 1 1-1 1 0 1 1 1 1 1-1 1 0 1 1 1-1 1 2 1-2 1-1 1 5 1-2 1 1 1-1 1 0 1 0 1 0 1 0 1-1 1 2 1 0 1 2 1-3 1 1 1 0 1-2 1 1 1-1 1 2 1 1 1 0 1 1 1 0 1 1 1-1 1-3 1 3 1-2 1 3 1 0 1 0 1-1 1-1 1-3 1 2 1-2 1-3 1-3 1-1 1 0 1 0 1-1 1 0 1 3 1 2 1 1 1 2 1 2 1 1 1 2 1-1 1 4 1-1 1 3 1-5 1 2 1-1 1 2 1 1 1-2 1 2 1 0 1-1 1 1 1-2 1 1 1 0 1 0 1 0 1 2 1 0 1 2 1-5 1 3 1 0 1 1 1 0 1 2 1-3 1-1 1 3 1-2 1 1 1 0 1 3 1-4 1 4 1-2 1 0 1 0 1-1 1 1 1 1 1-1 1-1 1 1 1 1 1 0 1-1 1 2 1 1 1-1 1 2 1-2 1 0 1-1 1 0 1 1 1 0 1 0 1 1 1 2 1-4 1 3 1 0 1 0 1 0 1 0 1 0 1 0 1-1 1 1 1 1 1 0 1 0 1-1 1 0 1 4 1-2 1 1 1-1 1 1 1 0 1 1 1-2"/><path stroke="#330d0d" d="M0 1287l1 1 1-3 1 2 1 0 1-1 1 0 1 3 1-1 1 0 1-1 1 1 1 4 1-4 1-1 1-1 1 4 1-1 1-1 1 3 1 0 1-3 1 0 1 2 1 0 1 0 1 1 1-2 1 1 1-1 1 2 1 1 1-5 1 2 1 2 1-2 1 2 1 1 1 0 1 0 1 0 1 1 1-1 1 0 1-1 1-1 1 2 1 1 1 0 1-1 1 0 1 2 1 0 1 1 1-1 1-1 1 3 1-3 1-1 1 1 1 2 1 0 1 0 1-1 1 3 1-2 1 0 1 0 1 2 1 0 1-3 1 2 1-2 1-2 1 1 1-4 1-1 1 0 1-3 1-3 1 1 1 1 1 0 1 3 1 2 1 1 1 1 1 3 1 3 1-1 1 2 1 1 1 0 1-2 1 2 1 1 1-2 1 2 1-2 1 0 1 1 1 2 1 0 1-1 1 2 1-3 1 3 1-2 1-2 1 4 1-1 1-2 1 2 1 1 1-1 1 2 1-3 1 5 1-3 1-1 1 1 1 0 1-1 1 0 1 2 1 1 1-2 1 2 1-1 1 3 1-2 1 1 1-1 1 1 1-1 1-1 1 3 1 0 1 0 1-2 1 1 1 1 1-1 1-2 1 2 1-1 1 0 1 3 1-5 1 6 1-3 1 1 1 0 1 0 1 1 1-1 1 1 1-1 1 1 1 0 1 0 1 2 1-1 1-1 1 4 1-1 1-1 1-1 1 3 1-2 1 0 1 0 1 1 1 0 1-1"/><path stroke="#300d0d" d="M0 1299l1 4 1-1 1 1 1-1 1 2 1-1 1 0 1 0 1-2 1 0 1 5 1-4 1 1 1 3 1-2 1-3 1 0 1 1 1 2 1 1 1 0 1-1 1 2 1-3 1 2 1 1 1 3 1-4 1-1 1 2 1 0 1 1 1 0 1 1 1 1 1-2 1-2 1 1 1 1 1 0 1 2 1-1 1 0 1 0 1 1 1-2 1 0 1 1 1-1 1 1 1-2 1 3 1-1 1 2 1 0 1 0 1-3 1 3 1 0 1-2 1 2 1-1 1-1 1 3 1-1 1 3 1-2 1-1 1 0 1 0 1-1 1-2 1-1 1 2 1-5 1 1 1-4 1 0 1-1 1 1 1 0 1 1 1 1 1 3 1 2 1 3 1 0 1 1 1 1 1-2 1 4 1-2 1 2 1-1 1 1 1 0 1-1 1 2 1 2 1 0 1 0 1 0 1-1 1 2 1-2 1 1 1 0 1-1 1-1 1 2 1 2 1-2 1-1 1 1 1 0 1 0 1-1 1 2 1-1 1 1 1 0 1-2 1 4 1 0 1-2 1 4 1-3 1-1 1 1 1 1 1-1 1 1 1-2 1 2 1-1 1-1 1 2 1-1 1 2 1 1 1-3 1 1 1-1 1 0 1 1 1 1 1-1 1 2 1 2 1-4 1 2 1-1 1-2 1 1 1 4 1-2 1 3 1-2 1 1 1 0 1-1 1 2 1 0 1-2 1 1 1-2 1 4 1-3 1 1 1 0 1 0 1 2 1-1 1 1"/><path stroke="#2d0d0d" d="M0 1317l1 1 1-2 1 0 1-3 1 6 1 0 1-3 1 1 1 1 1-1 1 3 1 1 1-2 1 0 1 0 1-2 1 0 1 1 1 1 1 2 1-2 1 1 1 2 1 0 1 0 1 0 1-4 1 2 1 1 1 0 1 1 1 0 1 0 1-2 1 1 1 0 1 2 1 0 1 1 1-2 1-1 1 1 1-1 1 0 1 0 1 3 1-1 1-1 1 1 1 1 1 0 1 0 1-1 1 2 1-1 1 3 1-4 1-2 1 3 1 2 1-1 1 1 1 0 1 2 1-3 1 2 1-1 1-1 1 2 1 0 1-5 1 2 1-1 1-4 1-2 1-1 1-1 1 0 1 0 1-2 1-1 1 4 1 3 1 2 1 3 1 2 1 1 1-1 1 3 1-2 1 4 1-1 1 0 1 0 1 0 1 0 1-2 1 3 1 0 1 0 1-1 1 2 1-2 1-1 1 3 1-1 1 0 1 0 1 2 1-1 1-1 1 0 1 0 1 1 1-1 1 1 1 0 1-1 1 1 1 0 1 1 1 2 1 1 1-4 1 1 1 1 1-1 1-1 1 1 1 0 1 0 1 2 1 0 1-1 1 3 1-2 1 2 1-2 1 1 1-1 1 0 1 0 1-1 1 1 1 2 1 0 1 1 1-3 1 4 1-2 1-1 1 1 1 0 1 1 1-3 1 1 1 3 1 0 1-2 1 1 1 1 1 0 1-1 1-1 1 1 1 2 1-1 1 1 1-2 1-1 1 2 1 0 1 1 1 2"/><path stroke="#2a0d0d" d="M0 1334l1-1 1 0 1 0 1-1 1 2 1-3 1 3 1 0 1-1 1-1 1 2 1-2 1 0 1 2 1 0 1 0 1 0 1 0 1 3 1-2 1-1 1 0 1 0 1 3 1-1 1 1 1-1 1 2 1-4 1 0 1 3 1 0 1-2 1 1 1 0 1 2 1-2 1 0 1 1 1-1 1 2 1 0 1 1 1-2 1 1 1-1 1 4 1-3 1 1 1 0 1-1 1 2 1 0 1-2 1 0 1 1 1 0 1 0 1 0 1 2 1-2 1 0 1 2 1 1 1-3 1 0 1 3 1-4 1 2 1 1 1-2 1-2 1-1 1-1 1-3 1-1 1-2 1 1 1-1 1 0 1 2 1 2 1 3 1 1 1 1 1 2 1 4 1 0 1 1 1-3 1 4 1-1 1 0 1 0 1 1 1-3 1 3 1-2 1 3 1-1 1-1 1 0 1 1 1 2 1-2 1 0 1 0 1 3 1-3 1 0 1 1 1-1 1 1 1-2 1 1 1 2 1-1 1 2 1 0 1 0 1 0 1 1 1-2 1 0 1 2 1-2 1 0 1 0 1 0 1 3 1 0 1-2 1-1 1 1 1 1 1 2 1-2 1 2 1 0 1-3 1 3 1 1 1-1 1-1 1 2 1-1 1 0 1 1 1 1 1-3 1 1 1 0 1 1 1 0 1-1 1 1 1 0 1 2 1 0 1-1 1 0 1 0 1-1 1 2 1 0 1-3 1 1 1 3 1 1 1-3 1 0 1-1 1 4 1-1"/><path stroke="#270c0c" d="M0 1347l1 0 1 2 1-2 1 3 1-2 1 1 1 0 1 0 1-1 1 3 1-1 1-2 1 3 1-3 1 2 1 0 1 0 1-1 1 0 1 2 1-2 1 1 1 1 1-1 1 0 1-1 1 2 1 1 1-1 1 0 1 3 1-1 1 0 1 0 1 0 1 0 1 0 1 1 1-1 1 1 1-3 1 1 1 3 1 0 1-3 1 0 1 3 1-1 1 0 1 2 1-1 1 0 1 1 1-3 1 1 1 5 1-3 1 1 1-3 1 4 1-4 1 2 1 0 1-1 1 2 1-5 1 5 1-1 1-2 1-1 1-1 1-1 1-2 1 0 1-4 1 0 1-3 1 5 1-2 1-3 1 6 1 4 1-1 1 3 1 1 1 4 1 1 1-1 1-3 1 3 1-2 1 1 1 3 1-1 1 0 1 1 1 0 1-1 1 3 1-3 1 2 1-1 1 0 1 0 1 2 1 0 1-1 1 1 1-3 1 3 1-2 1-2 1 2 1 3 1-1 1 0 1-1 1 0 1 0 1 1 1 1 1 0 1 0 1 0 1 0 1 1 1-2 1 2 1 1 1-3 1 1 1 1 1-1 1 1 1 0 1 3 1-2 1 2 1-2 1 0 1 0 1 0 1 4 1-2 1-1 1-2 1 2 1 1 1 0 1-1 1 2 1-1 1-1 1 1 1 1 1 0 1-1 1 0 1 1 1 1 1-1 1 2 1-2 1 0 1 0 1 1 1-1 1 3 1-2 1 2 1 0 1-3 1 2 1 1"/><path stroke="#230c0c" d="M0 1363l1 1 1-2 1 2 1 0 1-1 1-2 1 4 1-3 1 4 1-1 1-2 1 0 1 2 1 1 1-1 1 0 1 0 1 2 1-1 1-2 1 3 1 0 1-1 1 0 1 2 1-1 1-1 1 2 1-2 1 1 1-2 1 2 1 3 1-5 1 1 1 3 1-2 1 2 1 1 1-2 1 0 1 2 1-1 1 1 1-1 1 0 1-1 1 0 1 0 1 0 1 4 1-1 1-1 1 0 1 0 1 2 1-2 1-2 1 2 1-1 1 1 1 0 1-1 1 0 1 2 1 1 1 0 1-2 1-1 1 1 1-1 1-1 1-3 1-3 1 0 1-1 1-2 1-1 1 1 1 4 1 2 1 0 1 2 1 4 1-2 1 2 1 2 1 1 1-2 1 3 1-2 1 3 1-1 1 0 1 2 1-1 1-1 1 2 1-1 1 1 1 1 1-3 1 2 1 1 1 2 1-5 1 3 1 2 1-2 1 0 1-1 1-1 1 4 1-3 1-1 1 3 1 1 1 0 1 0 1-2 1 1 1 0 1-1 1 2 1-2 1 1 1 3 1-2 1 0 1 1 1-2 1 2 1 1 1-1 1-1 1 2 1-1 1 1 1-2 1 0 1 4 1-2 1 0 1-1 1 1 1 2 1-1 1 0 1-3 1 4 1 0 1 1 1-2 1 1 1-1 1-1 1-1 1 4 1-1 1 0 1-2 1 5 1-3 1-1 1 0 1 1 1 2 1 0 1 0 1-1 1 2 1-1 1 1 1-2"/><path stroke="#200c0c" d="M0 1377l1 0 1 0 1 0 1 2 1-1 1-1 1 1 1 0 1-1 1 2 1 1 1-1 1 2 1-3 1 3 1-1 1-1 1 3 1-3 1 2 1 0 1-1 1 0 1 2 1 1 1-2 1 2 1-1 1-2 1 3 1-1 1 0 1 1 1 0 1-1 1 0 1 2 1 0 1 1 1-2 1 1 1-1 1 3 1-2 1 1 1 1 1-1 1-2 1 1 1 2 1-1 1-1 1 1 1 2 1-3 1 1 1 2 1 0 1-2 1 1 1 1 1 0 1-1 1 0 1 0 1 1 1-1 1 2 1-2 1-1 1-1 1-3 1 0 1-4 1 1 1-2 1-2 1 2 1-1 1 3 1 0 1 3 1 4 1-1 1 0 1 3 1 2 1 0 1-1 1 1 1 1 1-2 1 2 1 0 1 0 1 0 1 3 1-4 1 2 1 2 1-1 1-2 1 2 1-3 1 3 1 1 1-2 1 2 1 0 1 0 1 3 1-2 1-1 1-2 1 1 1 1 1 1 1 1 1-2 1 1 1 1 1-2 1 1 1 2 1-2 1 1 1 0 1 1 1 0 1-1 1 0 1 0 1 2 1-2 1 3 1-5 1 4 1 2 1-2 1 1 1-1 1 3 1-2 1 1 1-2 1 1 1-1 1 1 1-1 1 1 1-1 1 2 1 0 1 1 1-2 1 2 1 2 1-2 1 0 1 1 1 0 1 1 1-3 1 1 1 1 1 1 1 0 1-2 1 2 1 0 1-1 1 0 1-2 1 1"/><path stroke="#1d0c0c" d="M0 1392l1 3 1-1 1 1 1-1 1 0 1 2 1-2 1 1 1 0 1-1 1 0 1 2 1-1 1 2 1-2 1 1 1 0 1 0 1 0 1 0 1-1 1 0 1 2 1 0 1 1 1-1 1 1 1 0 1-1 1 2 1-2 1-2 1-1 1 4 1 1 1-1 1-5 1 7 1 0 1-2 1 1 1 2 1-3 1 0 1 2 1 0 1 0 1 0 1 0 1 1 1 0 1-2 1-1 1 2 1 0 1-2 1 5 1-3 1 2 1-2 1 2 1 0 1 0 1 0 1-1 1 1 1 3 1-2 1-4 1 0 1-3 1 2 1-3 1-3 1-2 1-1 1 0 1 1 1 1 1 2 1 0 1 4 1 2 1 2 1-1 1 4 1 1 1 0 1-1 1 0 1 1 1 1 1 0 1 0 1-2 1 2 1 0 1 0 1 1 1 1 1-3 1 3 1-2 1 0 1 1 1 3 1-2 1 0 1 1 1-1 1 1 1-2 1 0 1 0 1 3 1-3 1 4 1-3 1 1 1 1 1-2 1-1 1 2 1 3 1 0 1-3 1 1 1 0 1 2 1-1 1-1 1 4 1-2 1-2 1 3 1 0 1 0 1-2 1 1 1-1 1 1 1 0 1 1 1-1 1 2 1-2 1 2 1-1 1 1 1 0 1-1 1 2 1-2 1 2 1-1 1 0 1-2 1 2 1 0 1 0 1 3 1-3 1 2 1 3 1-5 1 2 1 1 1-1 1 0 1 1 1 2 1-3 1 1 1 0"/><path stroke="#190c0c" d="M0 1411l1-1 1 1 1-1 1 0 1-1 1 0 1 0 1 1 1 1 1-1 1-2 1 3 1 3 1-4 1-1 1 3 1-2 1 1 1 0 1 0 1-1 1 2 1-2 1 2 1 0 1-1 1 2 1-2 1 2 1-1 1-1 1 1 1 1 1 1 1 0 1-2 1 1 1-3 1 5 1-1 1 0 1 0 1-2 1 3 1 0 1 0 1 1 1-1 1 0 1 2 1-2 1 0 1-2 1 2 1 0 1 0 1 2 1-3 1 2 1 1 1 1 1-1 1 0 1 1 1 1 1-2 1-2 1 1 1-2 1 1 1-2 1-3 1 1 1-5 1 1 1-2 1 0 1-1 1 1 1 4 1 1 1 4 1 1 1 2 1 3 1-3 1 3 1-1 1 2 1-1 1 0 1 0 1 1 1-1 1 2 1-4 1 4 1 0 1 0 1 0 1 1 1 0 1 0 1-1 1 1 1 0 1-1 1 2 1-2 1 1 1-1 1-1 1 4 1 0 1-1 1-1 1 1 1 1 1-3 1 4 1-1 1 2 1-3 1 4 1-2 1 0 1 1 1 2 1-2 1 1 1-2 1 1 1 1 1-3 1 2 1 0 1 1 1 1 1-1 1 0 1 0 1 0 1-2 1 2 1-1 1 0 1 3 1-2 1 0 1-1 1 3 1 1 1-1 1-1 1 1 1 0 1 0 1 0 1-2 1 2 1 0 1 0 1 1 1-2 1 2 1 1 1-3 1 1 1 3 1-3 1 3 1 0 1 1 1-2"/><path stroke="#150c0c" d="M0 1423l1 0 1 0 1-1 1 1 1 1 1 0 1 2 1 0 1-1 1-2 1 3 1-1 1-2 1 2 1 0 1 1 1 0 1 2 1-3 1 2 1-2 1 1 1-1 1 2 1 1 1-1 1 2 1-2 1 2 1-2 1 1 1 2 1-3 1 2 1-2 1 1 1 2 1 2 1-2 1-1 1 0 1 0 1 1 1 0 1 1 1-2 1 0 1 3 1-1 1-1 1 0 1 1 1 0 1-1 1 1 1 1 1-2 1 1 1 1 1-2 1 2 1 1 1-2 1 2 1 2 1-2 1-3 1 4 1-3 1-1 1-2 1-3 1-1 1-2 1 1 1-1 1-2 1 2 1 1 1 3 1 2 1-1 1 5 1-1 1 2 1-1 1 2 1 2 1 0 1 1 1 0 1-1 1 0 1 2 1 0 1 0 1 0 1-1 1-1 1 2 1-1 1 0 1 0 1 1 1 0 1 1 1 0 1 1 1-1 1 0 1 0 1 0 1 1 1-1 1 1 1-2 1 3 1-1 1 1 1-3 1 1 1 1 1-2 1 4 1 0 1-1 1 1 1-3 1 1 1 3 1-1 1 0 1 0 1 0 1 0 1 0 1-1 1 2 1-1 1 2 1-3 1 2 1 0 1 0 1 0 1 2 1 1 1-5 1 4 1-3 1 1 1 0 1 0 1 3 1 1 1-4 1 3 1 0 1-1 1 0 1 0 1 0 1 0 1 1 1 0 1 1 1-2 1 2 1-2 1 1 1 0 1-1 1 2 1-1"/><path stroke="#110c0c" d="M0 1440l1-1 1 1 1-2 1 1 1 1 1-1 1 0 1 1 1 2 1-1 1 0 1 2 1-1 1-2 1 1 1-1 1 1 1 2 1-1 1-2 1 1 1-1 1 5 1-3 1-1 1 3 1-1 1-1 1 0 1 0 1 1 1 0 1 1 1-1 1 0 1 1 1 2 1 1 1-1 1-3 1 1 1 1 1-1 1-1 1 0 1 2 1 0 1 0 1-1 1 2 1-1 1 0 1 0 1 0 1 2 1 0 1-1 1 0 1 3 1-1 1 1 1-1 1 0 1 0 1 1 1 1 1-3 1-1 1 0 1-1 1-3 1-2 1-2 1 1 1-3 1-1 1 0 1 0 1 4 1 1 1 3 1 3 1 0 1 2 1 0 1 3 1 0 1 1 1 1 1-3 1 3 1-3 1 0 1 0 1 4 1-2 1 1 1-1 1 3 1-4 1 2 1-1 1 1 1 2 1-1 1 0 1 1 1-2 1-1 1 1 1 1 1 2 1-2 1 0 1 1 1-1 1 2 1 0 1-2 1 3 1-3 1 2 1-1 1 2 1 0 1-1 1 1 1-2 1 0 1 2 1 0 1-1 1 2 1 1 1-4 1 3 1 2 1-2 1 0 1 0 1 1 1-4 1 4 1-1 1 2 1-2 1 1 1 1 1 1 1-2 1 1 1-1 1 1 1 1 1 2 1-4 1 2 1-1 1 1 1-1 1 2 1-2 1 3 1-1 1-1 1 1 1 0 1 0 1 1 1-1 1 0 1-1 1 1 1 0"/><path stroke="#0c0c0c" d="M0 1455l1-2 1 1 1 1 1 2 1-4 1 2 1 1 1-3 1 3 1-3 1 3 1-1 1 1 1 1 1 1 1-3 1 4 1 0 1-4 1 2 1 1 1 1 1-1 1-1 1 0 1 2 1-2 1 1 1 0 1-1 1 4 1-2 1 2 1-1 1 0 1-2 1 1 1 1 1-1 1-1 1 5 1 0 1-2 1 0 1-1 1-1 1 2 1 0 1 1 1 0 1 2 1-3 1 1 1-1 1 1 1-1 1 3 1-1 1-2 1 2 1 1 1 0 1-2 1 2 1-1 1-1 1 0 1-2 1 0 1-3 1 1 1-1 1-4 1-1 1 1 1-4 1 2 1 2 1 1 1 1 1 0 1 4 1 4 1-1 1 2 1 1 1 2 1-2 1 2 1 0 1-2 1 2 1 1 1 0 1-2 1 1 1-1 1 0 1-1 1 3 1 0 1 0 1 3 1-2 1 1 1-3 1 2 1-1 1 1 1-1 1 1 1 0 1 1 1-2 1 2 1 1 1-1 1 2 1-1 1 0 1 0 1 1 1 0 1-1 1 1 1-1 1 2 1-3 1 4 1-3 1 1 1 0 1 1 1-3 1 2 1 2 1 0 1-2 1 3 1 1 1-3 1 0 1-1 1 1 1 1 1 3 1-4 1 4 1-2 1-1 1 0 1 2 1-1 1 0 1 0 1 1 1 0 1 0 1-1 1 2 1 0 1 0 1-3 1 3 1-1 1 0 1 1 1-1 1-1 1 1 1 3 1-1 1-1 1 1"/></g>
<g class="wf" fill="none" stroke-width="1.3" transform="translate(1140 0) scale(1.5 0.5)" stroke-opacity="0.9"><path stroke="#f51212" d="M0 86l1 2 1 0 1 0 1-1 1 0 1-1 1 0 1 1 1 0 1 0 1 0 1 0 1 0 1 2 1-1 1-1 1 1 1 0 1 0 1 0 1-1 1 1 1 1 1 0 1-1 1-1 1 0 1 0 1 1 1-1 1-1 1-1 1 0 1 0 1 1 1 1 1-1 1-3 1-1 1 0 1-1 1-1 1-2 1-1 1-1 1-1 1-1 1-2 1-1 1-2 1 0 1-1 1 0 1 0 1-1 1-1 1 1 1 2 1 0 1 0 1 0 1 2 1 2 1 2 1 1 1 1 1 2 1 2 1 2 1 0 1 0 1 1 1 1 1 1 1 0 1 0 1 0 1 0 1 0 1 0 1 0 1 0 1 0 1 1 1 1 1 0 1 0 1-1 1 0 1 0 1 1 1 0 1 1 1-1 1-1 1-1 1 2 1 1 1 0 1-1 1 1 1 0 1 0 1 0 1 0 1 0 1 0 1 1 1-1 1-2 1 1 1 2 1 0 1-1 1 0 1-1 1 1 1 0 1 1 1-1 1-1 1-1 1-1 1-1 1 0 1 1 1 2 1 1 1 0 1 0 1 0 1 0 1-1 1-1 1 0 1 1 1 0 1-1 1 0 1 2 1 1 1 0 1-1 1 0 1-1 1 0 1 0 1 0 1 1 1 1 1-1 1 0 1 0 1 1 1-1 1 0 1 1 1 0 1-1 1-1 1 0 1 1 1 0 1-1 1-1 1 0 1 1 1 1 1 1 1 0 1 0 1-1 1-1 1 0 1 1 1-1 1-1 1 1 1 1 1 1 1 0 1 0 1 0 1 0 1 0 1 0 1 1 1 1 1 0 1-1 1 0 1 0 1-1"/><path stroke="#f31212" d="M0 103l1 0 1 1 1 0 1 0 1-3 1 0 1 2 1 0 1-1 1-1 1 0 1 1 1 1 1 0 1-1 1-2 1 0 1 2 1 0 1 0 1 0 1 0 1 0 1 0 1 0 1 0 1-1 1-1 1 0 1 0 1-1 1-1 1-1 1 0 1 1 1 1 1-1 1-2 1-1 1-2 1-2 1-1 1 0 1-1 1 0 1-2 1-1 1-1 1-1 1 0 1 1 1 0 1 0 1 1 1 0 1 0 1 0 1 0 1 2 1 2 1 1 1 0 1 1 1 0 1 1 1 1 1 1 1 1 1 1 1 0 1 1 1 1 1 1 1 1 1 0 1 1 1 1 1 0 1-1 1 1 1 1 1-1 1 0 1 0 1 0 1 0 1 0 1 1 1 0 1 0 1 0 1 0 1-1 1 1 1 0 1 0 1-1 1 1 1 0 1 0 1-2 1 0 1 1 1 1 1 1 1 1 1 0 1-1 1-1 1-1 1 0 1 0 1 0 1 0 1 0 1 1 1 0 1-1 1 1 1 0 1-1 1-1 1 0 1 2 1 0 1 0 1-2 1 0 1 1 1 1 1 0 1 0 1 0 1 0 1-1 1 0 1 1 1 0 1 1 1 1 1 0 1 0 1-1 1-1 1-1 1-1 1 0 1 1 1 1 1 0 1 1 1 0 1 0 1 0 1-1 1 0 1 0 1 0 1-2 1 1 1 1 1 1 1 0 1 0 1 0 1 0 1-1 1 0 1 1 1 0 1 0 1 0 1 0 1 0 1 0 1 0 1-1 1 0 1 0 1 0 1 1 1-1 1 0 1 1 1 1 1-1 1-2 1 1 1 0 1 0 1 1 1 1 1 0"/><path stroke="#f11212" d="M0 117l1 0 1-1 1 0 1 0 1-1 1 0 1 1 1 1 1 1 1 1 1 0 1 0 1-1 1-1 1-1 1 0 1 0 1 0 1 0 1 0 1-1 1 0 1 0 1-1 1-1 1 1 1 1 1-1 1-1 1-1 1-1 1-2 1-2 1-1 1-1 1 0 1 0 1-1 1 0 1 1 1-1 1-1 1-1 1 0 1 1 1 1 1-1 1 0 1 0 1 0 1 1 1 2 1 0 1 0 1 2 1 1 1 0 1 0 1 1 1 2 1 0 1 1 1 0 1-1 1 1 1 2 1 1 1 0 1 0 1-1 1 1 1 0 1 1 1-1 1 0 1 1 1 1 1 0 1-1 1 0 1 1 1 0 1 1 1 0 1 0 1-1 1 0 1 0 1 0 1 0 1 0 1-1 1 0 1 0 1 1 1 1 1 1 1 0 1 1 1 1 1 0 1-1 1 0 1 0 1 0 1-1 1 1 1 0 1-1 1-1 1 0 1 0 1-1 1 0 1 2 1 0 1 0 1-1 1-1 1-1 1 0 1 1 1 1 1 1 1 0 1-1 1-1 1 0 1 1 1 1 1 1 1-2 1-1 1 0 1 0 1 0 1 0 1 0 1 0 1 1 1 1 1 0 1 0 1 0 1 0 1 0 1 1 1-1 1-1 1 0 1 0 1 0 1 1 1 0 1-1 1 1 1 1 1-1 1 0 1-1 1 1 1 0 1 0 1 0 1 1 1-1 1 0 1 1 1 0 1-1 1 0 1 1 1 0 1 1 1-1 1 0 1 0 1 0 1 0 1 0 1 0 1 0 1 0 1 1 1-1 1-1 1 0 1 0 1 0 1 0 1 0 1-1 1 0"/><path stroke="#ef1212" d="M0 135l1-1 1 0 1-3 1 0 1 1 1 1 1 1 1-1 1 0 1 1 1 0 1 0 1-2 1-1 1 0 1 1 1 0 1 0 1 0 1 0 1 0 1 0 1 0 1-1 1 0 1 0 1 2 1 0 1-1 1-1 1 0 1 1 1 0 1-1 1 0 1 0 1-1 1-1 1 1 1 0 1-1 1 0 1-1 1-1 1 0 1-2 1-1 1 0 1 0 1 0 1 0 1 0 1-1 1-1 1-1 1 0 1 1 1 0 1 0 1 0 1 0 1-1 1-2 1 1 1 1 1 1 1 1 1-1 1 0 1 0 1 0 1 0 1 1 1 0 1 1 1 1 1-1 1 0 1 0 1 1 1 0 1 0 1 0 1 1 1 1 1 1 1 1 1 0 1-1 1 0 1 1 1 3 1 0 1-2 1 1 1 0 1 0 1 1 1 1 1 0 1 1 1 0 1 0 1 0 1 1 1-1 1-1 1 1 1 0 1 0 1 1 1 0 1-1 1-1 1 0 1-1 1 0 1 1 1 2 1-1 1-1 1 0 1 1 1 0 1 0 1 0 1 0 1 0 1-1 1 0 1 0 1 1 1 0 1 0 1 1 1-1 1-1 1 1 1 2 1 1 1-1 1-2 1 0 1 1 1 1 1-1 1 0 1 1 1 0 1-2 1-1 1 0 1 0 1 0 1 1 1 2 1 0 1-1 1 0 1-1 1 1 1 0 1 1 1 0 1-1 1 0 1 0 1-1 1 0 1 0 1 1 1 0 1 0 1 0 1 1 1 0 1 0 1-1 1 0 1 1 1 0 1 0 1-1 1 0 1-1 1 0 1 0 1 0 1 0 1 0 1 0 1 1 1 0"/><path stroke="#ec1212" d="M0 148l1 0 1 1 1 0 1-1 1 0 1 0 1 1 1 0 1 1 1-1 1 0 1-1 1 0 1-1 1 1 1 1 1 1 1-1 1-1 1 0 1 0 1 0 1 0 1 0 1 0 1-1 1 0 1 0 1 1 1 0 1 0 1 0 1 0 1-1 1 0 1 0 1-1 1-1 1-1 1 1 1 1 1-1 1-1 1 1 1-1 1 0 1-1 1-1 1-1 1 0 1 1 1 0 1-1 1-2 1-1 1 1 1-1 1-1 1 2 1 1 1-2 1-2 1 0 1-1 1 0 1 0 1 0 1 1 1 0 1 1 1 0 1 0 1 0 1-1 1 1 1 2 1 1 1-1 1 0 1 0 1 0 1-1 1 0 1 1 1 0 1 0 1 0 1 2 1 2 1 1 1 0 1-1 1 0 1 0 1 1 1 2 1 0 1-1 1-1 1 0 1 0 1 0 1 2 1 1 1 2 1 0 1-1 1 0 1-1 1 2 1 2 1 0 1 0 1-1 1 0 1 0 1-2 1 1 1 1 1 0 1 0 1-1 1 0 1 0 1 1 1-1 1-2 1 0 1 1 1 2 1-1 1 0 1 1 1 1 1 0 1 1 1 1 1-2 1-1 1 0 1 0 1-1 1 0 1 1 1 0 1 0 1 1 1-1 1-1 1 1 1 1 1 1 1 0 1 0 1-1 1-1 1 1 1 0 1-1 1 0 1 1 1 1 1 1 1 0 1-1 1 0 1 0 1-1 1-1 1 0 1 0 1 0 1 0 1 0 1 0 1-1 1 1 1 1 1 0 1 0 1-1 1 0 1 1 1 1 1 0 1 0 1-2 1 0 1 1 1 0 1-1 1 0 1 2"/><path stroke="#ea1212" d="M0 162l1 1 1 1 1 1 1-2 1 0 1 0 1 0 1 0 1 1 1-1 1 0 1 0 1 1 1 0 1 0 1-1 1 0 1 0 1 0 1 1 1 1 1-1 1-2 1 0 1 1 1 2 1-1 1-1 1 0 1 0 1 0 1-1 1 0 1 1 1 0 1 0 1 0 1-1 1-1 1-1 1 1 1 0 1 0 1-1 1-1 1-1 1-1 1 1 1 2 1 0 1 0 1-1 1-2 1 1 1 0 1 0 1-1 1-1 1-1 1-1 1-1 1 1 1 0 1-1 1 1 1 0 1-1 1-1 1 0 1 0 1 1 1-1 1 0 1-1 1-1 1 1 1 0 1 0 1 1 1 0 1 1 1 0 1-1 1 0 1 0 1 1 1 1 1 1 1 1 1-1 1 0 1 1 1 1 1 1 1 0 1-1 1 1 1 0 1 1 1 1 1 1 1 0 1-1 1-1 1 1 1 0 1 0 1 0 1 1 1 0 1 2 1-1 1-1 1 1 1 2 1 1 1 0 1 1 1 0 1-2 1-1 1-1 1 0 1 2 1 0 1 1 1 0 1 0 1 0 1 1 1 0 1 0 1 0 1 0 1 1 1-1 1-1 1 0 1 0 1 1 1 0 1 0 1 0 1 0 1-1 1-1 1 0 1 0 1 1 1 0 1 0 1 1 1 0 1 0 1 0 1 0 1 0 1 0 1 0 1 0 1 0 1 0 1 1 1 1 1-1 1-1 1 0 1 0 1 0 1 0 1 0 1-1 1 1 1 0 1 0 1 0 1 1 1-1 1 0 1-1 1 0 1-1 1 0 1 0 1 1 1 2 1 0 1 0 1-1 1 0 1-1 1-1 1 0"/><path stroke="#e81212" d="M0 180l1-1 1 0 1 0 1-1 1-1 1 0 1 0 1 1 1 1 1 2 1 0 1-1 1-1 1 0 1 1 1 0 1-2 1 1 1 2 1 0 1-1 1-1 1 0 1 1 1 0 1 0 1-2 1 1 1 0 1 1 1-1 1-2 1 1 1 2 1-1 1-2 1 0 1 1 1 0 1 0 1-1 1 0 1 0 1-1 1-1 1 1 1 0 1-1 1 0 1 0 1-1 1 1 1 0 1-2 1-1 1 1 1 0 1-1 1-1 1 1 1 0 1 1 1-1 1-1 1-2 1-2 1-1 1 1 1 0 1 0 1-1 1 1 1 1 1 0 1 0 1 0 1-1 1-1 1 0 1 0 1 0 1 0 1 0 1 0 1 1 1-1 1 1 1 1 1-1 1 0 1 0 1 1 1 2 1 0 1 0 1 1 1 0 1 1 1 1 1 0 1 0 1 0 1-1 1 0 1 3 1 0 1 0 1 0 1-1 1 1 1 1 1 1 1 0 1 0 1 1 1 0 1 0 1 0 1 0 1 0 1 1 1 0 1 1 1-1 1-1 1 0 1 0 1 0 1 1 1 1 1-1 1-1 1 1 1 1 1 0 1-1 1 0 1-2 1 0 1 0 1 1 1 3 1 1 1 0 1-1 1-1 1 1 1 0 1 0 1-1 1 1 1-1 1 0 1 0 1-1 1 0 1 1 1 1 1 0 1 1 1 0 1-1 1-2 1 1 1 2 1 1 1-1 1-1 1-1 1 0 1 1 1 0 1 0 1 0 1 1 1 1 1-1 1-1 1-1 1 0 1 1 1 0 1 0 1 1 1 1 1 0 1-1 1 0 1 0 1 0 1-1 1 0 1 0"/><path stroke="#e61212" d="M0 196l1-1 1-1 1 0 1 1 1 0 1 0 1 0 1 0 1-1 1-1 1-1 1 1 1 0 1 1 1 1 1 1 1 0 1-1 1-1 1 1 1 1 1 0 1-1 1-1 1 0 1 0 1 0 1 1 1 1 1-2 1 0 1 1 1 1 1-1 1-2 1 0 1 2 1 0 1-1 1-1 1 0 1 0 1 0 1 0 1-1 1 0 1 1 1 0 1 0 1 0 1 0 1 0 1-1 1-1 1-1 1-1 1-1 1 0 1-1 1 0 1 1 1 0 1-1 1-1 1 1 1 1 1-1 1-2 1 0 1 0 1-2 1 0 1-1 1 0 1 1 1 1 1-1 1 0 1-1 1-1 1 0 1 1 1 0 1-1 1 0 1 1 1 1 1-1 1-1 1 0 1 0 1 1 1 0 1 0 1 0 1 0 1 0 1 0 1 2 1 2 1 0 1-1 1 0 1 2 1 1 1 1 1 0 1-1 1 0 1 0 1 1 1 0 1 1 1 2 1-1 1 0 1 0 1 0 1-1 1 0 1 1 1 1 1 1 1-1 1 0 1 1 1 1 1 0 1 1 1 0 1-1 1-1 1 0 1 1 1 2 1 1 1-1 1-1 1 0 1-1 1 0 1 1 1 1 1 0 1-1 1 0 1 0 1-1 1 0 1 1 1 0 1-1 1 1 1 2 1 1 1-1 1 0 1-1 1 1 1 0 1-1 1-1 1 0 1 2 1 1 1-1 1-1 1 0 1 0 1 0 1 1 1 1 1-1 1-2 1 0 1 1 1 2 1 0 1-1 1 0 1 0 1 0 1 1 1 0 1-2 1 0 1 2 1 1 1-1 1-2 1 0 1 1 1-1"/><path stroke="#e41111" d="M0 210l1 0 1 0 1-1 1-1 1 2 1 2 1 1 1-1 1-2 1-1 1 1 1-1 1 0 1 1 1 0 1 1 1-1 1-1 1 0 1 0 1 1 1 1 1-1 1-1 1 0 1 0 1 1 1 0 1-1 1-1 1 0 1 1 1 1 1-1 1 0 1 0 1 1 1 1 1-1 1-1 1 0 1 0 1-1 1 0 1 0 1 0 1 1 1 1 1 0 1-1 1-1 1 0 1 0 1-2 1 0 1 2 1 0 1 0 1 0 1 0 1-1 1-3 1 1 1 0 1 0 1-2 1 0 1 1 1 0 1-3 1-1 1 1 1 0 1-1 1-1 1 1 1-1 1-1 1-1 1 1 1 0 1 0 1 0 1-1 1-1 1 0 1 1 1-1 1 0 1 1 1-1 1-1 1-1 1 1 1 1 1 0 1 0 1 2 1 2 1-1 1-1 1-1 1-1 1 1 1 2 1 0 1 0 1 1 1 2 1-1 1 1 1 1 1 0 1 1 1 1 1 0 1 0 1 0 1 1 1 1 1 0 1-1 1 1 1 1 1 0 1 0 1 1 1-1 1-1 1 0 1 1 1 1 1 0 1 1 1 0 1 0 1-1 1 1 1 1 1-1 1 0 1 1 1 0 1 0 1 0 1 1 1 0 1-1 1 0 1-1 1 0 1 0 1 1 1 0 1 1 1 0 1-2 1-1 1 1 1 1 1 1 1 0 1-1 1-1 1 0 1 1 1-1 1 1 1 0 1 0 1 0 1 0 1 2 1 0 1-1 1-1 1 0 1 1 1 0 1 1 1 0 1-2 1-1 1 1 1 0 1 0 1 1 1 0 1-1 1 1 1 0 1-1 1-1"/><path stroke="#e11111" d="M0 227l1-1 1-2 1 0 1 2 1 0 1-1 1 0 1 1 1 1 1 0 1 0 1-2 1 0 1 1 1 1 1-1 1-2 1 0 1 1 1 2 1 0 1-2 1 0 1 0 1 1 1-1 1 0 1 0 1 1 1 0 1 0 1-1 1 0 1-1 1-1 1 1 1 2 1 0 1-1 1 0 1 0 1 0 1-1 1 0 1 0 1 0 1 2 1 0 1 0 1 0 1 0 1-1 1 0 1-1 1 0 1 0 1 0 1 1 1 0 1-1 1-1 1 0 1 0 1-1 1-1 1-1 1 0 1 0 1 1 1-1 1-1 1 0 1 0 1-2 1-1 1 0 1 0 1 0 1 0 1-1 1 0 1-2 1-2 1 0 1 0 1 1 1 1 1-2 1-2 1 1 1 1 1 0 1-1 1-1 1 0 1 0 1 1 1 1 1 0 1 0 1 1 1 1 1 0 1-1 1 0 1 1 1 1 1-1 1 0 1 0 1 1 1 1 1 1 1 1 1 2 1 0 1 0 1 0 1 0 1 1 1 1 1 1 1 0 1-1 1 0 1 1 1 0 1 1 1 0 1 0 1 0 1-1 1 0 1 1 1 1 1 1 1 1 1 0 1 1 1-1 1-1 1 0 1 0 1 1 1 1 1 0 1-1 1 0 1 0 1 0 1 2 1 0 1 1 1-1 1-1 1 0 1 0 1 1 1 0 1 0 1-1 1 1 1 0 1-1 1-1 1 1 1 0 1 0 1 1 1 0 1 0 1-1 1 0 1 1 1 0 1 0 1 0 1 0 1-1 1-1 1 0 1 1 1 1 1-1 1 0 1 1 1 0 1-1 1 0 1 1 1 2 1 0 1-1"/><path stroke="#df1111" d="M0 241l1-1 1-1 1-1 1 1 1 2 1 0 1 0 1 0 1 0 1-1 1 0 1 1 1 1 1 0 1 1 1 0 1-1 1-1 1-1 1 1 1 0 1 1 1 0 1-1 1-1 1 0 1 0 1-1 1-1 1 1 1 2 1 0 1-1 1 0 1 1 1 1 1-2 1 0 1 0 1 1 1 0 1 0 1 0 1-1 1 0 1 0 1 1 1 0 1 1 1-1 1 0 1 0 1-2 1-1 1 1 1 1 1 0 1-1 1 0 1 1 1 0 1 0 1 0 1-1 1-1 1-1 1 0 1 0 1 0 1-1 1 0 1 0 1 0 1-1 1 0 1 0 1 0 1-1 1-1 1-1 1 0 1-1 1 0 1 0 1-1 1-1 1-1 1-1 1 0 1 0 1 0 1-2 1 0 1 0 1 0 1-1 1 0 1 0 1 1 1 0 1 0 1 0 1 0 1 0 1 1 1 0 1 1 1 0 1-1 1 1 1 0 1 2 1 1 1 0 1 0 1-1 1 1 1 1 1 0 1 0 1 2 1 1 1 0 1 0 1 1 1 1 1 1 1 2 1 1 1 0 1-1 1 0 1 1 1 0 1 0 1 0 1 0 1 0 1 0 1 0 1 0 1 0 1 0 1 0 1 2 1 0 1 0 1 0 1-1 1 0 1-1 1 1 1 1 1 2 1 0 1-1 1 1 1-1 1 1 1 0 1-1 1-1 1 0 1 0 1 1 1 1 1 0 1-1 1 0 1 1 1-1 1 0 1 1 1 0 1-1 1-1 1 0 1 0 1-1 1 0 1 2 1 1 1 0 1 0 1 0 1-1 1-1 1 0 1 1 1 1 1 0 1-1 1 0"/><path stroke="#dd1111" d="M0 255l1 1 1 1 1 0 1-2 1-1 1 2 1 1 1 1 1-1 1-1 1 0 1 1 1 0 1-1 1 1 1 0 1 1 1-1 1 0 1 1 1 0 1 0 1 0 1-1 1 0 1 0 1 0 1-1 1 0 1 1 1 0 1 0 1 0 1 0 1-1 1 0 1 1 1 0 1 0 1 0 1-1 1 0 1 2 1 0 1 0 1-1 1 0 1-1 1-1 1 0 1 1 1 1 1 0 1 1 1 0 1-1 1-1 1 0 1-2 1 0 1 0 1 1 1 0 1-1 1 0 1 0 1 1 1 0 1 0 1-1 1 0 1 1 1 0 1-1 1-1 1-2 1 0 1-1 1 0 1-1 1-1 1 0 1 0 1-1 1-1 1-1 1-1 1 1 1 0 1 1 1-1 1-3 1-2 1 1 1 1 1 0 1 0 1-2 1-1 1 0 1 1 1 0 1-1 1 0 1 0 1 0 1 1 1 0 1 1 1 0 1-1 1-1 1 1 1 1 1 1 1 0 1 1 1 0 1 2 1 1 1 1 1 1 1 0 1 0 1 2 1 1 1 0 1 0 1 0 1 0 1 1 1 1 1 0 1-1 1 1 1 0 1 1 1 1 1 0 1-1 1-1 1 2 1 0 1 0 1-1 1 1 1 0 1 0 1 1 1 1 1-1 1 0 1 0 1 1 1-1 1 0 1 0 1 0 1 1 1 0 1 0 1 0 1 1 1 1 1 1 1-1 1-1 1 0 1-1 1 0 1 2 1-1 1 0 1 0 1 0 1 0 1-1 1 0 1 1 1-1 1-1 1 1 1 1 1-1 1-1 1 0 1 1 1 1 1-1 1 0 1 0 1 0 1 1"/><path stroke="#db1111" d="M0 270l1 1 1 1 1 0 1-2 1 1 1 2 1-1 1-1 1 1 1 0 1 1 1 0 1-1 1 0 1 0 1 1 1 0 1 0 1-1 1-1 1 0 1 1 1-1 1 0 1-1 1 0 1 0 1 1 1 1 1 0 1-1 1-1 1 1 1 2 1 0 1-2 1 0 1 0 1 0 1-1 1 0 1 1 1 1 1-1 1 0 1 0 1-1 1 1 1 0 1 0 1 1 1 1 1 0 1 0 1-1 1 0 1-2 1-1 1 0 1 0 1 2 1 2 1 0 1 1 1-1 1 1 1 0 1-1 1-1 1-2 1-1 1 2 1 0 1 0 1-1 1-1 1 0 1 0 1 0 1-1 1 1 1-1 1-3 1-1 1 0 1-1 1 1 1 0 1-1 1 0 1-2 1-1 1-1 1 0 1 0 1-1 1-2 1-1 1 0 1 0 1 0 1 0 1 1 1 0 1 0 1-2 1-1 1 0 1 0 1 0 1 1 1 1 1 0 1 0 1 0 1 0 1 1 1 2 1 1 1 0 1 0 1 1 1 0 1 1 1 0 1 0 1 1 1 1 1 2 1 1 1-1 1 1 1 0 1 0 1 0 1 1 1 1 1 1 1 0 1 0 1 0 1-1 1 1 1 0 1 0 1 0 1-1 1 1 1 0 1 2 1 0 1 1 1 0 1 0 1 0 1 0 1 0 1 0 1 0 1-1 1 0 1 1 1 2 1 0 1 0 1-1 1 0 1 0 1 1 1 0 1-1 1 0 1 0 1 0 1 0 1 0 1 1 1-1 1 0 1 0 1 0 1 0 1 0 1 0 1-1 1 0 1 0 1 0 1 0 1 0 1 1 1-1 1 0"/><path stroke="#d91111" d="M0 288l1-1 1-1 1-1 1 1 1 0 1 1 1 0 1 0 1-1 1 0 1 0 1 2 1 0 1-1 1 0 1-1 1 0 1 1 1 0 1 0 1 1 1 0 1 0 1-1 1 0 1-1 1-1 1 0 1 0 1 1 1 2 1 1 1 0 1-1 1-1 1-1 1 1 1 0 1 1 1 0 1-1 1 0 1-1 1 1 1 1 1 0 1 0 1 0 1 0 1 0 1-1 1 1 1 1 1 0 1-1 1-1 1 1 1-1 1-1 1-1 1 0 1 0 1 1 1 1 1 1 1 0 1-2 1-2 1 1 1 1 1 0 1-1 1 0 1 0 1 1 1 0 1-1 1 0 1-1 1 0 1 0 1 0 1 0 1 1 1-1 1-1 1 0 1 0 1-1 1-1 1-1 1 0 1-1 1-1 1 0 1-2 1-1 1-1 1-1 1 0 1 0 1-2 1-2 1 1 1 0 1 0 1 0 1-1 1-1 1-1 1 1 1 0 1-1 1 0 1 0 1 0 1 0 1 1 1 1 1 3 1 2 1 1 1 0 1-1 1 0 1 1 1 1 1 1 1 1 1 1 1 0 1 0 1 1 1 1 1 1 1 1 1 1 1 0 1 0 1 1 1 1 1 0 1-1 1 1 1 1 1 0 1 0 1 1 1 1 1 0 1-1 1 1 1 1 1-1 1-1 1-1 1 1 1 0 1 1 1 0 1 0 1-1 1-1 1-1 1 1 1 0 1 1 1 0 1 0 1 0 1 1 1 0 1-1 1 0 1 0 1 1 1-1 1 1 1 0 1-1 1 0 1 0 1-1 1 0 1 0 1 1 1 0 1-1 1 0 1 1 1 1 1 1 1 1"/><path stroke="#d61111" d="M0 298l1 2 1 3 1 0 1-1 1 1 1 0 1 0 1 1 1 0 1 0 1-1 1 0 1 0 1 0 1 0 1-1 1 1 1 0 1 0 1 0 1 2 1 0 1-2 1 0 1 0 1 0 1 1 1 0 1-1 1-1 1 0 1 0 1-1 1 0 1 1 1 0 1 0 1 0 1 0 1 0 1 0 1 0 1 1 1 0 1 0 1 0 1 0 1-1 1 0 1 0 1 0 1 0 1-1 1 0 1 1 1 0 1 1 1 0 1 0 1 0 1 1 1 0 1-1 1-1 1-1 1 1 1 1 1 0 1-1 1-1 1-1 1 0 1 0 1 0 1 0 1 1 1 1 1-1 1 1 1 0 1-1 1-1 1 0 1 0 1 1 1-1 1-2 1 0 1 0 1 1 1 0 1 0 1-1 1 0 1-1 1-2 1-2 1 0 1 0 1-1 1-2 1 0 1-1 1-1 1-3 1-1 1 0 1 1 1 0 1-1 1-2 1 0 1 1 1 0 1 0 1-1 1 0 1 1 1 1 1 0 1 1 1 2 1 1 1 1 1 0 1 2 1 1 1-1 1 0 1 2 1 2 1 1 1 1 1-1 1-1 1 1 1 0 1 1 1 2 1 2 1 1 1 0 1 0 1 0 1 1 1 0 1-1 1-1 1 2 1 1 1-1 1-1 1 1 1 0 1 0 1-1 1 0 1 1 1 1 1 0 1-1 1-1 1 1 1 0 1 0 1 1 1 0 1-1 1 0 1 0 1 1 1 1 1 0 1 0 1 1 1 0 1 0 1-2 1-2 1 0 1 0 1 1 1 1 1 0 1 0 1 0 1-1 1 0 1 0 1 1 1 0 1-1 1 1"/><path stroke="#d41111" d="M0 318l1 0 1 1 1 0 1-1 1 0 1-1 1 0 1 1 1-1 1 0 1 1 1 1 1 1 1-1 1 0 1-1 1 0 1 0 1 1 1-1 1 0 1 1 1 1 1-1 1-2 1 1 1 1 1 0 1-1 1 0 1-1 1-1 1 0 1 1 1 1 1 0 1-1 1 0 1-1 1 1 1 0 1 2 1 0 1-1 1-1 1 0 1 0 1 1 1 1 1-1 1 0 1 1 1 0 1-1 1 0 1 1 1-1 1 0 1 1 1 0 1-2 1 0 1 2 1 0 1 0 1 0 1-2 1 0 1 1 1 0 1 0 1-1 1 1 1-1 1 0 1 1 1 1 1-1 1 0 1 0 1 1 1 0 1 0 1-2 1-1 1 0 1 0 1 0 1 0 1 0 1 0 1-1 1 0 1-1 1 0 1 0 1 0 1-1 1 0 1-2 1-1 1 0 1 0 1-3 1-1 1-1 1-2 1-1 1 0 1-2 1-2 1-1 1 0 1 0 1-1 1-1 1 0 1 1 1 1 1 0 1 0 1 1 1 0 1 1 1 1 1 2 1 2 1 1 1 1 1 0 1 2 1 3 1 1 1 0 1 1 1 1 1 0 1 0 1 1 1 0 1 1 1 0 1 1 1 1 1-1 1 1 1 1 1-1 1 0 1-1 1 0 1 1 1 2 1-1 1-1 1-1 1-1 1 0 1 1 1 2 1 1 1 0 1 0 1-1 1-1 1-1 1 0 1 1 1 1 1 2 1 1 1-1 1-1 1 0 1 0 1-1 1 0 1 0 1 1 1 1 1 0 1-1 1 0 1-1 1 0 1 0 1 0 1 1 1 0 1 0 1 0 1 1 1-1"/><path stroke="#d21111" d="M0 333l1 0 1-1 1 0 1 1 1-1 1 0 1 0 1 1 1 1 1-1 1 0 1 0 1 0 1 1 1 1 1 0 1 0 1 0 1-2 1-2 1 1 1 1 1 0 1 0 1 1 1 1 1-1 1 0 1-1 1-1 1 0 1 0 1 0 1-1 1 0 1 2 1 1 1-1 1-1 1 0 1 0 1 2 1 1 1 0 1 0 1 0 1-1 1 0 1 0 1-2 1 0 1 2 1 1 1-1 1-1 1 0 1 1 1 0 1-1 1 0 1-1 1-1 1 1 1 0 1 0 1 1 1 0 1 1 1 0 1-3 1 0 1 1 1 2 1 1 1 0 1-1 1 0 1 0 1-1 1 0 1-1 1 0 1 2 1 0 1-1 1-1 1 0 1 1 1 2 1-1 1-1 1 1 1 0 1-2 1-1 1 1 1-1 1-1 1 0 1 1 1-1 1-1 1 0 1-1 1-2 1-1 1-1 1-2 1-2 1-1 1 1 1-1 1-2 1-3 1-2 1 0 1-1 1-2 1 0 1 1 1 1 1 2 1 0 1 1 1 0 1 0 1 0 1 1 1 3 1 2 1 1 1-1 1 2 1 2 1 1 1 0 1 2 1 2 1 1 1 0 1 1 1 1 1 1 1 0 1 0 1 0 1 0 1 1 1 0 1 0 1-1 1 0 1 1 1 1 1 0 1 1 1 0 1-1 1-1 1 0 1 1 1 1 1 0 1 0 1-1 1 0 1 1 1 0 1 0 1 0 1-1 1 0 1-1 1 0 1 2 1 0 1-1 1-1 1 0 1 1 1 2 1 0 1-1 1-1 1 1 1 0 1 0 1-1 1-2 1 1 1 0 1 0 1-1"/><path stroke="#d01111" d="M0 348l1 0 1 1 1 0 1-2 1 0 1 0 1 0 1 1 1 0 1 1 1 1 1 0 1 0 1 0 1 0 1 1 1 0 1-1 1-2 1 0 1 2 1 1 1-1 1-2 1 0 1-1 1 0 1 1 1 1 1 1 1 0 1-2 1 0 1 0 1 0 1 2 1 0 1 0 1 0 1-1 1 0 1 1 1 0 1-1 1 0 1-1 1 0 1 2 1 0 1-1 1-1 1 1 1 0 1 1 1 0 1-1 1-1 1 1 1 0 1-1 1 0 1 1 1 0 1 0 1 0 1 0 1-1 1 0 1 1 1 0 1 0 1 0 1 0 1-1 1 0 1 0 1 2 1 0 1-1 1 0 1 0 1 0 1-1 1-1 1 1 1 1 1 0 1-1 1 0 1 0 1 0 1 0 1-2 1 1 1 1 1 1 1 0 1-1 1 0 1 1 1 0 1-1 1-3 1-1 1 1 1 0 1-2 1-3 1-2 1 0 1-1 1-1 1-2 1-2 1-1 1-1 1-1 1-2 1-1 1-2 1-2 1 0 1 2 1 1 1 1 1 1 1 2 1 2 1 2 1 0 1 2 1-1 1-1 1 2 1 4 1 3 1 0 1 0 1 1 1 1 1 2 1 0 1 0 1 1 1 0 1 1 1 0 1 0 1 0 1 0 1 1 1 1 1-1 1 0 1 1 1-1 1 1 1 0 1 0 1 0 1 0 1 1 1-2 1-2 1 1 1 1 1 0 1 1 1 0 1-2 1 0 1 1 1 0 1 0 1-1 1 1 1 1 1 1 1 0 1 0 1 0 1 1 1 0 1 0 1-1 1-1 1 0 1 0 1 1 1 0 1 0 1 0 1 0"/><path stroke="#ce1111" d="M0 365l1 1 1-1 1 0 1-1 1-1 1 0 1 1 1 0 1 1 1 0 1 0 1-1 1-2 1 0 1 1 1 1 1 1 1 0 1 0 1 0 1-1 1-1 1 0 1 1 1 1 1 0 1 0 1 0 1 0 1-1 1 0 1 1 1 0 1 0 1-1 1-1 1 1 1 0 1 1 1 0 1-1 1 0 1 1 1-1 1 0 1 1 1 2 1-1 1-1 1-1 1 0 1 1 1 1 1 0 1 0 1 0 1 0 1-1 1 1 1 0 1 0 1-2 1-1 1 0 1 1 1 0 1 1 1 0 1-2 1-1 1 0 1 1 1 1 1 0 1 0 1 1 1 0 1-1 1-1 1 1 1 0 1-1 1 0 1 0 1 0 1 0 1 1 1 0 1 0 1 1 1 0 1 0 1 0 1 0 1 0 1 0 1-1 1 0 1 0 1-1 1 0 1 0 1 0 1 0 1 0 1 0 1 0 1-1 1-2 1-1 1-3 1-1 1 0 1-2 1-2 1-1 1-3 1-2 1 0 1-1 1 0 1-1 1-2 1-1 1-1 1 1 1 1 1 1 1 0 1-1 1 2 1 4 1 2 1 2 1 1 1 0 1 2 1 3 1 1 1 1 1 1 1 1 1 1 1 1 1 0 1 1 1 0 1 0 1 1 1 0 1 0 1 0 1 1 1-1 1 0 1-1 1 1 1 0 1 0 1-1 1 1 1 1 1 0 1 0 1-1 1 0 1-1 1 0 1 0 1 1 1 1 1 0 1 0 1-1 1 0 1-1 1 0 1 0 1 2 1 0 1-1 1-1 1 0 1 0 1 2 1 1 1 0 1-1 1-1 1 0 1 0 1 0 1 0"/><path stroke="#cb1111" d="M0 379l1 0 1 1 1 1 1-1 1 1 1 0 1-1 1 1 1-1 1-1 1-1 1-1 1 1 1 1 1 0 1 0 1 0 1 0 1 0 1 0 1 1 1 1 1 0 1-1 1-1 1 0 1 0 1 1 1 1 1 0 1 0 1-2 1 0 1 1 1 1 1 0 1-1 1 0 1 0 1 0 1 0 1 0 1-1 1 0 1 0 1 0 1 0 1 0 1-1 1 1 1 1 1 1 1 0 1 0 1 0 1 0 1-1 1 1 1 1 1-1 1-1 1 1 1-1 1 0 1 0 1 0 1 0 1 0 1 0 1 0 1 1 1-1 1 0 1 0 1 0 1-1 1 1 1-1 1 0 1 1 1 1 1 0 1-2 1 0 1 0 1 0 1 0 1 0 1 1 1 2 1 0 1-1 1-2 1-1 1 0 1 1 1 1 1 1 1 0 1 0 1-1 1 0 1-2 1-1 1 0 1 1 1 0 1-1 1-1 1-1 1 0 1-1 1 0 1-2 1-2 1-1 1 0 1-3 1-2 1-1 1-2 1-2 1-1 1-3 1-1 1 0 1 1 1 0 1 0 1 0 1 2 1 2 1 2 1 2 1 2 1 1 1 1 1 3 1 1 1 0 1 1 1 2 1 1 1 1 1 0 1 1 1 2 1 1 1 1 1-1 1-1 1 0 1 0 1 1 1 1 1-1 1-1 1 1 1 1 1 1 1-1 1-1 1-1 1 0 1 1 1 1 1 0 1 0 1 0 1-1 1-1 1 0 1 1 1 1 1 1 1-1 1-1 1-1 1 0 1 0 1 1 1-1 1 1 1 0 1 1 1-1 1 0 1 0 1 1 1 0 1 1 1 1 1 1"/><path stroke="#c91111" d="M0 393l1 1 1 0 1 0 1 1 1 1 1-1 1-2 1-1 1 2 1 1 1 1 1-1 1 0 1 0 1-2 1 0 1 1 1-1 1 1 1 1 1 1 1-1 1 0 1 1 1 1 1-2 1 0 1 0 1 1 1 0 1 0 1 0 1 0 1-1 1 0 1-1 1 1 1-1 1-1 1 0 1 2 1 1 1 0 1 0 1 0 1 0 1-1 1 1 1-1 1 0 1 0 1 1 1 0 1-1 1-2 1 0 1 2 1 2 1 0 1-3 1-1 1 0 1 2 1 0 1 0 1 0 1 0 1 0 1 1 1 0 1 0 1 0 1-1 1 0 1 0 1 0 1-1 1 1 1 0 1 1 1 0 1-2 1-1 1 1 1 1 1-1 1-1 1 0 1 0 1 2 1 1 1 1 1-1 1 0 1 0 1-1 1 0 1-1 1 1 1 0 1-2 1 0 1 1 1 1 1 1 1 0 1 0 1 0 1-3 1-2 1 0 1 1 1-1 1-2 1-2 1-1 1 0 1-2 1-2 1-3 1-2 1-1 1-3 1-3 1-1 1 0 1 0 1 1 1 0 1 0 1 1 1 3 1 1 1 1 1 2 1 3 1 4 1 1 1 1 1 2 1 0 1 2 1 1 1 0 1 0 1 1 1 0 1 1 1 1 1 1 1-1 1 0 1 1 1 0 1 0 1 1 1 0 1-1 1 0 1 0 1 1 1 1 1 0 1-1 1-1 1-1 1 1 1 0 1 0 1 0 1 1 1 0 1 0 1 0 1 1 1 0 1 0 1-2 1 0 1 0 1-1 1 0 1 0 1 0 1 0 1 1 1 0 1-1 1 0 1 1 1 0 1 0 1 1"/><path stroke="#c71111" d="M0 410l1 1 1 0 1 0 1-1 1 0 1-1 1 1 1 0 1 0 1 0 1 0 1 1 1 0 1 1 1-1 1 0 1 0 1 1 1 0 1-2 1-1 1 0 1 0 1 2 1 2 1 0 1-1 1-1 1 0 1-1 1-1 1-1 1 0 1 0 1 1 1 2 1 0 1-1 1 0 1 1 1 0 1 0 1 1 1-1 1-1 1 0 1 0 1 0 1 0 1 0 1 0 1 1 1 0 1-1 1 1 1 1 1 0 1-1 1-1 1 0 1 0 1 1 1-1 1 0 1 1 1 1 1-1 1 0 1 1 1 0 1-1 1 0 1 1 1-1 1 0 1 0 1 0 1 0 1 0 1 0 1 0 1-1 1-2 1 1 1 1 1 0 1 1 1 0 1 0 1 0 1 0 1 0 1-1 1 0 1-1 1 0 1 0 1 0 1-1 1 0 1 0 1 2 1-1 1 1 1 0 1 0 1-1 1 0 1-1 1 0 1-1 1 0 1-2 1-2 1-2 1-2 1-1 1-1 1-3 1-1 1-2 1-2 1-2 1-2 1-2 1 0 1 1 1 1 1 0 1 1 1 3 1 2 1 1 1 3 1 4 1 1 1 1 1 1 1 2 1 2 1 1 1 0 1 0 1 0 1 1 1 1 1 2 1 0 1-1 1 0 1 0 1 0 1 1 1 1 1 0 1 1 1-1 1-2 1 0 1 1 1 0 1 0 1-1 1 0 1 1 1 1 1-1 1 1 1 0 1-2 1-1 1 1 1 0 1 0 1 0 1 1 1 0 1-1 1-1 1 1 1 1 1 0 1 1 1 0 1 0 1 0 1 1 1-1 1 0 1 0 1-1 1-2 1 0"/><path stroke="#c51111" d="M0 426l1 0 1 0 1 0 1 1 1-1 1-1 1-1 1 0 1 0 1 1 1 0 1 0 1 0 1 0 1 0 1 0 1 0 1 1 1 0 1 1 1 0 1-1 1-1 1 0 1 1 1 1 1 1 1 0 1-1 1-1 1 1 1-1 1-2 1 0 1 1 1 0 1 1 1 0 1-1 1 1 1 1 1 0 1 0 1-2 1-1 1 1 1 0 1 0 1 0 1 0 1 1 1 1 1 0 1-1 1 0 1 0 1-1 1 0 1 1 1 1 1 0 1-1 1-1 1 0 1 1 1 1 1 1 1-1 1-1 1-1 1 1 1-1 1-2 1 1 1 2 1 0 1 1 1 0 1 0 1 0 1 0 1 0 1-1 1-2 1 0 1 1 1-1 1 0 1 1 1 1 1 0 1 1 1-1 1-1 1 0 1 0 1 0 1 1 1 1 1-1 1 0 1 0 1-1 1-1 1-1 1 0 1 1 1 0 1-1 1-2 1-1 1-2 1-1 1 0 1-3 1-2 1-3 1-3 1-2 1-2 1-1 1-1 1-1 1-1 1 0 1 2 1 1 1 3 1 2 1 1 1 1 1 2 1 3 1 2 1 2 1 2 1 1 1 1 1 1 1 0 1 2 1 0 1 0 1 2 1 0 1-1 1-1 1 0 1 1 1 1 1 0 1 1 1 1 1 0 1-1 1 0 1-1 1 0 1 0 1 0 1 0 1 0 1-1 1 1 1 1 1 0 1 0 1-1 1-1 1 0 1 1 1 1 1 0 1-1 1 0 1 1 1 1 1 1 1-1 1 0 1 0 1-1 1 0 1 0 1 1 1 0 1-1 1 0 1 0 1 0 1 0 1 1 1 0"/><path stroke="#c21010" d="M0 442l1-2 1 0 1 1 1 0 1 0 1 0 1-1 1 0 1 0 1 1 1 1 1 1 1-1 1-1 1-1 1 1 1 1 1 0 1-1 1-1 1 0 1 1 1-1 1-1 1 0 1 1 1 1 1 0 1-1 1 0 1 1 1 1 1-1 1 0 1 1 1 1 1-1 1-1 1 0 1 0 1 0 1 1 1 0 1 0 1 1 1 0 1-1 1-1 1-1 1 1 1 0 1 1 1 0 1-2 1-1 1 1 1 3 1 0 1-1 1-1 1 0 1 1 1 1 1 1 1 0 1-1 1-1 1 0 1 0 1 0 1-1 1-1 1 0 1 0 1-1 1 1 1 0 1 0 1 1 1 0 1 0 1-1 1 1 1-1 1 0 1 1 1 1 1 1 1-1 1 0 1-1 1-1 1 1 1-1 1-1 1 0 1 1 1 0 1-1 1 1 1 1 1-1 1-1 1 0 1 0 1 1 1-2 1-1 1-2 1-2 1-1 1-1 1-3 1-1 1 0 1-3 1-4 1-2 1-2 1-1 1 0 1 0 1 0 1 0 1 0 1 2 1 2 1 4 1 3 1 3 1 1 1 1 1 3 1 3 1 1 1 0 1-1 1 1 1 1 1 1 1 1 1-1 1 0 1 1 1 1 1 0 1-1 1 0 1 0 1 0 1 1 1 1 1 0 1 0 1-1 1 0 1 0 1-1 1 0 1 0 1 0 1 0 1 0 1 0 1 1 1 1 1 2 1 1 1-1 1-2 1-1 1 0 1 0 1 1 1 0 1-1 1 0 1 0 1 0 1 0 1 0 1 2 1 0 1-1 1 0 1 0 1-1 1 0 1 0 1 0 1 0 1 1 1 1"/><path stroke="#c01010" d="M0 455l1 1 1 0 1 1 1 0 1-1 1-2 1 0 1 0 1 2 1 2 1-1 1-1 1 1 1-1 1-1 1 2 1 1 1 0 1-2 1 1 1 1 1-1 1 0 1 0 1 0 1-1 1 0 1 0 1 0 1 0 1 0 1 2 1 0 1 0 1 0 1-1 1 0 1-1 1 0 1 0 1 0 1-2 1 0 1 1 1 1 1 0 1-1 1 1 1 2 1-1 1-2 1 0 1 2 1 0 1 0 1 0 1 0 1 1 1 0 1-1 1 0 1 0 1 1 1 0 1-1 1 0 1-1 1 0 1 0 1 2 1 0 1-1 1-1 1 0 1-1 1 1 1 0 1 0 1 1 1 1 1-1 1 0 1 0 1 0 1 1 1 0 1 0 1-1 1 0 1 0 1 0 1 0 1-1 1 0 1 0 1-1 1 0 1 0 1 2 1 1 1-2 1-1 1 0 1 1 1 0 1-1 1 0 1-1 1-3 1-3 1-2 1-2 1-1 1-3 1-2 1-3 1-1 1-1 1-2 1-2 1 0 1 1 1 1 1 1 1 1 1 3 1 3 1 3 1 2 1 2 1 1 1 1 1 3 1 0 1 2 1 1 1 1 1 0 1 1 1 0 1 0 1-2 1 1 1 1 1 0 1 1 1 1 1-1 1-1 1 1 1 0 1 0 1 0 1 0 1 1 1 0 1 0 1 0 1 1 1-1 1-2 1-1 1 1 1 1 1 1 1 1 1 2 1-1 1-1 1 0 1 1 1-1 1 0 1-1 1 0 1 0 1 1 1 0 1-1 1 0 1-1 1 0 1 1 1 0 1 0 1 1 1 0 1 0 1-1 1 0 1 0 1 0 1 0"/><path stroke="#be1010" d="M0 470l1 1 1 1 1 0 1 0 1-1 1 0 1 1 1-2 1 0 1 0 1 1 1 0 1 0 1-1 1 0 1 0 1 0 1 2 1 0 1-1 1 0 1 0 1 0 1 1 1 1 1-1 1 0 1-1 1-1 1-1 1 0 1 1 1 1 1 1 1 0 1-1 1 1 1 1 1 0 1 0 1 1 1-1 1-1 1-1 1 1 1 1 1 0 1 0 1 1 1-1 1-2 1 0 1 1 1 1 1 1 1-2 1-1 1 1 1-1 1 1 1 1 1 1 1 1 1-1 1-1 1 0 1 0 1 0 1-1 1 0 1 1 1-1 1-1 1 0 1 1 1 0 1-1 1-1 1 1 1 1 1 0 1 1 1 0 1-2 1-1 1-1 1 0 1 1 1 1 1 1 1 0 1-1 1 0 1 1 1 0 1 0 1 0 1-1 1 0 1 0 1 1 1-1 1-1 1-2 1 0 1-1 1 0 1-2 1-2 1-2 1-2 1-3 1-2 1-2 1-2 1-2 1 0 1-1 1-2 1-1 1 1 1 1 1 2 1 1 1 1 1 1 1 3 1 3 1 2 1 3 1 3 1 2 1-1 1 0 1 2 1 1 1 1 1 1 1 1 1 1 1-1 1-1 1 0 1 1 1 0 1 0 1 0 1 1 1 1 1-1 1 0 1 0 1 1 1 0 1-1 1-1 1 1 1 0 1-1 1 0 1 1 1 1 1 0 1 0 1 1 1 0 1-2 1-1 1-1 1 1 1 0 1 0 1 0 1 1 1 0 1 0 1-1 1 2 1 1 1-1 1-1 1 0 1 1 1 0 1 0 1 0 1 0 1 0 1-1 1 0 1 1 1-1 1-2"/><path stroke="#bb1010" d="M0 487l1-1 1 1 1-1 1 0 1 1 1 1 1 0 1-1 1-1 1-1 1 0 1 0 1 0 1-1 1 0 1 2 1 2 1 1 1 0 1-2 1 0 1-1 1 0 1 0 1 0 1-1 1 1 1 0 1 0 1 1 1 0 1 0 1 0 1 0 1 0 1 1 1 0 1 0 1-2 1 1 1 1 1 0 1-1 1 1 1 1 1 1 1-1 1-1 1-1 1-1 1-1 1 0 1 1 1 0 1 1 1 1 1 0 1 0 1 0 1 0 1 1 1-1 1-1 1-1 1 1 1 2 1 0 1-1 1 0 1 0 1-1 1 0 1 0 1 0 1-1 1 0 1 0 1 1 1 1 1 0 1 0 1 0 1 0 1 0 1-1 1 0 1 0 1 0 1 0 1 0 1 1 1 0 1-1 1 0 1-1 1 0 1 1 1 0 1 0 1-1 1 0 1 1 1 0 1 0 1 0 1-2 1-1 1-2 1-1 1-2 1-2 1-1 1-2 1-3 1-3 1-2 1-3 1-1 1-1 1 0 1 0 1-1 1 0 1 0 1 2 1 2 1 2 1 3 1 2 1 2 1 3 1 3 1 2 1 1 1 2 1 0 1 0 1 0 1 2 1 1 1 0 1 1 1 0 1 1 1 0 1-2 1 0 1-1 1-1 1 1 1 2 1 1 1 0 1-1 1 0 1-1 1 0 1 0 1-1 1 2 1-1 1 0 1 1 1 1 1 1 1-2 1 0 1 1 1 0 1 0 1-1 1-1 1-1 1 1 1 2 1 1 1-1 1-1 1-1 1-1 1 1 1 2 1 1 1-1 1-1 1 0 1-1 1 1 1 1 1 1 1-1 1-1 1 0"/><path stroke="#b91010" d="M0 504l1-1 1 0 1 0 1-1 1 0 1 1 1-2 1-2 1 0 1 1 1 1 1 0 1 1 1 1 1 0 1-1 1 0 1 0 1 1 1 0 1 0 1-1 1 0 1 0 1-1 1 0 1-1 1 2 1 2 1-1 1-1 1 1 1 2 1 0 1-1 1 0 1-1 1-1 1 0 1 0 1 0 1 1 1 0 1-1 1 0 1 1 1 0 1-1 1 1 1 0 1 0 1 0 1 0 1 1 1 0 1 0 1-1 1-2 1-1 1 1 1 2 1 1 1 1 1 0 1 0 1-1 1 0 1 0 1-1 1 0 1-1 1 0 1-1 1 0 1 0 1 1 1 1 1 0 1 0 1 1 1 0 1 0 1 0 1-1 1-1 1-1 1 2 1 1 1 0 1-1 1-1 1-1 1 0 1 1 1 2 1-1 1 0 1 0 1-2 1 0 1 0 1 1 1 0 1 0 1 0 1 1 1-1 1-2 1-2 1-1 1-1 1-1 1-1 1-1 1-2 1-4 1-3 1-2 1-2 1-2 1-1 1-2 1-1 1 0 1 1 1 1 1 3 1 2 1 1 1 1 1 3 1 3 1 2 1 2 1 2 1 0 1 1 1 2 1 2 1 1 1 0 1-1 1 1 1 0 1 1 1 1 1 0 1 0 1-1 1-1 1 0 1 2 1 0 1 0 1 0 1 0 1-1 1 0 1 1 1 1 1-1 1 0 1 0 1 0 1-1 1-1 1 1 1 1 1 0 1 0 1 0 1 0 1-1 1 0 1 0 1 1 1 1 1 1 1 0 1 0 1-1 1-1 1 0 1 0 1 0 1 1 1 0 1-1 1 1 1 0 1 0 1 1 1 0"/><path stroke="#b71010" d="M0 518l1 0 1 0 1 0 1-1 1 1 1 0 1 1 1 0 1-1 1-1 1-1 1 0 1 1 1 1 1-1 1 1 1 0 1 0 1-1 1 0 1 0 1 1 1-1 1 0 1 1 1 0 1-1 1 1 1 0 1 1 1 0 1 0 1 0 1 1 1 0 1-1 1-1 1 0 1 0 1 1 1-2 1-1 1 1 1 0 1 1 1 0 1 0 1 0 1 0 1 0 1-1 1 1 1 0 1 1 1 0 1 0 1 0 1 0 1-2 1 0 1 1 1 1 1 0 1 0 1 0 1-1 1 0 1 0 1 1 1 0 1 0 1-1 1 0 1 0 1 0 1 0 1 0 1 1 1 0 1-1 1 0 1 1 1 0 1-2 1-1 1 1 1-1 1 0 1 2 1 1 1 0 1 0 1 0 1 0 1 0 1-1 1 0 1 1 1 0 1-1 1-1 1 0 1-1 1-1 1 0 1 1 1 0 1-1 1 0 1 1 1 0 1-2 1-3 1-1 1-1 1-1 1-2 1-3 1-3 1-2 1-1 1-3 1-2 1-1 1 0 1 0 1 0 1 0 1 2 1 2 1 3 1 2 1 2 1 2 1 1 1 3 1 2 1 2 1 1 1 1 1 2 1 1 1 0 1 0 1 1 1 0 1 0 1-1 1 1 1 1 1 0 1 0 1 0 1 0 1-1 1 0 1 1 1 0 1 0 1 0 1 0 1 0 1-1 1-1 1 1 1 1 1 0 1-1 1-1 1 0 1 1 1 2 1 0 1 0 1 0 1 0 1-1 1-1 1 0 1 0 1 0 1 1 1 1 1 1 1-1 1-1 1-1 1 2 1 2 1 0 1 0 1-1 1-1"/><path stroke="#b51010" d="M0 535l1-2 1-1 1 1 1 1 1 0 1 0 1-1 1-1 1 0 1 1 1 0 1 1 1-1 1 0 1 0 1 0 1 1 1 0 1-1 1 0 1 0 1 0 1 1 1 0 1-2 1 1 1 0 1 0 1 0 1 2 1 0 1-1 1 0 1 1 1 0 1-1 1-1 1-1 1 0 1 1 1 0 1 1 1 1 1-1 1 0 1-1 1 0 1 0 1 0 1 1 1 0 1-1 1 1 1 2 1 0 1 0 1-1 1-1 1 0 1 1 1 0 1 0 1 0 1-1 1-1 1 1 1 0 1 0 1 1 1-1 1-1 1 1 1 0 1 0 1-1 1-1 1 1 1 0 1 2 1 0 1 0 1-2 1 1 1 1 1-1 1-1 1 0 1-1 1 1 1 0 1 1 1 0 1 0 1 0 1 1 1 1 1-1 1 0 1-1 1 0 1 0 1 0 1-1 1-2 1 0 1 2 1-1 1 0 1 0 1-1 1 0 1 1 1-1 1-2 1-3 1-2 1-1 1-2 1-4 1-3 1-2 1-2 1-1 1-3 1-2 1-1 1 2 1-1 1 1 1 2 1 2 1 4 1 2 1 2 1 2 1 2 1 2 1 2 1 2 1 1 1 1 1 1 1 1 1 0 1 1 1 1 1 0 1 0 1-1 1-1 1 2 1 1 1 0 1 0 1 0 1 0 1 0 1 0 1-1 1 0 1 1 1 0 1 0 1 0 1 1 1 0 1 0 1 0 1 1 1-1 1-1 1 0 1-1 1 1 1-1 1-1 1 1 1 2 1-1 1-2 1 1 1 1 1 0 1 0 1 0 1 0 1 1 1 0 1-1 1-1 1 0 1 1 1 0"/><path stroke="#b21010" d="M0 548l1-1 1 0 1 1 1-1 1 0 1 2 1 0 1-2 1 0 1 0 1 0 1 0 1 1 1 1 1 0 1 0 1 0 1 0 1 0 1 0 1 0 1 0 1-1 1-1 1 1 1 0 1 0 1 0 1 0 1 0 1 0 1 0 1 0 1 0 1 1 1 0 1 0 1 0 1 0 1 0 1 0 1 0 1 0 1-1 1 0 1 1 1 0 1-1 1 0 1 1 1 0 1-1 1-1 1 1 1 1 1 1 1-1 1-1 1 0 1 0 1 0 1 0 1 1 1-1 1 0 1 0 1 0 1 3 1 1 1-1 1-1 1-1 1 1 1-1 1 0 1-1 1 0 1 2 1 0 1-1 1 0 1 1 1-1 1-2 1 0 1 0 1 1 1 1 1-1 1 0 1 0 1 0 1 0 1 1 1-1 1 1 1 0 1-1 1-1 1-1 1 0 1 2 1 1 1 0 1 0 1-1 1 0 1 0 1-1 1-1 1-1 1-1 1 1 1 1 1-1 1-3 1-3 1-3 1-2 1-2 1-3 1-2 1-1 1-2 1-3 1-1 1 1 1 0 1 0 1 1 1 2 1 3 1 3 1 2 1 1 1 2 1 3 1 2 1 2 1 0 1 0 1 2 1 2 1 1 1 0 1 1 1 1 1 1 1-1 1-1 1-1 1 1 1 0 1 0 1-1 1 1 1 0 1 0 1 1 1 0 1 0 1 0 1 0 1-1 1 1 1 1 1 0 1 0 1 0 1 0 1-1 1 0 1-1 1 0 1 1 1 0 1 0 1 1 1 0 1 0 1 0 1 1 1 0 1-1 1 1 1 0 1-2 1 0 1 0 1 1 1 0 1 1 1 0"/><path stroke="#b01010" d="M0 566l1-1 1 0 1-1 1-1 1-1 1 0 1 0 1 0 1 1 1 1 1 1 1 0 1-2 1 0 1 1 1 0 1-1 1-1 1 1 1 1 1 0 1 0 1 0 1 0 1-1 1-1 1 1 1 0 1 0 1 1 1 0 1 0 1 1 1 1 1 0 1-2 1 0 1 0 1 0 1-1 1 0 1 1 1 0 1 0 1-2 1 0 1 1 1 1 1 1 1-2 1-1 1 0 1 1 1 0 1 0 1 0 1 0 1 0 1 0 1 1 1 1 1 1 1 0 1-1 1 0 1 0 1-1 1-1 1 1 1 0 1 0 1 1 1-1 1 0 1 0 1 0 1 0 1-1 1 0 1 1 1 0 1-1 1 1 1 1 1 0 1 0 1-1 1 1 1 0 1-1 1-1 1 1 1 1 1 0 1 0 1-1 1 0 1 0 1 0 1 0 1 0 1 0 1-1 1 0 1 0 1 0 1 1 1-1 1 0 1-2 1-1 1 0 1-1 1-1 1-1 1-1 1-2 1-4 1-2 1-1 1-1 1-2 1-3 1-2 1 0 1-1 1-1 1-1 1 0 1 2 1 2 1 2 1 2 1 2 1 2 1 2 1 2 1 1 1 2 1 2 1 1 1 2 1 2 1 1 1-2 1-1 1 3 1 1 1 0 1 0 1-1 1 1 1 1 1 1 1-1 1-2 1 0 1 2 1 1 1 0 1-1 1-1 1 1 1 1 1 0 1-1 1-1 1 1 1 0 1 0 1 1 1 0 1 0 1 0 1-1 1 0 1 1 1 0 1-1 1 0 1 0 1 0 1 1 1 0 1 1 1 0 1 0 1 0 1-1 1 0 1-1 1 0 1 1"/><path stroke="#ae1010" d="M0 578l1-1 1 1 1 2 1 1 1-1 1 0 1 0 1 0 1 0 1-1 1 0 1 0 1-1 1 0 1 0 1 1 1 0 1 0 1 0 1 0 1 0 1 1 1 0 1-1 1-1 1 2 1 0 1-1 1-2 1 1 1 1 1 0 1 0 1 1 1-1 1 0 1 0 1-1 1 0 1 1 1 0 1 0 1 0 1-1 1 0 1 0 1 1 1 1 1 2 1 0 1-1 1-2 1 0 1 2 1 0 1-1 1-1 1 1 1 0 1 0 1-1 1 0 1 1 1 0 1 0 1 0 1 0 1-1 1 0 1-1 1 0 1 0 1 0 1 1 1 1 1 0 1-1 1 0 1 0 1 0 1 2 1 0 1-1 1-1 1 0 1-1 1-1 1 0 1 1 1 0 1-1 1 1 1 0 1-1 1-2 1-2 1-1 1 0 1 0 1-1 1-1 1-3 1-1 1-1 1-2 1-1 1 0 1 0 1-2 1-2 1-1 1-1 1-1 1 0 1 0 1-1 1 0 1 2 1 1 1 1 1 1 1 1 1 0 1 2 1 2 1 1 1 2 1 1 1 1 1 2 1 1 1 2 1 1 1 1 1 0 1 0 1 1 1 0 1-1 1-1 1 0 1 1 1 1 1 0 1 1 1 0 1-1 1 2 1 2 1 0 1-1 1-1 1 0 1 1 1 0 1 1 1 1 1-1 1-2 1-2 1 1 1 1 1 1 1 1 1-1 1 0 1 0 1 0 1 0 1 2 1 1 1 0 1 0 1-1 1-2 1-1 1 1 1 0 1 1 1 1 1 0 1 0 1 0 1 0 1-2 1 0 1 1 1-1 1-1 1 0 1 1 1 1 1 1"/><path stroke="#ab1010" d="M0 596l1-1 1-1 1 1 1 0 1-1 1 0 1 0 1 0 1 0 1 1 1 0 1 0 1-1 1 0 1 0 1-1 1 0 1 1 1 0 1-1 1 0 1 0 1 0 1 1 1 1 1-1 1 0 1 1 1 0 1 0 1 1 1 1 1-1 1-1 1 0 1 0 1 0 1 0 1 0 1-1 1 1 1 0 1 0 1-1 1-1 1 0 1 0 1 0 1 1 1 1 1 0 1 0 1-1 1-1 1 0 1 0 1 0 1 0 1 1 1 1 1 0 1-1 1-1 1 1 1 1 1 1 1-2 1-1 1 0 1 1 1 0 1 0 1-1 1 1 1 1 1 0 1 0 1 0 1-1 1 0 1-1 1-1 1 0 1 0 1 0 1 0 1-1 1 0 1-1 1 0 1-1 1-1 1 0 1-1 1-2 1-2 1-2 1-2 1 1 1 0 1-2 1-1 1 0 1-2 1-2 1-1 1-1 1-1 1-1 1 0 1 1 1 0 1 1 1 2 1 2 1 0 1 0 1 1 1 2 1 2 1 2 1 1 1 0 1 1 1 1 1 3 1 1 1 0 1 1 1 2 1 0 1 0 1 1 1 0 1 0 1 1 1 0 1 0 1 0 1-1 1 1 1 0 1 0 1 1 1-1 1 0 1 1 1 1 1 0 1 0 1 0 1 0 1 0 1-1 1 0 1 0 1 1 1 0 1 0 1 0 1 0 1-1 1 0 1 0 1 1 1 0 1-2 1-1 1 1 1 1 1 1 1 0 1-1 1 0 1 0 1 0 1-1 1 0 1 0 1 2 1 1 1 0 1-1 1 0 1-1 1 1 1 0 1 1 1-1 1-1 1 0 1 0 1 1"/><path stroke="#a91010" d="M0 611l1-2 1-1 1 0 1 0 1 1 1 1 1-1 1 0 1 0 1-1 1 0 1 1 1 0 1 1 1-1 1-2 1 1 1 1 1 0 1 1 1 0 1 0 1 0 1 0 1-1 1 0 1 0 1-1 1 0 1 2 1 1 1 1 1 0 1-2 1-2 1 0 1 0 1 1 1 1 1 2 1 0 1-1 1 0 1 0 1-2 1-1 1 0 1 1 1 0 1 0 1 0 1 1 1 0 1 0 1 0 1-1 1 0 1 0 1-1 1 0 1 1 1-1 1-1 1-1 1 1 1 1 1 0 1 1 1 1 1 0 1-2 1 0 1 1 1 1 1-1 1-2 1 0 1 0 1 0 1 0 1 1 1 0 1-1 1-1 1-1 1-2 1 0 1-1 1 0 1 0 1-2 1-2 1-1 1-2 1-1 1-2 1-1 1-1 1-2 1-1 1-1 1 0 1 0 1-1 1 0 1-1 1 1 1 1 1 1 1 1 1 2 1 2 1 1 1 1 1 1 1 1 1 3 1 1 1 1 1 2 1-1 1 2 1 1 1 1 1 1 1 1 1 0 1 0 1 0 1 0 1 1 1 2 1 0 1-1 1-2 1 1 1 1 1 1 1 0 1-1 1-2 1 0 1 2 1 1 1 0 1 0 1 0 1 0 1-1 1-1 1 1 1 0 1 0 1 0 1 0 1 1 1-1 1 0 1 0 1 0 1 0 1 0 1-1 1 0 1 2 1 0 1 0 1 0 1-1 1 1 1 0 1 0 1 1 1 0 1 0 1 0 1 0 1 0 1-1 1 0 1 0 1 1 1 0 1-1 1 0 1 0 1 0 1 0 1 1 1 0 1 0 1 0 1-1"/><path stroke="#a71010" d="M0 625l1 0 1 0 1 0 1 1 1-1 1-1 1 0 1 0 1 2 1 0 1-2 1-1 1 1 1 3 1-1 1-1 1 0 1 0 1 0 1 1 1 0 1 0 1 0 1 0 1 0 1-1 1-1 1 0 1 1 1 1 1-1 1 0 1 1 1 0 1 0 1-1 1-1 1 0 1-1 1 1 1 0 1 0 1-1 1 0 1 2 1 0 1 1 1 1 1-1 1 0 1 0 1 0 1 0 1 0 1 0 1 0 1 0 1-1 1-1 1 0 1 0 1 0 1 0 1 1 1 0 1-1 1-1 1 1 1 2 1 0 1-1 1-1 1 0 1 0 1 0 1 1 1 0 1-2 1-2 1-1 1 0 1-2 1-1 1 0 1 0 1-1 1-1 1-2 1-2 1-2 1-1 1-2 1-1 1-2 1-2 1 0 1 1 1-1 1-2 1 1 1 2 1 0 1-1 1 0 1 2 1 1 1 2 1 2 1 1 1 1 1 3 1 3 1 1 1 0 1 1 1 1 1 1 1 0 1 0 1 1 1 0 1 0 1 1 1 1 1 2 1 2 1 0 1 0 1-1 1-1 1 1 1 0 1 0 1-2 1 0 1 1 1 1 1 0 1-2 1 0 1 0 1 1 1 1 1 1 1 1 1 0 1 0 1-1 1-1 1 1 1 0 1 0 1 1 1 1 1 0 1 0 1-2 1-1 1 0 1 1 1 0 1 0 1 0 1 0 1 0 1 0 1-1 1 1 1 0 1 0 1 1 1-1 1 0 1 0 1 0 1 1 1 0 1-1 1-1 1 0 1 1 1 0 1 0 1 0 1-1 1 1 1 1 1 0 1 0 1 0 1 0 1-1 1-1"/><path stroke="#a41010" d="M0 641l1 0 1 1 1-1 1 0 1 1 1 1 1-1 1-1 1 0 1-1 1 0 1-1 1 1 1 2 1 1 1-1 1 0 1 1 1-1 1-1 1 0 1 0 1 0 1 0 1 0 1 0 1 0 1 0 1 0 1 0 1 0 1 0 1 0 1-1 1 0 1 1 1 0 1 0 1-1 1 1 1-1 1 0 1 1 1 0 1 0 1 1 1-1 1-1 1 1 1 0 1-1 1 0 1 1 1 0 1-1 1 0 1-1 1 1 1 0 1 0 1 0 1-1 1 1 1 0 1-1 1 1 1 1 1 0 1 1 1 0 1-1 1-1 1-1 1-1 1 0 1-1 1 0 1-1 1-1 1-1 1-1 1-3 1-2 1-1 1-1 1-1 1-1 1-2 1-3 1-1 1-1 1-1 1-1 1-1 1 0 1 1 1 0 1 1 1 1 1 1 1 2 1 1 1 0 1 2 1 2 1 2 1 2 1 2 1 1 1 1 1 1 1 1 1 2 1 0 1 0 1 0 1 2 1 1 1 0 1 1 1 0 1 1 1 0 1-1 1 0 1 1 1 0 1-1 1-1 1 0 1-1 1 2 1 1 1 0 1 0 1 0 1-1 1-1 1 1 1 0 1 0 1 0 1 1 1 0 1-1 1 0 1 0 1 1 1 0 1-1 1 0 1-1 1 0 1-1 1 2 1 1 1-1 1-1 1 1 1 0 1 1 1-1 1-1 1 1 1 1 1 0 1 1 1 0 1-1 1 0 1 0 1 1 1 0 1 0 1-1 1 0 1 0 1 0 1 0 1 0 1 0 1 0 1 1 1-1 1 0 1 0 1 0 1-1 1 0 1 0 1 0 1 0 1 0"/><path stroke="#a21010" d="M0 656l1 0 1-1 1 1 1 2 1 0 1-2 1-1 1 1 1 0 1 0 1 0 1 0 1 0 1 0 1-1 1 0 1 0 1 0 1 0 1 2 1 0 1-1 1-1 1 0 1 0 1 0 1 0 1 0 1-1 1 0 1 2 1 1 1-1 1 0 1 0 1 1 1 1 1-1 1 0 1-1 1-1 1 0 1 0 1 0 1 0 1 1 1 1 1 0 1-1 1 0 1 0 1 0 1 0 1 1 1 0 1-1 1 0 1-1 1 0 1 1 1 1 1 0 1 0 1 1 1-1 1-1 1-2 1-1 1 0 1 0 1-1 1-1 1 0 1 1 1-1 1-1 1-2 1-1 1-1 1-2 1-2 1-2 1-2 1-1 1-1 1-3 1-1 1-1 1 0 1-1 1-2 1-1 1 1 1 1 1 3 1 1 1 2 1 1 1 1 1 3 1 2 1 2 1 2 1 1 1 0 1 2 1 3 1 1 1-1 1 2 1 2 1 0 1 0 1-1 1 0 1 1 1 0 1-1 1 0 1 0 1 1 1 0 1 1 1-1 1-1 1 0 1 1 1-1 1 1 1 1 1 1 1 0 1 0 1 0 1-1 1 1 1 0 1 0 1-1 1-1 1 0 1 1 1 1 1 1 1-1 1-1 1-1 1 1 1 1 1 0 1-1 1-1 1 0 1 1 1 1 1-1 1 0 1 0 1 1 1-1 1 0 1 1 1 0 1-1 1 0 1-1 1 1 1 2 1 1 1-1 1 1 1 0 1 0 1-2 1-1 1-1 1 1 1 0 1 0 1-1 1 1 1 2 1 1 1 1 1 0 1-1 1-1 1-1 1 0 1 0 1 1 1 1 1-1"/><path stroke="#a00f0f" d="M0 670l1 0 1 0 1 0 1-2 1 1 1 2 1 0 1 0 1 0 1 1 1-1 1-1 1 0 1-1 1 0 1 1 1 1 1 1 1-1 1 0 1 0 1 0 1 0 1 1 1 0 1-1 1-1 1 0 1 0 1 0 1 1 1 0 1 1 1 0 1 0 1 0 1 0 1 0 1-1 1 0 1 0 1 1 1 0 1-1 1 0 1 0 1 0 1 0 1 1 1 0 1-1 1 0 1 0 1 1 1 0 1-1 1 0 1-1 1 1 1 1 1-1 1 0 1 0 1-1 1-2 1-2 1 0 1 1 1-1 1 0 1-2 1-2 1 0 1-1 1-1 1-2 1-2 1-2 1-2 1-1 1-2 1-2 1-1 1 0 1-1 1 0 1 0 1 1 1 1 1 1 1 1 1 1 1 1 1 3 1 2 1 2 1 1 1 3 1 1 1 1 1 2 1 1 1 0 1 1 1 1 1 0 1 1 1 1 1-1 1-2 1 0 1 1 1 1 1 1 1-1 1 0 1 0 1 1 1 0 1 0 1 0 1 0 1 0 1 0 1 1 1 0 1 0 1-1 1 1 1 0 1 0 1-1 1 1 1 2 1 1 1-2 1-1 1-1 1 0 1 0 1 1 1 0 1 0 1 0 1-1 1 0 1 0 1 1 1-1 1 0 1 1 1 1 1 1 1-1 1-1 1 0 1 1 1-1 1 0 1 0 1 0 1 0 1 0 1 1 1 0 1-1 1-1 1 1 1 0 1 0 1 0 1 1 1-1 1 0 1 2 1 1 1 0 1-2 1-1 1 0 1 0 1 1 1 0 1 1 1 0 1 0 1 0 1-1 1 0 1 1 1 0 1 0 1-1"/><path stroke="#9d0f0f" d="M0 687l1-1 1 0 1 0 1 1 1-1 1 0 1 0 1 0 1 0 1 1 1-1 1 0 1 0 1 0 1 1 1-1 1 0 1 0 1 1 1 0 1 1 1-1 1 1 1 1 1-1 1-1 1 0 1 0 1 0 1 0 1 0 1 0 1-1 1-1 1 0 1 1 1 1 1-1 1 0 1 0 1 0 1-1 1 0 1 2 1 1 1-1 1 0 1 0 1 0 1-2 1 0 1 1 1 1 1 0 1-1 1 0 1 0 1-1 1 1 1-1 1-1 1 1 1 0 1-2 1-2 1-1 1-1 1-2 1-3 1-2 1-1 1-1 1-2 1-3 1 0 1 0 1-2 1-1 1-1 1-2 1 1 1 1 1 0 1 2 1 1 1 0 1 2 1 1 1 2 1 3 1 2 1 1 1 1 1 1 1 2 1 2 1-1 1 0 1 2 1 2 1 2 1 1 1 0 1-1 1-1 1 0 1 1 1 0 1 0 1 0 1 0 1 1 1-1 1-1 1 1 1 0 1-1 1 1 1 0 1 0 1 0 1 1 1 1 1 0 1-1 1 0 1 1 1-1 1 0 1 0 1 0 1 0 1 1 1 0 1 0 1 0 1-1 1 0 1 1 1-2 1-1 1 2 1 0 1 0 1-1 1-1 1 1 1 0 1 1 1 1 1 0 1 0 1-1 1 0 1 0 1 0 1 1 1 1 1-1 1 1 1 0 1-1 1 0 1 0 1 1 1 0 1 1 1-1 1-1 1 0 1 1 1 0 1 0 1-1 1 0 1-1 1 0 1 0 1 0 1 1 1 1 1 1 1 0 1-1 1-1 1-1 1 0 1 2 1 0 1-1 1 1 1 1 1 0"/><path stroke="#9b0f0f" d="M0 701l1 0 1 1 1 0 1 0 1 0 1 0 1 1 1 0 1-1 1 0 1 0 1-2 1 1 1 1 1 1 1-1 1 0 1 0 1 1 1 0 1-1 1 1 1 0 1-1 1 0 1-1 1-2 1 0 1 2 1 1 1-1 1 0 1 0 1-1 1 0 1 2 1 0 1 0 1 0 1 0 1 0 1 0 1-1 1 1 1 1 1 0 1 0 1 0 1-1 1 0 1 0 1 0 1 0 1-1 1 0 1 0 1-1 1-1 1-2 1-1 1 0 1 0 1-1 1-1 1-1 1-3 1-3 1-2 1-1 1-1 1-2 1-1 1-2 1 0 1-1 1-1 1-1 1-1 1 1 1 3 1 2 1 1 1 0 1 1 1 2 1 2 1 2 1 2 1 2 1 1 1 2 1 1 1 1 1 1 1 1 1 0 1 0 1 0 1 1 1 2 1 0 1-1 1-1 1 1 1 1 1 0 1-1 1-1 1 1 1 1 1-1 1 0 1 1 1 1 1 0 1 0 1-1 1 1 1-1 1 0 1 0 1 1 1 0 1 0 1 0 1 0 1 1 1 0 1-1 1 0 1 0 1 0 1-1 1 0 1 1 1-1 1 0 1 1 1 0 1-1 1 0 1-1 1-1 1 1 1 1 1 1 1 0 1 1 1 0 1-1 1 1 1 0 1-1 1-1 1 1 1 0 1 1 1 0 1-1 1-1 1-1 1 0 1-1 1 2 1 2 1 0 1 0 1 0 1-1 1-1 1 1 1 1 1 0 1-1 1 0 1 0 1 1 1 1 1 0 1 0 1-1 1-1 1-1 1 0 1 2 1 1 1 0 1 0 1-1 1 0 1 1 1-1 1-1"/><path stroke="#990f0f" d="M0 719l1-1 1-1 1 0 1 0 1 1 1 0 1-1 1 0 1 0 1 1 1 0 1-1 1-1 1 1 1 2 1 0 1-1 1-1 1 0 1-1 1 0 1 1 1 1 1 2 1 0 1-1 1-1 1 0 1 0 1 0 1 1 1 0 1-1 1-1 1 0 1 0 1 1 1 0 1 0 1-1 1 0 1 1 1 0 1-2 1-1 1 0 1 0 1-1 1 1 1 0 1 1 1 0 1 1 1-1 1-1 1-1 1-1 1-1 1-2 1 0 1-3 1-3 1-1 1 0 1-1 1-2 1-3 1-1 1-2 1-1 1-1 1-1 1-1 1 0 1 1 1 1 1 1 1 1 1 2 1 2 1 3 1 2 1 0 1 1 1 3 1 2 1 1 1 1 1 0 1 0 1 1 1 2 1 1 1 0 1 1 1 0 1 0 1 0 1 0 1 2 1 1 1-1 1 0 1-1 1-1 1 0 1 1 1 1 1 1 1 0 1-1 1-2 1 0 1 1 1 1 1-1 1 0 1 1 1-1 1 0 1 0 1-1 1-1 1 1 1 2 1 0 1-1 1 0 1-1 1 0 1 1 1 1 1 0 1-1 1-1 1 0 1 3 1 0 1-1 1 0 1 0 1 1 1 0 1 0 1 0 1 1 1-2 1-1 1 2 1 2 1 0 1-1 1 0 1 0 1-1 1 0 1 0 1-1 1 1 1 0 1-1 1 1 1 1 1 0 1-1 1 1 1 0 1 0 1 0 1-1 1 0 1 0 1 0 1 1 1 1 1 0 1 0 1 0 1-1 1-1 1-1 1 2 1 0 1-1 1-1 1 2 1 0 1-1 1 0 1 1 1-2 1-2 1 1"/><path stroke="#960f0f" d="M0 733l1-1 1 0 1 0 1-1 1-1 1 1 1 0 1 0 1 0 1 0 1 1 1 1 1 0 1 1 1-1 1-2 1 0 1 1 1 0 1-1 1 0 1 1 1 1 1 0 1 1 1 0 1-1 1-1 1 0 1 1 1-1 1 0 1 0 1 0 1 0 1 0 1 1 1 1 1-1 1 0 1 0 1 0 1-1 1-1 1 0 1 0 1 0 1 0 1 0 1 0 1-1 1-1 1-2 1-1 1-2 1-1 1-1 1-1 1-1 1-3 1-4 1-2 1-1 1 0 1-2 1-2 1-1 1 1 1 0 1 0 1 2 1 1 1 1 1 1 1 2 1 2 1 2 1 2 1 2 1 3 1 1 1 1 1 2 1 0 1 1 1 0 1 1 1 1 1 2 1 0 1-1 1-1 1-1 1 0 1 2 1 2 1-1 1-1 1 1 1 0 1 0 1-1 1 1 1 1 1 0 1 1 1-1 1-1 1 1 1 0 1-2 1 0 1 0 1 1 1 1 1-1 1 0 1 0 1 0 1 0 1 1 1 1 1 0 1 0 1 0 1-1 1-2 1 1 1 1 1 0 1 0 1 0 1 0 1 1 1-1 1-1 1 1 1 0 1-1 1 1 1 0 1 0 1 0 1 0 1 1 1 1 1 0 1 0 1-1 1 0 1-1 1 0 1 0 1 0 1 1 1 0 1-1 1-1 1 0 1-1 1 1 1-1 1 0 1 1 1 1 1 1 1 0 1-1 1 1 1 0 1 0 1 1 1 0 1-1 1-1 1 0 1 1 1 1 1-2 1 0 1 0 1-1 1 1 1 1 1 1 1 0 1-1 1 0 1-1 1 1 1-1 1 0 1 1"/><path stroke="#940f0f" d="M0 747l1 2 1 0 1-1 1-1 1 1 1-1 1-1 1 1 1 1 1 0 1 0 1-1 1 0 1 1 1 0 1 0 1 0 1 1 1-1 1 0 1 0 1-1 1 0 1 0 1 0 1-2 1 1 1 1 1 0 1 0 1-1 1 0 1-1 1 0 1 0 1 1 1 0 1-1 1 0 1 1 1 2 1 0 1-1 1-2 1 0 1 1 1-1 1-1 1-1 1 0 1-2 1 0 1-2 1-3 1-3 1-2 1-1 1-1 1-2 1-3 1-2 1 0 1 0 1-1 1-1 1 2 1 2 1 1 1 2 1 2 1 2 1 0 1 2 1 1 1 2 1 3 1 1 1 1 1 0 1 0 1 1 1 1 1 1 1 1 1 0 1 2 1 1 1 0 1-1 1 0 1 0 1 0 1 1 1 1 1 0 1 0 1-1 1-1 1 1 1 1 1 0 1-1 1 0 1 0 1 0 1 0 1 0 1 1 1 0 1 0 1-1 1 1 1 1 1 0 1-1 1 0 1 1 1 0 1-1 1-1 1 1 1 1 1-1 1 0 1 0 1 1 1 0 1 0 1 0 1-1 1 0 1-1 1 0 1 1 1 0 1 0 1 1 1 1 1 0 1-2 1 0 1 0 1 0 1 0 1 0 1-1 1 0 1 0 1 1 1 2 1 0 1 0 1 0 1-1 1 0 1 0 1 0 1 1 1 0 1 0 1 1 1-1 1-1 1-2 1 0 1 0 1 1 1 1 1-1 1 0 1-1 1 1 1 1 1 0 1 1 1-1 1 0 1 0 1 0 1-1 1 0 1 0 1 0 1 0 1 0 1 2 1 1 1 0 1-1 1-1 1 0 1 0 1 0"/><path stroke="#920f0f" d="M0 763l1 0 1 0 1 1 1-1 1 1 1 0 1-1 1-1 1 1 1 0 1 0 1 0 1 1 1-1 1 0 1-1 1 0 1 1 1 1 1 1 1 0 1-1 1-1 1 0 1 0 1 0 1 0 1 0 1 0 1 0 1 0 1 0 1 0 1-1 1-1 1 0 1 1 1 0 1-1 1 0 1 1 1-2 1-2 1 1 1 0 1-1 1-2 1-1 1-1 1-3 1-2 1-2 1-1 1-1 1-2 1-2 1-2 1-2 1 0 1 0 1 0 1 1 1 1 1 2 1 1 1 2 1 1 1 1 1 2 1 1 1 2 1 1 1 2 1 2 1 1 1 1 1 0 1 1 1 2 1 1 1 1 1 1 1 0 1-1 1-1 1 0 1 1 1 0 1-1 1 0 1 1 1 1 1-1 1 0 1 0 1 0 1 0 1 2 1 2 1-1 1-1 1 0 1-2 1 0 1 1 1 1 1 0 1 0 1-1 1 0 1-1 1 1 1 1 1 1 1 1 1 0 1 0 1-2 1-2 1 0 1 0 1 0 1 1 1 0 1 0 1 0 1 0 1-1 1 1 1 0 1-1 1 1 1 2 1 0 1-2 1 0 1 1 1-1 1 0 1-1 1 1 1 2 1 0 1 0 1 0 1-1 1 0 1-1 1-1 1 0 1 1 1 0 1 1 1 0 1 0 1 0 1 1 1 0 1 0 1-1 1-1 1-1 1 0 1 1 1 0 1 1 1 0 1 0 1 0 1 0 1 1 1 1 1-1 1 0 1 0 1-1 1-1 1 0 1 1 1 1 1-2 1-1 1 0 1 1 1 1 1 1 1 0 1-1 1-1 1 1 1 1 1 0 1 0"/><path stroke="#8f0f0f" d="M0 778l1 1 1 0 1 0 1-1 1 0 1-1 1 1 1 1 1-1 1-1 1 1 1 2 1 1 1-1 1-2 1 0 1 0 1 2 1 0 1-2 1-1 1 0 1 0 1 0 1 0 1 1 1 1 1 0 1-1 1-1 1 0 1 1 1 1 1-1 1 1 1 0 1-1 1 0 1-2 1-1 1-2 1-2 1 0 1-1 1-1 1-2 1-2 1-1 1-2 1-1 1 0 1-1 1-1 1 0 1-1 1-2 1-2 1 0 1 0 1 1 1 1 1 3 1 1 1 1 1 2 1 2 1 3 1 2 1 1 1 0 1-1 1 1 1 1 1 1 1 2 1 1 1 0 1 1 1 1 1 0 1 0 1-1 1 0 1 0 1 1 1 1 1 1 1 0 1-1 1-1 1 1 1 1 1 0 1 0 1 1 1-1 1 0 1-1 1 0 1 0 1 0 1-1 1 0 1 2 1 1 1-1 1-2 1 0 1 1 1 0 1 0 1 1 1 0 1-1 1 0 1 0 1 0 1 0 1 0 1 0 1 0 1 0 1 0 1 1 1-1 1 1 1 0 1 1 1 0 1 0 1-1 1 0 1 0 1 0 1 0 1 2 1 1 1-1 1-2 1-1 1 0 1-1 1 1 1 0 1 1 1 1 1-1 1 0 1 2 1 0 1-2 1-1 1-1 1 0 1 1 1 1 1 0 1 0 1 0 1 0 1-1 1 0 1 0 1 1 1 1 1-1 1-1 1 0 1 0 1 1 1 0 1 0 1 1 1 0 1-1 1 0 1-1 1 0 1 0 1 0 1 1 1 0 1 0 1 0 1 0 1 0 1 1 1 0 1-1 1 1 1 1 1-1 1 0"/><path stroke="#8d0f0f" d="M0 790l1 1 1 1 1 1 1 1 1 1 1-1 1-1 1 1 1 0 1 0 1-1 1 0 1 0 1-1 1 1 1 0 1 0 1-1 1 1 1 1 1-1 1 0 1 0 1 0 1 0 1 1 1 0 1-1 1 0 1 0 1-2 1 0 1-1 1 0 1 0 1 0 1 1 1 0 1-2 1-2 1-2 1-1 1 0 1-2 1-3 1-2 1-1 1 1 1 0 1-1 1-1 1-2 1-1 1-1 1 1 1 1 1 2 1 0 1 1 1 1 1 0 1 2 1 2 1 2 1 1 1 1 1 1 1 1 1 1 1 1 1-1 1 1 1 2 1 2 1 0 1 0 1 0 1-2 1-2 1 2 1 2 1 1 1 0 1-1 1 0 1 0 1 0 1 0 1 2 1 1 1 0 1-1 1-1 1-1 1 1 1 1 1 0 1 0 1 0 1 0 1-1 1 0 1 0 1 0 1-1 1 0 1 1 1 0 1 1 1 0 1 0 1-1 1 0 1 0 1 0 1 0 1 0 1-1 1 0 1 2 1 1 1 0 1 0 1 0 1-1 1-1 1 1 1 1 1 1 1 1 1-1 1-1 1-1 1 0 1 1 1 1 1 0 1 0 1-1 1-1 1 0 1 0 1 0 1 0 1 0 1 1 1 0 1 0 1 1 1 1 1-1 1 0 1 0 1-1 1-1 1-1 1 2 1 1 1 0 1-1 1 0 1 0 1 0 1 0 1 0 1 0 1 1 1 0 1-1 1-1 1 0 1-1 1 0 1 1 1 1 1 1 1 0 1 0 1-1 1-1 1 0 1-1 1 0 1 0 1 1 1 0 1 0 1 0 1 0 1 1 1 1 1 1 1 0"/><path stroke="#8a0f0f" d="M0 808l1-1 1 1 1 1 1-2 1 0 1 1 1 0 1 1 1 0 1 0 1-1 1 0 1 0 1 1 1 1 1-1 1-1 1 0 1 1 1 0 1 0 1-1 1 0 1 0 1 1 1-1 1-1 1-1 1 0 1 0 1 0 1-1 1 0 1 1 1-1 1-2 1-1 1-2 1-2 1 0 1-1 1 0 1-1 1-1 1-2 1 1 1 0 1-1 1-1 1 0 1-1 1 1 1 1 1 0 1 1 1 1 1 1 1 0 1 2 1 1 1 0 1 2 1 2 1 1 1 0 1 0 1 0 1 0 1 1 1 1 1 1 1 1 1 1 1 0 1-1 1-1 1 0 1 1 1 2 1 1 1-1 1 1 1 0 1 0 1 0 1 0 1 0 1-1 1-1 1 0 1 2 1 1 1-1 1-1 1-1 1 1 1 0 1 0 1-1 1-1 1 0 1 2 1 1 1 0 1-1 1 1 1 1 1 0 1-1 1-1 1-1 1 1 1 0 1 1 1 0 1-1 1 0 1 0 1 0 1 1 1-1 1-1 1 0 1 1 1 0 1 0 1-1 1 0 1 2 1 2 1 1 1-1 1-2 1-1 1-1 1 1 1 3 1 0 1-1 1-1 1 0 1 0 1 0 1 1 1 0 1-2 1 0 1 0 1 1 1 0 1-1 1 0 1 1 1 2 1 0 1-2 1 0 1 0 1 0 1 1 1-1 1-1 1 0 1 0 1 0 1-1 1 0 1 1 1 1 1 0 1-2 1 1 1 1 1 1 1 0 1 1 1 0 1 0 1-1 1 0 1 1 1 0 1-1 1 0 1 0 1 0 1-1 1-1 1 0 1 1 1 1 1 1 1 0"/><path stroke="#880f0f" d="M0 824l1 0 1-1 1 0 1 2 1 0 1 0 1 0 1 0 1-1 1-1 1 1 1 1 1 1 1-1 1 0 1 0 1 0 1-1 1-1 1 1 1 0 1-1 1 0 1-1 1 0 1 0 1 0 1 0 1-1 1-1 1-1 1 1 1 0 1-2 1-1 1-2 1-1 1 0 1-1 1 1 1 0 1-1 1-1 1-1 1 1 1 0 1-1 1 0 1 1 1 0 1 1 1 1 1 0 1 0 1 0 1 1 1 0 1 1 1 0 1 0 1 1 1 1 1 3 1 2 1-1 1 0 1-1 1 1 1 2 1 0 1 0 1 1 1 0 1-1 1 0 1 0 1 0 1 0 1 1 1 1 1 1 1 0 1-2 1-1 1 0 1 2 1 1 1-1 1 0 1-1 1 0 1 0 1-1 1 1 1 1 1 0 1 1 1 0 1-1 1-1 1 0 1 0 1 1 1-1 1 0 1 1 1 1 1 0 1-1 1 0 1-1 1 0 1 1 1 0 1 0 1-1 1 0 1 0 1 2 1 0 1-1 1 0 1 0 1 0 1 0 1 1 1-1 1-1 1 1 1 0 1 0 1 0 1-1 1 0 1 1 1 0 1-1 1 0 1 0 1 0 1 0 1 0 1 1 1 1 1 0 1 1 1 0 1 0 1-1 1-1 1 1 1 1 1 0 1-2 1 0 1 0 1-1 1 0 1 0 1 0 1 1 1 2 1 1 1-1 1-1 1-1 1-1 1-2 1 0 1 1 1 2 1 2 1 0 1 0 1 0 1-1 1-2 1-1 1 1 1 1 1 0 1 1 1 0 1 0 1 1 1-1 1 1 1 0 1 0 1-1 1 2 1 0 1-1"/><path stroke="#850f0f" d="M0 840l1 0 1 0 1 1 1-1 1 1 1-1 1 0 1 1 1-1 1 1 1-1 1-1 1 0 1 1 1 1 1 0 1-1 1 0 1 0 1 0 1 0 1-2 1-1 1 0 1 0 1-1 1-2 1 0 1 1 1 1 1 0 1-1 1-1 1 0 1-1 1-2 1 0 1 0 1 0 1 0 1 0 1 0 1-1 1-1 1-1 1 1 1 0 1 0 1 1 1 1 1 1 1 1 1 0 1 0 1 0 1 1 1 0 1 1 1 1 1 1 1 0 1 0 1 0 1 1 1 1 1 0 1 0 1 1 1 0 1 0 1 0 1-1 1 0 1 0 1 0 1 1 1 0 1 0 1 1 1-1 1-1 1 1 1 1 1 1 1 1 1-2 1-1 1 0 1 0 1 1 1 1 1 0 1-1 1-1 1-1 1 0 1 0 1 1 1 1 1 0 1 0 1 0 1 0 1-1 1 0 1 1 1 0 1 0 1 0 1-1 1 0 1 0 1 1 1 0 1-1 1 0 1 1 1 0 1 0 1 0 1 0 1 1 1 1 1 0 1 0 1-1 1-1 1 1 1 1 1 0 1 0 1 0 1-1 1-1 1 0 1 1 1 0 1-1 1 0 1 0 1 0 1 1 1 1 1 0 1 1 1-1 1-1 1 0 1 0 1 0 1 0 1-1 1-1 1 0 1 1 1 0 1 1 1-1 1 1 1 0 1-1 1 0 1 1 1 0 1-1 1 0 1 0 1 1 1 0 1-1 1 0 1 0 1 0 1-1 1 1 1 1 1-1 1 0 1 2 1 0 1 0 1-1 1 0 1 0 1 0 1 1 1 0 1 0 1-1 1 0 1 0 1-1 1-1"/><path stroke="#830f0f" d="M0 856l1-1 1 0 1 1 1 0 1-1 1-1 1-1 1 0 1 1 1 0 1 0 1 0 1-1 1 1 1 1 1 0 1 0 1-2 1-1 1 0 1-1 1 0 1 1 1 0 1 0 1-1 1-3 1 0 1 1 1 0 1 0 1 0 1 0 1-1 1 0 1-1 1 0 1 0 1 0 1 1 1 0 1-1 1 0 1 2 1 2 1 0 1-1 1-1 1-1 1 1 1 1 1 0 1 1 1 1 1-1 1 0 1 1 1 1 1 0 1 0 1-1 1 1 1 2 1 2 1 0 1 0 1-2 1-1 1 0 1 1 1 0 1-1 1 0 1 0 1 1 1 0 1 0 1 0 1 0 1 1 1-1 1 0 1 1 1-1 1 1 1 0 1 0 1 0 1 0 1 0 1 0 1-1 1 0 1 2 1 2 1-1 1-2 1-1 1 2 1 1 1 0 1 0 1-1 1-1 1-1 1 0 1 1 1 0 1-2 1 1 1 1 1 0 1-1 1 0 1 0 1 0 1 1 1 1 1-1 1 0 1 1 1 1 1 0 1-1 1-1 1 0 1 1 1 0 1 0 1 1 1 0 1 0 1-1 1 0 1 0 1 0 1 0 1 0 1 0 1 0 1-1 1 1 1 2 1-1 1-1 1 0 1 0 1-2 1 0 1 1 1 1 1 0 1 0 1-1 1 0 1 0 1-1 1-1 1 1 1 2 1 1 1-1 1-1 1 0 1 1 1 0 1 0 1 0 1-1 1 1 1 0 1 0 1 1 1 0 1-1 1 0 1 0 1 0 1-1 1 0 1 0 1 2 1-1 1-1 1 1 1 1 1 1 1 0 1-1 1 0 1 0 1 0 1 0"/><path stroke="#810f0f" d="M0 868l1 2 1 1 1 0 1 0 1-1 1 0 1 0 1 0 1-1 1 1 1 2 1 0 1 0 1 0 1 0 1-1 1-1 1-1 1 0 1 1 1-1 1-1 1 1 1 1 1-1 1-1 1 0 1 1 1 0 1 0 1-1 1 0 1 1 1 0 1-2 1-1 1 2 1 0 1-1 1 0 1 0 1-1 1-1 1 1 1 0 1-1 1-1 1 0 1 0 1 0 1-2 1 0 1 1 1 2 1-1 1-1 1-1 1 1 1 1 1-1 1 0 1 1 1 0 1 1 1-1 1 0 1 1 1 0 1 1 1 0 1 0 1 1 1 0 1 0 1 1 1 0 1 0 1 0 1-1 1-1 1 0 1 1 1 1 1 1 1-1 1 0 1 1 1 1 1 1 1-1 1 1 1 1 1-1 1 1 1-1 1-1 1-1 1 0 1 2 1 1 1 0 1 0 1 0 1-1 1 0 1 0 1 1 1-1 1 1 1 0 1-1 1 0 1 1 1 0 1 0 1-2 1-1 1 2 1 1 1 1 1 0 1 0 1 0 1 0 1 1 1 0 1 0 1-1 1 0 1 1 1 0 1-1 1-1 1-1 1 0 1 1 1 1 1 0 1 0 1 0 1 0 1 0 1 0 1 0 1 0 1 0 1-1 1 1 1 1 1-1 1-1 1 0 1 0 1 0 1-1 1 0 1 1 1 0 1 0 1-1 1 1 1 0 1 0 1 1 1 0 1-1 1 1 1 1 1-1 1 0 1-1 1 0 1 0 1-1 1 0 1 1 1 0 1 1 1 0 1 0 1 0 1 1 1-1 1-1 1 0 1 0 1 1 1-1 1-1 1 1 1 1 1 0 1 0"/><path stroke="#7e0f0f" d="M0 885l1 2 1 1 1 0 1-1 1-1 1-1 1 0 1 2 1 1 1-1 1-1 1 0 1 1 1-1 1-1 1-1 1 1 1 0 1-2 1 0 1 1 1 1 1 1 1-1 1 0 1 0 1 0 1-1 1 0 1-1 1 0 1 1 1 0 1-1 1 0 1 1 1 0 1-1 1 0 1 0 1 1 1 0 1-1 1 0 1 0 1-1 1-2 1-1 1 1 1 0 1 1 1 0 1 0 1-1 1-1 1-2 1 0 1-1 1 1 1 0 1 1 1 0 1-1 1 0 1 0 1 1 1 0 1 0 1 0 1 0 1 0 1 0 1 0 1 1 1 0 1 0 1 0 1 1 1 0 1 0 1 0 1 0 1 0 1 1 1 0 1 0 1 0 1 2 1 1 1 1 1-1 1-1 1 1 1 0 1 0 1 0 1 1 1 1 1 0 1 0 1 0 1 2 1 0 1 0 1-1 1 0 1 0 1 0 1-1 1 0 1 1 1 1 1 0 1-1 1-1 1 1 1 0 1 0 1 0 1 0 1-1 1 1 1 1 1 0 1 0 1 0 1 0 1 0 1-1 1 0 1 1 1-1 1 0 1 0 1 0 1 1 1 1 1 0 1-1 1-1 1 0 1 0 1 1 1 1 1-1 1 0 1-1 1 1 1-1 1-2 1 2 1 1 1 0 1-1 1 0 1 0 1 0 1-1 1 1 1 1 1 1 1-1 1 0 1 0 1 0 1 1 1-1 1 0 1 0 1-1 1 1 1 0 1 0 1-1 1 1 1 0 1-1 1-1 1 0 1 0 1 0 1 1 1 0 1-1 1 1 1 1 1 0 1 0 1 0 1 0 1-1 1-1 1 0"/><path stroke="#7c0f0f" d="M0 901l1-2 1 1 1 0 1 0 1 0 1 1 1 1 1 0 1 0 1-1 1 0 1 1 1 0 1-2 1 0 1 1 1 1 1 1 1-1 1-1 1-1 1 1 1 0 1 0 1 0 1 1 1 0 1 0 1 0 1-1 1-1 1 0 1 0 1-1 1 0 1-1 1 1 1 1 1-1 1 0 1 0 1 0 1 0 1 0 1-1 1 1 1 0 1 0 1-1 1-1 1-1 1-1 1-1 1 1 1 0 1 0 1-1 1 0 1 0 1 0 1 0 1-2 1 0 1 0 1 0 1 1 1 0 1-1 1-1 1 0 1 1 1 0 1-1 1 1 1 0 1 1 1 0 1 0 1 0 1 0 1 0 1 0 1 0 1 1 1 0 1 0 1 0 1 0 1 0 1 1 1-1 1 0 1 1 1 0 1-1 1 2 1 1 1 0 1 0 1 0 1 1 1 0 1 0 1-1 1 0 1 1 1 0 1 2 1 0 1 0 1 0 1 0 1 1 1 0 1-1 1 1 1 0 1 0 1 1 1 0 1 1 1 0 1-1 1 0 1 0 1 0 1 0 1 0 1 0 1-1 1-1 1 1 1 1 1 0 1 0 1 0 1 1 1 1 1 0 1-1 1-1 1 0 1 0 1 1 1 1 1 0 1-1 1 0 1-1 1 0 1-1 1 0 1 1 1 1 1 1 1-2 1 1 1 2 1 1 1-1 1-1 1 0 1 0 1-1 1 0 1 0 1 0 1 1 1-1 1 0 1 0 1 0 1 0 1 0 1 0 1 0 1 0 1 0 1 0 1 0 1 0 1 0 1 0 1-1 1 0 1 0 1 1 1 0 1-1 1 0 1 2 1 0 1-1"/><path stroke="#790e0e" d="M0 915l1 2 1-1 1-1 1 1 1 0 1 1 1 1 1-1 1-1 1-1 1 0 1 1 1 0 1 0 1 0 1 0 1 0 1 0 1-1 1 1 1 0 1 0 1 0 1 1 1 0 1-1 1 1 1 0 1 0 1 1 1-1 1-1 1 0 1 0 1-1 1 0 1-1 1 0 1 1 1 2 1 0 1-1 1-1 1 0 1 0 1 0 1-1 1 1 1 0 1-1 1-2 1 0 1 1 1-1 1-1 1 0 1 0 1 0 1 0 1 0 1 0 1 1 1-1 1-2 1-1 1 0 1 1 1 0 1-1 1 1 1-1 1 0 1 0 1-1 1-1 1 1 1-1 1 0 1 0 1 0 1 0 1 1 1-1 1-1 1 1 1 0 1 1 1 2 1 0 1 0 1-1 1 0 1 0 1 1 1 0 1-1 1 1 1 1 1 1 1 0 1-1 1 0 1 1 1 1 1 1 1 0 1 0 1-1 1 1 1 1 1 0 1 1 1 0 1 0 1 0 1 1 1 1 1 0 1-1 1 1 1 0 1 1 1-1 1 0 1 1 1 1 1 0 1-4 1 0 1 2 1 0 1 0 1 1 1 0 1-1 1 1 1-1 1-1 1 1 1 1 1 0 1 0 1 0 1-1 1 0 1 1 1 0 1-1 1-1 1 1 1 1 1 0 1 1 1 1 1-1 1 0 1 0 1 0 1 0 1 2 1 0 1-1 1-2 1-1 1 1 1 1 1 0 1 0 1 0 1 0 1 0 1 0 1 0 1 0 1-1 1 0 1 0 1 0 1 1 1 0 1 0 1-1 1 0 1 0 1 0 1-1 1 0 1-1 1 1 1 1 1 1 1 2 1 1"/><path stroke="#770e0e" d="M0 932l1 1 1 0 1 0 1-1 1-1 1-1 1 1 1 0 1 1 1 1 1 0 1 0 1-1 1 0 1 1 1-1 1-1 1 1 1 1 1 0 1 0 1 0 1 0 1 1 1 0 1-1 1-2 1-1 1 2 1 1 1 1 1 0 1-1 1-1 1 0 1 0 1 0 1 1 1-1 1-1 1 1 1 0 1-1 1 0 1 0 1 0 1 0 1-1 1 0 1 0 1 0 1 1 1 0 1-1 1-2 1-1 1 1 1 1 1 0 1-1 1-1 1 0 1 0 1 0 1-1 1-1 1 1 1 0 1 0 1-2 1-1 1-1 1 0 1-2 1-1 1 2 1 0 1 0 1 0 1-1 1-1 1 0 1 1 1 0 1-1 1-1 1 1 1 1 1 0 1-1 1 0 1 1 1 0 1 2 1 1 1 1 1-1 1 1 1 2 1 0 1 0 1 1 1 0 1 0 1 1 1 0 1 0 1 0 1 1 1 0 1 0 1 0 1 0 1 0 1 0 1 0 1 2 1 1 1-1 1 0 1 1 1 1 1-1 1-1 1 0 1 2 1 0 1 0 1 0 1 1 1-1 1-1 1 0 1-1 1-1 1 0 1 2 1 1 1 0 1 1 1 1 1 0 1 0 1 0 1-1 1-1 1 0 1 0 1 0 1 0 1 0 1 0 1 1 1 0 1 0 1 1 1 0 1-1 1 0 1 1 1-1 1 0 1 1 1 0 1 0 1 1 1-1 1 1 1-1 1-1 1 0 1 1 1 1 1 0 1-1 1-2 1-1 1 0 1 1 1 1 1 0 1 0 1 0 1 0 1 1 1 0 1 0 1 0 1-1 1 0 1 0 1 1 1 0"/><path stroke="#740e0e" d="M0 947l1 1 1 0 1 0 1-1 1 0 1 2 1 1 1 0 1-1 1-1 1-1 1 0 1 1 1 0 1 0 1 0 1 0 1 1 1 0 1 2 1-1 1-2 1 0 1 2 1-1 1-2 1-1 1 0 1 1 1 1 1 0 1 0 1-1 1 0 1 0 1 0 1-1 1-1 1 0 1 2 1 2 1 2 1 0 1-2 1-2 1-1 1 0 1 0 1 0 1-1 1 0 1 1 1 0 1 0 1 1 1 0 1-1 1 0 1 0 1-1 1-1 1-1 1 0 1 0 1 0 1-1 1 0 1 0 1-1 1-1 1 0 1 0 1 1 1-1 1-2 1-1 1 0 1 1 1-1 1 0 1-1 1 0 1 0 1 0 1 0 1 0 1 0 1-2 1-1 1 0 1 0 1 1 1 0 1-1 1 1 1 1 1 1 1 0 1 1 1 1 1 0 1-1 1-1 1 0 1 1 1 3 1 0 1 1 1 1 1 0 1 0 1 0 1 0 1 1 1 0 1-1 1 0 1 0 1 1 1 1 1 1 1 0 1 0 1 1 1 0 1 0 1-1 1 1 1 1 1 0 1 0 1 1 1 1 1 0 1-1 1 0 1 1 1 0 1 0 1-1 1 0 1 0 1 1 1 0 1-1 1 0 1 0 1 0 1 0 1 1 1 1 1 0 1 0 1 0 1 0 1 0 1 0 1-1 1 0 1-1 1 0 1 1 1 1 1 0 1 1 1-1 1-1 1 0 1-1 1-1 1 1 1 1 1-1 1 0 1 0 1 0 1 0 1 0 1 0 1-2 1 1 1 1 1 1 1 0 1-1 1 0 1 0 1 2 1 1 1-1 1-1 1 1 1 1"/><path stroke="#720e0e" d="M0 962l1 1 1 0 1 0 1 0 1-1 1 1 1 2 1 1 1-1 1-1 1 0 1-1 1 0 1 0 1 1 1 0 1-1 1 0 1 1 1-1 1-1 1 0 1 0 1-1 1-1 1-1 1 2 1 2 1-1 1-2 1 1 1 2 1-1 1 1 1-1 1 0 1 0 1 1 1-1 1 0 1 0 1 1 1 0 1-2 1 0 1 1 1 0 1 0 1 1 1 0 1 0 1-1 1 1 1 1 1 0 1-1 1-1 1-2 1 0 1 0 1 1 1 0 1 0 1 0 1 1 1 0 1-2 1 0 1-1 1 0 1 1 1-2 1 0 1 0 1-2 1-2 1 0 1 0 1 0 1 1 1-1 1 0 1 0 1 0 1-1 1-2 1-2 1-1 1 0 1 1 1 0 1 0 1-1 1 0 1-1 1-1 1 0 1 0 1 2 1 1 1 1 1 0 1 1 1-1 1-1 1 1 1 2 1 2 1 0 1 0 1 0 1 1 1 1 1 0 1 0 1 0 1 0 1 1 1 1 1 0 1 0 1 1 1 2 1 0 1 0 1 1 1 1 1 1 1-1 1-1 1-1 1 1 1 1 1 0 1-1 1 1 1 0 1 0 1-1 1 1 1 0 1 0 1 0 1 0 1 0 1-1 1 0 1 1 1 1 1 0 1 0 1 0 1 0 1 0 1 1 1 0 1 0 1 0 1 0 1 0 1 0 1-1 1 0 1 0 1 0 1 0 1 0 1-1 1-1 1 0 1 2 1 0 1 0 1 1 1 0 1 1 1-1 1-1 1 1 1 0 1 1 1-1 1-1 1-1 1 1 1 0 1 0 1 2 1 0 1-1 1-2 1-1 1 1"/><path stroke="#6f0e0e" d="M0 978l1-1 1 1 1 1 1 1 1-1 1-1 1-1 1 0 1 0 1 1 1 1 1 0 1 0 1 1 1-1 1-1 1 0 1 1 1 1 1-1 1-2 1 0 1 1 1 0 1 0 1 1 1 0 1 0 1 0 1 0 1-1 1-1 1 1 1 0 1 0 1 0 1 1 1 1 1-2 1-1 1 0 1 0 1 0 1 0 1 1 1 2 1 0 1 0 1-1 1-1 1 0 1 0 1 0 1 1 1-1 1 0 1 0 1 1 1-1 1 0 1-1 1 0 1 0 1 0 1 0 1 1 1 0 1-1 1-1 1 0 1 1 1 0 1-1 1 0 1 0 1-1 1 0 1-1 1 0 1 0 1 0 1-1 1-2 1-1 1-1 1-2 1-1 1-1 1 0 1-1 1 0 1 1 1 0 1 0 1 0 1-1 1-2 1-2 1 1 1 0 1-2 1 1 1 2 1 2 1 1 1 0 1 0 1 0 1 0 1 1 1 1 1 0 1 0 1 0 1 2 1 2 1 2 1-1 1-1 1 1 1 1 1 1 1 1 1 1 1 0 1-1 1 1 1 0 1 0 1 0 1 1 1 2 1 0 1 0 1-1 1 1 1 0 1 0 1-1 1-1 1 1 1 2 1 2 1-1 1-2 1-2 1 0 1 1 1 1 1 1 1 1 1 1 1-1 1-2 1 0 1-1 1-1 1 1 1 1 1 0 1 1 1 0 1-1 1 1 1 1 1 1 1-1 1-2 1 0 1 1 1 1 1 1 1-1 1-2 1 0 1 0 1 0 1 0 1 0 1 1 1 0 1-1 1 0 1 1 1 2 1-1 1-1 1-1 1 1 1 1 1 1 1-1 1-1"/><path stroke="#6d0e0e" d="M0 993l1 0 1 0 1 0 1 0 1 1 1 2 1 0 1-1 1 0 1 0 1 0 1 0 1 0 1 1 1-1 1 0 1 0 1-1 1 0 1 0 1-1 1 0 1 2 1 1 1 0 1-1 1 0 1-2 1-1 1 0 1 0 1 1 1 1 1 0 1 1 1 1 1-1 1-1 1 1 1 0 1 0 1 0 1-1 1-1 1 0 1 0 1 1 1-1 1 0 1 2 1 1 1 0 1-1 1 0 1 0 1 0 1-1 1-1 1 0 1 0 1 0 1 0 1 1 1 1 1-1 1 0 1 1 1 0 1-2 1-1 1 0 1 1 1 0 1 0 1 0 1-2 1-1 1 1 1 1 1 1 1 0 1 0 1-2 1-4 1-1 1 0 1 0 1-1 1-1 1-1 1 0 1 1 1 0 1-3 1-3 1-1 1 0 1 1 1 0 1-2 1-1 1-2 1 0 1 0 1 2 1 1 1 0 1 0 1 0 1 1 1 0 1 0 1 0 1 2 1 1 1 2 1 1 1 1 1 1 1 2 1 0 1-2 1 0 1 2 1 2 1 1 1 1 1 1 1 0 1 1 1-1 1-1 1 1 1 2 1 1 1 0 1 1 1-1 1 0 1 0 1-1 1-1 1 1 1 0 1 0 1 1 1 0 1 1 1 0 1 0 1 0 1-1 1-2 1 0 1 1 1 1 1 1 1 1 1 0 1-1 1-1 1 0 1 0 1 0 1 0 1 0 1 0 1 0 1 0 1 0 1 2 1 0 1 0 1 0 1-1 1 0 1-1 1-1 1 0 1 1 1 0 1 0 1 1 1 0 1-1 1 0 1 1 1 1 1 0 1-1 1 1 1 0 1 1"/><path stroke="#6a0e0e" d="M0 1010l1 0 1 1 1 0 1 0 1-1 1 1 1-1 1 0 1-1 1 0 1 1 1 0 1 0 1 0 1-2 1 1 1 1 1-1 1 0 1 2 1 0 1-1 1-1 1 0 1 0 1 1 1 0 1-1 1 0 1 0 1 0 1 0 1 0 1 0 1 0 1 0 1 0 1 0 1-1 1 0 1 0 1 0 1 1 1 0 1 1 1 0 1 0 1-1 1-1 1 0 1 1 1-1 1-1 1 1 1 1 1 0 1 0 1 0 1 1 1-1 1-1 1 1 1 0 1 0 1 0 1 1 1 0 1 1 1 0 1 0 1-1 1-1 1 1 1-1 1 0 1 0 1 0 1-1 1 0 1 0 1 0 1 1 1 0 1 0 1-1 1-1 1-1 1 0 1 0 1-1 1-1 1 0 1 0 1-2 1-1 1-1 1-1 1-2 1-1 1-1 1-1 1 0 1-2 1-2 1-1 1 0 1-1 1-1 1 0 1 1 1 1 1 0 1 0 1 2 1 2 1 1 1 0 1 0 1 2 1 2 1 1 1 1 1 0 1 0 1 1 1 1 1 1 1 1 1-1 1 1 1 1 1 0 1 1 1 2 1 0 1 0 1 1 1 1 1 0 1 1 1-1 1 0 1 0 1-2 1 0 1 1 1 1 1-1 1 0 1 0 1 0 1 1 1 0 1 0 1 0 1 0 1-1 1-1 1 0 1 1 1 1 1 1 1 0 1-1 1 1 1 0 1 1 1 0 1-2 1-2 1 0 1 1 1 0 1 0 1 0 1 0 1 0 1 1 1 1 1 1 1 0 1 0 1 0 1-1 1-1 1 0 1 0 1 0 1 0 1 1 1 0 1 0 1 0"/><path stroke="#670e0e" d="M0 1026l1 0 1-1 1 0 1 0 1-1 1 0 1 0 1 0 1 1 1 0 1 0 1-1 1 0 1 1 1 1 1 0 1-1 1 0 1 0 1 0 1-1 1 1 1 0 1 0 1 0 1 0 1 1 1-1 1 0 1 0 1-1 1 0 1-1 1 0 1 0 1-1 1 0 1 1 1 1 1 0 1-1 1 1 1 0 1 0 1-1 1 2 1 1 1 0 1 0 1 0 1-1 1-2 1 1 1 1 1-1 1 0 1 1 1-1 1 0 1-1 1 1 1 0 1 1 1 0 1-1 1-2 1 1 1 1 1 0 1 0 1 2 1 0 1-1 1 0 1 0 1-1 1-2 1 1 1 1 1 0 1 1 1 0 1-2 1-1 1 1 1 1 1 0 1 0 1 0 1 0 1 0 1 0 1-2 1-1 1-1 1-1 1-2 1 0 1-1 1 1 1-1 1-1 1-1 1-2 1-3 1-2 1 0 1 1 1-1 1-1 1-1 1-2 1-1 1 1 1 1 1 0 1-1 1 0 1 1 1 1 1 2 1 3 1 2 1 0 1 2 1 1 1 1 1 2 1 2 1 0 1 0 1 0 1 0 1 0 1 1 1 1 1 0 1 0 1 0 1 2 1 0 1 0 1-1 1 1 1 0 1 0 1 2 1 0 1-1 1 0 1 1 1 1 1-1 1-2 1 0 1 0 1 0 1 0 1 1 1 1 1 0 1-1 1 1 1 0 1 0 1 1 1 0 1 0 1-1 1-1 1 0 1 0 1 1 1 0 1-1 1-1 1 2 1 1 1-1 1 0 1 1 1 1 1 0 1-1 1 0 1-1 1-1 1 0 1 0 1 0 1 3 1 1 1 0"/><path stroke="#650e0e" d="M0 1039l1 0 1 1 1 1 1-1 1 0 1 0 1 1 1 0 1 0 1-1 1-1 1 0 1 0 1 1 1-1 1 0 1 0 1 0 1 1 1 1 1 0 1-1 1 0 1-1 1-2 1 1 1 2 1 1 1 0 1-1 1-1 1 0 1 1 1 0 1 0 1 1 1 0 1-1 1 0 1-1 1 0 1-1 1 0 1 1 1 1 1 0 1-1 1 0 1 0 1 1 1 0 1-1 1 1 1 0 1 0 1-1 1 0 1-1 1 0 1 2 1 0 1-1 1 0 1 0 1 0 1 1 1 0 1-1 1 0 1 1 1 0 1-1 1 1 1 0 1 0 1-1 1-1 1 2 1 1 1 0 1-2 1-1 1 0 1 2 1 0 1 0 1-1 1 0 1 0 1 0 1 1 1 0 1 0 1 0 1-1 1 0 1-1 1 0 1-1 1-2 1-1 1 0 1 0 1-1 1-2 1-3 1-2 1 0 1-2 1-2 1-2 1-1 1 0 1-1 1-1 1-1 1 0 1 1 1 0 1 0 1 1 1 2 1 1 1 2 1 2 1 1 1 1 1 2 1 1 1 1 1 1 1 1 1 0 1 2 1 2 1 1 1 0 1 0 1 1 1 1 1 1 1 1 1-1 1-1 1 0 1 1 1 1 1 0 1-1 1 0 1 0 1 1 1 0 1-1 1-1 1 1 1 1 1-1 1 0 1 0 1 1 1 0 1-1 1 0 1 0 1 0 1 1 1-1 1-1 1 0 1 1 1 0 1 1 1 1 1 0 1-2 1 0 1 1 1 0 1 0 1 1 1 0 1-1 1 0 1 0 1 0 1 0 1 0 1 0 1 0 1-1 1 0 1 1"/><path stroke="#620e0e" d="M0 1055l1 0 1-1 1 0 1 1 1 1 1 0 1-1 1 0 1 0 1 0 1-1 1 0 1 0 1 1 1 1 1 0 1 0 1-1 1 0 1 0 1-1 1 0 1 1 1 0 1 1 1 0 1-1 1-1 1 1 1 1 1 2 1 0 1-1 1-2 1-1 1 0 1 0 1 1 1 2 1 0 1 0 1 0 1-1 1 0 1 1 1 0 1-1 1 0 1 0 1-1 1-1 1 1 1 1 1 0 1-1 1 0 1 0 1 1 1 1 1 0 1 0 1 0 1-1 1 0 1 1 1-1 1 1 1 1 1-1 1-1 1 0 1 0 1 0 1-1 1 1 1 0 1-1 1-1 1 0 1 0 1 2 1 1 1 0 1-3 1 0 1 2 1 0 1 0 1 1 1-1 1-1 1-1 1 0 1 2 1 0 1 0 1-2 1-1 1 0 1 2 1 0 1 0 1-1 1-2 1-1 1-2 1-1 1-2 1-3 1-2 1-1 1 0 1-2 1-2 1-1 1-1 1-1 1-2 1-1 1-1 1 1 1 1 1 1 1 1 1 1 1 1 1 1 1 2 1 2 1 2 1 1 1 1 1 3 1 3 1 2 1 1 1 0 1 0 1 0 1 1 1 0 1 1 1-1 1 2 1 1 1 0 1 0 1 0 1 0 1-1 1 0 1 0 1 0 1-1 1 0 1 0 1 0 1 0 1 0 1 0 1 1 1 1 1 0 1-1 1-1 1-1 1-1 1 1 1 3 1 1 1 0 1-1 1 0 1 1 1 1 1 0 1-1 1-1 1-1 1 0 1 0 1 1 1 0 1 0 1 0 1 0 1 0 1 0 1 0 1 0 1 1 1 0 1-2"/><path stroke="#600e0e" d="M0 1071l1 0 1 1 1 1 1 0 1-1 1-1 1 1 1 1 1-1 1 0 1-1 1 0 1 1 1-1 1 0 1 1 1 0 1 0 1 0 1 0 1 0 1 0 1 1 1-1 1-1 1 0 1 1 1 0 1-3 1 0 1 0 1-1 1 1 1 1 1 2 1 0 1 0 1-1 1-2 1 0 1 1 1 1 1 1 1 0 1-1 1-1 1 0 1 1 1 0 1 1 1 1 1 0 1-1 1-2 1 0 1 0 1 0 1 1 1 0 1-1 1 1 1 0 1 0 1 1 1 1 1-1 1-1 1 1 1 0 1 0 1-1 1-1 1 2 1 1 1-1 1-1 1-1 1 0 1 0 1 0 1 1 1-1 1-1 1 0 1 0 1 0 1 2 1 1 1-1 1-1 1 0 1 1 1 1 1 0 1 0 1-1 1-2 1-1 1 1 1 0 1 1 1 0 1-1 1 0 1-1 1 0 1-1 1-1 1-2 1-1 1 0 1 0 1-1 1-3 1-2 1-2 1-3 1-3 1-2 1 0 1-1 1-2 1-1 1 0 1 1 1 0 1 1 1 3 1 3 1 3 1 2 1 2 1 1 1 2 1 1 1 1 1 1 1 1 1 2 1 3 1 0 1 0 1 0 1-1 1 0 1 0 1 0 1 2 1 1 1 0 1 0 1 0 1 0 1 1 1 0 1-1 1 0 1 1 1 0 1 0 1 0 1-1 1 0 1-1 1 1 1 0 1 1 1 0 1 0 1 0 1 1 1 0 1-1 1-2 1 0 1 1 1 1 1-1 1 0 1 0 1-2 1 0 1 1 1 1 1 0 1 1 1 0 1 0 1-1 1-1 1 1 1 1 1 1"/><path stroke="#5d0e0e" d="M0 1086l1 0 1 0 1 0 1-1 1-1 1 0 1 1 1 2 1 0 1 0 1 0 1 0 1 0 1-1 1 0 1-1 1 0 1 1 1 0 1 1 1 0 1-1 1 0 1 1 1 0 1-1 1 0 1 0 1 0 1 1 1 0 1-1 1-1 1 0 1 1 1 1 1-1 1-1 1 0 1 1 1-1 1 0 1 1 1 1 1 2 1 0 1 0 1-1 1-1 1 0 1-1 1 0 1 0 1 0 1-1 1 0 1 0 1 1 1 1 1 0 1 0 1 0 1-1 1 0 1 1 1 0 1-1 1-1 1 0 1 1 1 1 1-1 1 1 1 0 1 1 1 0 1-1 1-2 1 0 1 1 1 1 1 0 1-1 1 0 1 0 1 0 1 1 1 1 1-1 1-1 1 1 1 0 1-1 1-1 1 1 1 0 1 0 1 1 1 0 1 0 1 1 1-2 1-1 1 0 1 1 1 0 1-1 1 0 1 0 1 0 1-3 1-3 1-1 1-2 1-1 1-1 1-2 1-2 1-2 1-2 1-2 1-2 1-2 1-1 1-1 1 1 1 0 1 1 1 1 1 2 1 2 1 3 1 2 1 3 1 2 1 1 1 1 1 2 1 1 1 1 1 1 1 1 1 2 1 1 1 0 1 0 1 0 1-1 1-1 1 0 1 2 1 1 1-1 1 0 1 0 1 0 1 0 1 1 1 0 1 0 1-1 1 1 1 0 1 0 1 0 1 0 1 1 1 1 1-1 1-1 1-1 1 0 1-1 1 0 1 1 1 1 1 0 1 0 1-1 1 0 1 0 1 1 1 1 1 0 1 0 1-1 1 0 1 0 1 0 1 0 1 1 1 0 1-1"/><path stroke="#5a0e0e" d="M0 1101l1 0 1 0 1 0 1 1 1 1 1 0 1 0 1 0 1-1 1 0 1 0 1 0 1 0 1 0 1 0 1 0 1 0 1-1 1 0 1-1 1 0 1 0 1 0 1 0 1 0 1 1 1 0 1 1 1 1 1 0 1 0 1-1 1-1 1 0 1 1 1 0 1 0 1 0 1 0 1 0 1-1 1 0 1-1 1 0 1 1 1 1 1 0 1 0 1 0 1 0 1-2 1 0 1 1 1 2 1 0 1-1 1 0 1 1 1 0 1-1 1 0 1 0 1 0 1 1 1-1 1-1 1 1 1 0 1-1 1 0 1 1 1 0 1 0 1 0 1 0 1 1 1 0 1 0 1-1 1 0 1 0 1 0 1 0 1 0 1-2 1 1 1 1 1 0 1 0 1 0 1-1 1 0 1 1 1 1 1 1 1 0 1-2 1-1 1 1 1 0 1 1 1-1 1-1 1-1 1 2 1 0 1-2 1-1 1-1 1 0 1-1 1-2 1-1 1 0 1-2 1-2 1-3 1-3 1-1 1-1 1-1 1-4 1-2 1 1 1 0 1-1 1-1 1 1 1 1 1 2 1 1 1 2 1 2 1 3 1 1 1 2 1 2 1 2 1 2 1 3 1 2 1-1 1-2 1 0 1 1 1 2 1 1 1 1 1 1 1 0 1 0 1 0 1-2 1 0 1 1 1 0 1 1 1 0 1 0 1 0 1 0 1 0 1-1 1 0 1 0 1-1 1 0 1 1 1 0 1 0 1 1 1 1 1 0 1 0 1-1 1 0 1 1 1 0 1-1 1 0 1-1 1 0 1 1 1 0 1-1 1 0 1 0 1 1 1 0 1-1 1-1 1 1 1 3"/><path stroke="#580e0e" d="M0 1118l1-1 1-1 1 0 1 2 1-1 1 0 1-1 1 1 1 0 1-1 1 1 1 0 1 0 1-1 1 0 1 0 1 0 1 1 1 1 1 0 1 0 1 0 1-1 1 1 1 0 1 0 1-1 1 0 1 0 1 1 1 0 1-2 1-1 1 1 1 1 1 0 1 0 1 0 1-1 1 0 1 2 1 0 1 0 1-1 1 0 1 0 1 1 1 0 1-1 1 0 1 0 1 0 1 0 1 0 1 1 1 0 1-1 1 0 1 0 1 0 1 1 1 0 1 0 1 0 1-1 1-1 1-2 1 1 1 2 1 1 1 0 1 0 1-1 1 0 1 0 1 1 1 1 1 1 1-1 1 0 1-1 1 0 1 0 1-1 1 0 1 0 1 0 1 0 1-1 1 1 1 1 1 0 1 0 1 0 1-1 1-2 1 0 1 0 1 1 1 1 1-1 1 1 1 0 1 0 1-1 1 0 1 0 1 0 1-1 1-1 1 0 1-2 1-1 1-1 1-1 1-2 1-2 1-3 1-3 1-2 1-3 1-1 1-1 1 0 1-1 1-2 1 0 1 0 1 2 1 1 1 2 1 1 1 2 1 3 1 3 1 2 1 2 1 1 1 1 1 2 1 2 1 3 1 1 1 0 1 0 1 0 1 1 1 0 1 0 1 0 1-1 1-1 1 1 1-1 1 1 1 1 1 0 1 0 1-1 1 1 1-1 1 0 1 0 1 0 1 0 1 1 1 1 1-1 1 0 1-1 1 0 1 1 1 1 1-1 1 0 1 0 1 0 1 0 1 0 1-2 1 0 1 2 1 2 1 0 1-2 1 1 1 0 1 0 1 0 1-1 1 0 1 1 1 0"/><path stroke="#550e0e" d="M0 1131l1 0 1 1 1 1 1 1 1 0 1-1 1-1 1 1 1-1 1-1 1-1 1 1 1 0 1 1 1 0 1 0 1-1 1 1 1-1 1 0 1 1 1 0 1-1 1 1 1 0 1 0 1 0 1 0 1 0 1 1 1-1 1 1 1 0 1 0 1 0 1 0 1 0 1 0 1-1 1 0 1 2 1 2 1 0 1-3 1-2 1 1 1 2 1 0 1 0 1 0 1-1 1-1 1-1 1 1 1 1 1 2 1 0 1-2 1-1 1 0 1 0 1 0 1 0 1 1 1 0 1 0 1 0 1 0 1 0 1 0 1-1 1-1 1 2 1 1 1-1 1-1 1 1 1 0 1 1 1 0 1 1 1 0 1 0 1-2 1-2 1 0 1 2 1 0 1 0 1 0 1-1 1-1 1 0 1 1 1 0 1 0 1 0 1 0 1-1 1 0 1 1 1 0 1-1 1 0 1 0 1 0 1-1 1 0 1 0 1 0 1 0 1-2 1-2 1-2 1-2 1-2 1-3 1-3 1-2 1-2 1-2 1-1 1 0 1-1 1-2 1 0 1 1 1 1 1 2 1 1 1 3 1 4 1 2 1 1 1 1 1 2 1 2 1 3 1 1 1 1 1 2 1 1 1-1 1 0 1 0 1 1 1 1 1-1 1-1 1 1 1 0 1 0 1 0 1 1 1 1 1 0 1 0 1 1 1 0 1-2 1 0 1-1 1 0 1-1 1 0 1 2 1 1 1-1 1 0 1 0 1 0 1 1 1 0 1 1 1 0 1 0 1 0 1-2 1 0 1 1 1 0 1 0 1 1 1 0 1 0 1-1 1-1 1 0 1 1 1 1 1 0 1-1 1-1"/><path stroke="#520d0d" d="M0 1148l1 0 1 0 1 0 1 0 1-1 1 0 1 1 1 1 1-2 1 0 1 1 1 2 1 0 1-2 1-1 1-1 1 0 1 1 1 1 1 0 1 0 1 0 1 1 1 0 1 0 1 0 1 0 1-1 1 0 1 0 1 1 1 0 1-1 1 1 1-1 1 0 1 0 1 1 1-1 1 0 1 0 1 1 1 0 1 0 1 0 1 1 1 0 1-1 1-1 1 0 1 1 1 0 1 1 1-1 1-2 1 0 1 1 1 0 1-1 1 0 1 1 1 1 1 0 1-1 1 0 1 1 1 0 1-1 1 0 1-1 1 1 1 0 1-1 1 0 1 1 1 1 1-1 1-1 1 1 1 1 1-1 1-2 1 0 1 0 1 1 1 1 1 0 1-1 1 0 1 0 1-1 1 0 1 1 1 1 1 0 1-1 1-1 1 0 1 1 1 0 1 0 1 0 1-1 1-1 1 1 1 0 1-1 1-1 1-1 1 0 1-1 1-2 1-3 1-2 1-1 1-2 1-3 1-2 1-3 1-2 1-1 1-1 1-1 1 1 1 0 1-1 1 2 1 3 1 2 1 3 1 4 1 2 1 2 1 0 1 3 1 3 1 0 1 1 1 2 1 0 1 0 1-1 1 1 1 2 1 0 1 0 1 0 1 0 1-1 1 0 1 1 1 1 1 1 1-1 1 0 1 0 1-1 1 0 1-1 1 0 1-1 1 1 1 0 1 1 1 1 1 1 1-1 1-1 1-1 1 1 1 1 1 1 1 1 1-1 1-1 1-1 1 0 1 0 1 0 1 1 1 1 1 0 1-1 1 0 1 0 1 1 1 0 1-1 1-1 1 0 1 0 1 1 1 0"/><path stroke="#500d0d" d="M0 1162l1 1 1 0 1 0 1 0 1 0 1 0 1 0 1 0 1 0 1 0 1 0 1 0 1 0 1 1 1 0 1-1 1 1 1 0 1 0 1 1 1 0 1-1 1-1 1-1 1 2 1 0 1-1 1 0 1 1 1 0 1 0 1-1 1 0 1-1 1 0 1 0 1 0 1 0 1 1 1 0 1 1 1 0 1-1 1 0 1 1 1 0 1-1 1 0 1 1 1 1 1-1 1-1 1 0 1 1 1 0 1-1 1 0 1 0 1 0 1 1 1 1 1 0 1-1 1-1 1 0 1-1 1 0 1 0 1-1 1 0 1 1 1 1 1 0 1-1 1 0 1 0 1 0 1 1 1 1 1 0 1-1 1 0 1-1 1 0 1 0 1 0 1 0 1 0 1-1 1 1 1 1 1 0 1 2 1 0 1-3 1-1 1 0 1 0 1 1 1 0 1 0 1 0 1 0 1-1 1-1 1-1 1-1 1-1 1-2 1-2 1-2 1-3 1-3 1-2 1-3 1-2 1-2 1-1 1-1 1 1 1 0 1 1 1 0 1 1 1 2 1 2 1 3 1 3 1 3 1 1 1 2 1 3 1 1 1 1 1 2 1 2 1 0 1 0 1 0 1 0 1 1 1 0 1 0 1 0 1 0 1 0 1 0 1 1 1 0 1 1 1-1 1 0 1 1 1 0 1-1 1 1 1 1 1-1 1-2 1-1 1 1 1 0 1 0 1 0 1 1 1 0 1 0 1-1 1 0 1 1 1 1 1 1 1 0 1 0 1 1 1 0 1-1 1-2 1-1 1 1 1-1 1 0 1 0 1-1 1 1 1 1 1 0 1 0 1 0 1 0 1 0 1 1 1 0"/><path stroke="#4d0d0d" d="M0 1177l1 1 1 0 1 0 1-1 1 0 1 1 1 0 1 1 1 0 1 0 1-1 1 1 1 0 1-1 1 1 1 0 1-1 1 0 1 0 1 0 1 1 1 1 1 0 1-1 1-1 1-1 1 1 1 1 1 0 1-1 1 1 1 1 1 0 1 0 1 0 1-1 1-1 1 0 1 0 1 1 1-1 1 0 1 0 1-1 1 0 1 0 1 1 1 1 1 0 1 0 1-1 1-1 1 0 1 0 1 2 1 0 1 0 1-1 1-1 1 0 1 0 1 1 1-1 1 0 1 1 1 1 1 0 1-1 1 0 1 0 1 0 1 0 1 0 1 1 1 0 1-1 1 0 1 0 1 1 1-1 1 0 1-1 1-1 1 1 1 1 1 0 1 0 1 1 1 0 1-1 1 0 1-1 1 1 1-1 1 0 1 0 1-1 1 1 1 0 1 1 1-1 1-2 1-3 1 1 1 1 1-2 1-2 1-1 1-2 1-3 1-2 1-2 1-2 1-4 1-2 1-2 1-1 1-1 1 0 1 2 1 3 1 2 1 0 1 0 1 3 1 4 1 2 1 1 1 2 1 3 1 3 1 1 1 0 1 1 1 2 1-1 1 0 1 1 1 0 1 0 1 0 1 1 1 0 1 1 1 0 1 1 1 0 1 1 1 0 1-1 1 0 1-1 1-1 1 0 1 1 1 0 1-1 1 1 1 1 1 1 1-1 1-1 1 0 1-1 1 0 1 1 1 1 1-1 1 0 1 0 1-1 1 0 1 2 1 1 1 0 1 0 1-2 1 0 1 1 1 1 1-1 1 0 1 1 1 0 1 0 1 0 1-1 1 0 1 1 1 1 1-1 1-2 1 1"/><path stroke="#4a0d0d" d="M0 1192l1 1 1 0 1 0 1 0 1 0 1 1 1 0 1 0 1-2 1-1 1 0 1 2 1 0 1 0 1 0 1 1 1 1 1 0 1 0 1 0 1-1 1-1 1 0 1 1 1 1 1-1 1 0 1-1 1 0 1 0 1 0 1 1 1 0 1 0 1 0 1 1 1 0 1 0 1-2 1 0 1-1 1 0 1 2 1 0 1-1 1 1 1 0 1-2 1-1 1 1 1 2 1 0 1 0 1 0 1 1 1 0 1 1 1-1 1-2 1 0 1 0 1-1 1 0 1 1 1 0 1 1 1 1 1 0 1 0 1 0 1-1 1-1 1 0 1 1 1 0 1 1 1-1 1-1 1 0 1 1 1 0 1 0 1 0 1 0 1 0 1-1 1-1 1 0 1 0 1 1 1-1 1-1 1 0 1 1 1 1 1 1 1-2 1-1 1 0 1 1 1 1 1-1 1-1 1-2 1-1 1-1 1-2 1-4 1-1 1-2 1-3 1-3 1-1 1-3 1-1 1 0 1-1 1-1 1 0 1 0 1 1 1 1 1 2 1 3 1 3 1 2 1 2 1 2 1 1 1 3 1 2 1 1 1 1 1 1 1 0 1 0 1 1 1 1 1 0 1 1 1 1 1 1 1 0 1-2 1-1 1 1 1 0 1 0 1 0 1 1 1 1 1-1 1-2 1 0 1 2 1 0 1 0 1 0 1 1 1 2 1-1 1 0 1 0 1-1 1-1 1 2 1 0 1 1 1 0 1 0 1 0 1-1 1-1 1-1 1 0 1 0 1 0 1-1 1 1 1 3 1 0 1 0 1-1 1 0 1-1 1 0 1 1 1 0 1-1 1 0 1 1 1 0 1-3"/><path stroke="#470d0d" d="M0 1209l1-1 1 0 1-1 1 1 1 0 1 0 1 0 1 1 1 0 1 0 1 0 1 0 1 0 1-1 1 1 1 0 1 0 1 1 1 0 1-1 1 1 1-1 1-1 1 0 1 1 1 0 1 0 1 0 1 0 1 0 1 0 1 1 1-1 1-1 1 0 1 0 1 1 1 1 1 0 1 0 1-1 1 0 1 0 1 0 1-1 1 1 1 0 1 1 1 1 1-1 1-1 1 0 1 0 1 0 1 0 1 0 1 0 1 0 1 0 1 0 1 1 1 0 1 0 1-2 1-1 1 1 1 2 1 0 1 1 1-1 1-1 1-1 1 0 1 1 1 1 1-1 1-2 1 0 1 0 1 0 1 1 1 1 1-1 1 0 1 1 1 0 1 0 1-1 1 0 1 0 1 1 1 1 1-1 1-1 1 0 1 0 1 0 1 1 1-1 1-1 1-1 1 0 1 0 1-1 1-1 1-1 1-1 1-1 1-2 1-3 1-3 1-2 1-3 1-2 1-1 1-2 1-2 1 0 1 0 1 0 1 1 1 0 1 1 1 1 1 2 1 2 1 2 1 2 1 3 1 2 1 2 1 3 1 1 1 0 1 1 1 2 1 2 1 0 1 1 1 0 1 0 1-1 1 0 1 1 1 0 1 1 1 0 1 0 1 0 1 1 1-2 1-1 1-1 1 1 1 0 1 1 1 1 1 0 1 0 1 1 1 0 1 0 1 0 1-1 1 0 1 0 1 1 1 0 1 1 1 0 1 0 1-2 1-1 1 1 1 0 1 1 1-1 1-1 1 1 1 0 1 0 1 0 1 1 1 0 1-1 1 1 1 1 1 0 1-1 1-1 1 0 1 0 1-1"/><path stroke="#450d0d" d="M0 1224l1 0 1 0 1 0 1 0 1 0 1 0 1 0 1 0 1 0 1 0 1 0 1 0 1 0 1 0 1 0 1 0 1 0 1 0 1 0 1 0 1 0 1 0 1 0 1 0 1 0 1 0 1 0 1 0 1 0 1 0 1 0 1 0 1 1 1 0 1 0 1 0 1 0 1 0 1-1 1 0 1 1 1 0 1 0 1-1 1 0 1 0 1 0 1 0 1 0 1 0 1 0 1 1 1 0 1-1 1 0 1 0 1 0 1 0 1 0 1 1 1-1 1 0 1 0 1 1 1 0 1 0 1-1 1 0 1 0 1 0 1 1 1-1 1 0 1 0 1 0 1 0 1 0 1 0 1 0 1 0 1 0 1 0 1 0 1 0 1 0 1 0 1 0 1 0 1 0 1 0 1 0 1 0 1 0 1-1 1 0 1 0 1 0 1 0 1 0 1-1 1 0 1-1 1-1 1 0 1-1 1-1 1-1 1-1 1-2 1-2 1-2 1-1 1-2 1-2 1-2 1-2 1-1 1-2 1-1 1-1 1-1 1-1 1 0 1 0 1 1 1 0 1 1 1 2 1 1 1 2 1 2 1 2 1 2 1 2 1 2 1 2 1 1 1 2 1 1 1 1 1 1 1 1 1 1 1 1 1 0 1 0 1 1 1 0 1 1 1 0 1 0 1 0 1 0 1 0 1 1 1 0 1 0 1 0 1 0 1 0 1 0 1 0 1 0 1 0 1 0 1 0 1 0 1 0 1 0 1 0 1 0 1 0 1 0 1 0 1 0 1 0 1 0 1 0 1 0 1 1 1 0 1 0 1 0 1 0 1 0 1 0 1 0 1 0 1 0 1 0 1 0 1 0 1 0"/><path stroke="#420d0d" d="M0 1240l1 0 1 0 1-1 1-1 1 0 1 1 1 0 1 1 1-1 1 1 1-1 1-1 1 0 1 1 1 1 1 0 1-1 1 1 1-1 1 0 1 1 1 1 1 0 1-1 1-1 1 0 1 0 1 0 1 0 1 0 1 1 1 1 1 0 1-1 1 0 1 1 1 1 1-1 1-2 1-1 1 1 1 0 1 0 1 0 1 0 1 0 1 0 1 0 1 1 1-1 1 0 1 2 1 0 1-2 1-1 1 0 1 1 1 0 1 0 1 0 1-1 1-1 1 0 1 2 1 0 1 1 1 0 1 0 1 0 1 0 1 0 1-1 1-1 1 0 1 2 1 1 1-1 1-1 1 0 1 1 1 0 1-1 1 1 1-2 1-1 1 1 1 2 1 1 1-1 1-1 1 0 1 0 1 1 1 0 1 0 1 0 1-2 1 0 1 1 1 1 1 0 1-1 1-1 1 1 1 1 1 0 1-1 1 0 1-1 1-2 1-1 1 1 1-1 1 0 1 0 1-1 1-1 1-1 1-2 1-2 1-1 1 0 1-3 1-3 1-2 1-1 1-2 1-3 1 0 1-1 1-2 1-1 1 0 1 1 1 0 1-1 1 1 1 2 1 1 1 1 1 1 1 2 1 1 1 2 1 2 1 3 1 2 1 1 1 0 1 1 1 2 1 1 1 2 1 0 1 0 1 2 1 1 1 0 1 0 1 0 1 1 1 1 1 1 1 1 1 0 1 0 1 0 1 1 1-1 1-1 1-1 1 1 1 2 1 1 1-2 1 0 1 0 1 0 1 1 1 0 1-1 1 0 1 0 1-1 1 0 1 0 1 0 1 1 1 0 1 0 1 1 1 0 1-1"/><path stroke="#3f0d0d" d="M0 1256l1 0 1-1 1 0 1 0 1 0 1 1 1 0 1-1 1-1 1-1 1 1 1 2 1 0 1-1 1 0 1 0 1 0 1 2 1 1 1-1 1-1 1-1 1-1 1 0 1-1 1 1 1 1 1 0 1 0 1 0 1-1 1 0 1 0 1 0 1-1 1 2 1 0 1 0 1 0 1 0 1 0 1 0 1-1 1 1 1 0 1 1 1 0 1 0 1-2 1-1 1 1 1 2 1 1 1-1 1-1 1 0 1 0 1 0 1 0 1 1 1 1 1-1 1-1 1 0 1 0 1-1 1 0 1 1 1 1 1 1 1 0 1 0 1 1 1-1 1 0 1 0 1 0 1-1 1-2 1 1 1 1 1-1 1-1 1 0 1 1 1 0 1 0 1-1 1 1 1 2 1 0 1-1 1 0 1-1 1-1 1-1 1-1 1 0 1 0 1 0 1 0 1 0 1-1 1-2 1-2 1-1 1 1 1-1 1-1 1-3 1-2 1-2 1 0 1-2 1-2 1-2 1-1 1-2 1-3 1-1 1-1 1 0 1-1 1 0 1 0 1 0 1 1 1 0 1 3 1 1 1 1 1 1 1 2 1 2 1 2 1 3 1 2 1 1 1-1 1 2 1 1 1 2 1 2 1 2 1 2 1 1 1-1 1 1 1 1 1-1 1 1 1 1 1 0 1 0 1 0 1 1 1-1 1 0 1-1 1 1 1 0 1 0 1 0 1 1 1 0 1 0 1 0 1 0 1 0 1 1 1 1 1-1 1-1 1-1 1 0 1 1 1 0 1 0 1 0 1-1 1 0 1 0 1 1 1 0 1 1 1 0 1-1 1-1 1 1 1 1 1-1 1-1 1 1"/><path stroke="#3c0d0d" d="M0 1270l1 0 1-1 1 1 1 0 1 0 1 0 1 1 1 1 1 0 1-1 1 0 1 0 1-1 1-1 1-1 1 1 1 1 1 1 1 0 1-1 1 0 1 0 1 0 1 0 1 1 1 0 1-1 1-2 1-1 1 1 1 2 1 0 1 0 1 1 1-2 1 0 1 1 1 1 1 0 1-1 1 0 1-1 1 0 1 1 1 0 1 1 1-1 1-1 1 1 1 1 1-1 1 0 1 1 1 0 1 0 1-1 1-1 1 1 1 0 1 0 1-1 1 0 1 1 1-1 1 0 1 1 1-1 1 0 1 1 1 1 1 0 1-1 1-1 1 1 1 0 1 0 1 0 1 0 1 1 1-1 1 0 1 0 1 1 1-1 1-1 1-1 1 0 1 0 1 0 1-1 1-2 1-1 1 1 1-1 1-2 1-1 1-1 1-1 1-2 1-2 1-2 1-1 1-1 1-2 1-3 1-1 1-1 1-2 1-2 1 0 1 0 1-1 1-2 1 0 1 1 1 0 1 0 1 3 1 2 1 1 1 1 1 1 1 3 1 2 1 2 1 0 1 2 1 3 1 0 1 0 1 2 1 2 1 2 1 0 1 0 1 1 1 1 1 1 1 1 1 0 1 0 1 1 1 0 1 0 1 1 1 1 1-1 1 0 1 0 1-1 1 0 1 1 1 0 1 1 1-1 1 0 1-1 1 1 1 1 1 1 1-1 1 0 1 1 1 0 1 0 1-1 1-1 1 0 1 1 1 0 1 0 1 0 1 1 1 0 1 0 1 0 1 1 1-1 1-1 1 0 1-1 1 0 1 2 1 2 1 0 1 0 1-2 1 0 1 0 1 0 1-1 1-1 1 1"/><path stroke="#390d0d" d="M0 1287l1-3 1 0 1 0 1 1 1 0 1 0 1 0 1-1 1 1 1 0 1 1 1 0 1 1 1 0 1-2 1-1 1 1 1 2 1 0 1-2 1 1 1 1 1 0 1-1 1 0 1 0 1 0 1-1 1 0 1 0 1 1 1 1 1-1 1-1 1 0 1 0 1 1 1 0 1-1 1 0 1-1 1 0 1 0 1 0 1 1 1 1 1 0 1-1 1-1 1 2 1 0 1-1 1-1 1 2 1-1 1 0 1-1 1 1 1 1 1 0 1-1 1-2 1 0 1 2 1 0 1-1 1 1 1 1 1-1 1-1 1 1 1 0 1-1 1 0 1 1 1 0 1-1 1-1 1 1 1 0 1-1 1-1 1-1 1-1 1 0 1-1 1-1 1-1 1 0 1-1 1-3 1-3 1-2 1-2 1-1 1 0 1-1 1-2 1-3 1-2 1-2 1-1 1-1 1 1 1 1 1-1 1-2 1 0 1 1 1 2 1 1 1 1 1 1 1 3 1 2 1 2 1 1 1 1 1 0 1 2 1 3 1 2 1 0 1 1 1 2 1 2 1 2 1 1 1-1 1 0 1 1 1 1 1 0 1 0 1 0 1-1 1 1 1 0 1 1 1 0 1 0 1-1 1 1 1 1 1 0 1 1 1 0 1 0 1 0 1-1 1 0 1 1 1-1 1-1 1 1 1 2 1 0 1 0 1 0 1-2 1 0 1 1 1 1 1 0 1-1 1-1 1 1 1 1 1 2 1 0 1 0 1 0 1-1 1 0 1 0 1-1 1 0 1 1 1 0 1 0 1 0 1 0 1 0 1-2 1-1 1 0 1 2 1 1 1 1 1-1 1-1 1 0 1 1"/><path stroke="#360d0d" d="M0 1303l1-1 1-2 1-1 1 1 1 0 1 0 1 2 1 1 1-1 1-1 1 1 1 1 1-1 1 0 1 0 1 0 1-2 1-1 1 1 1 0 1-1 1 0 1 1 1 1 1 0 1-1 1 0 1 1 1 0 1 0 1-1 1 0 1 0 1-1 1-1 1 1 1 0 1-1 1 1 1 2 1 0 1-1 1 1 1 0 1-1 1 0 1 0 1 1 1 0 1 0 1 0 1 0 1 1 1-1 1 0 1 0 1 0 1 0 1-1 1 1 1 0 1-1 1 0 1-1 1 1 1 1 1 1 1-1 1 0 1 0 1-2 1 0 1 0 1-1 1-1 1 1 1-1 1-1 1-1 1-2 1 0 1-1 1-1 1-2 1-1 1-2 1-2 1-2 1-1 1-1 1-2 1-2 1-1 1-1 1-1 1-2 1-2 1-1 1 0 1-1 1-2 1 1 1 3 1 0 1-1 1 0 1 1 1 2 1 3 1 2 1 4 1 2 1-1 1 0 1 3 1 3 1 2 1 1 1 1 1 2 1 2 1 0 1 0 1 1 1 1 1 1 1-1 1 1 1 1 1 0 1 0 1 0 1 0 1 2 1 1 1 0 1-1 1 0 1 0 1 1 1 0 1 0 1 0 1 1 1 1 1-1 1-2 1 0 1-1 1 0 1 0 1 0 1 1 1 1 1 0 1 1 1 0 1 0 1-1 1 0 1-1 1 0 1 1 1 1 1-1 1 0 1 1 1 0 1 0 1 0 1 0 1 0 1-1 1-1 1 0 1 0 1 2 1 0 1-1 1-1 1 0 1 2 1 0 1-1 1 0 1 1 1 0 1 0 1 0 1-1 1 1 1 1 1 1"/><path stroke="#330d0d" d="M0 1315l1 0 1 1 1 0 1 0 1 0 1-1 1 1 1 0 1 0 1 0 1 1 1 0 1 0 1-2 1 0 1 1 1 0 1 1 1 0 1-1 1-1 1 0 1-1 1 0 1 1 1 1 1 0 1 0 1 0 1 0 1 0 1-1 1-1 1 0 1 2 1 2 1-1 1-1 1-1 1 0 1 1 1 1 1 0 1-1 1-2 1 0 1 1 1 2 1 0 1 0 1-1 1 0 1 0 1 0 1 0 1 0 1-1 1 0 1 0 1 0 1-1 1-1 1 0 1 2 1 0 1-1 1-2 1 0 1 0 1 1 1 1 1-2 1-1 1 0 1 0 1-2 1-1 1-1 1-2 1-3 1-1 1-1 1-1 1-2 1-2 1-2 1-3 1-2 1-2 1-1 1-2 1-1 1 0 1-1 1-1 1 0 1 0 1 2 1 3 1 2 1 1 1-1 1 1 1 1 1 2 1 2 1 3 1 2 1 1 1 1 1 1 1 2 1 2 1 2 1 1 1 1 1 2 1 1 1 1 1 1 1 1 1 1 1 0 1 0 1 0 1 1 1 0 1-1 1 0 1 1 1 0 1-1 1 0 1 1 1 0 1 0 1-1 1 0 1 0 1 1 1 0 1-1 1 0 1 0 1 1 1 1 1 0 1 0 1-1 1 0 1 0 1-1 1 2 1 0 1 0 1 1 1-1 1 0 1 1 1 2 1-1 1-2 1-2 1-1 1 1 1 2 1 0 1 0 1 1 1 0 1 1 1-1 1-1 1-1 1 2 1 1 1 0 1-1 1-2 1 0 1 1 1 1 1 1 1 0 1-1 1-1 1 1 1 0 1 1 1 0 1 0 1 0 1-1"/><path stroke="#300d0d" d="M0 1332l1-1 1 1 1 0 1-1 1 0 1 1 1 0 1 0 1-1 1 0 1-1 1 0 1 1 1 0 1-1 1 0 1-1 1 0 1 0 1 0 1 1 1 1 1 1 1 0 1 1 1 2 1-1 1-1 1 0 1 0 1-1 1-1 1-1 1 1 1 0 1-1 1 1 1 1 1-1 1-1 1 1 1 1 1 0 1-1 1-1 1 0 1 1 1 2 1 0 1-1 1-1 1-1 1 0 1 0 1 0 1 0 1 0 1-1 1 0 1 0 1 0 1 2 1 0 1-1 1-3 1-1 1 1 1 0 1-2 1 0 1-2 1-2 1 0 1-1 1-2 1-2 1-2 1-1 1-1 1-2 1-2 1-2 1-3 1-2 1-1 1-1 1-1 1-1 1-2 1 1 1 1 1-1 1 1 1 1 1 1 1 1 1 1 1 2 1 2 1 2 1 3 1 0 1 1 1 2 1 2 1 4 1 2 1 1 1 1 1 1 1 1 1 1 1 0 1 1 1 1 1 1 1 0 1 1 1 0 1 0 1-1 1 0 1 1 1 1 1-1 1 1 1 0 1 0 1 0 1 1 1 1 1 0 1 1 1-1 1-1 1 1 1 1 1-1 1 0 1 0 1-1 1 0 1-1 1 0 1-1 1 1 1 0 1 1 1 0 1 1 1 0 1-1 1 1 1 0 1-1 1 0 1 1 1 0 1-1 1-1 1 0 1 0 1 0 1 1 1 1 1-1 1 1 1 0 1 0 1 0 1 0 1 0 1 0 1 0 1 0 1 0 1 1 1 1 1-1 1 0 1 0 1-1 1 0 1 0 1 0 1 0 1 0 1 0 1 0 1 1 1-1 1 1 1 0"/><path stroke="#2d0d0d" d="M0 1345l1 0 1 0 1 1 1 0 1-1 1 1 1 0 1 0 1 0 1 1 1 0 1-1 1 0 1 0 1 1 1 0 1-1 1 1 1 0 1 0 1 0 1-1 1 1 1 0 1 0 1 1 1 0 1-1 1 0 1 0 1 1 1-1 1-1 1 1 1 1 1-2 1-1 1 1 1 1 1 0 1 1 1-1 1-1 1 0 1 0 1 0 1 0 1 1 1 0 1 0 1-1 1 0 1 2 1 0 1-2 1-2 1-1 1 0 1 0 1 1 1 0 1-1 1-1 1-2 1-2 1-1 1 1 1-1 1-3 1-1 1-1 1-2 1-1 1-2 1-3 1-2 1-1 1-1 1-2 1-1 1-2 1-2 1-1 1-1 1-1 1 0 1 1 1 1 1 2 1 2 1 2 1 0 1 1 1 0 1 1 1 2 1 4 1 1 1 1 1 2 1 2 1 2 1 1 1 2 1 1 1 0 1 1 1 1 1 2 1 0 1 0 1 1 1 2 1 1 1 0 1 0 1 0 1 0 1 0 1 0 1 0 1 0 1 0 1 1 1 0 1-2 1-1 1 0 1 1 1 1 1-1 1 0 1 1 1 1 1 0 1 0 1 1 1 0 1-1 1 0 1 1 1 1 1-1 1-1 1 1 1 0 1 0 1 1 1 0 1-1 1 0 1 1 1-1 1 0 1-1 1 0 1 0 1 0 1 2 1-1 1-1 1-1 1 1 1 1 1 0 1-1 1 1 1-1 1 0 1-1 1 1 1 1 1 1 1-1 1-1 1 0 1 0 1 0 1 1 1 1 1 0 1 0 1 0 1 0 1 0 1-1 1 0 1 0 1 1 1-1 1 1 1 2 1 0"/><path stroke="#2a0d0d" d="M0 1363l1-1 1-1 1 1 1 1 1 0 1 0 1 0 1-1 1-1 1-1 1 0 1 1 1 0 1 2 1 1 1 0 1-1 1 0 1-1 1 0 1 1 1 0 1 0 1-2 1-1 1 1 1 1 1 0 1 0 1 0 1 0 1-1 1 1 1 0 1-1 1-1 1 1 1 1 1-1 1-1 1 1 1-1 1 0 1 1 1 1 1 0 1-1 1-1 1 0 1 1 1 0 1-2 1 0 1 1 1 0 1-1 1 0 1 0 1-1 1-1 1-2 1-2 1-1 1-2 1-3 1-1 1-1 1-2 1-2 1-1 1-1 1-1 1-1 1-2 1-2 1-3 1-1 1-2 1 0 1 0 1 1 1 0 1 0 1 0 1 2 1 2 1 2 1 0 1 0 1 2 1 2 1 2 1 2 1 2 1 3 1 2 1 1 1 0 1 1 1 2 1 2 1 1 1 1 1 0 1 3 1 0 1-1 1 0 1 2 1 0 1 0 1 0 1 0 1 0 1 0 1 0 1 0 1 1 1 1 1-1 1 0 1 0 1 0 1-1 1 1 1 1 1 0 1 0 1 0 1-1 1 0 1 0 1 0 1 1 1 1 1 0 1 0 1 1 1 0 1-1 1-2 1-1 1 1 1 2 1-1 1-1 1 0 1 0 1 1 1 1 1 1 1-1 1-2 1 0 1 0 1 1 1 0 1 1 1 1 1 0 1-1 1 0 1 1 1 0 1-1 1-1 1 0 1 0 1 0 1 1 1 0 1 0 1 0 1 0 1 1 1 1 1 1 1-1 1-1 1 0 1 1 1 0 1-1 1-1 1 0 1-1 1 1 1 0 1 0 1 0 1 0 1 0 1 0"/><path stroke="#270c0c" d="M0 1376l1 1 1 2 1-1 1-1 1 1 1-1 1 0 1 1 1 0 1-1 1 1 1 0 1-1 1 0 1-1 1 0 1 1 1 0 1-1 1 0 1 1 1 1 1 0 1 0 1-1 1 0 1 0 1 0 1 1 1 0 1 0 1-1 1 1 1 0 1 0 1 0 1-1 1-1 1 0 1 0 1 0 1 1 1-1 1-1 1 0 1-1 1-1 1 1 1 1 1-1 1-1 1 0 1-1 1-1 1 0 1 0 1-1 1-2 1-3 1-1 1-2 1-1 1-2 1-2 1-2 1-2 1-2 1 0 1-2 1-3 1-2 1 0 1-1 1 0 1-1 1-1 1 2 1 2 1 1 1 0 1 1 1 0 1 1 1 2 1 1 1 3 1 3 1 2 1 1 1 2 1 2 1 1 1 0 1 2 1 2 1 1 1 0 1 0 1 2 1 1 1 0 1 0 1 2 1 2 1 2 1 0 1-2 1-1 1 0 1 0 1 0 1 0 1 1 1 1 1 1 1-1 1-1 1 1 1 1 1 0 1-1 1 1 1 1 1 0 1-1 1-1 1 1 1 2 1 0 1 0 1-1 1-1 1 0 1-1 1 1 1 0 1 0 1 0 1 0 1 1 1-1 1-1 1 0 1 1 1 0 1 0 1 0 1 0 1 0 1 0 1 0 1 0 1-1 1 0 1 1 1 0 1 0 1 0 1 0 1 0 1-1 1 0 1 1 1 0 1 1 1 1 1 0 1-1 1-1 1 0 1 1 1 0 1 0 1-1 1 0 1 0 1 1 1 1 1 0 1-1 1 0 1-1 1 1 1 1 1 0 1 0 1-1 1-1 1 1 1 1 1-1 1 0 1-1"/><path stroke="#230c0c" d="M0 1394l1-1 1-1 1 1 1-1 1 0 1 0 1 0 1 0 1 0 1 0 1 1 1 0 1-1 1-1 1 1 1 0 1 1 1 0 1-1 1 0 1 0 1 0 1 0 1 1 1 1 1 0 1-1 1 0 1-1 1 0 1 0 1 1 1-1 1 0 1 1 1 1 1 0 1-2 1 0 1-1 1 0 1-1 1-1 1 0 1 1 1 0 1-1 1-1 1-2 1 0 1 0 1 0 1-2 1-2 1-1 1-2 1-1 1-1 1-1 1-1 1-2 1-3 1-3 1-2 1-2 1-1 1-1 1-2 1-1 1-1 1 1 1-1 1 0 1 0 1 0 1-1 1 1 1 3 1 2 1 3 1 1 1 1 1 2 1 3 1 1 1 1 1 2 1 2 1 0 1 2 1 2 1 2 1 2 1 1 1 0 1 1 1 1 1 0 1 0 1 1 1 0 1 0 1 1 1 1 1 0 1 0 1 0 1 1 1 0 1 0 1 1 1-1 1-1 1 0 1 1 1 1 1-1 1 0 1 1 1 0 1-2 1-1 1 0 1 0 1 0 1 1 1 0 1 1 1-1 1 0 1 2 1 0 1 0 1 0 1 0 1-1 1 0 1 0 1 1 1 1 1 0 1 0 1-1 1 1 1-1 1-1 1 1 1 0 1 0 1-1 1 0 1 1 1 0 1 0 1 0 1-1 1 1 1 1 1 0 1 0 1 0 1 0 1 1 1-1 1-1 1-1 1 1 1 1 1 0 1 1 1-1 1-1 1-2 1 1 1 2 1 0 1 0 1 0 1-1 1 0 1 1 1 1 1 0 1-1 1-1 1 0 1 1 1 0 1 1 1-1 1-1 1 0 1-1"/><path stroke="#200c0c" d="M0 1409l1 0 1 0 1 0 1 0 1 0 1-2 1-1 1 0 1 1 1 0 1 0 1 1 1 1 1-1 1 0 1-1 1 0 1 3 1 0 1-2 1-1 1 0 1 1 1 1 1-2 1-1 1 1 1 0 1 0 1 0 1-1 1 2 1 1 1-1 1-1 1 1 1 1 1-1 1 0 1-1 1-2 1-1 1 1 1 0 1-1 1-1 1-1 1 0 1-2 1-2 1-2 1-1 1-1 1-1 1-2 1 0 1-3 1-2 1-1 1-2 1-3 1-3 1-1 1-2 1-1 1-1 1-1 1 0 1 0 1-1 1 1 1 1 1 2 1 0 1 2 1 4 1 2 1-1 1 1 1 1 1 3 1 3 1 2 1 1 1 1 1 2 1 2 1 2 1 2 1 1 1 1 1 1 1 1 1-1 1 1 1 0 1 1 1 2 1 0 1-1 1-1 1 1 1 0 1 0 1 2 1 1 1 0 1-1 1-1 1 0 1 0 1 0 1 0 1 0 1-1 1 0 1 0 1 0 1 1 1 1 1 1 1 0 1 0 1-1 1-2 1 0 1 1 1 0 1 1 1 1 1 1 1 0 1-1 1-1 1 0 1-1 1 0 1 1 1 0 1 0 1 0 1 1 1 0 1 0 1-1 1 1 1 1 1-1 1-1 1-1 1 0 1 0 1 2 1 1 1-1 1-1 1 0 1 1 1 1 1-1 1-1 1 0 1 1 1 0 1 1 1-1 1 0 1 0 1 1 1 0 1 0 1 0 1-1 1-1 1 0 1 1 1 0 1 2 1-1 1-1 1-1 1 1 1 0 1 0 1-1 1 0 1-1 1 1 1 1 1 0 1-1 1 1 1 2"/><path stroke="#1d0c0c" d="M0 1422l1 1 1 1 1-1 1 0 1 2 1 0 1-1 1 0 1 1 1-1 1-2 1 0 1 1 1 0 1 0 1-1 1 1 1 1 1 0 1-1 1 1 1 0 1-1 1 0 1 1 1-1 1 1 1 1 1-1 1-1 1-1 1-1 1 1 1 1 1 0 1-1 1-1 1 0 1 1 1 0 1-1 1-2 1-1 1-1 1 0 1-1 1-2 1-1 1-1 1-2 1-1 1-2 1-3 1-1 1-3 1-2 1-2 1-1 1-1 1-2 1 0 1 0 1-2 1-3 1 0 1-1 1-1 1 1 1 0 1 2 1 1 1 1 1 2 1 3 1 3 1 3 1 2 1 1 1 1 1 2 1 3 1 1 1 2 1 1 1 1 1 2 1 1 1 1 1 0 1 0 1 1 1 0 1 0 1 1 1 0 1 0 1-1 1 1 1 0 1 1 1 1 1 2 1 0 1 0 1-1 1-1 1 0 1 1 1 0 1 0 1-1 1 0 1 0 1 1 1 1 1 0 1-1 1 0 1 0 1 0 1 0 1 1 1-1 1 0 1 0 1 2 1 2 1 0 1-2 1-1 1 0 1 0 1 0 1 0 1 0 1 0 1 0 1 0 1 0 1-1 1 0 1 0 1 0 1 0 1 0 1 0 1 1 1 0 1 0 1 1 1 0 1 0 1 0 1-1 1 0 1 0 1-1 1 0 1 1 1 1 1 0 1-1 1 1 1 0 1-1 1 0 1 0 1 1 1 0 1 0 1-1 1 0 1 1 1-1 1-1 1 0 1 0 1 1 1 1 1 0 1 1 1-1 1-1 1 0 1 0 1 1 1 0 1-1 1 0 1 0 1 1 1 0 1-1"/><path stroke="#190c0c" d="M0 1439l1-1 1 0 1 1 1 0 1 0 1 1 1 0 1-1 1 0 1-1 1 0 1 0 1 0 1 1 1 0 1 0 1-1 1 1 1 1 1 0 1 1 1-2 1-1 1-1 1 0 1 0 1-1 1 0 1 1 1 1 1-1 1-1 1-1 1 1 1 1 1-1 1 0 1 1 1-2 1-2 1-1 1-1 1 0 1-2 1-3 1-2 1-1 1-1 1-2 1-2 1 0 1-2 1-4 1-2 1 0 1-1 1-1 1-3 1-1 1-2 1 0 1-1 1 0 1 0 1 2 1 2 1 0 1 1 1 2 1 2 1 0 1 2 1 3 1 2 1 2 1 3 1 2 1 2 1 1 1 1 1 0 1 2 1 1 1 0 1 1 1 2 1 1 1 0 1 1 1 1 1 0 1 0 1 1 1 0 1 0 1 0 1 0 1 1 1 0 1 0 1 0 1 0 1 1 1-1 1 1 1 0 1-1 1 0 1 0 1-1 1 0 1 0 1 1 1 2 1 0 1-1 1-1 1 0 1 0 1 0 1 0 1-1 1 1 1 1 1 0 1-1 1-1 1 0 1 2 1 1 1 1 1 0 1 0 1 0 1-2 1 0 1-1 1 1 1 0 1 0 1 0 1 0 1-1 1 1 1 1 1-1 1 0 1 0 1 0 1-1 1 0 1 1 1 1 1 1 1 0 1-2 1-1 1-1 1 1 1 1 1 1 1 0 1 0 1 1 1 0 1-1 1 0 1 0 1 1 1 0 1 0 1 0 1 0 1-1 1 0 1 1 1 1 1 0 1 0 1-1 1 0 1-1 1 0 1 0 1-1 1 2 1 1 1 0 1-1 1-2 1 0 1 1 1 0"/><path stroke="#150c0c" d="M0 1454l1-1 1 1 1 1 1-1 1-1 1 0 1 0 1 1 1 1 1 0 1-1 1-1 1 0 1 0 1-1 1 0 1 1 1 1 1-1 1 0 1 0 1 0 1 0 1 1 1 0 1 0 1 0 1 0 1 0 1-2 1-1 1 1 1-1 1-1 1 0 1-1 1 0 1 0 1-1 1 0 1-2 1-2 1-1 1-2 1-3 1-1 1-1 1-1 1-2 1-2 1-2 1-2 1-3 1-1 1-1 1-2 1-1 1-1 1-1 1-1 1 0 1 1 1 0 1 1 1 2 1 2 1 1 1 1 1 2 1 2 1 3 1 2 1 3 1 1 1 2 1 2 1 2 1 2 1 2 1 1 1 0 1 1 1-1 1 0 1 0 1 2 1 2 1 2 1 1 1 0 1 0 1 0 1-1 1 0 1 1 1 1 1-1 1-1 1 1 1 0 1-1 1-1 1 0 1 2 1 0 1 1 1-1 1-1 1 0 1 1 1 0 1 0 1 1 1-1 1-1 1 1 1 1 1 2 1-1 1 0 1-1 1 0 1 0 1-1 1-1 1 0 1 0 1 1 1 2 1-1 1-1 1-1 1 0 1-1 1 1 1 1 1 0 1 0 1 1 1 0 1-1 1-1 1 1 1 0 1 0 1 1 1 0 1-1 1-1 1 0 1 1 1 0 1 1 1 0 1 1 1 0 1-1 1-1 1 0 1 0 1 1 1 1 1 0 1 0 1-1 1-1 1 0 1-1 1 0 1 1 1 2 1-1 1-1 1 1 1 0 1 1 1 0 1 1 1-1 1-1 1 0 1 0 1-1 1 1 1-1 1 0 1 1 1 0 1 0 1 0 1 0 1 0 1-1"/><path stroke="#110c0c" d="M0 1470l1-1 1 0 1 0 1 0 1 0 1-1 1 0 1 0 1 0 1 0 1 0 1 1 1 0 1 0 1 0 1-1 1 1 1 1 1 0 1-1 1-1 1 1 1 0 1 0 1 0 1-1 1-2 1 0 1 1 1-1 1 1 1 1 1-1 1-1 1-1 1 0 1-1 1-2 1-2 1-1 1 0 1-1 1-1 1-3 1-1 1-2 1-3 1-3 1-1 1-2 1-1 1-2 1-2 1-1 1-2 1-2 1 0 1 0 1-1 1 0 1 2 1 2 1 0 1-1 1 2 1 3 1 3 1 2 1 2 1 1 1 2 1 2 1 3 1 2 1 0 1 1 1 2 1 2 1 2 1 1 1 2 1 0 1 2 1 1 1-1 1-1 1 0 1 0 1 0 1 1 1 1 1 1 1 0 1 1 1-1 1-1 1 0 1 0 1 1 1 2 1-1 1-2 1-1 1 0 1 1 1 1 1-1 1 0 1 0 1 0 1 0 1 1 1 1 1 0 1-1 1 1 1 1 1 1 1 1 1 0 1-1 1 0 1-1 1-1 1-1 1-2 1 1 1 1 1 1 1 0 1 0 1 0 1 1 1 0 1 0 1-1 1-1 1 1 1 1 1 0 1 1 1 1 1-1 1-1 1 0 1 0 1 0 1 0 1 0 1-1 1-1 1 0 1 1 1-1 1 0 1 1 1 1 1-1 1-1 1 0 1 1 1 1 1 0 1 0 1 0 1 0 1 0 1-1 1 1 1 0 1-1 1 0 1 0 1 0 1 0 1 1 1 0 1-1 1 0 1 0 1 1 1 0 1 0 1 0 1 0 1-1 1 0 1 1 1 1 1 0 1 0 1 0 1-1"/><path stroke="#0c0c0c" d="M0 1485l1 0 1-1 1 0 1 0 1 1 1 0 1 0 1 0 1 1 1 0 1-1 1-1 1-1 1 1 1 1 1 1 1-1 1-1 1-1 1 0 1 1 1-1 1 0 1 0 1 1 1 0 1 0 1-1 1-1 1 0 1-1 1-1 1 0 1-2 1-1 1 0 1 1 1-1 1-2 1-2 1-2 1-1 1-2 1-2 1-3 1-2 1-1 1-2 1-2 1-2 1-1 1-1 1-3 1-1 1-1 1-1 1-1 1 1 1 1 1 2 1 3 1 0 1 0 1 2 1 3 1 1 1 3 1 2 1 3 1 3 1 1 1 1 1 1 1 2 1 0 1 1 1 1 1 1 1 2 1 2 1 0 1 0 1 1 1 0 1 1 1 0 1 1 1 1 1 0 1-1 1 0 1 0 1 0 1-1 1 1 1 2 1 0 1-1 1 0 1 0 1-1 1 0 1 1 1-1 1 1 1 1 1 2 1-1 1-2 1 0 1 0 1 1 1 1 1 0 1-2 1 1 1 0 1-2 1 0 1-1 1 1 1 2 1-1 1-1 1 2 1 2 1-1 1-2 1 0 1 1 1 0 1 0 1 1 1 0 1 0 1 0 1 1 1-1 1 0 1 0 1-1 1 0 1 0 1 1 1 0 1 0 1 0 1 0 1-1 1-1 1 1 1 1 1-1 1 1 1-1 1 1 1 0 1 0 1 0 1 0 1 0 1-2 1 0 1 1 1 1 1 0 1-1 1 0 1 1 1 1 1-1 1 1 1 0 1-2 1 0 1 0 1 0 1 0 1 0 1 1 1 1 1 1 1 1 1-1 1-1 1 0 1 1 1 0 1-1 1-1 1 1 1 0 1-1"/></g>
<line x1="622.3" y1="754" x2="914.5" y2="754" stroke="#000" stroke-width="2"/>
<line x1="622.9" y1="754" x2="622.9" y2="760.5" stroke="#000" stroke-width="2"/>
<text x="622.9" y="790" font-size="26" text-anchor="middle">7.5</text>
<line x1="659.3" y1="754" x2="659.3" y2="758.5" stroke="#000" stroke-width="1.6"/>
<line x1="695.6" y1="754" x2="695.6" y2="760.5" stroke="#000" stroke-width="2"/>
<text x="695.6" y="790" font-size="26" text-anchor="middle">7.6</text>
<line x1="732" y1="754" x2="732" y2="758.5" stroke="#000" stroke-width="1.6"/>
<line x1="768.4" y1="754" x2="768.4" y2="760.5" stroke="#000" stroke-width="2"/>
<text x="768.4" y="790" font-size="26" text-anchor="middle">7.7</text>
<line x1="804.8" y1="754" x2="804.8" y2="758.5" stroke="#000" stroke-width="1.6"/>
<line x1="841.1" y1="754" x2="841.1" y2="760.5" stroke="#000" stroke-width="2"/>
<text x="841.1" y="790" font-size="26" text-anchor="middle">7.8</text>
<line x1="877.5" y1="754" x2="877.5" y2="758.5" stroke="#000" stroke-width="1.6"/>
<line x1="913.9" y1="754" x2="913.9" y2="760.5" stroke="#000" stroke-width="2"/>
<text x="913.9" y="790" font-size="26" text-anchor="middle">7.9</text>
<line x1="940.5" y1="754" x2="1116.5" y2="754" stroke="#000" stroke-width="2"/>
<line x1="941" y1="754" x2="941" y2="758.5" stroke="#000" stroke-width="1.6"/>
<line x1="970.1" y1="754" x2="970.1" y2="760.5" stroke="#000" stroke-width="2"/>
<text x="970.1" y="790" font-size="26" text-anchor="middle">10</text>
<line x1="999.2" y1="754" x2="999.2" y2="758.5" stroke="#000" stroke-width="1.6"/>
<line x1="1028.3" y1="754" x2="1028.3" y2="760.5" stroke="#000" stroke-width="2"/>
<text x="1028.3" y="790" font-size="26" text-anchor="middle">11</text>
<line x1="1057.4" y1="754" x2="1057.4" y2="758.5" stroke="#000" stroke-width="1.6"/>
<line x1="1086.5" y1="754" x2="1086.5" y2="760.5" stroke="#000" stroke-width="2"/>
<text x="1086.5" y="790" font-size="26" text-anchor="middle">12</text>
<line x1="1115.6" y1="754" x2="1115.6" y2="758.5" stroke="#000" stroke-width="1.6"/>
<line x1="1139.3" y1="755" x2="1431.5" y2="755" stroke="#000" stroke-width="2"/>
<line x1="1139.8" y1="755" x2="1139.8" y2="759.5" stroke="#000" stroke-width="1.6"/>
<line x1="1188.3" y1="755" x2="1188.3" y2="761.5" stroke="#000" stroke-width="2"/>
<text x="1188.3" y="788.7" font-size="26" text-anchor="middle">15.2</text>
<line x1="1236.8" y1="755" x2="1236.8" y2="759.5" stroke="#000" stroke-width="1.6"/>
<line x1="1285.3" y1="755" x2="1285.3" y2="761.5" stroke="#000" stroke-width="2"/>
<text x="1285.3" y="788.7" font-size="26" text-anchor="middle">15.4</text>
<line x1="1333.8" y1="755" x2="1333.8" y2="759.5" stroke="#000" stroke-width="1.6"/>
<line x1="1382.3" y1="755" x2="1382.3" y2="761.5" stroke="#000" stroke-width="2"/>
<text x="1382.3" y="788.7" font-size="26" text-anchor="middle">15.6</text>
<line x1="1430.8" y1="755" x2="1430.8" y2="759.5" stroke="#000" stroke-width="1.6"/>
<text x="844" y="834.4" font-size="26" textLength="365" lengthAdjust="spacingAndGlyphs">2 Theta (degree), λ = 0.6887 Å</text>
<text transform="translate(604.5,363.3) rotate(-90)" font-size="27" text-anchor="middle">Intensity (a.u.)</text>
<text x="789.6" y="20.2" font-size="26.8" text-anchor="middle">(012)</text>
<text x="1033.5" y="20" font-size="27" text-anchor="middle">(110)/(104)</text>
<text x="1288.2" y="27.6" font-size="27" text-anchor="middle">(024)</text>
<text x="582.5" y="29.4" font-size="45" font-weight="bold">c</text>
<rect x="1433.9" y="43.1" width="67.4" height="124.8" fill="#e6b9b8"/>
<text x="1467.6" y="113.5" font-size="23" text-anchor="middle">R</text>
<rect x="1433.9" y="170.2" width="67.4" height="28" fill="#a5c3e9"/>
<text x="1467.6" y="192.2" font-size="23" text-anchor="middle">C</text>
<rect x="1433.9" y="200.8" width="67.4" height="46.5" fill="#c4d79e"/>
<text x="1467.6" y="232.1" font-size="23" text-anchor="middle">T</text>
<rect x="1433.9" y="249.4" width="67.4" height="30.3" fill="#a5c3e9"/>
<text x="1467.6" y="272.6" font-size="23" text-anchor="middle">C</text>
<rect x="1433.9" y="281.8" width="67.4" height="245.8" fill="#e6b9b8"/>
<text x="1467.6" y="412.7" font-size="23" text-anchor="middle">R</text>
<rect x="1433.9" y="528.8" width="67.4" height="26.4" fill="#a5c3e9"/>
<text x="1467.6" y="550" font-size="23" text-anchor="middle">C</text>
<rect x="1433.9" y="557.2" width="67.4" height="42.2" fill="#c4d79e"/>
<text x="1467.6" y="586.3" font-size="23" text-anchor="middle">T</text>
<rect x="1433.9" y="601.5" width="67.4" height="28.7" fill="#a5c3e9"/>
<text x="1467.6" y="623.9" font-size="23" text-anchor="middle">C</text>
<rect x="1433.9" y="632.1" width="67.4" height="110.8" fill="#e6b9b8"/>
<text x="1467.6" y="695.5" font-size="23" text-anchor="middle">R</text>
<line x1="1474.7" y1="756.9" x2="1760.5" y2="756.9" stroke="#000" stroke-width="2"/>
<line x1="1759.6" y1="39.9" x2="1759.6" y2="757.9" stroke="#000" stroke-width="2"/>
<line x1="1502.1" y1="756.9" x2="1502.1" y2="772" stroke="#000" stroke-width="2"/>
<text x="1502.1" y="803" font-size="27" text-anchor="middle">2.0</text>
<line x1="1559.2" y1="756.9" x2="1559.2" y2="772" stroke="#000" stroke-width="2"/>
<text x="1559.2" y="803" font-size="27" text-anchor="middle">2.5</text>
<line x1="1616.4" y1="756.9" x2="1616.4" y2="772" stroke="#000" stroke-width="2"/>
<text x="1616.4" y="803" font-size="27" text-anchor="middle">3.0</text>
<line x1="1673.5" y1="756.9" x2="1673.5" y2="772" stroke="#000" stroke-width="2"/>
<text x="1673.5" y="803" font-size="27" text-anchor="middle">3.5</text>
<line x1="1730.7" y1="756.9" x2="1730.7" y2="772" stroke="#000" stroke-width="2"/>
<text x="1730.7" y="803" font-size="27" text-anchor="middle">4.0</text>
<line x1="1759.6" y1="740.3" x2="1773.5" y2="740.3" stroke="#000" stroke-width="2"/>
<text x="1786" y="749.6" font-size="26.4">0</text>
<line x1="1759.6" y1="657.9" x2="1767" y2="657.9" stroke="#000" stroke-width="2"/>
<line x1="1759.6" y1="575.5" x2="1773.5" y2="575.5" stroke="#000" stroke-width="2"/>
<text x="1786" y="584.8" font-size="26.4">100</text>
<line x1="1759.6" y1="493.1" x2="1767" y2="493.1" stroke="#000" stroke-width="2"/>
<line x1="1759.6" y1="410.7" x2="1773.5" y2="410.7" stroke="#000" stroke-width="2"/>
<text x="1786" y="420" font-size="26.4">200</text>
<line x1="1759.6" y1="328.3" x2="1767" y2="328.3" stroke="#000" stroke-width="2"/>
<line x1="1759.6" y1="245.9" x2="1773.5" y2="245.9" stroke="#000" stroke-width="2"/>
<text x="1786" y="255.2" font-size="26.4">300</text>
<line x1="1759.6" y1="163.5" x2="1767" y2="163.5" stroke="#000" stroke-width="2"/>
<line x1="1759.6" y1="81.1" x2="1773.5" y2="81.1" stroke="#000" stroke-width="2"/>
<text x="1786" y="90.4" font-size="26.4">400</text>
<text x="1616.2" y="839.6" font-size="26.7" text-anchor="middle">Voltage (V)</text>
<text transform="translate(1882.5,396) rotate(-90)" font-size="27" text-anchor="middle">Capacity (mA h g<tspan font-size="16" dy="-10">−1</tspan><tspan dy="10">)</tspan></text>
<line x1="1502" y1="742.1" x2="1621" y2="742.1" stroke="#ee10cc" stroke-width="3" stroke-dasharray="11 7"/>
<line x1="1502" y1="576.4" x2="1724" y2="576.4" stroke="#ee10cc" stroke-width="3" stroke-dasharray="11 7"/>
<line x1="1502" y1="224" x2="1724" y2="224" stroke="#ee10cc" stroke-width="3" stroke-dasharray="11 7"/>
<path d="M1619.7 740.3C1618.5 740.3 1613.4 742.8 1612.3 740.3C1611.2 737.8 1612.5 731 1613.1 725.5C1613.7 720 1614.9 713.8 1616 707C1617.1 700.2 1618.3 692.2 1619.7 684.8C1621.1 677.4 1622.4 670 1624.2 662.6C1626 655.2 1627.8 646 1630.8 640.4C1633.8 634.8 1637.6 632.4 1641.9 629.3C1646.2 626.2 1651.2 624.7 1656.7 621.9C1662.2 619.1 1669 615.2 1675.2 612.7C1681.4 610.2 1688.5 609.3 1693.7 607.1C1699 604.9 1703 602.8 1706.7 599.7C1710.4 596.6 1711.9 592.8 1715.9 588.6C1719.9 584.4 1730.1 577.3 1730.7 574.5C1731.3 571.7 1724.5 574 1719.6 572C1714.7 570 1707.9 565.6 1701.1 562.7C1694.3 559.8 1686.9 557.1 1678.9 554.6C1670.9 552.1 1659.8 550.3 1653 548C1646.2 545.7 1642.2 542.6 1638.2 540.6C1634.2 538.6 1631.5 539.1 1629 536C1626.5 532.9 1625.2 527.4 1623.4 522C1621.6 516.6 1619.8 509.4 1617.9 503.6C1616.1 497.8 1614.2 491.9 1612.3 487C1610.4 482.1 1608.8 478.3 1606.8 474C1604.8 469.7 1601.7 464.7 1600 461C1598.3 457.3 1597.4 457 1596.4 451.8C1595.4 446.6 1594.9 435.8 1593.8 429.6C1592.7 423.4 1591.8 419 1590 414.8C1588.2 410.6 1587.7 406.6 1582.7 404.4C1577.7 402.2 1568.8 402.1 1560 401.5C1551.2 400.9 1539.6 400.7 1530 400.5C1520.4 400.3 1502.5 400.5 1502.5 400.3C1502.5 400.1 1520.4 399.8 1530 399.5C1539.6 399.2 1549.5 399.1 1560 398.8C1570.5 398.5 1585.8 398.6 1593 397.6C1600.2 396.6 1600.2 395.8 1603 393C1605.8 390.2 1607.7 386.8 1609.6 381C1611.5 375.2 1612.9 366.1 1614.5 358C1616.1 349.9 1617.7 340.4 1619.3 332.4C1620.9 324.4 1622.2 316.3 1624.1 309.9C1626 303.5 1627.5 298.6 1630.5 293.8C1633.5 289 1637.8 284.5 1641.8 281C1645.8 277.5 1649.2 275.8 1654.6 272.9C1659.9 269.9 1667.5 266.1 1673.9 263.3C1680.3 260.5 1687.9 258.1 1693.2 255.9C1698.5 253.8 1701.7 254.4 1706 250.4C1710.3 246.4 1714.8 236.9 1719 232C1723.2 227.1 1730.7 222.9 1731.2 220.9C1731.7 218.9 1725.9 221.4 1722.2 220C1718.5 218.6 1714.1 214.7 1709.3 212.2C1704.5 209.7 1698.6 206.8 1693.2 204.8C1687.8 202.8 1682.5 201.6 1677.1 200C1671.7 198.4 1666.4 196.8 1661 195.2C1655.6 193.6 1649.7 192 1644.9 190.4C1640.1 188.8 1635.3 187.4 1632.1 185.5C1628.9 183.6 1627.5 182.5 1625.6 179C1623.7 175.5 1622.5 169.7 1620.9 164.6C1619.3 159.5 1617.7 154.5 1616.1 148.6C1614.5 142.7 1612.8 134.9 1611.2 129.3C1609.6 123.7 1608.3 119.9 1606.4 114.8C1604.5 109.7 1601.9 104.7 1600 98.8C1598.1 92.9 1596.8 85.7 1595.2 79.5C1593.6 73.3 1592.3 66.1 1590.4 61.8C1588.5 57.5 1586.6 55.5 1583.9 53.8C1581.2 52.1 1580.2 52.3 1574.3 51.5C1568.4 50.7 1558.2 49.9 1548.6 48.9C1538.9 47.9 1524 46.5 1516.4 45.7C1508.8 44.9 1505.2 44.4 1502.9 44.1" fill="none" stroke="#0000ff" stroke-width="3.2" stroke-linejoin="round" stroke-linecap="round"/>
<text x="1619.3" y="119" font-size="26.7">2nd</text>
<text x="1619.3" y="150.8" font-size="26.7">discharge</text>
<text x="1638.6" y="318" font-size="26.7">2nd</text>
<text x="1638.6" y="350.3" font-size="26.7">charge</text>
<text x="1622.7" y="471" font-size="26.7">1st</text>
<text x="1622.7" y="502" font-size="26.7">discharge</text>
<text x="1641.2" y="671" font-size="26.7">1st</text>
<text x="1640.8" y="702" font-size="26.7">charge</text>
<defs><radialGradient id="na" cx="0.45" cy="0.42" r="0.62"><stop offset="0" stop-color="#ffe8c8"/><stop offset="0.18" stop-color="#f4a090"/><stop offset="0.7" stop-color="#e87a72"/><stop offset="1" stop-color="#b85a5a"/></radialGradient><radialGradient id="nad" cx="0.45" cy="0.42" r="0.62"><stop offset="0" stop-color="#c89090"/><stop offset="0.5" stop-color="#7a3a6a"/><stop offset="1" stop-color="#4a2a5a"/></radialGradient><radialGradient id="hw" cx="0.75" cy="0.4" r="1.1"><stop offset="0" stop-color="#ffffff"/><stop offset="0.45" stop-color="#f2f2f2"/><stop offset="1" stop-color="#a8a8a8"/></radialGradient><radialGradient id="hs" cx="0.25" cy="0.4" r="1.0"><stop offset="0" stop-color="#ffe0c0"/><stop offset="0.2" stop-color="#f59a8c"/><stop offset="1" stop-color="#c85e5e"/></radialGradient></defs>
<g fill="none" stroke="#cd7070" stroke-width="5.3"><path d="M136.3 932A60 60 0 0 1 192.3 894.5H1630.4A60 60 0 0 1 1690.4 954.5V1181A60 60 0 0 1 1630.4 1241.1H192.3A60 60 0 0 1 132.3 1181.1V954.5A60 60 0 0 1 136.3 932" stroke-dasharray="20.8 16.1" stroke-dashoffset="21.4"/><path d="M132.3 971V954.5A60 60 0 0 1 136.3 932"/></g>
<text x="83" y="913.8" font-size="45" font-weight="bold">d</text>
<circle cx="538.5" cy="1013.6" r="10.8" fill="url(#na)"/>
<circle cx="487.4" cy="1029.8" r="10.8" fill="url(#na)"/>
<circle cx="436.4" cy="1060.2" r="10.8" fill="url(#na)"/>
<circle cx="399.5" cy="1085.2" r="10.8" fill="url(#na)"/>
<path fill="#3c3ca0" fill-opacity="0.55" stroke="#55557a" stroke-width="0.7" stroke-opacity="0.6" d="M451.6 953.9L494 935.4L524 992L480 1012Z"/><path fill="none" stroke="#50507a" stroke-width="0.6" stroke-opacity="0.6" d="M451.6 953.9L491.6 971.5L524 992M494 935.4L487.4 973.3L480 1012"/>
<path fill="#8cd7d7" fill-opacity="0.55" stroke="#6a9a9a" stroke-width="0.7" stroke-opacity="0.7" d="M394.1 971.2L435.4 951.7L461.4 997.3L420.2 1017.9Z"/><path fill="none" stroke="#5f8f8f" stroke-width="0.6" stroke-opacity="0.6" d="M394.1 971.2L431.9 982.6L461.4 997.3M435.4 951.7L427.8 984.5L420.2 1017.9"/>
<path fill="#8cd7d7" fill-opacity="0.55" stroke="#6a9a9a" stroke-width="0.7" stroke-opacity="0.7" d="M529.8 975.6L569.9 956L596 1001.6L556.9 1023.3Z"/><path fill="none" stroke="#5f8f8f" stroke-width="0.6" stroke-opacity="0.6" d="M529.8 975.6L567.2 987.2L596 1001.6M569.9 956L563.1 989.1L556.9 1023.3"/>
<path fill="#3c3ca0" fill-opacity="0.55" stroke="#55557a" stroke-width="0.7" stroke-opacity="0.6" d="M576.4 958.2L617.7 938.7L645.9 988.6L604.7 1009.2Z"/><path fill="none" stroke="#50507a" stroke-width="0.6" stroke-opacity="0.6" d="M576.4 958.2L615.3 971.7L645.9 988.6M617.7 938.7L611.2 973.7L604.7 1009.2"/>
<path fill="#3c3ca0" fill-opacity="0.55" stroke="#55557a" stroke-width="0.7" stroke-opacity="0.6" d="M314.9 984.3L368.1 961.5L399.5 1019L346.4 1045Z"/><path fill="none" stroke="#50507a" stroke-width="0.6" stroke-opacity="0.6" d="M314.9 984.3L362.5 1000.2L399.5 1019M368.1 961.5L357.2 1002.5L346.4 1045"/>
<path fill="#3c3ca0" fill-opacity="0.55" stroke="#55557a" stroke-width="0.7" stroke-opacity="0.6" d="M467 985L510 966.9L550.4 1036.4L504.8 1058Z"/><path fill="none" stroke="#50507a" stroke-width="0.6" stroke-opacity="0.6" d="M467 985L512.4 1009.8L550.4 1036.4M510 966.9L508.1 1011.6L504.8 1058"/>
<path fill="#3c3ca0" fill-opacity="0.55" stroke="#55557a" stroke-width="0.7" stroke-opacity="0.6" d="M478.8 971.2L522.2 966.9L540 1020L496 1040Z"/>
<path fill="#8cd7d7" fill-opacity="0.55" stroke="#6a9a9a" stroke-width="0.7" stroke-opacity="0.7" d="M416.9 1027.7L457 1008.1L499.4 1060.2L457 1079.8Z"/><path fill="none" stroke="#5f8f8f" stroke-width="0.6" stroke-opacity="0.6" d="M416.9 1027.7L461.6 1042L499.4 1060.2M457 1008.1L457.6 1044L457 1079.8"/>
<path fill="#8cd7d7" fill-opacity="0.55" stroke="#6a9a9a" stroke-width="0.7" stroke-opacity="0.7" d="M437 1036L470 1020L490 1062L458 1077Z"/>
<path fill="#3c3ca0" fill-opacity="0.55" stroke="#55557a" stroke-width="0.7" stroke-opacity="0.6" d="M368 1055.9L413.6 1034.2L457 1090.6L405 1110.2Z"/><path fill="none" stroke="#50507a" stroke-width="0.6" stroke-opacity="0.6" d="M368 1055.9L415.5 1070.6L457 1090.6M413.6 1034.2L410.9 1072.7L405 1110.2"/>
<path fill="#3c3ca0" fill-opacity="0.55" stroke="#55557a" stroke-width="0.7" stroke-opacity="0.6" d="M393 1060L428 1043L445 1090L412 1110Z"/>
<path fill="#3c3ca0" fill-opacity="0.55" stroke="#55557a" stroke-width="0.7" stroke-opacity="0.6" d="M513.5 1066.7L552.6 1047.2L581.9 1097.1L540.6 1117.8Z"/><path fill="none" stroke="#50507a" stroke-width="0.6" stroke-opacity="0.6" d="M513.5 1066.7L551.1 1080.2L581.9 1097.1M552.6 1047.2L547.1 1082.2L540.6 1117.8"/>
<path fill="#8cd7d7" fill-opacity="0.55" stroke="#6a9a9a" stroke-width="0.7" stroke-opacity="0.7" d="M331.2 1087.4L372.4 1067.8L396.3 1110.2L357.2 1131.9Z"/><path fill="none" stroke="#5f8f8f" stroke-width="0.6" stroke-opacity="0.6" d="M331.2 1087.4L368.4 1097.4L396.3 1110.2M372.4 1067.8L364.3 1099.3L357.2 1131.9"/>
<path fill="#8cd7d7" fill-opacity="0.55" stroke="#6a9a9a" stroke-width="0.7" stroke-opacity="0.7" d="M461.4 1095L502.6 1074.3L527.6 1119.9L487.4 1141.6Z"/><path fill="none" stroke="#5f8f8f" stroke-width="0.6" stroke-opacity="0.6" d="M461.4 1095L498.9 1105.6L527.6 1119.9M502.6 1074.3L494.8 1107.7L487.4 1141.6"/>
<path fill="#3c3ca0" fill-opacity="0.55" stroke="#55557a" stroke-width="0.7" stroke-opacity="0.6" d="M247.6 1112.3L300.8 1087.4L331.2 1144.9L279.1 1171Z"/><path fill="none" stroke="#50507a" stroke-width="0.6" stroke-opacity="0.6" d="M247.6 1112.3L295 1126.4L331.2 1144.9M300.8 1087.4L289.7 1128.9L279.1 1171"/>
<path fill="#3c3ca0" fill-opacity="0.55" stroke="#55557a" stroke-width="0.7" stroke-opacity="0.6" d="M389.8 1123.2L435.4 1097.1L472.3 1155.7L421.2 1182.9Z"/><path fill="none" stroke="#50507a" stroke-width="0.6" stroke-opacity="0.6" d="M389.8 1123.2L434.2 1137.1L472.3 1155.7M435.4 1097.1L429.7 1139.7L421.2 1182.9"/>
<path fill="none" stroke="#e8101e" stroke-width="1.9" stroke-linejoin="round" d="M289.9 1128.6L431 1139.5L548.2 1081.9L428.8 1074.3L289.9 1128.6L357.2 1002.7L503.7 1009.2L611.2 974.5L486.4 969.1L357.2 1002.7M431 1139.5L503.7 1009.2M548.2 1081.9L611.2 974.5M428.8 1074.3L486.4 969.1"/>
<circle cx="392" cy="993" r="10.8" fill="url(#na)"/>
<circle cx="460.3" cy="975.6" r="10.8" fill="url(#na)"/>
<circle cx="590.6" cy="979.9" r="10.8" fill="url(#na)"/>
<circle cx="534.1" cy="998.4" r="10.8" fill="url(#na)"/>
<circle cx="373.5" cy="1084.1" r="10.8" fill="url(#na)"/>
<circle cx="326.8" cy="1114.5" r="10.8" fill="url(#na)"/>
<circle cx="461.4" cy="1123.2" r="10.8" fill="url(#na)"/>
<circle cx="524.3" cy="1093.9" r="10.8" fill="url(#na)"/>
<text x="396.5" y="1214.4" font-size="27.3" text-anchor="middle">Rhombohedral</text>
<line x1="201.4" y1="1150.4" x2="174.4" y2="1148.9" stroke="#d01010" stroke-width="3"/><path fill="#d01010" d="M166 1148.4L174.7 1144L174.2 1153.7Z"/><line x1="201.4" y1="1150.4" x2="213.6" y2="1127" stroke="#20d820" stroke-width="3"/><path fill="#20d820" d="M217.5 1119.5L217.9 1129.2L209.3 1124.7Z"/><line x1="201.4" y1="1150.4" x2="212.9" y2="1146.9" stroke="#1010e0" stroke-width="3"/><path fill="#1010e0" d="M221 1144.5L214.3 1151.6L211.5 1142.3Z"/><circle cx="201.4" cy="1150.4" r="3.6" fill="#e4e4e4" stroke="#9a9a9a" stroke-width="0.8"/><text x="152.5" y="1152.8" font-size="20.5">a</text><text x="217" y="1117.5" font-size="20.5">b</text><text x="224" y="1147" font-size="20.5">c</text>
<path fill="#3c3ca0" fill-opacity="0.55" stroke="#55557a" stroke-width="0.7" stroke-opacity="0.6" d="M861.7 977.5L889.7 946.5L917.7 977.5L889.7 1008.5Z"/><path fill="none" stroke="#50507a" stroke-width="0.6" stroke-opacity="0.55" d="M889.7 946.5L886.9 978.7L889.7 1008.5M861.7 977.5L893.9 976.6L917.7 977.5"/>
<path fill="#3c3ca0" fill-opacity="0.55" stroke="#55557a" stroke-width="0.7" stroke-opacity="0.6" d="M927.9 963.4L955.9 932.4L983.9 963.4L955.9 994.4Z"/><path fill="none" stroke="#50507a" stroke-width="0.6" stroke-opacity="0.55" d="M955.9 932.4L953.1 964.6L955.9 994.4M927.9 963.4L960.1 962.5L983.9 963.4"/>
<path fill="#3c3ca0" fill-opacity="0.55" stroke="#55557a" stroke-width="0.7" stroke-opacity="0.6" d="M970.3 970L998.3 939L1026.3 970L998.3 1001Z"/><path fill="none" stroke="#50507a" stroke-width="0.6" stroke-opacity="0.55" d="M998.3 939L995.5 971.2L998.3 1001M970.3 970L1002.5 969.1L1026.3 970"/>
<path fill="#3c3ca0" fill-opacity="0.55" stroke="#55557a" stroke-width="0.7" stroke-opacity="0.6" d="M1017 968L1045 937L1073 968L1045 999Z"/><path fill="none" stroke="#50507a" stroke-width="0.6" stroke-opacity="0.55" d="M1045 937L1042.2 969.2L1045 999M1017 968L1049.2 967.1L1073 968"/>
<path fill="#3c3ca0" fill-opacity="0.55" stroke="#55557a" stroke-width="0.7" stroke-opacity="0.6" d="M1072.3 961.2L1100.3 930.2L1128.3 961.2L1100.3 992.2Z"/><path fill="none" stroke="#50507a" stroke-width="0.6" stroke-opacity="0.55" d="M1100.3 930.2L1097.5 962.4L1100.3 992.2M1072.3 961.2L1104.5 960.3L1128.3 961.2"/>
<path fill="#3c3ca0" fill-opacity="0.55" stroke="#55557a" stroke-width="0.7" stroke-opacity="0.6" d="M899.7 1045.9L927.7 1014.9L955.7 1045.9L927.7 1076.9Z"/><path fill="none" stroke="#50507a" stroke-width="0.6" stroke-opacity="0.55" d="M927.7 1014.9L924.9 1047.1L927.7 1076.9M899.7 1045.9L931.9 1045L955.7 1045.9"/>
<path fill="#3c3ca0" fill-opacity="0.55" stroke="#55557a" stroke-width="0.7" stroke-opacity="0.6" d="M938 1052L966 1021L994 1052L966 1083Z"/><path fill="none" stroke="#50507a" stroke-width="0.6" stroke-opacity="0.55" d="M966 1021L963.2 1053.2L966 1083M938 1052L970.2 1051.1L994 1052"/>
<path fill="#3c3ca0" fill-opacity="0.55" stroke="#55557a" stroke-width="0.7" stroke-opacity="0.6" d="M992 1060L1020 1029L1048 1060L1020 1091Z"/><path fill="none" stroke="#50507a" stroke-width="0.6" stroke-opacity="0.55" d="M1020 1029L1017.2 1061.2L1020 1091M992 1060L1024.2 1059.1L1048 1060"/>
<path fill="#3c3ca0" fill-opacity="0.55" stroke="#55557a" stroke-width="0.7" stroke-opacity="0.6" d="M1050 1050L1078 1019L1106 1050L1078 1081Z"/><path fill="none" stroke="#50507a" stroke-width="0.6" stroke-opacity="0.55" d="M1078 1019L1075.2 1051.2L1078 1081M1050 1050L1082.2 1049.1L1106 1050"/>
<path fill="#3c3ca0" fill-opacity="0.55" stroke="#55557a" stroke-width="0.7" stroke-opacity="0.6" d="M872.6 1137L900.6 1106L928.6 1137L900.6 1168Z"/><path fill="none" stroke="#50507a" stroke-width="0.6" stroke-opacity="0.55" d="M900.6 1106L897.8 1138.2L900.6 1168M872.6 1137L904.8 1136.1L928.6 1137"/>
<path fill="#3c3ca0" fill-opacity="0.55" stroke="#55557a" stroke-width="0.7" stroke-opacity="0.6" d="M972 1128L1000 1097L1028 1128L1000 1159Z"/><path fill="none" stroke="#50507a" stroke-width="0.6" stroke-opacity="0.55" d="M1000 1097L997.2 1129.2L1000 1159M972 1128L1004.2 1127.1L1028 1128"/>
<path fill="#3c3ca0" fill-opacity="0.55" stroke="#55557a" stroke-width="0.7" stroke-opacity="0.6" d="M1026.7 1145.7L1054.7 1114.7L1082.7 1145.7L1054.7 1176.7Z"/><path fill="none" stroke="#50507a" stroke-width="0.6" stroke-opacity="0.55" d="M1054.7 1114.7L1051.9 1146.9L1054.7 1176.7M1026.7 1145.7L1058.9 1144.8L1082.7 1145.7"/>
<path fill="#3c3ca0" fill-opacity="0.55" stroke="#55557a" stroke-width="0.7" stroke-opacity="0.6" d="M1074.5 1111L1102.5 1080L1130.5 1111L1102.5 1142Z"/><path fill="none" stroke="#50507a" stroke-width="0.6" stroke-opacity="0.55" d="M1102.5 1080L1099.7 1112.2L1102.5 1142M1074.5 1111L1106.7 1110.1L1130.5 1111"/>
<path fill="#3c3ca0" fill-opacity="0.55" stroke="#55557a" stroke-width="0.7" stroke-opacity="0.6" d="M922 1128L950 1097L978 1128L950 1159Z"/><path fill="none" stroke="#50507a" stroke-width="0.6" stroke-opacity="0.55" d="M950 1097L947.2 1129.2L950 1159M922 1128L954.2 1127.1L978 1128"/>
<path fill="none" stroke="#e8101e" stroke-width="1.7" d="M892.3 978.6L1049.7 978.6L1054 1147.9L898.8 1138.1L892.3 978.6M959.6 961.2L1101.8 961.2L1102.9 1112.1L962.9 1106.7L959.6 961.2M892.3 978.6L959.6 961.2M1049.7 978.6L1101.8 961.2M1054 1147.9L1102.9 1112.1M898.8 1138.1L962.9 1106.7"/>
<path fill="url(#hw)" d="M1051.4 995.5A9.2 9.2 0 0 0 1051.4 1013.9Z"/><path fill="url(#hs)" d="M1051.4 995.5A9.2 9.2 0 0 1 1051.4 1013.9Z"/><circle cx="1051.4" cy="1004.7" r="9.2" fill="#4a4a9a" fill-opacity="0.55"/>
<path fill="url(#hw)" d="M982 1068.2A9.2 9.2 0 0 0 982 1086.6Z"/><path fill="url(#hs)" d="M982 1068.2A9.2 9.2 0 0 1 982 1086.6Z"/><circle cx="982" cy="1077.4" r="9.2" fill="#4a4a9a" fill-opacity="0.55"/>
<path fill="#85c4c4" fill-opacity="0.93" d="M896.8 968.8L924.5 937.3L927.8 970.4Z"/><path fill="#a9e5e5" fill-opacity="0.93" d="M924.5 937.3L952.2 968.8L927.8 970.4Z"/><path fill="#79b5b5" fill-opacity="0.93" d="M896.8 968.8L927.8 970.4L924.5 1000.3Z"/><path fill="#9ad8d8" fill-opacity="0.93" d="M927.8 970.4L952.2 968.8L924.5 1000.3Z"/><path fill="none" stroke="#5e9494" stroke-width="0.6" d="M896.8 968.8L924.5 937.3L952.2 968.8L924.5 1000.3Z"/>
<path fill="#85c4c4" fill-opacity="0.93" d="M1000.5 963.4L1026.5 930.4L1029.6 965Z"/><path fill="#a9e5e5" fill-opacity="0.93" d="M1026.5 930.4L1052.5 963.4L1029.6 965Z"/><path fill="#79b5b5" fill-opacity="0.93" d="M1000.5 963.4L1029.6 965L1026.5 996.4Z"/><path fill="#9ad8d8" fill-opacity="0.93" d="M1029.6 965L1052.5 963.4L1026.5 996.4Z"/><path fill="none" stroke="#5e9494" stroke-width="0.6" d="M1000.5 963.4L1026.5 930.4L1052.5 963.4L1026.5 996.4Z"/>
<path fill="#85c4c4" fill-opacity="0.93" d="M935.9 978.6L967.9 943.9L971.7 980.3Z"/><path fill="#a9e5e5" fill-opacity="0.93" d="M967.9 943.9L999.9 978.6L971.7 980.3Z"/><path fill="#79b5b5" fill-opacity="0.93" d="M935.9 978.6L971.7 980.3L967.9 1013.3Z"/><path fill="#9ad8d8" fill-opacity="0.93" d="M971.7 980.3L999.9 978.6L967.9 1013.3Z"/><path fill="none" stroke="#5e9494" stroke-width="0.6" d="M935.9 978.6L967.9 943.9L999.9 978.6L967.9 1013.3Z"/>
<path fill="#85c4c4" fill-opacity="0.93" d="M1043.3 969.9L1075.3 936.3L1079.1 971.6Z"/><path fill="#a9e5e5" fill-opacity="0.93" d="M1075.3 936.3L1107.3 969.9L1079.1 971.6Z"/><path fill="#79b5b5" fill-opacity="0.93" d="M1043.3 969.9L1079.1 971.6L1075.3 1003.5Z"/><path fill="#9ad8d8" fill-opacity="0.93" d="M1079.1 971.6L1107.3 969.9L1075.3 1003.5Z"/><path fill="none" stroke="#5e9494" stroke-width="0.6" d="M1043.3 969.9L1075.3 936.3L1107.3 969.9L1075.3 1003.5Z"/>
<path fill="#85c4c4" fill-opacity="0.93" d="M864.8 1058.9L895.2 1026.9L898.8 1060.5Z"/><path fill="#a9e5e5" fill-opacity="0.93" d="M895.2 1026.9L925.6 1058.9L898.8 1060.5Z"/><path fill="#79b5b5" fill-opacity="0.93" d="M864.8 1058.9L898.8 1060.5L895.2 1090.9Z"/><path fill="#9ad8d8" fill-opacity="0.93" d="M898.8 1060.5L925.6 1058.9L895.2 1090.9Z"/><path fill="none" stroke="#5e9494" stroke-width="0.6" d="M864.8 1058.9L895.2 1026.9L925.6 1058.9L895.2 1090.9Z"/>
<path fill="#85c4c4" fill-opacity="0.93" d="M976 1048.1L1004.8 1016.1L1008.3 1049.7Z"/><path fill="#a9e5e5" fill-opacity="0.93" d="M1004.8 1016.1L1033.6 1048.1L1008.3 1049.7Z"/><path fill="#79b5b5" fill-opacity="0.93" d="M976 1048.1L1008.3 1049.7L1004.8 1080.1Z"/><path fill="#9ad8d8" fill-opacity="0.93" d="M1008.3 1049.7L1033.6 1048.1L1004.8 1080.1Z"/><path fill="none" stroke="#5e9494" stroke-width="0.6" d="M976 1048.1L1004.8 1016.1L1033.6 1048.1L1004.8 1080.1Z"/>
<path fill="#85c4c4" fill-opacity="0.93" d="M1071.5 1038.3L1102.5 1006.8L1106.2 1039.9Z"/><path fill="#a9e5e5" fill-opacity="0.93" d="M1102.5 1006.8L1133.5 1038.3L1106.2 1039.9Z"/><path fill="#79b5b5" fill-opacity="0.93" d="M1071.5 1038.3L1106.2 1039.9L1102.5 1069.8Z"/><path fill="#9ad8d8" fill-opacity="0.93" d="M1106.2 1039.9L1133.5 1038.3L1102.5 1069.8Z"/><path fill="none" stroke="#5e9494" stroke-width="0.6" d="M1071.5 1038.3L1102.5 1006.8L1133.5 1038.3L1102.5 1069.8Z"/>
<path fill="#85c4c4" fill-opacity="0.93" d="M1018.4 1063.3L1051.4 1029.7L1055.4 1065Z"/><path fill="#a9e5e5" fill-opacity="0.93" d="M1051.4 1029.7L1084.4 1063.3L1055.4 1065Z"/><path fill="#79b5b5" fill-opacity="0.93" d="M1018.4 1063.3L1055.4 1065L1051.4 1096.9Z"/><path fill="#9ad8d8" fill-opacity="0.93" d="M1055.4 1065L1084.4 1063.3L1051.4 1096.9Z"/><path fill="none" stroke="#5e9494" stroke-width="0.6" d="M1018.4 1063.3L1051.4 1029.7L1084.4 1063.3L1051.4 1096.9Z"/>
<path fill="#85c4c4" fill-opacity="0.93" d="M903.3 1121.9L932.1 1090.9L935.6 1123.5Z"/><path fill="#a9e5e5" fill-opacity="0.93" d="M932.1 1090.9L960.9 1121.9L935.6 1123.5Z"/><path fill="#79b5b5" fill-opacity="0.93" d="M903.3 1121.9L935.6 1123.5L932.1 1152.9Z"/><path fill="#9ad8d8" fill-opacity="0.93" d="M935.6 1123.5L960.9 1121.9L932.1 1152.9Z"/><path fill="none" stroke="#5e9494" stroke-width="0.6" d="M903.3 1121.9L932.1 1090.9L960.9 1121.9L932.1 1152.9Z"/>
<path fill="#85c4c4" fill-opacity="0.93" d="M1008.2 1108.8L1035.2 1078.8L1038.4 1110.3Z"/><path fill="#a9e5e5" fill-opacity="0.93" d="M1035.2 1078.8L1062.2 1108.8L1038.4 1110.3Z"/><path fill="#79b5b5" fill-opacity="0.93" d="M1008.2 1108.8L1038.4 1110.3L1035.2 1138.8Z"/><path fill="#9ad8d8" fill-opacity="0.93" d="M1038.4 1110.3L1062.2 1108.8L1035.2 1138.8Z"/><path fill="none" stroke="#5e9494" stroke-width="0.6" d="M1008.2 1108.8L1035.2 1078.8L1062.2 1108.8L1035.2 1138.8Z"/>
<path fill="#85c4c4" fill-opacity="0.93" d="M1048.8 1128.4L1078.6 1096.4L1082.2 1130Z"/><path fill="#a9e5e5" fill-opacity="0.93" d="M1078.6 1096.4L1108.4 1128.4L1082.2 1130Z"/><path fill="#79b5b5" fill-opacity="0.93" d="M1048.8 1128.4L1082.2 1130L1078.6 1160.4Z"/><path fill="#9ad8d8" fill-opacity="0.93" d="M1082.2 1130L1108.4 1128.4L1078.6 1160.4Z"/><path fill="none" stroke="#5e9494" stroke-width="0.6" d="M1048.8 1128.4L1078.6 1096.4L1108.4 1128.4L1078.6 1160.4Z"/>
<path fill="#85c4c4" fill-opacity="0.93" d="M944 1143.6L975.5 1110L979.3 1145.3Z"/><path fill="#a9e5e5" fill-opacity="0.93" d="M975.5 1110L1007 1143.6L979.3 1145.3Z"/><path fill="#79b5b5" fill-opacity="0.93" d="M944 1143.6L979.3 1145.3L975.5 1177.2Z"/><path fill="#9ad8d8" fill-opacity="0.93" d="M979.3 1145.3L1007 1143.6L975.5 1177.2Z"/><path fill="none" stroke="#5e9494" stroke-width="0.6" d="M944 1143.6L975.5 1110L1007 1143.6L975.5 1177.2Z"/>
<path fill="#28509a" fill-opacity="0.6" d="M898 975L906 968L925 990L916 997Z"/>
<path fill="#28509a" fill-opacity="0.6" d="M1000 955L1010 948L1040 985L1030 992Z"/>
<path fill="#28509a" fill-opacity="0.6" d="M1040 960L1050 952L1075 985L1065 992Z"/>
<path fill="#28509a" fill-opacity="0.6" d="M933 1033L941 1026L965 1055L957 1062Z"/>
<path fill="#28509a" fill-opacity="0.6" d="M972 1045L980 1038L1000 1062L992 1069Z"/>
<path fill="#28509a" fill-opacity="0.6" d="M1073 1030L1081 1023L1105 1050L1097 1057Z"/>
<path fill="#28509a" fill-opacity="0.6" d="M905 1118L913 1111L935 1140L927 1147Z"/>
<path fill="#28509a" fill-opacity="0.6" d="M1004 1107L1012 1100L1033 1125L1025 1132Z"/>
<path fill="#28509a" fill-opacity="0.6" d="M1050 1120L1058 1113L1083 1150L1075 1157Z"/>
<path fill="url(#hw)" d="M948.3 1005.2A9.2 9.2 0 0 0 948.3 1023.6Z"/><path fill="url(#hs)" d="M948.3 1005.2A9.2 9.2 0 0 1 948.3 1023.6Z"/>
<path fill="url(#hw)" d="M979.8 994.4A9.2 9.2 0 0 0 979.8 1012.8Z"/><path fill="url(#hs)" d="M979.8 994.4A9.2 9.2 0 0 1 979.8 1012.8Z"/>
<path fill="url(#hw)" d="M1024.3 1006.3A9.2 9.2 0 0 0 1024.3 1024.7Z"/><path fill="url(#hs)" d="M1024.3 1006.3A9.2 9.2 0 0 1 1024.3 1024.7Z"/>
<path fill="url(#hw)" d="M951.6 1083.4A9.2 9.2 0 0 0 951.6 1101.8Z"/><path fill="url(#hs)" d="M951.6 1083.4A9.2 9.2 0 0 1 951.6 1101.8Z"/>
<path fill="url(#hw)" d="M1026.5 1086.6A9.2 9.2 0 0 0 1026.5 1105Z"/><path fill="url(#hs)" d="M1026.5 1086.6A9.2 9.2 0 0 1 1026.5 1105Z"/>
<text x="986" y="1214.4" font-size="27.3" text-anchor="middle">Cubic</text>
<line x1="819.4" y1="1143.9" x2="811.3" y2="1147.4" stroke="#d01010" stroke-width="3"/><path fill="#d01010" d="M803.5 1150.8L809.3 1143L813.2 1151.9Z"/><line x1="819.4" y1="1143.9" x2="819.4" y2="1122" stroke="#1010e0" stroke-width="3"/><path fill="#1010e0" d="M819.4 1113.5L824.3 1122L814.5 1122Z"/><line x1="819.4" y1="1143.9" x2="840" y2="1143.9" stroke="#20d820" stroke-width="3"/><path fill="#20d820" d="M848.5 1143.9L840 1148.8L840 1139Z"/><circle cx="819.4" cy="1143.9" r="3.6" fill="#e4e4e4" stroke="#9a9a9a" stroke-width="0.8"/><text x="787.5" y="1160.5" font-size="20.5">a</text><text x="811.5" y="1108.5" font-size="20.5">b</text><text x="852.5" y="1151" font-size="20.5">c</text>
<path fill="#8cd7d7" fill-opacity="0.55" stroke="#6a9a9a" stroke-width="0.7" stroke-opacity="0.7" d="M1493.3 960.6L1516.1 923.2L1538.9 960.6L1516.1 998Z"/><path fill="none" stroke="#5f8f8f" stroke-width="0.6" stroke-opacity="0.55" d="M1516.1 923.2L1513.8 962.1L1516.1 998M1493.3 960.6L1519.5 959.5L1538.9 960.6"/>
<path fill="#3c3ca0" fill-opacity="0.55" stroke="#55557a" stroke-width="0.7" stroke-opacity="0.6" d="M1408.7 963.8L1433.6 929.6L1458.5 963.8L1433.6 998Z"/><path fill="none" stroke="#50507a" stroke-width="0.6" stroke-opacity="0.55" d="M1433.6 929.6L1431.1 965.2L1433.6 998M1408.7 963.8L1437.3 962.8L1458.5 963.8"/>
<path fill="#3c3ca0" fill-opacity="0.55" stroke="#55557a" stroke-width="0.7" stroke-opacity="0.6" d="M1475.9 954.1L1498.7 922.1L1521.5 954.1L1498.7 986.1Z"/><path fill="none" stroke="#50507a" stroke-width="0.6" stroke-opacity="0.55" d="M1498.7 922.1L1496.4 955.4L1498.7 986.1M1475.9 954.1L1502.1 953.1L1521.5 954.1"/>
<path fill="#3c3ca0" fill-opacity="0.55" stroke="#55557a" stroke-width="0.7" stroke-opacity="0.6" d="M1507.9 969.2L1534.5 933.4L1561.1 969.2L1534.5 1005Z"/><path fill="none" stroke="#50507a" stroke-width="0.6" stroke-opacity="0.55" d="M1534.5 933.4L1531.8 970.6L1534.5 1005M1507.9 969.2L1538.5 968.1L1561.1 969.2"/>
<path fill="#3c3ca0" fill-opacity="0.55" stroke="#55557a" stroke-width="0.7" stroke-opacity="0.6" d="M1572 958.4L1595.3 925.3L1618.6 958.4L1595.3 991.5Z"/><path fill="none" stroke="#50507a" stroke-width="0.6" stroke-opacity="0.55" d="M1595.3 925.3L1593 959.7L1595.3 991.5M1572 958.4L1598.8 957.4L1618.6 958.4"/>
<path fill="#8cd7d7" fill-opacity="0.55" stroke="#6a9a9a" stroke-width="0.7" stroke-opacity="0.7" d="M1411.4 1047.3L1435.8 1011.5L1460.2 1047.3L1435.8 1083.1Z"/><path fill="none" stroke="#5f8f8f" stroke-width="0.6" stroke-opacity="0.55" d="M1435.8 1011.5L1433.4 1048.7L1435.8 1083.1M1411.4 1047.3L1439.5 1046.2L1460.2 1047.3"/>
<path fill="#8cd7d7" fill-opacity="0.55" stroke="#6a9a9a" stroke-width="0.7" stroke-opacity="0.7" d="M1477.6 1033.2L1499.8 999L1522 1033.2L1499.8 1067.4Z"/><path fill="none" stroke="#5f8f8f" stroke-width="0.6" stroke-opacity="0.55" d="M1499.8 999L1497.6 1034.6L1499.8 1067.4M1477.6 1033.2L1503.1 1032.2L1522 1033.2"/>
<path fill="#3c3ca0" fill-opacity="0.55" stroke="#55557a" stroke-width="0.7" stroke-opacity="0.6" d="M1492.2 1045.2L1517.2 1012.1L1542.2 1045.2L1517.2 1078.3Z"/><path fill="none" stroke="#50507a" stroke-width="0.6" stroke-opacity="0.55" d="M1517.2 1012.1L1514.7 1046.5L1517.2 1078.3M1492.2 1045.2L1521 1044.2L1542.2 1045.2"/>
<path fill="#8cd7d7" fill-opacity="0.55" stroke="#6a9a9a" stroke-width="0.7" stroke-opacity="0.7" d="M1511.2 1057.1L1535.6 1020.2L1560 1057.1L1535.6 1094Z"/><path fill="none" stroke="#5f8f8f" stroke-width="0.6" stroke-opacity="0.55" d="M1535.6 1020.2L1533.2 1058.6L1535.6 1094M1511.2 1057.1L1539.3 1056L1560 1057.1"/>
<path fill="#8cd7d7" fill-opacity="0.55" stroke="#6a9a9a" stroke-width="0.7" stroke-opacity="0.7" d="M1572.5 1041.9L1595.3 1006.6L1618.1 1041.9L1595.3 1077.2Z"/><path fill="none" stroke="#5f8f8f" stroke-width="0.6" stroke-opacity="0.55" d="M1595.3 1006.6L1593 1043.3L1595.3 1077.2M1572.5 1041.9L1598.7 1040.8L1618.1 1041.9"/>
<path fill="#3c3ca0" fill-opacity="0.55" stroke="#55557a" stroke-width="0.7" stroke-opacity="0.6" d="M1477.6 1108.1L1500.9 1079.9L1524.2 1108.1L1500.9 1136.3Z"/><path fill="none" stroke="#50507a" stroke-width="0.6" stroke-opacity="0.55" d="M1500.9 1079.9L1498.6 1109.2L1500.9 1136.3M1477.6 1108.1L1504.4 1107.3L1524.2 1108.1"/>
<path fill="#8cd7d7" fill-opacity="0.55" stroke="#6a9a9a" stroke-width="0.7" stroke-opacity="0.7" d="M1495.5 1125.5L1517.2 1090.2L1538.9 1125.5L1517.2 1160.8Z"/><path fill="none" stroke="#5f8f8f" stroke-width="0.6" stroke-opacity="0.55" d="M1517.2 1090.2L1515 1126.9L1517.2 1160.8M1495.5 1125.5L1520.5 1124.4L1538.9 1125.5"/>
<path fill="#3c3ca0" fill-opacity="0.55" stroke="#55557a" stroke-width="0.7" stroke-opacity="0.6" d="M1413 1132L1438 1099.5L1463 1132L1438 1164.5Z"/><path fill="none" stroke="#50507a" stroke-width="0.6" stroke-opacity="0.55" d="M1438 1099.5L1435.5 1133.3L1438 1164.5M1413 1132L1441.8 1131L1463 1132"/>
<path fill="#3c3ca0" fill-opacity="0.55" stroke="#55557a" stroke-width="0.7" stroke-opacity="0.6" d="M1510.1 1145L1535.6 1111.9L1561.1 1145L1535.6 1178.1Z"/><path fill="none" stroke="#50507a" stroke-width="0.6" stroke-opacity="0.55" d="M1535.6 1111.9L1533 1146.3L1535.6 1178.1M1510.1 1145L1539.4 1144L1561.1 1145"/>
<path fill="#3c3ca0" fill-opacity="0.55" stroke="#55557a" stroke-width="0.7" stroke-opacity="0.6" d="M1572.5 1121.1L1595.3 1089.1L1618.1 1121.1L1595.3 1153.1Z"/><path fill="none" stroke="#50507a" stroke-width="0.6" stroke-opacity="0.55" d="M1595.3 1089.1L1593 1122.4L1595.3 1153.1M1572.5 1121.1L1598.7 1120.1L1618.1 1121.1"/>
<path fill="none" stroke="#e8101e" stroke-width="1.7" d="M1434.7 963.8L1535.6 969.2L1535.6 1145L1438 1130.9L1434.7 963.8M1499.8 954.1L1595.3 959.5L1594.2 1121.1L1500.9 1109.2L1499.8 954.1M1434.7 963.8L1499.8 954.1M1535.6 969.2L1595.3 959.5M1535.6 1145L1594.2 1121.1M1438 1130.9L1500.9 1109.2"/>
<text x="1509.8" y="1214" font-size="27.3" text-anchor="middle">Tetragonal</text>
<line x1="1361.2" y1="1141.6" x2="1350.3" y2="1146.1" stroke="#d01010" stroke-width="3"/><path fill="#d01010" d="M1342.5 1149.3L1348.5 1141.6L1352.2 1150.6Z"/><line x1="1361.2" y1="1141.6" x2="1361.2" y2="1122" stroke="#1010e0" stroke-width="3"/><path fill="#1010e0" d="M1361.2 1113.5L1366.1 1122L1356.3 1122Z"/><line x1="1361.2" y1="1141.6" x2="1378.1" y2="1143.3" stroke="#20d820" stroke-width="3"/><path fill="#20d820" d="M1386.5 1144.2L1377.6 1148.2L1378.6 1138.5Z"/><circle cx="1361.2" cy="1141.6" r="3.6" fill="#e4e4e4" stroke="#9a9a9a" stroke-width="0.8"/><text x="1324.5" y="1158.5" font-size="20.5">a</text><text x="1354" y="1107" font-size="20.5">b</text><text x="1391" y="1152" font-size="20.5">c</text>
<text x="697" y="1036.5" font-size="27">– Na<tspan font-size="18.5" dy="-12">+</tspan></text><line x1="660.2" y1="1050.5" x2="788" y2="1050.5" stroke="#000" stroke-width="3.2"/><path d="M786 1041.7L804.5 1050.5L786 1059.3Z"/><line x1="666" y1="1077.2" x2="794.8" y2="1077.2" stroke="#000" stroke-width="3.2"/><path d="M668 1068.4L651 1077.2L668 1086Z"/><text x="688.2" y="1110.7" font-size="27">+ Na<tspan font-size="18.5" dy="-12">+</tspan></text>
<text x="1221" y="1039" font-size="27">– Na<tspan font-size="18.5" dy="-12">+</tspan></text><line x1="1190.7" y1="1050.4" x2="1319" y2="1050.4" stroke="#000" stroke-width="3.2"/><path d="M1317 1041.6L1334.5 1050.4L1317 1059.2Z"/><line x1="1196.7" y1="1077.3" x2="1325" y2="1077.3" stroke="#000" stroke-width="3.2"/><path d="M1198.7 1068.5L1181.7 1077.3L1198.7 1086.1Z"/><text x="1218.8" y="1106.9" font-size="27">+ Na<tspan font-size="18.5" dy="-12">+</tspan></text>
</svg>
</body></html>
